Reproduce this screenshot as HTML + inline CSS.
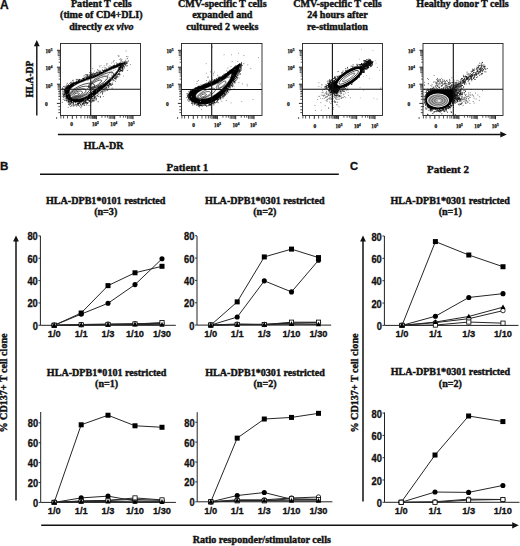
<!DOCTYPE html>
<html><head><meta charset="utf-8"><style>
html,body{margin:0;padding:0;background:#fff;width:520px;height:546px;overflow:hidden}
svg{display:block}
text{fill:#111}
.st{stroke:#111;stroke-width:0.4px}
.sn{stroke:#111;stroke-width:0.3px}
.sf{stroke:#111;stroke-width:0.25px}
</style></head><body>
<svg width="520" height="546" viewBox="0 0 520 546">
<rect width="520" height="546" fill="#fff"/>
<text x="0" y="8.6" font-size="12" font-weight="bold" font-family='"Liberation Sans", sans-serif' class="sn">A</text>
<text x="101.3" y="6.8" font-size="10.1" text-anchor="middle" font-weight="bold" font-family='"Liberation Serif", serif' class="st" >Patient T cells</text>
<text x="101.3" y="18.2" font-size="10.1" text-anchor="middle" font-weight="bold" font-family='"Liberation Serif", serif' class="st" >(time of CD4+DLI)</text>
<text x="101.3" y="29.6" font-size="10.1" text-anchor="middle" font-weight="bold" font-family='"Liberation Serif", serif' class="st" >directly <tspan font-style="italic">ex vivo</tspan></text>
<text x="222.3" y="6.8" font-size="10.1" text-anchor="middle" font-weight="bold" font-family='"Liberation Serif", serif' class="st" >CMV-specific T cells</text>
<text x="222.3" y="18.2" font-size="10.1" text-anchor="middle" font-weight="bold" font-family='"Liberation Serif", serif' class="st" >expanded and</text>
<text x="222.3" y="29.6" font-size="10.1" text-anchor="middle" font-weight="bold" font-family='"Liberation Serif", serif' class="st" >cultured 2 weeks</text>
<text x="337.5" y="6.8" font-size="10.1" text-anchor="middle" font-weight="bold" font-family='"Liberation Serif", serif' class="st" >CMV-specific T cells</text>
<text x="337.5" y="18.2" font-size="10.1" text-anchor="middle" font-weight="bold" font-family='"Liberation Serif", serif' class="st" >24 hours after</text>
<text x="337.5" y="29.6" font-size="10.1" text-anchor="middle" font-weight="bold" font-family='"Liberation Serif", serif' class="st" >re-stimulation</text>
<text x="462.5" y="6.8" font-size="10.1" text-anchor="middle" font-weight="bold" font-family='"Liberation Serif", serif' class="st" >Healthy donor T cells</text>
<line x1="36.8" y1="45.8" x2="36.8" y2="115.6" stroke="#111" stroke-width="1.4"/>
<polygon points="36.8,40.1 33.9,46.3 39.7,46.3" fill="#111"/>
<line x1="57.9" y1="134.5" x2="500.8" y2="134.5" stroke="#111" stroke-width="1.4"/>
<polygon points="506.8,134.5 500.3,131.6 500.3,137.4" fill="#111"/>
<text x="32.6" y="79" font-size="9.6" text-anchor="middle" font-weight="bold" font-family='"Liberation Serif", serif' class="st" transform="rotate(-90 32.6 79)">HLA-DP</text>
<text x="103.6" y="148.6" font-size="10.1" text-anchor="middle" font-weight="bold" font-family='"Liberation Serif", serif' class="st">HLA-DR</text>
<path d="M56.9,50.3H60.5M56.9,67.2H60.5M56.9,84.2H60.5M56.9,103.4H60.5M96.4,115.5V119.2M114.7,115.5V119.2M133,115.5V119.2M72.3,115.5V118.9" stroke="#111" stroke-width="0.9" fill="none"/>
<path d="M58.7,62.18H60.5M58.7,59.19H60.5M58.7,57.06H60.5M57.7,55.42H60.5M57.7,54.07H60.5M57.7,52.93H60.5M57.7,51.95H60.5M57.7,51.08H60.5M58.7,79.08H60.5M58.7,76.09H60.5M58.7,73.96H60.5M57.7,72.32H60.5M57.7,70.97H60.5M57.7,69.83H60.5M57.7,68.85H60.5M57.7,67.98H60.5M58.7,96.08H60.5M58.7,93.09H60.5M58.7,90.96H60.5M57.7,89.32H60.5M57.7,87.97H60.5M57.7,86.83H60.5M57.7,85.85H60.5M57.7,84.98H60.5M58.3,91.5H60.5M58.3,94H60.5M58.3,96.6H60.5M58.3,99.3H60.5M58.3,106.6H60.5M58.3,109.8H60.5M58.3,112.6H60.5M90.89,115.5V118.8M92.34,115.5V118.8M93.57,115.5V118.8M94.63,115.5V118.8M95.56,115.5V118.8M101.91,115.5V117.7M105.13,115.5V117.7M107.42,115.5V117.7M109.19,115.5V118.8M110.64,115.5V118.8M111.87,115.5V118.8M112.93,115.5V118.8M113.86,115.5V118.8M120.21,115.5V117.7M123.43,115.5V117.7M125.72,115.5V117.7M127.49,115.5V118.8M128.94,115.5V118.8M130.17,115.5V118.8M131.23,115.5V118.8M132.16,115.5V118.8M60.9,115.5V118.5M63.6,115.5V118.5M67.5,115.5V118.5M76.6,115.5V118.5M81,115.5V118.5M84.8,115.5V118.5M87.4,115.5V118.5M89.2,115.5V118.5M92.2,115.5V118.5M94.4,115.5V118.5" stroke="#2a2a2a" stroke-width="0.8" fill="none"/>
<text x="45.5" y="52.8" font-size="5.2" font-weight="bold" font-family='"Liberation Serif", serif' class="sf">10<tspan font-size="3.4" dy="-1.9">5</tspan></text>
<text x="45.5" y="69.8" font-size="5.2" font-weight="bold" font-family='"Liberation Serif", serif' class="sf">10<tspan font-size="3.4" dy="-1.9">4</tspan></text>
<text x="45.5" y="88.3" font-size="5.2" font-weight="bold" font-family='"Liberation Serif", serif' class="sf">10<tspan font-size="3.4" dy="-1.9">3</tspan></text>
<text x="46.4" y="106.1" font-size="5.4" text-anchor="middle" font-weight="bold" font-family='"Liberation Serif", serif' class="sf">0</text>
<text x="71.7" y="125.8" font-size="5.4" font-weight="bold" text-anchor="middle" font-family='"Liberation Serif", serif' class="sf">0</text>
<text x="91.9" y="125.8" font-size="5.2" font-weight="bold" font-family='"Liberation Serif", serif' class="sf">10<tspan font-size="3.4" dy="-1.9">3</tspan></text>
<text x="110.3" y="125.8" font-size="5.2" font-weight="bold" font-family='"Liberation Serif", serif' class="sf">10<tspan font-size="3.4" dy="-1.9">4</tspan></text>
<text x="127.7" y="125.8" font-size="5.2" font-weight="bold" font-family='"Liberation Serif", serif' class="sf">10<tspan font-size="3.4" dy="-1.9">5</tspan></text>
<rect x="56.1" y="117.3" width="1" height="1.4" fill="#222"/>
<g fill="#555" opacity="1.0"><rect x="88.17" y="91.21" width="0.8" height="0.8"/><rect x="66.48" y="92.54" width="0.8" height="0.8"/><rect x="68.26" y="94.02" width="0.8" height="0.8"/><rect x="92.73" y="82.62" width="0.8" height="0.8"/><rect x="91.58" y="79.71" width="0.8" height="0.8"/><rect x="72.18" y="79.91" width="0.8" height="0.8"/><rect x="90.76" y="85.22" width="0.8" height="0.8"/><rect x="70.79" y="91.25" width="0.8" height="0.8"/><rect x="76.9" y="94.14" width="0.8" height="0.8"/><rect x="115.56" y="75.05" width="0.8" height="0.8"/><rect x="99.55" y="79.44" width="0.8" height="0.8"/><rect x="72.17" y="95.17" width="0.8" height="0.8"/><rect x="102.34" y="75.45" width="0.8" height="0.8"/><rect x="96.73" y="77.9" width="0.8" height="0.8"/><rect x="111.13" y="66.24" width="0.8" height="0.8"/><rect x="91.26" y="75.44" width="0.8" height="0.8"/><rect x="105.66" y="85.53" width="0.8" height="0.8"/><rect x="66.99" y="96.24" width="0.8" height="0.8"/><rect x="73.69" y="91.08" width="0.8" height="0.8"/><rect x="105.23" y="67.45" width="0.8" height="0.8"/><rect x="114.37" y="74.21" width="0.8" height="0.8"/><rect x="96.6" y="73.73" width="0.8" height="0.8"/><rect x="118.98" y="66.35" width="0.8" height="0.8"/><rect x="110.29" y="76.98" width="0.8" height="0.8"/><rect x="110.96" y="74.24" width="0.8" height="0.8"/><rect x="78.03" y="91.5" width="0.8" height="0.8"/><rect x="64.95" y="95.98" width="0.8" height="0.8"/><rect x="79.17" y="95.23" width="0.8" height="0.8"/><rect x="73.56" y="96.71" width="0.8" height="0.8"/><rect x="120.36" y="69.89" width="0.8" height="0.8"/><rect x="103.37" y="71.68" width="0.8" height="0.8"/><rect x="115.38" y="72.59" width="0.8" height="0.8"/><rect x="94.32" y="75.8" width="0.8" height="0.8"/><rect x="76.05" y="94.27" width="0.8" height="0.8"/><rect x="74.22" y="88.93" width="0.8" height="0.8"/><rect x="85.41" y="87.46" width="0.8" height="0.8"/><rect x="78.37" y="78.81" width="0.8" height="0.8"/><rect x="100.53" y="72.54" width="0.8" height="0.8"/><rect x="113.31" y="77.25" width="0.8" height="0.8"/><rect x="116.28" y="63.92" width="0.8" height="0.8"/><rect x="87.25" y="84.44" width="0.8" height="0.8"/><rect x="104.17" y="75.78" width="0.8" height="0.8"/><rect x="80.02" y="92.99" width="0.8" height="0.8"/><rect x="71.34" y="94.27" width="0.8" height="0.8"/><rect x="71.29" y="93.51" width="0.8" height="0.8"/><rect x="115" y="65.28" width="0.8" height="0.8"/><rect x="78.44" y="91.57" width="0.8" height="0.8"/><rect x="80.47" y="79.12" width="0.8" height="0.8"/><rect x="91.34" y="80.84" width="0.8" height="0.8"/><rect x="70.2" y="95.9" width="0.8" height="0.8"/><rect x="114.53" y="69.57" width="0.8" height="0.8"/><rect x="118.94" y="64.12" width="0.8" height="0.8"/><rect x="102.34" y="79.11" width="0.8" height="0.8"/><rect x="126.79" y="57.87" width="0.8" height="0.8"/><rect x="79.53" y="89.63" width="0.8" height="0.8"/><rect x="103.97" y="68.76" width="0.8" height="0.8"/><rect x="86.35" y="94.12" width="0.8" height="0.8"/><rect x="127.48" y="56.26" width="0.8" height="0.8"/><rect x="113.28" y="65.42" width="0.8" height="0.8"/><rect x="95.43" y="79.87" width="0.8" height="0.8"/><rect x="67.05" y="98.89" width="0.8" height="0.8"/><rect x="110.36" y="71.68" width="0.8" height="0.8"/><rect x="130.28" y="64.14" width="0.8" height="0.8"/><rect x="87.68" y="87.49" width="0.8" height="0.8"/><rect x="78.99" y="96.22" width="0.8" height="0.8"/><rect x="120.68" y="61.47" width="0.8" height="0.8"/><rect x="104.39" y="72.45" width="0.8" height="0.8"/><rect x="110.21" y="69.51" width="0.8" height="0.8"/><rect x="107.02" y="71.68" width="0.8" height="0.8"/><rect x="108.21" y="77.76" width="0.8" height="0.8"/><rect x="119.14" y="67.02" width="0.8" height="0.8"/><rect x="120.53" y="61.74" width="0.8" height="0.8"/><rect x="78.42" y="100.63" width="0.8" height="0.8"/><rect x="117.32" y="76.82" width="0.8" height="0.8"/><rect x="120.81" y="59.77" width="0.8" height="0.8"/><rect x="98.28" y="78.52" width="0.8" height="0.8"/><rect x="119.43" y="59.02" width="0.8" height="0.8"/><rect x="112.73" y="69.28" width="0.8" height="0.8"/><rect x="114.66" y="72.43" width="0.8" height="0.8"/><rect x="83.31" y="92.96" width="0.8" height="0.8"/><rect x="79.19" y="88.73" width="0.8" height="0.8"/><rect x="116.09" y="70.37" width="0.8" height="0.8"/><rect x="103.28" y="73.79" width="0.8" height="0.8"/><rect x="114.3" y="65.65" width="0.8" height="0.8"/><rect x="100.64" y="79.36" width="0.8" height="0.8"/><rect x="83.79" y="90.18" width="0.8" height="0.8"/><rect x="69.66" y="91.64" width="0.8" height="0.8"/><rect x="96.05" y="83" width="0.8" height="0.8"/><rect x="98.62" y="75.36" width="0.8" height="0.8"/><rect x="98.53" y="81.54" width="0.8" height="0.8"/><rect x="105.66" y="70.2" width="0.8" height="0.8"/><rect x="113.77" y="68.09" width="0.8" height="0.8"/><rect x="96.74" y="75.58" width="0.8" height="0.8"/><rect x="101.46" y="74.96" width="0.8" height="0.8"/><rect x="99.51" y="77.44" width="0.8" height="0.8"/><rect x="119.74" y="65.7" width="0.8" height="0.8"/><rect x="105.63" y="74.2" width="0.8" height="0.8"/><rect x="77.07" y="95.21" width="0.8" height="0.8"/><rect x="70.3" y="95.55" width="0.8" height="0.8"/><rect x="106.63" y="63.49" width="0.8" height="0.8"/><rect x="73.72" y="83.72" width="0.8" height="0.8"/><rect x="82.05" y="82.49" width="0.8" height="0.8"/><rect x="82.59" y="87.27" width="0.8" height="0.8"/><rect x="101.81" y="79.32" width="0.8" height="0.8"/><rect x="70.99" y="93.18" width="0.8" height="0.8"/><rect x="86.84" y="88.94" width="0.8" height="0.8"/><rect x="112.93" y="72.94" width="0.8" height="0.8"/><rect x="95.11" y="81.97" width="0.8" height="0.8"/><rect x="100.73" y="75.27" width="0.8" height="0.8"/><rect x="125.68" y="50.53" width="0.8" height="0.8"/><rect x="71.97" y="93.96" width="0.8" height="0.8"/><rect x="110.91" y="72.91" width="0.8" height="0.8"/><rect x="96.77" y="77.18" width="0.8" height="0.8"/><rect x="86.3" y="96.51" width="0.8" height="0.8"/><rect x="98.56" y="75.11" width="0.8" height="0.8"/><rect x="67.74" y="89.23" width="0.8" height="0.8"/><rect x="75.45" y="90.93" width="0.8" height="0.8"/><rect x="119.31" y="74.49" width="0.8" height="0.8"/><rect x="72.73" y="89.63" width="0.8" height="0.8"/><rect x="77.03" y="81.07" width="0.8" height="0.8"/><rect x="84.9" y="91.6" width="0.8" height="0.8"/><rect x="81.66" y="90.02" width="0.8" height="0.8"/><rect x="69.95" y="98.46" width="0.8" height="0.8"/><rect x="83.89" y="81.8" width="0.8" height="0.8"/><rect x="96.62" y="83.65" width="0.8" height="0.8"/><rect x="67.05" y="96.28" width="0.8" height="0.8"/><rect x="106.06" y="70.79" width="0.8" height="0.8"/><rect x="95.27" y="79.39" width="0.8" height="0.8"/><rect x="109.24" y="71.39" width="0.8" height="0.8"/><rect x="110.69" y="72.16" width="0.8" height="0.8"/><rect x="109.53" y="72.8" width="0.8" height="0.8"/><rect x="112.75" y="61.69" width="0.8" height="0.8"/><rect x="88.7" y="84.01" width="0.8" height="0.8"/><rect x="79.46" y="95.25" width="0.8" height="0.8"/><rect x="81.7" y="89.36" width="0.8" height="0.8"/><rect x="118.89" y="62.82" width="0.8" height="0.8"/><rect x="82.52" y="90.86" width="0.8" height="0.8"/><rect x="95.03" y="85.38" width="0.8" height="0.8"/><rect x="91.69" y="84.12" width="0.8" height="0.8"/><rect x="98.09" y="90.92" width="0.8" height="0.8"/><rect x="83.84" y="85.97" width="0.8" height="0.8"/><rect x="83.47" y="84.34" width="0.8" height="0.8"/><rect x="77.26" y="89.35" width="0.8" height="0.8"/><rect x="84.74" y="89.98" width="0.8" height="0.8"/><rect x="71.79" y="95.22" width="0.8" height="0.8"/><rect x="75.29" y="85.17" width="0.8" height="0.8"/><rect x="106.05" y="64.6" width="0.8" height="0.8"/><rect x="114.26" y="69.83" width="0.8" height="0.8"/><rect x="126.91" y="69.98" width="0.8" height="0.8"/><rect x="110.62" y="77.35" width="0.8" height="0.8"/><rect x="113.2" y="60.73" width="0.8" height="0.8"/><rect x="116.23" y="73.87" width="0.8" height="0.8"/><rect x="98.93" y="71.58" width="0.8" height="0.8"/><rect x="106.63" y="63.4" width="0.8" height="0.8"/><rect x="104.6" y="70.08" width="0.8" height="0.8"/><rect x="70.34" y="98.48" width="0.8" height="0.8"/><rect x="74.71" y="87.05" width="0.8" height="0.8"/><rect x="98.17" y="69.9" width="0.8" height="0.8"/><rect x="101.53" y="80.04" width="0.8" height="0.8"/><rect x="104.45" y="71.19" width="0.8" height="0.8"/><rect x="110.22" y="77.54" width="0.8" height="0.8"/><rect x="83.43" y="89.45" width="0.8" height="0.8"/><rect x="110.12" y="79.81" width="0.8" height="0.8"/><rect x="118.67" y="63.99" width="0.8" height="0.8"/><rect x="91.02" y="72.39" width="0.8" height="0.8"/><rect x="100.78" y="74.07" width="0.8" height="0.8"/><rect x="74.39" y="99.38" width="0.8" height="0.8"/><rect x="83.08" y="85.63" width="0.8" height="0.8"/><rect x="68.82" y="101.41" width="0.8" height="0.8"/><rect x="104.65" y="69.46" width="0.8" height="0.8"/><rect x="91.59" y="80.19" width="0.8" height="0.8"/><rect x="74.97" y="90.02" width="0.8" height="0.8"/><rect x="123.42" y="63.36" width="0.8" height="0.8"/><rect x="97.08" y="68.97" width="0.8" height="0.8"/><rect x="91.75" y="84.58" width="0.8" height="0.8"/><rect x="122.13" y="71.19" width="0.8" height="0.8"/><rect x="64.45" y="89.46" width="0.8" height="0.8"/><rect x="75.73" y="86.23" width="0.8" height="0.8"/><rect x="116.6" y="63.26" width="0.8" height="0.8"/><rect x="117.17" y="66.47" width="0.8" height="0.8"/><rect x="61.84" y="96.17" width="0.8" height="0.8"/><rect x="85.84" y="89.59" width="0.8" height="0.8"/><rect x="84.46" y="85.32" width="0.8" height="0.8"/><rect x="110.62" y="69.08" width="0.8" height="0.8"/><rect x="117.75" y="54.95" width="0.8" height="0.8"/><rect x="80.03" y="90.03" width="0.8" height="0.8"/><rect x="120.72" y="60.53" width="0.8" height="0.8"/><rect x="90.63" y="83.43" width="0.8" height="0.8"/><rect x="73.56" y="89.11" width="0.8" height="0.8"/><rect x="120.28" y="69.06" width="0.8" height="0.8"/><rect x="97.06" y="83.63" width="0.8" height="0.8"/><rect x="126.92" y="58.37" width="0.8" height="0.8"/><rect x="110.73" y="69.03" width="0.8" height="0.8"/><rect x="97.61" y="76.31" width="0.8" height="0.8"/><rect x="102.11" y="74.37" width="0.8" height="0.8"/><rect x="103.09" y="76.28" width="0.8" height="0.8"/><rect x="122.9" y="69.47" width="0.8" height="0.8"/><rect x="83.99" y="92.49" width="0.8" height="0.8"/><rect x="122.25" y="71.07" width="0.8" height="0.8"/><rect x="79.7" y="84.31" width="0.8" height="0.8"/><rect x="77.14" y="93.38" width="0.8" height="0.8"/><rect x="115.73" y="66.17" width="0.8" height="0.8"/><rect x="122.94" y="65.97" width="0.8" height="0.8"/><rect x="74.71" y="93.43" width="0.8" height="0.8"/><rect x="88.32" y="86.72" width="0.8" height="0.8"/><rect x="73.41" y="83.05" width="0.8" height="0.8"/><rect x="105.95" y="73.95" width="0.8" height="0.8"/><rect x="93.8" y="81.88" width="0.8" height="0.8"/><rect x="67.8" y="106.86" width="0.8" height="0.8"/><rect x="67.66" y="91.7" width="0.8" height="0.8"/><rect x="116.72" y="71.41" width="0.8" height="0.8"/><rect x="76.9" y="91" width="0.8" height="0.8"/><rect x="126.05" y="56.25" width="0.8" height="0.8"/><rect x="73.43" y="96.86" width="0.8" height="0.8"/><rect x="112.7" y="67.55" width="0.8" height="0.8"/><rect x="120.47" y="58.2" width="0.8" height="0.8"/><rect x="82.2" y="89.63" width="0.8" height="0.8"/><rect x="92.35" y="67.92" width="0.8" height="0.8"/><rect x="103.77" y="65.38" width="0.8" height="0.8"/></g>
<g fill="#777" opacity="1.0"><rect x="106.61" y="70.45" width="0.8" height="0.8"/><rect x="119.46" y="74.41" width="0.8" height="0.8"/><rect x="113.34" y="69.31" width="0.8" height="0.8"/><rect x="97.01" y="69.7" width="0.8" height="0.8"/><rect x="99.67" y="80.1" width="0.8" height="0.8"/><rect x="109.92" y="70.41" width="0.8" height="0.8"/><rect x="115.39" y="68.23" width="0.8" height="0.8"/><rect x="112.53" y="69.13" width="0.8" height="0.8"/><rect x="119.52" y="62.83" width="0.8" height="0.8"/><rect x="105.7" y="73.34" width="0.8" height="0.8"/><rect x="106.52" y="74.57" width="0.8" height="0.8"/><rect x="112.57" y="68.18" width="0.8" height="0.8"/><rect x="116.93" y="65.19" width="0.8" height="0.8"/><rect x="91.24" y="83.32" width="0.8" height="0.8"/><rect x="117.21" y="73.96" width="0.8" height="0.8"/><rect x="114.76" y="65.12" width="0.8" height="0.8"/><rect x="122.52" y="68.32" width="0.8" height="0.8"/><rect x="100.9" y="82.87" width="0.8" height="0.8"/><rect x="105.94" y="72.53" width="0.8" height="0.8"/><rect x="98.98" y="80.86" width="0.8" height="0.8"/><rect x="116.49" y="65.89" width="0.8" height="0.8"/><rect x="107.56" y="83.97" width="0.8" height="0.8"/><rect x="97.99" y="77.67" width="0.8" height="0.8"/><rect x="111.2" y="66.56" width="0.8" height="0.8"/><rect x="125.02" y="65.18" width="0.8" height="0.8"/><rect x="106.43" y="83.11" width="0.8" height="0.8"/><rect x="122.44" y="66.4" width="0.8" height="0.8"/><rect x="102.67" y="75.3" width="0.8" height="0.8"/><rect x="100.59" y="76.68" width="0.8" height="0.8"/><rect x="105.68" y="72.33" width="0.8" height="0.8"/><rect x="125.65" y="64.79" width="0.8" height="0.8"/><rect x="121.56" y="59.26" width="0.8" height="0.8"/><rect x="90.34" y="79.74" width="0.8" height="0.8"/><rect x="124.43" y="65.62" width="0.8" height="0.8"/><rect x="126.03" y="62.94" width="0.8" height="0.8"/><rect x="119.71" y="62.47" width="0.8" height="0.8"/><rect x="100.45" y="83.18" width="0.8" height="0.8"/><rect x="100.61" y="65.23" width="0.8" height="0.8"/><rect x="102.3" y="84.43" width="0.8" height="0.8"/><rect x="112.55" y="74.79" width="0.8" height="0.8"/><rect x="102.71" y="74.06" width="0.8" height="0.8"/><rect x="121.99" y="61.69" width="0.8" height="0.8"/><rect x="126.6" y="61.63" width="0.8" height="0.8"/><rect x="116.52" y="67.5" width="0.8" height="0.8"/><rect x="105.12" y="77.04" width="0.8" height="0.8"/><rect x="110.78" y="68.88" width="0.8" height="0.8"/><rect x="118.82" y="55.6" width="0.8" height="0.8"/><rect x="115.84" y="62.04" width="0.8" height="0.8"/><rect x="98.91" y="79.6" width="0.8" height="0.8"/><rect x="96.59" y="85.54" width="0.8" height="0.8"/><rect x="101.25" y="75.52" width="0.8" height="0.8"/><rect x="106.29" y="80.15" width="0.8" height="0.8"/><rect x="124.78" y="62.06" width="0.8" height="0.8"/><rect x="98.24" y="81.33" width="0.8" height="0.8"/><rect x="113.72" y="66.88" width="0.8" height="0.8"/><rect x="102.36" y="67.04" width="0.8" height="0.8"/><rect x="120.39" y="59.59" width="0.8" height="0.8"/><rect x="97.7" y="74.42" width="0.8" height="0.8"/><rect x="107.27" y="73.94" width="0.8" height="0.8"/><rect x="98.81" y="79.39" width="0.8" height="0.8"/><rect x="100.65" y="73" width="0.8" height="0.8"/><rect x="94.41" y="82.02" width="0.8" height="0.8"/><rect x="109.99" y="77.98" width="0.8" height="0.8"/><rect x="115.84" y="66.81" width="0.8" height="0.8"/><rect x="110.96" y="62.68" width="0.8" height="0.8"/><rect x="125.91" y="62.65" width="0.8" height="0.8"/><rect x="99.54" y="88.85" width="0.8" height="0.8"/><rect x="114.89" y="66.49" width="0.8" height="0.8"/><rect x="118.87" y="63.77" width="0.8" height="0.8"/><rect x="120" y="63.73" width="0.8" height="0.8"/><rect x="110.48" y="65.92" width="0.8" height="0.8"/><rect x="106.03" y="74.98" width="0.8" height="0.8"/><rect x="96.54" y="71.08" width="0.8" height="0.8"/><rect x="102.03" y="76.22" width="0.8" height="0.8"/><rect x="116.26" y="70.01" width="0.8" height="0.8"/><rect x="100.15" y="70.49" width="0.8" height="0.8"/><rect x="96.97" y="81.42" width="0.8" height="0.8"/><rect x="109.72" y="67.49" width="0.8" height="0.8"/><rect x="96.36" y="72.37" width="0.8" height="0.8"/><rect x="98.57" y="84.75" width="0.8" height="0.8"/><rect x="99.61" y="72.04" width="0.8" height="0.8"/><rect x="113.93" y="60.24" width="0.8" height="0.8"/><rect x="106.21" y="79.59" width="0.8" height="0.8"/><rect x="106.46" y="76.28" width="0.8" height="0.8"/><rect x="107.94" y="67.37" width="0.8" height="0.8"/><rect x="119.99" y="63" width="0.8" height="0.8"/><rect x="87.76" y="77.65" width="0.8" height="0.8"/><rect x="127.07" y="65.14" width="0.8" height="0.8"/><rect x="102.64" y="72.51" width="0.8" height="0.8"/><rect x="93.73" y="72.97" width="0.8" height="0.8"/><rect x="89.38" y="78.31" width="0.8" height="0.8"/><rect x="125.47" y="62.88" width="0.8" height="0.8"/><rect x="128.04" y="60.35" width="0.8" height="0.8"/><rect x="96.92" y="76.94" width="0.8" height="0.8"/><rect x="117.99" y="56.16" width="0.8" height="0.8"/><rect x="98" y="73.69" width="0.8" height="0.8"/><rect x="109.5" y="64.95" width="0.8" height="0.8"/><rect x="98.92" y="80.8" width="0.8" height="0.8"/><rect x="108.27" y="71.18" width="0.8" height="0.8"/><rect x="99.23" y="65.58" width="0.8" height="0.8"/><rect x="87.95" y="76.29" width="0.8" height="0.8"/><rect x="94.22" y="77.32" width="0.8" height="0.8"/><rect x="107.71" y="66.05" width="0.8" height="0.8"/><rect x="98.36" y="76.74" width="0.8" height="0.8"/><rect x="104.41" y="67.37" width="0.8" height="0.8"/><rect x="111.71" y="72.15" width="0.8" height="0.8"/><rect x="109.19" y="77.82" width="0.8" height="0.8"/><rect x="116.39" y="65.13" width="0.8" height="0.8"/><rect x="109.52" y="72.01" width="0.8" height="0.8"/><rect x="109.81" y="74.04" width="0.8" height="0.8"/><rect x="114.16" y="71.42" width="0.8" height="0.8"/><rect x="94.17" y="70.59" width="0.8" height="0.8"/><rect x="113.3" y="71.55" width="0.8" height="0.8"/><rect x="106.65" y="71.7" width="0.8" height="0.8"/><rect x="126.82" y="62.68" width="0.8" height="0.8"/><rect x="123.14" y="75.64" width="0.8" height="0.8"/><rect x="116.23" y="67.47" width="0.8" height="0.8"/><rect x="99.54" y="66.6" width="0.8" height="0.8"/><rect x="90.74" y="84.78" width="0.8" height="0.8"/><rect x="99.63" y="74.64" width="0.8" height="0.8"/></g>
<g opacity="1.0"><rect x="84.21" y="105.07" width="0.9" height="0.9" fill="#666"/><rect x="74.73" y="82.11" width="0.9" height="0.9" fill="#111"/><rect x="86.25" y="78.07" width="0.9" height="0.9" fill="#111"/><rect x="68.34" y="85.08" width="0.9" height="0.9" fill="#111"/><rect x="69.81" y="103.49" width="0.9" height="0.9" fill="#444"/><rect x="107.96" y="85.07" width="0.9" height="0.9" fill="#111"/><rect x="68.14" y="85.26" width="0.9" height="0.9" fill="#111"/><rect x="75.66" y="81.48" width="0.9" height="0.9" fill="#111"/><rect x="100.14" y="96.75" width="0.9" height="0.9" fill="#444"/><rect x="122.48" y="61.12" width="0.9" height="0.9" fill="#666"/><rect x="81.38" y="102.2" width="0.9" height="0.9" fill="#111"/><rect x="116.9" y="64.45" width="0.9" height="0.9" fill="#111"/><rect x="102.04" y="70.17" width="0.9" height="0.9" fill="#444"/><rect x="120.1" y="68.78" width="0.9" height="0.9" fill="#111"/><rect x="71.54" y="83.79" width="0.9" height="0.9" fill="#111"/><rect x="68.58" y="85.21" width="0.9" height="0.9" fill="#111"/><rect x="124.89" y="62.64" width="0.9" height="0.9" fill="#666"/><rect x="92.73" y="98.59" width="0.9" height="0.9" fill="#111"/><rect x="104.14" y="88.4" width="0.9" height="0.9" fill="#111"/><rect x="120.53" y="70.25" width="0.9" height="0.9" fill="#111"/><rect x="78.62" y="79.93" width="0.9" height="0.9" fill="#666"/><rect x="64.11" y="89.17" width="0.9" height="0.9" fill="#666"/><rect x="95.81" y="99.67" width="0.9" height="0.9" fill="#666"/><rect x="121.71" y="65.41" width="0.9" height="0.9" fill="#111"/><rect x="70.23" y="83.94" width="0.9" height="0.9" fill="#444"/><rect x="118.31" y="63.4" width="0.9" height="0.9" fill="#666"/><rect x="64.69" y="85.8" width="0.9" height="0.9" fill="#222"/><rect x="65.32" y="87.45" width="0.9" height="0.9" fill="#222"/><rect x="63.07" y="94.98" width="0.9" height="0.9" fill="#666"/><rect x="108.58" y="86.28" width="0.9" height="0.9" fill="#111"/><rect x="120.73" y="63.1" width="0.9" height="0.9" fill="#111"/><rect x="121.77" y="69.35" width="0.9" height="0.9" fill="#222"/><rect x="123.91" y="62.72" width="0.9" height="0.9" fill="#111"/><rect x="123.97" y="62.52" width="0.9" height="0.9" fill="#111"/><rect x="107.98" y="68.29" width="0.9" height="0.9" fill="#666"/><rect x="106.37" y="69.75" width="0.9" height="0.9" fill="#111"/><rect x="71.76" y="102.11" width="0.9" height="0.9" fill="#111"/><rect x="122.26" y="67.74" width="0.9" height="0.9" fill="#111"/><rect x="90.9" y="100.73" width="0.9" height="0.9" fill="#444"/><rect x="68.19" y="84.32" width="0.9" height="0.9" fill="#666"/><rect x="71.01" y="101.08" width="0.9" height="0.9" fill="#111"/><rect x="120.4" y="62.64" width="0.9" height="0.9" fill="#222"/><rect x="66.9" y="101.59" width="0.9" height="0.9" fill="#666"/><rect x="64.9" y="88.45" width="0.9" height="0.9" fill="#111"/><rect x="119.66" y="62.92" width="0.9" height="0.9" fill="#444"/><rect x="112.68" y="79.17" width="0.9" height="0.9" fill="#111"/><rect x="88.67" y="75.89" width="0.9" height="0.9" fill="#111"/><rect x="125.55" y="62.86" width="0.9" height="0.9" fill="#666"/><rect x="100.89" y="72.1" width="0.9" height="0.9" fill="#111"/><rect x="109.78" y="67.43" width="0.9" height="0.9" fill="#111"/><rect x="63.93" y="90.02" width="0.9" height="0.9" fill="#222"/><rect x="85.84" y="102.26" width="0.9" height="0.9" fill="#111"/><rect x="119.94" y="70.55" width="0.9" height="0.9" fill="#111"/><rect x="109.31" y="83.89" width="0.9" height="0.9" fill="#111"/><rect x="67.04" y="86.27" width="0.9" height="0.9" fill="#111"/><rect x="81" y="79.4" width="0.9" height="0.9" fill="#111"/><rect x="117.85" y="73.17" width="0.9" height="0.9" fill="#111"/><rect x="89.27" y="75.35" width="0.9" height="0.9" fill="#111"/><rect x="103.42" y="70.28" width="0.9" height="0.9" fill="#111"/><rect x="64.28" y="91.39" width="0.9" height="0.9" fill="#111"/><rect x="123.71" y="62.22" width="0.9" height="0.9" fill="#111"/><rect x="81.36" y="105.63" width="0.9" height="0.9" fill="#444"/><rect x="124.17" y="62.53" width="0.9" height="0.9" fill="#111"/><rect x="83.02" y="102.73" width="0.9" height="0.9" fill="#111"/><rect x="70.48" y="83.59" width="0.9" height="0.9" fill="#222"/><rect x="83.68" y="75.21" width="0.9" height="0.9" fill="#666"/><rect x="98.72" y="73.15" width="0.9" height="0.9" fill="#111"/><rect x="80.33" y="104" width="0.9" height="0.9" fill="#666"/><rect x="85.18" y="79.03" width="0.9" height="0.9" fill="#111"/><rect x="104.4" y="70.3" width="0.9" height="0.9" fill="#111"/><rect x="78.42" y="79.97" width="0.9" height="0.9" fill="#666"/><rect x="121.2" y="63.12" width="0.9" height="0.9" fill="#111"/><rect x="80.44" y="107.28" width="0.9" height="0.9" fill="#222"/><rect x="119.21" y="71.32" width="0.9" height="0.9" fill="#111"/><rect x="68.97" y="104.66" width="0.9" height="0.9" fill="#666"/><rect x="67.78" y="84.8" width="0.9" height="0.9" fill="#666"/><rect x="67.95" y="85.02" width="0.9" height="0.9" fill="#222"/><rect x="121.98" y="67.44" width="0.9" height="0.9" fill="#111"/><rect x="96.49" y="72.15" width="0.9" height="0.9" fill="#444"/><rect x="111" y="84.73" width="0.9" height="0.9" fill="#222"/><rect x="65.57" y="87.11" width="0.9" height="0.9" fill="#666"/><rect x="63.45" y="85.98" width="0.9" height="0.9" fill="#444"/><rect x="80.61" y="104.86" width="0.9" height="0.9" fill="#444"/><rect x="118.75" y="63.38" width="0.9" height="0.9" fill="#222"/><rect x="101.5" y="90.41" width="0.9" height="0.9" fill="#111"/><rect x="121.89" y="66.85" width="0.9" height="0.9" fill="#111"/><rect x="72.07" y="81.72" width="0.9" height="0.9" fill="#666"/><rect x="86.2" y="77.65" width="0.9" height="0.9" fill="#111"/><rect x="109.29" y="67.07" width="0.9" height="0.9" fill="#666"/><rect x="78.5" y="79.66" width="0.9" height="0.9" fill="#222"/><rect x="107.24" y="89.56" width="0.9" height="0.9" fill="#444"/><rect x="90.41" y="100.23" width="0.9" height="0.9" fill="#222"/><rect x="106.99" y="85.09" width="0.9" height="0.9" fill="#111"/><rect x="95.12" y="96.73" width="0.9" height="0.9" fill="#111"/><rect x="85.18" y="101.68" width="0.9" height="0.9" fill="#111"/><rect x="120.81" y="63.84" width="0.9" height="0.9" fill="#111"/><rect x="64.6" y="97.56" width="0.9" height="0.9" fill="#222"/><rect x="82.16" y="103.12" width="0.9" height="0.9" fill="#111"/><rect x="68.37" y="99.18" width="0.9" height="0.9" fill="#111"/><rect x="63.17" y="96.46" width="0.9" height="0.9" fill="#444"/><rect x="68.86" y="102.22" width="0.9" height="0.9" fill="#222"/><rect x="122.85" y="64.58" width="0.9" height="0.9" fill="#111"/><rect x="66.06" y="88.49" width="0.9" height="0.9" fill="#111"/><rect x="109.24" y="82.41" width="0.9" height="0.9" fill="#111"/><rect x="62.4" y="89.41" width="0.9" height="0.9" fill="#222"/><rect x="103.57" y="90.07" width="0.9" height="0.9" fill="#111"/><rect x="123.4" y="63.2" width="0.9" height="0.9" fill="#111"/><rect x="125.96" y="63.23" width="0.9" height="0.9" fill="#222"/><rect x="117.39" y="63.73" width="0.9" height="0.9" fill="#222"/><rect x="62.49" y="91.13" width="0.9" height="0.9" fill="#444"/><rect x="118.13" y="63.31" width="0.9" height="0.9" fill="#666"/><rect x="96.57" y="95.67" width="0.9" height="0.9" fill="#111"/><rect x="115.36" y="76.68" width="0.9" height="0.9" fill="#111"/><rect x="94.51" y="74.14" width="0.9" height="0.9" fill="#111"/><rect x="124.04" y="63.95" width="0.9" height="0.9" fill="#666"/><rect x="99.14" y="71.88" width="0.9" height="0.9" fill="#111"/><rect x="105.64" y="68.76" width="0.9" height="0.9" fill="#222"/><rect x="115.59" y="65.79" width="0.9" height="0.9" fill="#111"/><rect x="93.06" y="72.84" width="0.9" height="0.9" fill="#444"/><rect x="113.5" y="65.06" width="0.9" height="0.9" fill="#111"/><rect x="123.64" y="63.84" width="0.9" height="0.9" fill="#111"/><rect x="94.18" y="97.84" width="0.9" height="0.9" fill="#111"/><rect x="86.85" y="103.06" width="0.9" height="0.9" fill="#222"/><rect x="127.05" y="61.46" width="0.9" height="0.9" fill="#444"/><rect x="65.25" y="87.89" width="0.9" height="0.9" fill="#111"/><rect x="118.77" y="72.74" width="0.9" height="0.9" fill="#111"/><rect x="94.23" y="74.36" width="0.9" height="0.9" fill="#111"/><rect x="74.96" y="103.93" width="0.9" height="0.9" fill="#444"/><rect x="121.9" y="63.7" width="0.9" height="0.9" fill="#111"/><rect x="116.06" y="65.27" width="0.9" height="0.9" fill="#111"/><rect x="114.87" y="80.87" width="0.9" height="0.9" fill="#444"/><rect x="68.86" y="100.16" width="0.9" height="0.9" fill="#111"/><rect x="72.88" y="101.69" width="0.9" height="0.9" fill="#111"/><rect x="71.01" y="105.31" width="0.9" height="0.9" fill="#222"/><rect x="72.88" y="104" width="0.9" height="0.9" fill="#666"/><rect x="104.62" y="90.55" width="0.9" height="0.9" fill="#444"/><rect x="100.26" y="91.66" width="0.9" height="0.9" fill="#111"/><rect x="68.26" y="101.11" width="0.9" height="0.9" fill="#111"/><rect x="97.31" y="72.19" width="0.9" height="0.9" fill="#444"/><rect x="111.1" y="66.91" width="0.9" height="0.9" fill="#111"/><rect x="101.73" y="91.91" width="0.9" height="0.9" fill="#111"/><rect x="114.15" y="77.89" width="0.9" height="0.9" fill="#111"/><rect x="77.9" y="104" width="0.9" height="0.9" fill="#222"/><rect x="64.13" y="93.63" width="0.9" height="0.9" fill="#111"/><rect x="118.93" y="63.92" width="0.9" height="0.9" fill="#222"/><rect x="122.13" y="69.8" width="0.9" height="0.9" fill="#222"/><rect x="69.86" y="85.5" width="0.9" height="0.9" fill="#111"/><rect x="86.91" y="77.26" width="0.9" height="0.9" fill="#111"/><rect x="70.72" y="81.75" width="0.9" height="0.9" fill="#222"/><rect x="117.19" y="64.63" width="0.9" height="0.9" fill="#111"/><rect x="91.58" y="100.54" width="0.9" height="0.9" fill="#444"/><rect x="117.01" y="76.3" width="0.9" height="0.9" fill="#444"/><rect x="65.87" y="99.55" width="0.9" height="0.9" fill="#111"/><rect x="91.73" y="74.24" width="0.9" height="0.9" fill="#111"/><rect x="75.97" y="80.81" width="0.9" height="0.9" fill="#444"/><rect x="92.88" y="72.68" width="0.9" height="0.9" fill="#444"/><rect x="121.44" y="62.92" width="0.9" height="0.9" fill="#111"/><rect x="122.01" y="66.45" width="0.9" height="0.9" fill="#111"/><rect x="85.63" y="77.13" width="0.9" height="0.9" fill="#111"/><rect x="79.67" y="102.32" width="0.9" height="0.9" fill="#111"/><rect x="64.63" y="90.22" width="0.9" height="0.9" fill="#111"/><rect x="104.92" y="69.7" width="0.9" height="0.9" fill="#666"/><rect x="80.18" y="80.84" width="0.9" height="0.9" fill="#111"/><rect x="85.76" y="102.34" width="0.9" height="0.9" fill="#111"/><rect x="102.92" y="71.7" width="0.9" height="0.9" fill="#111"/><rect x="90.4" y="75.95" width="0.9" height="0.9" fill="#111"/><rect x="62.92" y="96.7" width="0.9" height="0.9" fill="#444"/><rect x="78.13" y="103.03" width="0.9" height="0.9" fill="#111"/><rect x="89.68" y="74.74" width="0.9" height="0.9" fill="#111"/><rect x="108.5" y="67.93" width="0.9" height="0.9" fill="#444"/><rect x="88.76" y="74.47" width="0.9" height="0.9" fill="#222"/><rect x="125.02" y="61.51" width="0.9" height="0.9" fill="#666"/><rect x="115.04" y="66.05" width="0.9" height="0.9" fill="#111"/><rect x="112.64" y="66.42" width="0.9" height="0.9" fill="#111"/><rect x="63.04" y="85.99" width="0.9" height="0.9" fill="#666"/><rect x="122.33" y="68.77" width="0.9" height="0.9" fill="#666"/><rect x="111.43" y="66.97" width="0.9" height="0.9" fill="#111"/><rect x="73.52" y="104.66" width="0.9" height="0.9" fill="#222"/><rect x="93.1" y="100.2" width="0.9" height="0.9" fill="#222"/><rect x="72.29" y="83.11" width="0.9" height="0.9" fill="#111"/><rect x="109.81" y="83.04" width="0.9" height="0.9" fill="#111"/><rect x="118.5" y="64.4" width="0.9" height="0.9" fill="#111"/><rect x="69.35" y="83.06" width="0.9" height="0.9" fill="#222"/><rect x="87.51" y="101.99" width="0.9" height="0.9" fill="#222"/><rect x="103.36" y="70.1" width="0.9" height="0.9" fill="#111"/><rect x="115.04" y="78.6" width="0.9" height="0.9" fill="#222"/><rect x="125.09" y="64.26" width="0.9" height="0.9" fill="#222"/><rect x="66.21" y="100.1" width="0.9" height="0.9" fill="#444"/><rect x="119.03" y="74.25" width="0.9" height="0.9" fill="#666"/><rect x="91.34" y="73.75" width="0.9" height="0.9" fill="#444"/><rect x="121.63" y="67.64" width="0.9" height="0.9" fill="#111"/><rect x="122.52" y="62.62" width="0.9" height="0.9" fill="#111"/><rect x="89.08" y="100.32" width="0.9" height="0.9" fill="#111"/><rect x="126.57" y="62.79" width="0.9" height="0.9" fill="#666"/><rect x="109.06" y="82.9" width="0.9" height="0.9" fill="#111"/><rect x="70.64" y="84.04" width="0.9" height="0.9" fill="#111"/><rect x="126.43" y="65.5" width="0.9" height="0.9" fill="#222"/><rect x="88.78" y="101.32" width="0.9" height="0.9" fill="#666"/><rect x="91.13" y="73.74" width="0.9" height="0.9" fill="#666"/><rect x="106.36" y="87.57" width="0.9" height="0.9" fill="#111"/><rect x="72" y="83.48" width="0.9" height="0.9" fill="#111"/><rect x="122.08" y="69.63" width="0.9" height="0.9" fill="#444"/><rect x="70.3" y="82.21" width="0.9" height="0.9" fill="#222"/><rect x="73.39" y="82.15" width="0.9" height="0.9" fill="#111"/><rect x="81.52" y="80.08" width="0.9" height="0.9" fill="#111"/><rect x="88.87" y="100.83" width="0.9" height="0.9" fill="#111"/><rect x="69.94" y="101.56" width="0.9" height="0.9" fill="#111"/><rect x="95.36" y="73.52" width="0.9" height="0.9" fill="#111"/><rect x="77.64" y="80.31" width="0.9" height="0.9" fill="#666"/><rect x="92.48" y="100.74" width="0.9" height="0.9" fill="#666"/><rect x="95.45" y="72.67" width="0.9" height="0.9" fill="#111"/><rect x="77.76" y="103.21" width="0.9" height="0.9" fill="#111"/><rect x="65.34" y="87.59" width="0.9" height="0.9" fill="#111"/><rect x="66.73" y="99.81" width="0.9" height="0.9" fill="#111"/><rect x="74.4" y="104.62" width="0.9" height="0.9" fill="#444"/><rect x="87.6" y="77.5" width="0.9" height="0.9" fill="#111"/><rect x="72.69" y="105.52" width="0.9" height="0.9" fill="#222"/><rect x="62.84" y="95.24" width="0.9" height="0.9" fill="#222"/><rect x="125.47" y="61.84" width="0.9" height="0.9" fill="#666"/><rect x="121.76" y="68.13" width="0.9" height="0.9" fill="#111"/><rect x="80.25" y="103.88" width="0.9" height="0.9" fill="#111"/><rect x="108.84" y="67.37" width="0.9" height="0.9" fill="#444"/><rect x="126.31" y="63.11" width="0.9" height="0.9" fill="#444"/><rect x="122.36" y="68.44" width="0.9" height="0.9" fill="#666"/><rect x="112.31" y="66.23" width="0.9" height="0.9" fill="#222"/><rect x="128.01" y="60.6" width="0.9" height="0.9" fill="#666"/><rect x="80.75" y="105.53" width="0.9" height="0.9" fill="#444"/><rect x="90.47" y="75.38" width="0.9" height="0.9" fill="#111"/><rect x="116.77" y="74.64" width="0.9" height="0.9" fill="#111"/><rect x="65.18" y="91.93" width="0.9" height="0.9" fill="#111"/><rect x="75.49" y="104.35" width="0.9" height="0.9" fill="#666"/><rect x="113.49" y="79.86" width="0.9" height="0.9" fill="#111"/><rect x="93.57" y="74.65" width="0.9" height="0.9" fill="#111"/><rect x="104.12" y="70.97" width="0.9" height="0.9" fill="#111"/><rect x="95.52" y="97.41" width="0.9" height="0.9" fill="#666"/><rect x="62.52" y="94.13" width="0.9" height="0.9" fill="#222"/><rect x="64.12" y="86.62" width="0.9" height="0.9" fill="#666"/><rect x="68.33" y="104.12" width="0.9" height="0.9" fill="#222"/><rect x="85.44" y="100.97" width="0.9" height="0.9" fill="#111"/><rect x="88.47" y="76.12" width="0.9" height="0.9" fill="#111"/><rect x="66.53" y="89.35" width="0.9" height="0.9" fill="#111"/><rect x="73.46" y="105.45" width="0.9" height="0.9" fill="#444"/><rect x="90.65" y="98.63" width="0.9" height="0.9" fill="#111"/><rect x="117.7" y="64.48" width="0.9" height="0.9" fill="#111"/><rect x="103.24" y="71.31" width="0.9" height="0.9" fill="#111"/><rect x="83.59" y="102.18" width="0.9" height="0.9" fill="#111"/><rect x="79.48" y="79.23" width="0.9" height="0.9" fill="#111"/><rect x="96.35" y="72.28" width="0.9" height="0.9" fill="#111"/><rect x="110.81" y="83.65" width="0.9" height="0.9" fill="#111"/><rect x="87.12" y="75.68" width="0.9" height="0.9" fill="#111"/><rect x="124.33" y="61.89" width="0.9" height="0.9" fill="#111"/><rect x="88.57" y="104.99" width="0.9" height="0.9" fill="#666"/><rect x="88.62" y="100.1" width="0.9" height="0.9" fill="#111"/><rect x="100.08" y="72.34" width="0.9" height="0.9" fill="#111"/><rect x="71.23" y="101.84" width="0.9" height="0.9" fill="#111"/><rect x="84.37" y="77.21" width="0.9" height="0.9" fill="#111"/><rect x="106.64" y="68" width="0.9" height="0.9" fill="#666"/><rect x="64.12" y="89" width="0.9" height="0.9" fill="#444"/><rect x="64.86" y="90.02" width="0.9" height="0.9" fill="#111"/><rect x="90.63" y="73.9" width="0.9" height="0.9" fill="#666"/><rect x="68.47" y="103.9" width="0.9" height="0.9" fill="#444"/><rect x="70.38" y="101.19" width="0.9" height="0.9" fill="#111"/><rect x="66.06" y="87.01" width="0.9" height="0.9" fill="#111"/><rect x="86.13" y="74.18" width="0.9" height="0.9" fill="#666"/><rect x="116.83" y="63.58" width="0.9" height="0.9" fill="#444"/><rect x="99.85" y="96.54" width="0.9" height="0.9" fill="#444"/><rect x="123.25" y="63.32" width="0.9" height="0.9" fill="#111"/><rect x="116.55" y="76.25" width="0.9" height="0.9" fill="#222"/><rect x="113.64" y="65.57" width="0.9" height="0.9" fill="#111"/><rect x="75.97" y="105.83" width="0.9" height="0.9" fill="#666"/><rect x="110.3" y="66.98" width="0.9" height="0.9" fill="#666"/><rect x="122.97" y="64.77" width="0.9" height="0.9" fill="#111"/><rect x="75.82" y="78.92" width="0.9" height="0.9" fill="#222"/><rect x="105.21" y="87.76" width="0.9" height="0.9" fill="#111"/><rect x="121.3" y="66.86" width="0.9" height="0.9" fill="#111"/><rect x="113.91" y="63.69" width="0.9" height="0.9" fill="#666"/><rect x="94.59" y="95.58" width="0.9" height="0.9" fill="#111"/><rect x="122.88" y="66.16" width="0.9" height="0.9" fill="#111"/><rect x="93.33" y="75.07" width="0.9" height="0.9" fill="#111"/><rect x="83.49" y="76.58" width="0.9" height="0.9" fill="#444"/><rect x="82.59" y="78.47" width="0.9" height="0.9" fill="#111"/><rect x="66.96" y="85.39" width="0.9" height="0.9" fill="#222"/><rect x="87.23" y="74.83" width="0.9" height="0.9" fill="#222"/><rect x="91.21" y="98.15" width="0.9" height="0.9" fill="#111"/><rect x="65.57" y="98.31" width="0.9" height="0.9" fill="#111"/><rect x="78.31" y="80.78" width="0.9" height="0.9" fill="#111"/><rect x="109.63" y="66.67" width="0.9" height="0.9" fill="#222"/><rect x="112.49" y="65.62" width="0.9" height="0.9" fill="#222"/><rect x="63.9" y="90.44" width="0.9" height="0.9" fill="#222"/><rect x="64.72" y="91.25" width="0.9" height="0.9" fill="#111"/><rect x="66.38" y="100.55" width="0.9" height="0.9" fill="#111"/><rect x="74.51" y="81.91" width="0.9" height="0.9" fill="#666"/><rect x="76.58" y="103.7" width="0.9" height="0.9" fill="#444"/><rect x="119.32" y="70.87" width="0.9" height="0.9" fill="#111"/><rect x="90.06" y="75.67" width="0.9" height="0.9" fill="#111"/><rect x="92.18" y="98.6" width="0.9" height="0.9" fill="#111"/><rect x="120.41" y="69.38" width="0.9" height="0.9" fill="#111"/><rect x="103.33" y="91.36" width="0.9" height="0.9" fill="#222"/><rect x="83.94" y="78.22" width="0.9" height="0.9" fill="#111"/><rect x="68.12" y="100.94" width="0.9" height="0.9" fill="#111"/><rect x="102.89" y="96.17" width="0.9" height="0.9" fill="#666"/><rect x="118.06" y="73.87" width="0.9" height="0.9" fill="#111"/><rect x="65.75" y="96.28" width="0.9" height="0.9" fill="#111"/><rect x="124.08" y="66.46" width="0.9" height="0.9" fill="#666"/><rect x="118.86" y="63.77" width="0.9" height="0.9" fill="#111"/><rect x="116.03" y="78.44" width="0.9" height="0.9" fill="#666"/><rect x="72.43" y="83.64" width="0.9" height="0.9" fill="#111"/><rect x="108.45" y="84.28" width="0.9" height="0.9" fill="#111"/><rect x="122.53" y="67.29" width="0.9" height="0.9" fill="#111"/><rect x="73.77" y="83.39" width="0.9" height="0.9" fill="#111"/><rect x="115.95" y="76.8" width="0.9" height="0.9" fill="#111"/><rect x="102.12" y="93.59" width="0.9" height="0.9" fill="#222"/><rect x="123.73" y="62.62" width="0.9" height="0.9" fill="#111"/><rect x="83.12" y="78.29" width="0.9" height="0.9" fill="#111"/><rect x="109.96" y="67.63" width="0.9" height="0.9" fill="#111"/><rect x="120.17" y="63.77" width="0.9" height="0.9" fill="#111"/><rect x="102.19" y="69.92" width="0.9" height="0.9" fill="#666"/><rect x="99.76" y="71.46" width="0.9" height="0.9" fill="#666"/><rect x="65.92" y="96.66" width="0.9" height="0.9" fill="#111"/><rect x="102.05" y="90.71" width="0.9" height="0.9" fill="#111"/><rect x="113.01" y="66.22" width="0.9" height="0.9" fill="#111"/><rect x="113.07" y="65.8" width="0.9" height="0.9" fill="#111"/><rect x="72.78" y="79.82" width="0.9" height="0.9" fill="#444"/><rect x="104.23" y="69.93" width="0.9" height="0.9" fill="#111"/><rect x="63.46" y="92.42" width="0.9" height="0.9" fill="#666"/><rect x="62.45" y="88.06" width="0.9" height="0.9" fill="#222"/><rect x="93.29" y="98.69" width="0.9" height="0.9" fill="#666"/><rect x="120.86" y="70.52" width="0.9" height="0.9" fill="#444"/><rect x="71.29" y="103.45" width="0.9" height="0.9" fill="#444"/><rect x="93.29" y="74.24" width="0.9" height="0.9" fill="#111"/><rect x="69.87" y="101.02" width="0.9" height="0.9" fill="#111"/><rect x="63.71" y="96.14" width="0.9" height="0.9" fill="#444"/><rect x="118.37" y="73.11" width="0.9" height="0.9" fill="#666"/><rect x="66.68" y="85.97" width="0.9" height="0.9" fill="#222"/><rect x="111.9" y="66.55" width="0.9" height="0.9" fill="#111"/><rect x="114.46" y="76.82" width="0.9" height="0.9" fill="#111"/><rect x="68.2" y="84.46" width="0.9" height="0.9" fill="#666"/><rect x="68.28" y="100.3" width="0.9" height="0.9" fill="#111"/><rect x="109.89" y="84.62" width="0.9" height="0.9" fill="#111"/><rect x="94.35" y="99.65" width="0.9" height="0.9" fill="#444"/><rect x="98.61" y="69.99" width="0.9" height="0.9" fill="#666"/><rect x="65.2" y="91.99" width="0.9" height="0.9" fill="#111"/><rect x="63.84" y="89.16" width="0.9" height="0.9" fill="#222"/><rect x="117.48" y="74.25" width="0.9" height="0.9" fill="#111"/><rect x="69.77" y="103.4" width="0.9" height="0.9" fill="#222"/><rect x="92.28" y="100.51" width="0.9" height="0.9" fill="#666"/><rect x="119.03" y="63.15" width="0.9" height="0.9" fill="#111"/><rect x="86.4" y="101.93" width="0.9" height="0.9" fill="#111"/><rect x="120.63" y="67.46" width="0.9" height="0.9" fill="#111"/><rect x="106.68" y="69.4" width="0.9" height="0.9" fill="#111"/><rect x="97.28" y="73.42" width="0.9" height="0.9" fill="#111"/><rect x="124.41" y="61.69" width="0.9" height="0.9" fill="#666"/><rect x="92.64" y="97.38" width="0.9" height="0.9" fill="#111"/><rect x="118.3" y="64.31" width="0.9" height="0.9" fill="#111"/><rect x="121.62" y="70.1" width="0.9" height="0.9" fill="#666"/><rect x="63.79" y="93.83" width="0.9" height="0.9" fill="#111"/><rect x="63.97" y="94.49" width="0.9" height="0.9" fill="#111"/><rect x="70.58" y="100.93" width="0.9" height="0.9" fill="#111"/><rect x="119.19" y="73.91" width="0.9" height="0.9" fill="#666"/><rect x="62.08" y="87.39" width="0.9" height="0.9" fill="#666"/><rect x="62.46" y="91.76" width="0.9" height="0.9" fill="#666"/><rect x="68.56" y="84.89" width="0.9" height="0.9" fill="#111"/><rect x="123.99" y="63.08" width="0.9" height="0.9" fill="#111"/><rect x="105.1" y="69.99" width="0.9" height="0.9" fill="#111"/><rect x="108.29" y="85.54" width="0.9" height="0.9" fill="#111"/><rect x="92.02" y="76.01" width="0.9" height="0.9" fill="#111"/><rect x="85.86" y="76.55" width="0.9" height="0.9" fill="#222"/><rect x="125.9" y="61.56" width="0.9" height="0.9" fill="#222"/><rect x="62.68" y="98.77" width="0.9" height="0.9" fill="#444"/><rect x="66.41" y="98.37" width="0.9" height="0.9" fill="#111"/><rect x="77.42" y="102.78" width="0.9" height="0.9" fill="#111"/><rect x="79.62" y="102.65" width="0.9" height="0.9" fill="#111"/><rect x="81.78" y="103.4" width="0.9" height="0.9" fill="#222"/><rect x="97.68" y="101.32" width="0.9" height="0.9" fill="#222"/><rect x="65.4" y="89.06" width="0.9" height="0.9" fill="#111"/><rect x="121.1" y="70.04" width="0.9" height="0.9" fill="#222"/><rect x="66.34" y="97.91" width="0.9" height="0.9" fill="#111"/><rect x="63.66" y="91.41" width="0.9" height="0.9" fill="#222"/><rect x="90.75" y="73.54" width="0.9" height="0.9" fill="#666"/><rect x="69.96" y="104" width="0.9" height="0.9" fill="#666"/><rect x="77.29" y="102.92" width="0.9" height="0.9" fill="#111"/><rect x="123.04" y="62.51" width="0.9" height="0.9" fill="#111"/><rect x="83.98" y="100.86" width="0.9" height="0.9" fill="#111"/><rect x="104.05" y="70.21" width="0.9" height="0.9" fill="#111"/><rect x="78.7" y="102.63" width="0.9" height="0.9" fill="#111"/><rect x="102.94" y="70.77" width="0.9" height="0.9" fill="#222"/><rect x="68.48" y="103.19" width="0.9" height="0.9" fill="#666"/><rect x="89.33" y="72.17" width="0.9" height="0.9" fill="#222"/><rect x="96.81" y="95.04" width="0.9" height="0.9" fill="#111"/><rect x="117.51" y="63.1" width="0.9" height="0.9" fill="#666"/><rect x="84.37" y="103.08" width="0.9" height="0.9" fill="#444"/><rect x="76.91" y="104.12" width="0.9" height="0.9" fill="#444"/><rect x="91.51" y="75.54" width="0.9" height="0.9" fill="#111"/><rect x="121.37" y="69.99" width="0.9" height="0.9" fill="#111"/><rect x="104.37" y="70.64" width="0.9" height="0.9" fill="#111"/><rect x="105.78" y="86.82" width="0.9" height="0.9" fill="#111"/><rect x="63.86" y="96" width="0.9" height="0.9" fill="#444"/><rect x="114.5" y="78.02" width="0.9" height="0.9" fill="#111"/><rect x="69.9" y="105.94" width="0.9" height="0.9" fill="#444"/><rect x="108.69" y="67.48" width="0.9" height="0.9" fill="#666"/><rect x="67.07" y="85.6" width="0.9" height="0.9" fill="#666"/><rect x="66.47" y="84.89" width="0.9" height="0.9" fill="#444"/><rect x="98.36" y="93.63" width="0.9" height="0.9" fill="#111"/><rect x="86.44" y="102.65" width="0.9" height="0.9" fill="#111"/><rect x="125.09" y="62.75" width="0.9" height="0.9" fill="#222"/><rect x="79.2" y="102.02" width="0.9" height="0.9" fill="#111"/><rect x="68.66" y="101.13" width="0.9" height="0.9" fill="#111"/><rect x="65.18" y="92.71" width="0.9" height="0.9" fill="#111"/><rect x="94.5" y="96.08" width="0.9" height="0.9" fill="#111"/><rect x="93.63" y="98.43" width="0.9" height="0.9" fill="#444"/><rect x="73.22" y="101.77" width="0.9" height="0.9" fill="#111"/><rect x="65.29" y="91.12" width="0.9" height="0.9" fill="#111"/><rect x="73.12" y="81.7" width="0.9" height="0.9" fill="#222"/><rect x="84.65" y="102.27" width="0.9" height="0.9" fill="#111"/><rect x="113.49" y="66.95" width="0.9" height="0.9" fill="#111"/><rect x="83.36" y="101.6" width="0.9" height="0.9" fill="#111"/><rect x="76.95" y="104.21" width="0.9" height="0.9" fill="#666"/><rect x="64.47" y="99.8" width="0.9" height="0.9" fill="#222"/><rect x="87.34" y="102.72" width="0.9" height="0.9" fill="#222"/><rect x="100.64" y="72.3" width="0.9" height="0.9" fill="#111"/><rect x="79.06" y="105.72" width="0.9" height="0.9" fill="#666"/><rect x="120.11" y="63.62" width="0.9" height="0.9" fill="#111"/><rect x="111.84" y="66.8" width="0.9" height="0.9" fill="#111"/><rect x="110.58" y="67.2" width="0.9" height="0.9" fill="#111"/><rect x="101.57" y="72.04" width="0.9" height="0.9" fill="#111"/><rect x="78.13" y="80.04" width="0.9" height="0.9" fill="#111"/><rect x="83.36" y="102.61" width="0.9" height="0.9" fill="#111"/><rect x="63.98" y="94.57" width="0.9" height="0.9" fill="#111"/><rect x="104.72" y="87.46" width="0.9" height="0.9" fill="#111"/><rect x="108.09" y="86.84" width="0.9" height="0.9" fill="#111"/><rect x="63.9" y="89.6" width="0.9" height="0.9" fill="#222"/><rect x="98.75" y="71.21" width="0.9" height="0.9" fill="#444"/><rect x="95.11" y="98.62" width="0.9" height="0.9" fill="#666"/><rect x="111.9" y="84.13" width="0.9" height="0.9" fill="#222"/><rect x="84.83" y="101.14" width="0.9" height="0.9" fill="#111"/><rect x="79.26" y="80.83" width="0.9" height="0.9" fill="#111"/><rect x="87.37" y="99.63" width="0.9" height="0.9" fill="#111"/><rect x="122.01" y="67.6" width="0.9" height="0.9" fill="#111"/><rect x="122.25" y="69.59" width="0.9" height="0.9" fill="#222"/><rect x="65.21" y="91.42" width="0.9" height="0.9" fill="#111"/><rect x="78.79" y="79.38" width="0.9" height="0.9" fill="#111"/><rect x="72.46" y="83.93" width="0.9" height="0.9" fill="#111"/><rect x="77.41" y="105.13" width="0.9" height="0.9" fill="#444"/><rect x="70.76" y="84.34" width="0.9" height="0.9" fill="#111"/><rect x="95.33" y="75.11" width="0.9" height="0.9" fill="#111"/><rect x="71.42" y="82.45" width="0.9" height="0.9" fill="#666"/><rect x="65.29" y="89.37" width="0.9" height="0.9" fill="#111"/><rect x="80.79" y="101.46" width="0.9" height="0.9" fill="#111"/><rect x="61.82" y="101.88" width="0.9" height="0.9" fill="#444"/><rect x="93.15" y="100.36" width="0.9" height="0.9" fill="#222"/><rect x="79.03" y="79.19" width="0.9" height="0.9" fill="#111"/><rect x="95.35" y="73.11" width="0.9" height="0.9" fill="#222"/><rect x="119.42" y="73.77" width="0.9" height="0.9" fill="#222"/><rect x="65.71" y="88.1" width="0.9" height="0.9" fill="#111"/><rect x="74.96" y="82.86" width="0.9" height="0.9" fill="#111"/><rect x="107.21" y="85.48" width="0.9" height="0.9" fill="#111"/><rect x="86.54" y="76.96" width="0.9" height="0.9" fill="#111"/><rect x="122.49" y="64.89" width="0.9" height="0.9" fill="#111"/><rect x="108.72" y="68.72" width="0.9" height="0.9" fill="#111"/><rect x="64.27" y="93.51" width="0.9" height="0.9" fill="#111"/><rect x="62.08" y="89.28" width="0.9" height="0.9" fill="#666"/><rect x="106.18" y="88.65" width="0.9" height="0.9" fill="#666"/><rect x="114.79" y="65.17" width="0.9" height="0.9" fill="#111"/><rect x="91.7" y="75.01" width="0.9" height="0.9" fill="#111"/><rect x="66.04" y="84.63" width="0.9" height="0.9" fill="#666"/><rect x="78.75" y="80.96" width="0.9" height="0.9" fill="#111"/><rect x="91.97" y="73.06" width="0.9" height="0.9" fill="#666"/><rect x="103.95" y="70.73" width="0.9" height="0.9" fill="#111"/><rect x="124.01" y="67.5" width="0.9" height="0.9" fill="#444"/><rect x="104.5" y="70.91" width="0.9" height="0.9" fill="#111"/><rect x="65.7" y="89.1" width="0.9" height="0.9" fill="#111"/><rect x="82.55" y="103.66" width="0.9" height="0.9" fill="#222"/><rect x="101.33" y="90.99" width="0.9" height="0.9" fill="#111"/><rect x="71.43" y="83.02" width="0.9" height="0.9" fill="#111"/><rect x="120.94" y="63.36" width="0.9" height="0.9" fill="#666"/><rect x="121.69" y="67.53" width="0.9" height="0.9" fill="#111"/><rect x="68.08" y="102.15" width="0.9" height="0.9" fill="#444"/><rect x="91.96" y="100.18" width="0.9" height="0.9" fill="#111"/><rect x="114.34" y="65.37" width="0.9" height="0.9" fill="#111"/><rect x="126.15" y="61.86" width="0.9" height="0.9" fill="#666"/><rect x="108.37" y="84.88" width="0.9" height="0.9" fill="#111"/><rect x="75.36" y="82.31" width="0.9" height="0.9" fill="#111"/><rect x="93.94" y="100.48" width="0.9" height="0.9" fill="#444"/><rect x="124.63" y="63.98" width="0.9" height="0.9" fill="#111"/><rect x="78.5" y="102.72" width="0.9" height="0.9" fill="#111"/><rect x="82.12" y="104.22" width="0.9" height="0.9" fill="#222"/><rect x="99.46" y="71.17" width="0.9" height="0.9" fill="#666"/><rect x="83.19" y="78.93" width="0.9" height="0.9" fill="#111"/><rect x="116.88" y="64.6" width="0.9" height="0.9" fill="#111"/><rect x="108.99" y="83.7" width="0.9" height="0.9" fill="#111"/><rect x="116.13" y="64.29" width="0.9" height="0.9" fill="#111"/><rect x="89.31" y="75.79" width="0.9" height="0.9" fill="#111"/><rect x="72.9" y="103.14" width="0.9" height="0.9" fill="#111"/><rect x="85.21" y="74.31" width="0.9" height="0.9" fill="#222"/><rect x="73.64" y="82.38" width="0.9" height="0.9" fill="#111"/><rect x="109.93" y="84.21" width="0.9" height="0.9" fill="#111"/><rect x="90.48" y="73.65" width="0.9" height="0.9" fill="#444"/><rect x="64.53" y="88.19" width="0.9" height="0.9" fill="#666"/><rect x="78.37" y="102.37" width="0.9" height="0.9" fill="#111"/><rect x="123.88" y="62.72" width="0.9" height="0.9" fill="#111"/><rect x="106.15" y="86.67" width="0.9" height="0.9" fill="#111"/><rect x="84.63" y="102.74" width="0.9" height="0.9" fill="#444"/><rect x="97.94" y="71.83" width="0.9" height="0.9" fill="#666"/><rect x="124.43" y="61.84" width="0.9" height="0.9" fill="#111"/><rect x="104.68" y="90.19" width="0.9" height="0.9" fill="#666"/><rect x="75.34" y="102.14" width="0.9" height="0.9" fill="#111"/><rect x="67.55" y="85.66" width="0.9" height="0.9" fill="#111"/><rect x="97.59" y="71.77" width="0.9" height="0.9" fill="#444"/><rect x="97.32" y="93.4" width="0.9" height="0.9" fill="#111"/><rect x="70.68" y="101.5" width="0.9" height="0.9" fill="#111"/><rect x="91.52" y="98.19" width="0.9" height="0.9" fill="#111"/><rect x="72.79" y="103.18" width="0.9" height="0.9" fill="#222"/><rect x="75.96" y="80.74" width="0.9" height="0.9" fill="#111"/><rect x="63.21" y="93.6" width="0.9" height="0.9" fill="#111"/><rect x="109.42" y="83.46" width="0.9" height="0.9" fill="#111"/><rect x="74.92" y="102.33" width="0.9" height="0.9" fill="#111"/><rect x="66.34" y="86" width="0.9" height="0.9" fill="#666"/><rect x="67.42" y="98.5" width="0.9" height="0.9" fill="#111"/><rect x="107.21" y="89.82" width="0.9" height="0.9" fill="#444"/><rect x="85.21" y="76.43" width="0.9" height="0.9" fill="#666"/><rect x="101.81" y="69.45" width="0.9" height="0.9" fill="#444"/><rect x="95.79" y="97.89" width="0.9" height="0.9" fill="#222"/><rect x="112.25" y="83.77" width="0.9" height="0.9" fill="#666"/><rect x="106.25" y="67.97" width="0.9" height="0.9" fill="#666"/><rect x="70.89" y="83.61" width="0.9" height="0.9" fill="#222"/><rect x="97.24" y="72.6" width="0.9" height="0.9" fill="#111"/><rect x="100.29" y="71.21" width="0.9" height="0.9" fill="#444"/><rect x="93.97" y="73.1" width="0.9" height="0.9" fill="#444"/><rect x="107.58" y="68.96" width="0.9" height="0.9" fill="#444"/><rect x="103.13" y="71.11" width="0.9" height="0.9" fill="#111"/><rect x="109.3" y="68.22" width="0.9" height="0.9" fill="#111"/><rect x="121.46" y="63.21" width="0.9" height="0.9" fill="#111"/><rect x="98.02" y="95.92" width="0.9" height="0.9" fill="#444"/><rect x="101.5" y="72.09" width="0.9" height="0.9" fill="#111"/><rect x="65.94" y="95.4" width="0.9" height="0.9" fill="#111"/><rect x="115.65" y="77.61" width="0.9" height="0.9" fill="#222"/><rect x="99.8" y="95.77" width="0.9" height="0.9" fill="#222"/><rect x="72.21" y="104.48" width="0.9" height="0.9" fill="#666"/><rect x="114.4" y="65.11" width="0.9" height="0.9" fill="#111"/><rect x="94.02" y="96.95" width="0.9" height="0.9" fill="#111"/><rect x="119.08" y="71.17" width="0.9" height="0.9" fill="#111"/><rect x="83.03" y="78" width="0.9" height="0.9" fill="#111"/><rect x="78.38" y="81.31" width="0.9" height="0.9" fill="#111"/><rect x="62.3" y="93.1" width="0.9" height="0.9" fill="#666"/><rect x="120.3" y="70.03" width="0.9" height="0.9" fill="#111"/><rect x="122.67" y="65.32" width="0.9" height="0.9" fill="#111"/><rect x="115.38" y="76.34" width="0.9" height="0.9" fill="#111"/><rect x="68.08" y="99.75" width="0.9" height="0.9" fill="#111"/><rect x="103.43" y="70.81" width="0.9" height="0.9" fill="#111"/><rect x="106.52" y="69.24" width="0.9" height="0.9" fill="#111"/><rect x="91.69" y="74.07" width="0.9" height="0.9" fill="#111"/><rect x="117.45" y="64.32" width="0.9" height="0.9" fill="#111"/><rect x="99.75" y="92.45" width="0.9" height="0.9" fill="#111"/><rect x="97.21" y="72.53" width="0.9" height="0.9" fill="#666"/><rect x="69.69" y="103.33" width="0.9" height="0.9" fill="#222"/><rect x="118.39" y="76.39" width="0.9" height="0.9" fill="#666"/><rect x="111.94" y="82.57" width="0.9" height="0.9" fill="#444"/><rect x="77.28" y="102.81" width="0.9" height="0.9" fill="#111"/><rect x="77" y="79.32" width="0.9" height="0.9" fill="#222"/><rect x="116.28" y="75.84" width="0.9" height="0.9" fill="#444"/><rect x="122.92" y="64.72" width="0.9" height="0.9" fill="#111"/><rect x="93.94" y="97.42" width="0.9" height="0.9" fill="#111"/><rect x="71.55" y="101.64" width="0.9" height="0.9" fill="#111"/><rect x="66.79" y="82.83" width="0.9" height="0.9" fill="#222"/><rect x="77.81" y="81.47" width="0.9" height="0.9" fill="#111"/><rect x="71.59" y="83.84" width="0.9" height="0.9" fill="#111"/><rect x="115.48" y="75.3" width="0.9" height="0.9" fill="#111"/><rect x="100.48" y="71.63" width="0.9" height="0.9" fill="#111"/><rect x="91.72" y="74.77" width="0.9" height="0.9" fill="#111"/><rect x="76.17" y="104.41" width="0.9" height="0.9" fill="#666"/><rect x="125.56" y="62.45" width="0.9" height="0.9" fill="#222"/><rect x="113.34" y="66.47" width="0.9" height="0.9" fill="#111"/><rect x="120.16" y="64.16" width="0.9" height="0.9" fill="#111"/><rect x="82.25" y="78.3" width="0.9" height="0.9" fill="#111"/><rect x="85.22" y="101.82" width="0.9" height="0.9" fill="#111"/><rect x="107.08" y="69.85" width="0.9" height="0.9" fill="#111"/><rect x="103.75" y="70.86" width="0.9" height="0.9" fill="#111"/><rect x="118.51" y="73.29" width="0.9" height="0.9" fill="#111"/><rect x="111.67" y="66.35" width="0.9" height="0.9" fill="#111"/><rect x="83.73" y="103.93" width="0.9" height="0.9" fill="#666"/><rect x="105.73" y="69.34" width="0.9" height="0.9" fill="#111"/><rect x="82.36" y="104.11" width="0.9" height="0.9" fill="#444"/><rect x="86.51" y="102.19" width="0.9" height="0.9" fill="#444"/><rect x="104.9" y="69.58" width="0.9" height="0.9" fill="#666"/><rect x="96.06" y="98.65" width="0.9" height="0.9" fill="#222"/><rect x="125.31" y="59.7" width="0.9" height="0.9" fill="#444"/><rect x="64.8" y="92.28" width="0.9" height="0.9" fill="#111"/><rect x="90.09" y="74.77" width="0.9" height="0.9" fill="#111"/><rect x="122.49" y="65.76" width="0.9" height="0.9" fill="#111"/><rect x="113.64" y="66.76" width="0.9" height="0.9" fill="#111"/><rect x="83.71" y="104.79" width="0.9" height="0.9" fill="#222"/><rect x="65.56" y="91.89" width="0.9" height="0.9" fill="#111"/><rect x="82.94" y="102.77" width="0.9" height="0.9" fill="#111"/><rect x="65.16" y="91.23" width="0.9" height="0.9" fill="#111"/><rect x="124.61" y="61.94" width="0.9" height="0.9" fill="#666"/><rect x="112.67" y="80.27" width="0.9" height="0.9" fill="#444"/><rect x="65.62" y="87.74" width="0.9" height="0.9" fill="#111"/><rect x="106.36" y="89.73" width="0.9" height="0.9" fill="#666"/><rect x="62.01" y="88.15" width="0.9" height="0.9" fill="#666"/><rect x="87.28" y="75.79" width="0.9" height="0.9" fill="#111"/><rect x="87.76" y="99.92" width="0.9" height="0.9" fill="#111"/><rect x="78.53" y="80.72" width="0.9" height="0.9" fill="#111"/><rect x="119.18" y="64.24" width="0.9" height="0.9" fill="#111"/><rect x="64.87" y="90.73" width="0.9" height="0.9" fill="#111"/><rect x="99.15" y="72.17" width="0.9" height="0.9" fill="#111"/><rect x="116.72" y="65.11" width="0.9" height="0.9" fill="#111"/><rect x="90.71" y="74.26" width="0.9" height="0.9" fill="#111"/><rect x="66.59" y="86.08" width="0.9" height="0.9" fill="#222"/><rect x="87.27" y="74.21" width="0.9" height="0.9" fill="#222"/><rect x="75.79" y="104.63" width="0.9" height="0.9" fill="#444"/><rect x="124.45" y="61.07" width="0.9" height="0.9" fill="#444"/><rect x="91.26" y="101.73" width="0.9" height="0.9" fill="#222"/><rect x="71.25" y="102.36" width="0.9" height="0.9" fill="#111"/><rect x="102.96" y="71.21" width="0.9" height="0.9" fill="#111"/><rect x="70.06" y="84.55" width="0.9" height="0.9" fill="#111"/><rect x="114.78" y="77.87" width="0.9" height="0.9" fill="#111"/><rect x="70.3" y="102.85" width="0.9" height="0.9" fill="#444"/><rect x="82.61" y="78.74" width="0.9" height="0.9" fill="#111"/><rect x="89.46" y="101.07" width="0.9" height="0.9" fill="#444"/><rect x="64.44" y="99.73" width="0.9" height="0.9" fill="#444"/><rect x="86.04" y="75.65" width="0.9" height="0.9" fill="#666"/><rect x="115.95" y="64.34" width="0.9" height="0.9" fill="#666"/><rect x="94.04" y="73.25" width="0.9" height="0.9" fill="#444"/><rect x="123.77" y="66.07" width="0.9" height="0.9" fill="#666"/><rect x="109.47" y="68.57" width="0.9" height="0.9" fill="#111"/><rect x="64.19" y="92.43" width="0.9" height="0.9" fill="#111"/><rect x="71.12" y="101.62" width="0.9" height="0.9" fill="#111"/><rect x="68.21" y="100.8" width="0.9" height="0.9" fill="#111"/><rect x="78.79" y="80.98" width="0.9" height="0.9" fill="#111"/><rect x="86.25" y="104.51" width="0.9" height="0.9" fill="#222"/><rect x="78.34" y="104.84" width="0.9" height="0.9" fill="#222"/><rect x="124.19" y="62.19" width="0.9" height="0.9" fill="#111"/><rect x="93.69" y="95.79" width="0.9" height="0.9" fill="#111"/><rect x="78.68" y="103.03" width="0.9" height="0.9" fill="#111"/><rect x="111.89" y="79.19" width="0.9" height="0.9" fill="#111"/><rect x="89.31" y="100.22" width="0.9" height="0.9" fill="#111"/><rect x="70.51" y="83.95" width="0.9" height="0.9" fill="#111"/><rect x="115.31" y="66.25" width="0.9" height="0.9" fill="#111"/><rect x="66.04" y="87.64" width="0.9" height="0.9" fill="#111"/><rect x="77.22" y="103.37" width="0.9" height="0.9" fill="#111"/><rect x="102.01" y="93.11" width="0.9" height="0.9" fill="#444"/><rect x="103.16" y="88.94" width="0.9" height="0.9" fill="#111"/><rect x="66.65" y="86.2" width="0.9" height="0.9" fill="#111"/><rect x="68.82" y="103.71" width="0.9" height="0.9" fill="#666"/><rect x="116.36" y="63.73" width="0.9" height="0.9" fill="#444"/><rect x="65.79" y="96.73" width="0.9" height="0.9" fill="#111"/><rect x="86.62" y="74.92" width="0.9" height="0.9" fill="#222"/><rect x="111.69" y="87.71" width="0.9" height="0.9" fill="#222"/><rect x="69" y="101.36" width="0.9" height="0.9" fill="#222"/><rect x="123.32" y="65.51" width="0.9" height="0.9" fill="#222"/></g>
<path d="M123.2,62.8 C122.6,62.18 119.22,64.13 117.2,64.9 C115.18,65.67 113.23,66.42 111.1,67.4 C108.97,68.38 106.63,69.7 104.4,70.8 C102.17,71.9 99.93,73.08 97.7,74 C95.47,74.92 93.25,75.48 91,76.3 C88.75,77.12 86.45,78.02 84.2,78.9 C81.95,79.78 79.73,80.68 77.5,81.6 C75.27,82.52 72.62,83.37 70.8,84.4 C68.98,85.43 67.53,86.42 66.6,87.8 C65.67,89.18 65.22,91 65.2,92.7 C65.18,94.4 65.4,96.55 66.5,98 C67.6,99.45 69.75,100.7 71.8,101.4 C73.85,102.1 76.5,102.28 78.8,102.2 C81.1,102.12 83.57,101.57 85.6,100.9 C87.63,100.23 89.22,99.32 91,98.2 C92.78,97.08 94.3,95.77 96.3,94.2 C98.3,92.63 100.75,90.8 103,88.8 C105.25,86.8 107.55,84.6 109.8,82.2 C112.05,79.8 114.67,76.67 116.5,74.4 C118.33,72.13 119.68,70.53 120.8,68.6 C121.92,66.67 123.8,63.42 123.2,62.8 Z" fill="#000"/>
<g><rect x="96.69" y="76.4" width="0.7" height="0.7" fill="#555"/><rect x="110.5" y="78.32" width="0.7" height="0.7" fill="#fff"/><rect x="96.22" y="91.39" width="0.7" height="0.7" fill="#777"/><rect x="66.89" y="94.26" width="0.7" height="0.7" fill="#bbb"/><rect x="92.37" y="94.9" width="0.7" height="0.7" fill="#fff"/><rect x="108.75" y="82.55" width="0.7" height="0.7" fill="#777"/><rect x="117.51" y="70.86" width="0.7" height="0.7" fill="#777"/><rect x="92.05" y="76.15" width="0.7" height="0.7" fill="#777"/><rect x="103.42" y="87.38" width="0.7" height="0.7" fill="#555"/><rect x="103.97" y="71.54" width="0.7" height="0.7" fill="#777"/><rect x="96.23" y="93.52" width="0.7" height="0.7" fill="#777"/><rect x="69.18" y="92.38" width="0.7" height="0.7" fill="#777"/><rect x="121.08" y="64.82" width="0.7" height="0.7" fill="#777"/><rect x="95.94" y="90.39" width="0.7" height="0.7" fill="#777"/><rect x="74.71" y="83.76" width="0.7" height="0.7" fill="#555"/><rect x="109.57" y="79.58" width="0.7" height="0.7" fill="#777"/><rect x="86.22" y="97.91" width="0.7" height="0.7" fill="#555"/><rect x="100.23" y="74.18" width="0.7" height="0.7" fill="#555"/><rect x="94.94" y="94.88" width="0.7" height="0.7" fill="#bbb"/><rect x="94.46" y="75.64" width="0.7" height="0.7" fill="#555"/><rect x="113.9" y="68.06" width="0.7" height="0.7" fill="#777"/><rect x="91.98" y="92.31" width="0.7" height="0.7" fill="#bbb"/><rect x="68.25" y="96.68" width="0.7" height="0.7" fill="#555"/><rect x="85.63" y="98.83" width="0.7" height="0.7" fill="#fff"/><rect x="119.13" y="70.75" width="0.7" height="0.7" fill="#777"/><rect x="87.12" y="95.57" width="0.7" height="0.7" fill="#bbb"/><rect x="97.18" y="92.73" width="0.7" height="0.7" fill="#777"/><rect x="106.53" y="71.28" width="0.7" height="0.7" fill="#555"/><rect x="111.8" y="79.5" width="0.7" height="0.7" fill="#777"/><rect x="68.34" y="93.29" width="0.7" height="0.7" fill="#777"/><rect x="85.88" y="79.98" width="0.7" height="0.7" fill="#777"/><rect x="97.34" y="88.91" width="0.7" height="0.7" fill="#fff"/><rect x="120.26" y="68.53" width="0.7" height="0.7" fill="#777"/><rect x="74.27" y="84.55" width="0.7" height="0.7" fill="#bbb"/><rect x="84.06" y="99.76" width="0.7" height="0.7" fill="#fff"/><rect x="111.92" y="68.59" width="0.7" height="0.7" fill="#bbb"/><rect x="72.28" y="101.07" width="0.7" height="0.7" fill="#fff"/><rect x="118.67" y="66.33" width="0.7" height="0.7" fill="#bbb"/><rect x="90.4" y="78.2" width="0.7" height="0.7" fill="#777"/><rect x="66.62" y="89.33" width="0.7" height="0.7" fill="#bbb"/><rect x="101.93" y="88.81" width="0.7" height="0.7" fill="#bbb"/><rect x="111.49" y="79.12" width="0.7" height="0.7" fill="#bbb"/><rect x="98.25" y="91.5" width="0.7" height="0.7" fill="#555"/><rect x="102.46" y="84.86" width="0.7" height="0.7" fill="#777"/><rect x="118.73" y="66.07" width="0.7" height="0.7" fill="#fff"/></g>
<path d="M118.6,67.2 C118.25,66.82 116.75,67.5 115.5,67.9 C114.25,68.3 113.12,68.72 111.1,69.6 C109.08,70.48 105.97,71.97 103.4,73.2 C100.83,74.43 97.98,76.03 95.7,77 C93.42,77.97 91.48,78.37 89.7,79 C87.92,79.63 87.05,79.98 85,80.8 C82.95,81.62 79.67,82.72 77.4,83.9 C75.13,85.08 72.73,86.5 71.4,87.9 C70.07,89.3 69.47,90.75 69.4,92.3 C69.33,93.85 70.07,96.08 71,97.2 C71.93,98.32 73.3,98.82 75,99 C76.7,99.18 79.13,98.9 81.2,98.3 C83.27,97.7 85.47,96.62 87.4,95.4 C89.33,94.18 90.88,92.5 92.8,91 C94.72,89.5 96.95,87.63 98.9,86.4 C100.85,85.17 102.65,84.9 104.5,83.6 C106.35,82.3 108.32,80.2 110,78.6 C111.68,77 113.33,75.4 114.6,74 C115.87,72.6 116.93,71.33 117.6,70.2 C118.27,69.07 118.95,67.58 118.6,67.2 Z" fill="#fff" stroke="#222" stroke-width="0.45"/>
<clipPath id="c156325"><path d="M118.6,67.2 C118.25,66.82 116.75,67.5 115.5,67.9 C114.25,68.3 113.12,68.72 111.1,69.6 C109.08,70.48 105.97,71.97 103.4,73.2 C100.83,74.43 97.98,76.03 95.7,77 C93.42,77.97 91.48,78.37 89.7,79 C87.92,79.63 87.05,79.98 85,80.8 C82.95,81.62 79.67,82.72 77.4,83.9 C75.13,85.08 72.73,86.5 71.4,87.9 C70.07,89.3 69.47,90.75 69.4,92.3 C69.33,93.85 70.07,96.08 71,97.2 C71.93,98.32 73.3,98.82 75,99 C76.7,99.18 79.13,98.9 81.2,98.3 C83.27,97.7 85.47,96.62 87.4,95.4 C89.33,94.18 90.88,92.5 92.8,91 C94.72,89.5 96.95,87.63 98.9,86.4 C100.85,85.17 102.65,84.9 104.5,83.6 C106.35,82.3 108.32,80.2 110,78.6 C111.68,77 113.33,75.4 114.6,74 C115.87,72.6 116.93,71.33 117.6,70.2 C118.27,69.07 118.95,67.58 118.6,67.2 Z"/></clipPath>
<g clip-path="url(#c156325)" fill="none" stroke="#111" stroke-width="0.65"><ellipse cx="76.5" cy="94.4" rx="3" ry="1.2" transform="rotate(-18 76.5 94.4)"/><ellipse cx="77.2" cy="93.9" rx="5.6" ry="2.3" transform="rotate(-20 77.2 93.9)"/><ellipse cx="78.2" cy="93.2" rx="8.4" ry="3.3" transform="rotate(-22 78.2 93.2)"/><ellipse cx="79.6" cy="92.3" rx="11.4" ry="4.4" transform="rotate(-24 79.6 92.3)"/><ellipse cx="81.2" cy="91.2" rx="14.6" ry="5.5" transform="rotate(-26 81.2 91.2)"/><ellipse cx="96" cy="83.6" rx="6.5" ry="1.9" transform="rotate(-30 96 83.6)"/><ellipse cx="98.5" cy="82" rx="10.5" ry="3.1" transform="rotate(-30 98.5 82)"/><ellipse cx="101" cy="80.4" rx="14.5" ry="4.3" transform="rotate(-30 101 80.4)"/></g>
<g><rect x="102.75" y="82.92" width="0.8" height="0.8" fill="#555"/><rect x="88.88" y="84.65" width="0.8" height="0.8" fill="#555"/><rect x="106" y="76.45" width="0.8" height="0.8" fill="#999"/><rect x="100.81" y="74.84" width="0.8" height="0.8" fill="#555"/><rect x="102.3" y="83.32" width="0.8" height="0.8" fill="#555"/><rect x="111.81" y="70.94" width="0.8" height="0.8" fill="#999"/><rect x="100.08" y="79.72" width="0.8" height="0.8" fill="#999"/><rect x="111.03" y="76.95" width="0.8" height="0.8" fill="#777"/><rect x="107.02" y="75.04" width="0.8" height="0.8" fill="#555"/><rect x="94.57" y="78.15" width="0.8" height="0.8" fill="#777"/><rect x="101.48" y="83.25" width="0.8" height="0.8" fill="#999"/><rect x="95.6" y="86.16" width="0.8" height="0.8" fill="#999"/><rect x="111.93" y="72" width="0.8" height="0.8" fill="#555"/><rect x="93.3" y="87.75" width="0.8" height="0.8" fill="#999"/><rect x="107.54" y="77.54" width="0.8" height="0.8" fill="#999"/><rect x="91.3" y="82.41" width="0.8" height="0.8" fill="#999"/><rect x="96.5" y="87.35" width="0.8" height="0.8" fill="#555"/><rect x="111.42" y="73.63" width="0.8" height="0.8" fill="#777"/><rect x="106.77" y="79.51" width="0.8" height="0.8" fill="#999"/><rect x="108.95" y="77.54" width="0.8" height="0.8" fill="#999"/><rect x="92.53" y="89" width="0.8" height="0.8" fill="#999"/><rect x="108.11" y="74.65" width="0.8" height="0.8" fill="#999"/><rect x="105.36" y="76.09" width="0.8" height="0.8" fill="#555"/><rect x="91.91" y="85.97" width="0.8" height="0.8" fill="#555"/><rect x="86.89" y="80.32" width="0.8" height="0.8" fill="#999"/><rect x="110.63" y="72.49" width="0.8" height="0.8" fill="#555"/><rect x="103.53" y="75.24" width="0.8" height="0.8" fill="#777"/><rect x="104.96" y="79.45" width="0.8" height="0.8" fill="#777"/><rect x="101.29" y="84" width="0.8" height="0.8" fill="#999"/><rect x="93.81" y="84.16" width="0.8" height="0.8" fill="#555"/><rect x="105.44" y="76.3" width="0.8" height="0.8" fill="#777"/><rect x="111.25" y="71.34" width="0.8" height="0.8" fill="#999"/><rect x="87.24" y="88.2" width="0.8" height="0.8" fill="#555"/><rect x="107.41" y="76.17" width="0.8" height="0.8" fill="#777"/><rect x="88.45" y="84.7" width="0.8" height="0.8" fill="#777"/><rect x="91.17" y="81" width="0.8" height="0.8" fill="#555"/><rect x="110.69" y="70.59" width="0.8" height="0.8" fill="#777"/><rect x="91.55" y="82.07" width="0.8" height="0.8" fill="#777"/><rect x="107.83" y="73.92" width="0.8" height="0.8" fill="#555"/><rect x="99.22" y="82.52" width="0.8" height="0.8" fill="#777"/><rect x="94.68" y="81.08" width="0.8" height="0.8" fill="#777"/><rect x="102.58" y="77.72" width="0.8" height="0.8" fill="#555"/><rect x="89.27" y="88.2" width="0.8" height="0.8" fill="#999"/><rect x="112.69" y="73.01" width="0.8" height="0.8" fill="#999"/><rect x="90.19" y="82.46" width="0.8" height="0.8" fill="#999"/><rect x="92.1" y="89.64" width="0.8" height="0.8" fill="#999"/><rect x="87.49" y="83.17" width="0.8" height="0.8" fill="#555"/><rect x="87.77" y="79.99" width="0.8" height="0.8" fill="#999"/><rect x="113.31" y="69.88" width="0.8" height="0.8" fill="#777"/><rect x="89.02" y="83.43" width="0.8" height="0.8" fill="#555"/><rect x="96.5" y="87.81" width="0.8" height="0.8" fill="#999"/><rect x="92.49" y="78.45" width="0.8" height="0.8" fill="#777"/><rect x="97.71" y="79.42" width="0.8" height="0.8" fill="#555"/><rect x="106.44" y="81.83" width="0.8" height="0.8" fill="#555"/><rect x="102.63" y="76.05" width="0.8" height="0.8" fill="#999"/><rect x="106.74" y="76.7" width="0.8" height="0.8" fill="#777"/><rect x="99.27" y="83.01" width="0.8" height="0.8" fill="#777"/><rect x="101.92" y="83.55" width="0.8" height="0.8" fill="#555"/><rect x="109.41" y="76.92" width="0.8" height="0.8" fill="#555"/><rect x="108.89" y="72.55" width="0.8" height="0.8" fill="#555"/><rect x="100.44" y="80.6" width="0.8" height="0.8" fill="#999"/><rect x="114.65" y="73.33" width="0.8" height="0.8" fill="#555"/><rect x="97.23" y="77.33" width="0.8" height="0.8" fill="#999"/><rect x="102.09" y="74.86" width="0.8" height="0.8" fill="#777"/><rect x="91.08" y="81.39" width="0.8" height="0.8" fill="#999"/><rect x="96.94" y="86.44" width="0.8" height="0.8" fill="#555"/><rect x="111.5" y="74.99" width="0.8" height="0.8" fill="#555"/><rect x="109.65" y="70.96" width="0.8" height="0.8" fill="#999"/><rect x="93.7" y="80.06" width="0.8" height="0.8" fill="#999"/><rect x="115.11" y="68.91" width="0.8" height="0.8" fill="#999"/></g>
<rect x="60.5" y="43.5" width="80" height="72" fill="none" stroke="#222" stroke-width="0.9"/>
<path d="M90.7,43.5V115.5M60.5,89.3H140.5" stroke="#111" stroke-width="1.1"/>
<path d="M177.9,50.3H181.5M177.9,67.2H181.5M177.9,84.2H181.5M177.9,103.4H181.5M217.4,115.5V119.2M235.7,115.5V119.2M254,115.5V119.2M193.3,115.5V118.9" stroke="#111" stroke-width="0.9" fill="none"/>
<path d="M179.7,62.18H181.5M179.7,59.19H181.5M179.7,57.06H181.5M178.7,55.42H181.5M178.7,54.07H181.5M178.7,52.93H181.5M178.7,51.95H181.5M178.7,51.08H181.5M179.7,79.08H181.5M179.7,76.09H181.5M179.7,73.96H181.5M178.7,72.32H181.5M178.7,70.97H181.5M178.7,69.83H181.5M178.7,68.85H181.5M178.7,67.98H181.5M179.7,96.08H181.5M179.7,93.09H181.5M179.7,90.96H181.5M178.7,89.32H181.5M178.7,87.97H181.5M178.7,86.83H181.5M178.7,85.85H181.5M178.7,84.98H181.5M179.3,91.5H181.5M179.3,94H181.5M179.3,96.6H181.5M179.3,99.3H181.5M179.3,106.6H181.5M179.3,109.8H181.5M179.3,112.6H181.5M211.89,115.5V118.8M213.34,115.5V118.8M214.57,115.5V118.8M215.63,115.5V118.8M216.56,115.5V118.8M222.91,115.5V117.7M226.13,115.5V117.7M228.42,115.5V117.7M230.19,115.5V118.8M231.64,115.5V118.8M232.87,115.5V118.8M233.93,115.5V118.8M234.86,115.5V118.8M241.21,115.5V117.7M244.43,115.5V117.7M246.72,115.5V117.7M248.49,115.5V118.8M249.94,115.5V118.8M251.17,115.5V118.8M252.23,115.5V118.8M253.16,115.5V118.8M181.9,115.5V118.5M184.6,115.5V118.5M188.5,115.5V118.5M197.6,115.5V118.5M202,115.5V118.5M205.8,115.5V118.5M208.4,115.5V118.5M210.2,115.5V118.5M213.2,115.5V118.5M215.4,115.5V118.5" stroke="#2a2a2a" stroke-width="0.8" fill="none"/>
<text x="166.5" y="52.8" font-size="5.2" font-weight="bold" font-family='"Liberation Serif", serif' class="sf">10<tspan font-size="3.4" dy="-1.9">5</tspan></text>
<text x="166.5" y="69.8" font-size="5.2" font-weight="bold" font-family='"Liberation Serif", serif' class="sf">10<tspan font-size="3.4" dy="-1.9">4</tspan></text>
<text x="166.5" y="88.3" font-size="5.2" font-weight="bold" font-family='"Liberation Serif", serif' class="sf">10<tspan font-size="3.4" dy="-1.9">3</tspan></text>
<text x="167.4" y="106.1" font-size="5.4" text-anchor="middle" font-weight="bold" font-family='"Liberation Serif", serif' class="sf">0</text>
<text x="193.6" y="127.2" font-size="5.4" font-weight="bold" text-anchor="middle" font-family='"Liberation Serif", serif' class="sf">0</text>
<text x="214.1" y="127.2" font-size="5.2" font-weight="bold" font-family='"Liberation Serif", serif' class="sf">10<tspan font-size="3.4" dy="-1.9">3</tspan></text>
<text x="232.5" y="127.2" font-size="5.2" font-weight="bold" font-family='"Liberation Serif", serif' class="sf">10<tspan font-size="3.4" dy="-1.9">4</tspan></text>
<text x="249.9" y="127.2" font-size="5.2" font-weight="bold" font-family='"Liberation Serif", serif' class="sf">10<tspan font-size="3.4" dy="-1.9">5</tspan></text>
<rect x="177.1" y="117.3" width="1" height="1.4" fill="#222"/>
<g fill="#555" opacity="1.0"><rect x="207.04" y="76.69" width="0.8" height="0.8"/><rect x="226.53" y="83.55" width="0.8" height="0.8"/><rect x="206.37" y="89.47" width="0.8" height="0.8"/><rect x="259.93" y="83.55" width="0.8" height="0.8"/><rect x="211.47" y="83.1" width="0.8" height="0.8"/><rect x="225.9" y="78.93" width="0.8" height="0.8"/><rect x="240.86" y="65.22" width="0.8" height="0.8"/><rect x="217.24" y="74.8" width="0.8" height="0.8"/><rect x="194.31" y="97.3" width="0.8" height="0.8"/><rect x="231.72" y="61.12" width="0.8" height="0.8"/><rect x="215.63" y="87.88" width="0.8" height="0.8"/><rect x="200.02" y="105.21" width="0.8" height="0.8"/><rect x="222.28" y="81.63" width="0.8" height="0.8"/><rect x="220.51" y="81.65" width="0.8" height="0.8"/><rect x="205.79" y="96.35" width="0.8" height="0.8"/><rect x="213.01" y="81.7" width="0.8" height="0.8"/><rect x="213.89" y="71.65" width="0.8" height="0.8"/><rect x="196.16" y="89.3" width="0.8" height="0.8"/><rect x="218.54" y="79.65" width="0.8" height="0.8"/><rect x="239.3" y="74.31" width="0.8" height="0.8"/><rect x="223.54" y="74.02" width="0.8" height="0.8"/><rect x="206.1" y="90.33" width="0.8" height="0.8"/><rect x="196.51" y="83.36" width="0.8" height="0.8"/><rect x="206.62" y="98.78" width="0.8" height="0.8"/><rect x="198.38" y="94.79" width="0.8" height="0.8"/><rect x="211.45" y="86.92" width="0.8" height="0.8"/><rect x="227.55" y="67.64" width="0.8" height="0.8"/><rect x="218.66" y="96.87" width="0.8" height="0.8"/><rect x="223.49" y="74.53" width="0.8" height="0.8"/><rect x="240.19" y="74.01" width="0.8" height="0.8"/><rect x="243.5" y="55.25" width="0.8" height="0.8"/><rect x="217.76" y="81.01" width="0.8" height="0.8"/><rect x="197.93" y="80.07" width="0.8" height="0.8"/><rect x="206.9" y="83.83" width="0.8" height="0.8"/><rect x="232.67" y="85.02" width="0.8" height="0.8"/><rect x="208.7" y="84.24" width="0.8" height="0.8"/><rect x="218.79" y="77.62" width="0.8" height="0.8"/><rect x="208.16" y="76.68" width="0.8" height="0.8"/><rect x="230.62" y="66.27" width="0.8" height="0.8"/><rect x="194.89" y="93.66" width="0.8" height="0.8"/><rect x="226.3" y="70.39" width="0.8" height="0.8"/><rect x="232.44" y="78.74" width="0.8" height="0.8"/><rect x="238.46" y="82.24" width="0.8" height="0.8"/><rect x="213.96" y="85.37" width="0.8" height="0.8"/><rect x="233.55" y="88.53" width="0.8" height="0.8"/><rect x="208.74" y="81.12" width="0.8" height="0.8"/><rect x="201.68" y="89.05" width="0.8" height="0.8"/><rect x="237.41" y="60.95" width="0.8" height="0.8"/><rect x="246.79" y="85.5" width="0.8" height="0.8"/><rect x="219.89" y="86.02" width="0.8" height="0.8"/><rect x="207.44" y="97.92" width="0.8" height="0.8"/><rect x="204.78" y="96.99" width="0.8" height="0.8"/><rect x="223.66" y="78.28" width="0.8" height="0.8"/><rect x="250.38" y="68.35" width="0.8" height="0.8"/><rect x="235.68" y="89.06" width="0.8" height="0.8"/><rect x="239.03" y="64.96" width="0.8" height="0.8"/><rect x="207.94" y="87.66" width="0.8" height="0.8"/><rect x="231.2" y="73.23" width="0.8" height="0.8"/><rect x="221.48" y="77.17" width="0.8" height="0.8"/><rect x="225.83" y="100.23" width="0.8" height="0.8"/><rect x="210.04" y="71.48" width="0.8" height="0.8"/><rect x="206.25" y="80.01" width="0.8" height="0.8"/><rect x="210.87" y="107.72" width="0.8" height="0.8"/><rect x="207.01" y="83.37" width="0.8" height="0.8"/><rect x="196.72" y="80.98" width="0.8" height="0.8"/><rect x="240.19" y="73.02" width="0.8" height="0.8"/><rect x="212.96" y="72.93" width="0.8" height="0.8"/><rect x="213.33" y="82.1" width="0.8" height="0.8"/><rect x="237.33" y="69.12" width="0.8" height="0.8"/><rect x="241.89" y="83.52" width="0.8" height="0.8"/></g>
<g fill="#777" opacity="1.0"><rect x="221.55" y="100.87" width="0.8" height="0.8"/><rect x="205.76" y="63.32" width="0.8" height="0.8"/><rect x="238.77" y="77.77" width="0.8" height="0.8"/><rect x="222.99" y="84.51" width="0.8" height="0.8"/><rect x="213.28" y="74.62" width="0.8" height="0.8"/><rect x="200.12" y="99.91" width="0.8" height="0.8"/><rect x="215.49" y="102.15" width="0.8" height="0.8"/><rect x="233.68" y="86.11" width="0.8" height="0.8"/><rect x="238.19" y="52.78" width="0.8" height="0.8"/><rect x="247.41" y="64.44" width="0.8" height="0.8"/><rect x="252.63" y="99.05" width="0.8" height="0.8"/><rect x="241.37" y="101.06" width="0.8" height="0.8"/><rect x="226.64" y="91.13" width="0.8" height="0.8"/><rect x="258.12" y="57.24" width="0.8" height="0.8"/><rect x="206.14" y="72.84" width="0.8" height="0.8"/><rect x="231.08" y="54.44" width="0.8" height="0.8"/><rect x="213.49" y="104.66" width="0.8" height="0.8"/><rect x="223.67" y="54.42" width="0.8" height="0.8"/><rect x="211.16" y="84.42" width="0.8" height="0.8"/><rect x="211.59" y="77.25" width="0.8" height="0.8"/><rect x="232.8" y="74.78" width="0.8" height="0.8"/><rect x="230.73" y="102.58" width="0.8" height="0.8"/><rect x="201.02" y="109.1" width="0.8" height="0.8"/><rect x="212.15" y="46.68" width="0.8" height="0.8"/><rect x="246.82" y="83.9" width="0.8" height="0.8"/></g>
<g opacity="1.0"><rect x="240.95" y="66.81" width="0.9" height="0.9" fill="#666"/><rect x="200.47" y="84.54" width="0.9" height="0.9" fill="#222"/><rect x="202.65" y="84.43" width="0.9" height="0.9" fill="#111"/><rect x="234.21" y="66.43" width="0.9" height="0.9" fill="#222"/><rect x="189.26" y="94.3" width="0.9" height="0.9" fill="#111"/><rect x="217.23" y="99.82" width="0.9" height="0.9" fill="#111"/><rect x="197.35" y="104.5" width="0.9" height="0.9" fill="#444"/><rect x="233.01" y="68.11" width="0.9" height="0.9" fill="#111"/><rect x="239.67" y="68.2" width="0.9" height="0.9" fill="#111"/><rect x="227.38" y="90.14" width="0.9" height="0.9" fill="#111"/><rect x="231.74" y="85.16" width="0.9" height="0.9" fill="#222"/><rect x="241.15" y="68.73" width="0.9" height="0.9" fill="#666"/><rect x="238.99" y="72.37" width="0.9" height="0.9" fill="#111"/><rect x="239.27" y="63.73" width="0.9" height="0.9" fill="#111"/><rect x="197.5" y="87.43" width="0.9" height="0.9" fill="#111"/><rect x="199.31" y="85.61" width="0.9" height="0.9" fill="#111"/><rect x="188.04" y="97.12" width="0.9" height="0.9" fill="#111"/><rect x="213.74" y="79.69" width="0.9" height="0.9" fill="#111"/><rect x="187.49" y="99.63" width="0.9" height="0.9" fill="#222"/><rect x="188.56" y="97.02" width="0.9" height="0.9" fill="#111"/><rect x="202.91" y="84.19" width="0.9" height="0.9" fill="#444"/><rect x="189.12" y="99.61" width="0.9" height="0.9" fill="#222"/><rect x="216.87" y="100.76" width="0.9" height="0.9" fill="#111"/><rect x="239.61" y="67.65" width="0.9" height="0.9" fill="#444"/><rect x="188.88" y="96.09" width="0.9" height="0.9" fill="#111"/><rect x="209.23" y="80.82" width="0.9" height="0.9" fill="#444"/><rect x="193.38" y="89.31" width="0.9" height="0.9" fill="#111"/><rect x="191.96" y="101.88" width="0.9" height="0.9" fill="#111"/><rect x="215.43" y="78.86" width="0.9" height="0.9" fill="#111"/><rect x="212.4" y="102.46" width="0.9" height="0.9" fill="#111"/><rect x="238.99" y="63.8" width="0.9" height="0.9" fill="#111"/><rect x="234.52" y="79.4" width="0.9" height="0.9" fill="#111"/><rect x="224.13" y="93.18" width="0.9" height="0.9" fill="#111"/><rect x="218.82" y="76.56" width="0.9" height="0.9" fill="#222"/><rect x="221.84" y="76.35" width="0.9" height="0.9" fill="#444"/><rect x="231" y="84.82" width="0.9" height="0.9" fill="#111"/><rect x="226.82" y="90.19" width="0.9" height="0.9" fill="#111"/><rect x="236.61" y="74.55" width="0.9" height="0.9" fill="#111"/><rect x="237.43" y="72.96" width="0.9" height="0.9" fill="#111"/><rect x="236.68" y="77.36" width="0.9" height="0.9" fill="#111"/><rect x="223.03" y="94.53" width="0.9" height="0.9" fill="#111"/><rect x="241.66" y="65.05" width="0.9" height="0.9" fill="#222"/><rect x="188.67" y="95.96" width="0.9" height="0.9" fill="#111"/><rect x="225.01" y="93.62" width="0.9" height="0.9" fill="#111"/><rect x="220.58" y="77.48" width="0.9" height="0.9" fill="#111"/><rect x="212.07" y="103.22" width="0.9" height="0.9" fill="#666"/><rect x="240.34" y="65.27" width="0.9" height="0.9" fill="#111"/><rect x="197.05" y="86.96" width="0.9" height="0.9" fill="#111"/><rect x="199.22" y="106.54" width="0.9" height="0.9" fill="#666"/><rect x="240.87" y="64.38" width="0.9" height="0.9" fill="#111"/><rect x="188.02" y="97.28" width="0.9" height="0.9" fill="#111"/><rect x="202.16" y="84.98" width="0.9" height="0.9" fill="#111"/><rect x="207.82" y="82.29" width="0.9" height="0.9" fill="#222"/><rect x="239.29" y="69.19" width="0.9" height="0.9" fill="#111"/><rect x="189.18" y="98.36" width="0.9" height="0.9" fill="#111"/><rect x="212.65" y="103.32" width="0.9" height="0.9" fill="#222"/><rect x="214.3" y="79.76" width="0.9" height="0.9" fill="#111"/><rect x="220.89" y="97.33" width="0.9" height="0.9" fill="#111"/><rect x="187.63" y="98.97" width="0.9" height="0.9" fill="#666"/><rect x="237.47" y="65.62" width="0.9" height="0.9" fill="#111"/><rect x="231.89" y="82.97" width="0.9" height="0.9" fill="#111"/><rect x="210.08" y="104.25" width="0.9" height="0.9" fill="#111"/><rect x="196.21" y="104.66" width="0.9" height="0.9" fill="#666"/><rect x="204.31" y="104.65" width="0.9" height="0.9" fill="#111"/><rect x="187.19" y="95.88" width="0.9" height="0.9" fill="#666"/><rect x="200.02" y="104.47" width="0.9" height="0.9" fill="#111"/><rect x="219.83" y="76.67" width="0.9" height="0.9" fill="#111"/><rect x="234.19" y="81.62" width="0.9" height="0.9" fill="#666"/><rect x="228.25" y="91.71" width="0.9" height="0.9" fill="#444"/><rect x="227.55" y="72.12" width="0.9" height="0.9" fill="#111"/><rect x="219.82" y="97.39" width="0.9" height="0.9" fill="#111"/><rect x="218.06" y="99.13" width="0.9" height="0.9" fill="#111"/><rect x="209.41" y="103.86" width="0.9" height="0.9" fill="#111"/><rect x="217.77" y="98.41" width="0.9" height="0.9" fill="#111"/><rect x="215.89" y="78.5" width="0.9" height="0.9" fill="#444"/><rect x="218.23" y="76.71" width="0.9" height="0.9" fill="#444"/><rect x="188.07" y="94.04" width="0.9" height="0.9" fill="#222"/><rect x="214.2" y="101.52" width="0.9" height="0.9" fill="#111"/><rect x="238.07" y="74.57" width="0.9" height="0.9" fill="#444"/><rect x="231.52" y="69.06" width="0.9" height="0.9" fill="#111"/><rect x="236.54" y="65.46" width="0.9" height="0.9" fill="#111"/><rect x="190.69" y="99.83" width="0.9" height="0.9" fill="#111"/><rect x="189.98" y="100.42" width="0.9" height="0.9" fill="#666"/><rect x="238.94" y="64.69" width="0.9" height="0.9" fill="#111"/><rect x="209.17" y="81.25" width="0.9" height="0.9" fill="#666"/><rect x="239.87" y="64.29" width="0.9" height="0.9" fill="#111"/><rect x="192.52" y="88.74" width="0.9" height="0.9" fill="#222"/><rect x="239.96" y="70.55" width="0.9" height="0.9" fill="#222"/><rect x="220.18" y="77.34" width="0.9" height="0.9" fill="#222"/><rect x="239.96" y="63.84" width="0.9" height="0.9" fill="#111"/><rect x="237.43" y="76.58" width="0.9" height="0.9" fill="#444"/><rect x="239.96" y="65.87" width="0.9" height="0.9" fill="#111"/><rect x="227.78" y="72.22" width="0.9" height="0.9" fill="#111"/><rect x="215.66" y="79.53" width="0.9" height="0.9" fill="#111"/><rect x="233.92" y="81.35" width="0.9" height="0.9" fill="#111"/><rect x="188.94" y="92.52" width="0.9" height="0.9" fill="#111"/><rect x="189.65" y="93.1" width="0.9" height="0.9" fill="#111"/><rect x="199.07" y="105.67" width="0.9" height="0.9" fill="#666"/><rect x="214.1" y="101.78" width="0.9" height="0.9" fill="#111"/><rect x="239.79" y="68.95" width="0.9" height="0.9" fill="#222"/><rect x="188.35" y="91.39" width="0.9" height="0.9" fill="#222"/><rect x="189.96" y="99.13" width="0.9" height="0.9" fill="#111"/><rect x="228.34" y="89.28" width="0.9" height="0.9" fill="#222"/><rect x="206.7" y="83.05" width="0.9" height="0.9" fill="#111"/><rect x="210.62" y="103.23" width="0.9" height="0.9" fill="#111"/><rect x="225.12" y="94.54" width="0.9" height="0.9" fill="#666"/><rect x="221.74" y="95.9" width="0.9" height="0.9" fill="#111"/><rect x="209.58" y="104.56" width="0.9" height="0.9" fill="#222"/><rect x="197.88" y="87.42" width="0.9" height="0.9" fill="#111"/><rect x="190.43" y="99.43" width="0.9" height="0.9" fill="#111"/><rect x="224.45" y="94.79" width="0.9" height="0.9" fill="#222"/><rect x="237.51" y="73.5" width="0.9" height="0.9" fill="#111"/><rect x="193.56" y="89.19" width="0.9" height="0.9" fill="#444"/><rect x="217.93" y="78.41" width="0.9" height="0.9" fill="#111"/><rect x="213.95" y="101.69" width="0.9" height="0.9" fill="#111"/><rect x="226.38" y="93.66" width="0.9" height="0.9" fill="#666"/><rect x="232.16" y="82.68" width="0.9" height="0.9" fill="#111"/><rect x="239.03" y="64.03" width="0.9" height="0.9" fill="#111"/><rect x="240.76" y="64.38" width="0.9" height="0.9" fill="#444"/><rect x="222.58" y="97.59" width="0.9" height="0.9" fill="#222"/><rect x="224.17" y="74.26" width="0.9" height="0.9" fill="#111"/><rect x="226.51" y="89.8" width="0.9" height="0.9" fill="#111"/><rect x="227.39" y="72.83" width="0.9" height="0.9" fill="#666"/><rect x="205.46" y="104.86" width="0.9" height="0.9" fill="#666"/><rect x="236.81" y="74.65" width="0.9" height="0.9" fill="#111"/><rect x="223.71" y="94.56" width="0.9" height="0.9" fill="#111"/><rect x="229.57" y="69.78" width="0.9" height="0.9" fill="#111"/><rect x="233.1" y="81.36" width="0.9" height="0.9" fill="#111"/><rect x="238.07" y="70.1" width="0.9" height="0.9" fill="#111"/><rect x="208.14" y="82.4" width="0.9" height="0.9" fill="#111"/><rect x="227.1" y="71.62" width="0.9" height="0.9" fill="#111"/><rect x="192.02" y="102.93" width="0.9" height="0.9" fill="#444"/><rect x="204.41" y="104.5" width="0.9" height="0.9" fill="#111"/><rect x="229.58" y="88.59" width="0.9" height="0.9" fill="#111"/><rect x="210.17" y="81.24" width="0.9" height="0.9" fill="#111"/><rect x="206.4" y="104.97" width="0.9" height="0.9" fill="#111"/><rect x="217.9" y="77.25" width="0.9" height="0.9" fill="#666"/><rect x="222.71" y="96.39" width="0.9" height="0.9" fill="#222"/><rect x="193.08" y="89.79" width="0.9" height="0.9" fill="#111"/><rect x="210.33" y="104.5" width="0.9" height="0.9" fill="#222"/><rect x="240.54" y="65.23" width="0.9" height="0.9" fill="#666"/><rect x="240.09" y="66.54" width="0.9" height="0.9" fill="#444"/><rect x="198.37" y="86.95" width="0.9" height="0.9" fill="#111"/><rect x="208.85" y="81.24" width="0.9" height="0.9" fill="#666"/><rect x="198.93" y="87.21" width="0.9" height="0.9" fill="#111"/><rect x="211.51" y="102.22" width="0.9" height="0.9" fill="#111"/><rect x="195.81" y="87.79" width="0.9" height="0.9" fill="#111"/><rect x="206.28" y="82.67" width="0.9" height="0.9" fill="#444"/><rect x="187.09" y="96.22" width="0.9" height="0.9" fill="#666"/><rect x="194.56" y="103.63" width="0.9" height="0.9" fill="#111"/><rect x="239.61" y="63.95" width="0.9" height="0.9" fill="#111"/><rect x="191.26" y="103.09" width="0.9" height="0.9" fill="#222"/><rect x="237.42" y="71.82" width="0.9" height="0.9" fill="#111"/><rect x="218.21" y="77.6" width="0.9" height="0.9" fill="#111"/><rect x="227.19" y="91.02" width="0.9" height="0.9" fill="#111"/><rect x="223.76" y="95.86" width="0.9" height="0.9" fill="#111"/><rect x="231.79" y="83.82" width="0.9" height="0.9" fill="#111"/><rect x="190.12" y="91.49" width="0.9" height="0.9" fill="#111"/><rect x="236.95" y="76.7" width="0.9" height="0.9" fill="#666"/><rect x="234.2" y="67.14" width="0.9" height="0.9" fill="#111"/><rect x="229.43" y="85.8" width="0.9" height="0.9" fill="#111"/><rect x="211.4" y="82.16" width="0.9" height="0.9" fill="#111"/><rect x="217.94" y="78.34" width="0.9" height="0.9" fill="#111"/><rect x="196.25" y="103.6" width="0.9" height="0.9" fill="#111"/><rect x="211.03" y="102.88" width="0.9" height="0.9" fill="#111"/><rect x="197.72" y="86.89" width="0.9" height="0.9" fill="#111"/><rect x="226.91" y="89.86" width="0.9" height="0.9" fill="#111"/><rect x="221.1" y="76.58" width="0.9" height="0.9" fill="#444"/><rect x="225.87" y="73.88" width="0.9" height="0.9" fill="#111"/><rect x="226.46" y="91.26" width="0.9" height="0.9" fill="#111"/><rect x="239.74" y="64.67" width="0.9" height="0.9" fill="#111"/><rect x="218.29" y="99.14" width="0.9" height="0.9" fill="#111"/><rect x="224.25" y="74.53" width="0.9" height="0.9" fill="#111"/><rect x="231.39" y="84.55" width="0.9" height="0.9" fill="#111"/><rect x="187.65" y="96.65" width="0.9" height="0.9" fill="#444"/><rect x="194.89" y="87.53" width="0.9" height="0.9" fill="#111"/><rect x="186.57" y="93.38" width="0.9" height="0.9" fill="#222"/><rect x="239.04" y="70.92" width="0.9" height="0.9" fill="#666"/><rect x="232.81" y="68.05" width="0.9" height="0.9" fill="#444"/><rect x="210.71" y="80.34" width="0.9" height="0.9" fill="#222"/><rect x="192.24" y="89.58" width="0.9" height="0.9" fill="#111"/><rect x="240.23" y="66.75" width="0.9" height="0.9" fill="#111"/><rect x="239.26" y="63.61" width="0.9" height="0.9" fill="#111"/><rect x="222.46" y="76.52" width="0.9" height="0.9" fill="#111"/><rect x="194.97" y="88.05" width="0.9" height="0.9" fill="#111"/><rect x="228.85" y="89.59" width="0.9" height="0.9" fill="#222"/><rect x="199.96" y="105.12" width="0.9" height="0.9" fill="#111"/><rect x="197.91" y="103.99" width="0.9" height="0.9" fill="#111"/><rect x="238.35" y="69.42" width="0.9" height="0.9" fill="#111"/><rect x="220.1" y="97.08" width="0.9" height="0.9" fill="#111"/><rect x="217.08" y="99.3" width="0.9" height="0.9" fill="#111"/><rect x="188.55" y="93.86" width="0.9" height="0.9" fill="#222"/><rect x="197.99" y="104.37" width="0.9" height="0.9" fill="#111"/><rect x="190.52" y="90.26" width="0.9" height="0.9" fill="#111"/><rect x="191.37" y="101.71" width="0.9" height="0.9" fill="#666"/><rect x="190.28" y="91.1" width="0.9" height="0.9" fill="#444"/><rect x="225.93" y="92.44" width="0.9" height="0.9" fill="#111"/><rect x="220.49" y="76.66" width="0.9" height="0.9" fill="#444"/><rect x="207.68" y="82.73" width="0.9" height="0.9" fill="#111"/><rect x="233.76" y="81.55" width="0.9" height="0.9" fill="#111"/><rect x="213.47" y="80.19" width="0.9" height="0.9" fill="#111"/><rect x="217.58" y="78.16" width="0.9" height="0.9" fill="#111"/><rect x="191.98" y="103.34" width="0.9" height="0.9" fill="#666"/><rect x="227.07" y="71.94" width="0.9" height="0.9" fill="#444"/><rect x="202.99" y="84.91" width="0.9" height="0.9" fill="#111"/><rect x="201.88" y="85.01" width="0.9" height="0.9" fill="#111"/><rect x="236.54" y="76.99" width="0.9" height="0.9" fill="#444"/><rect x="187.82" y="95.9" width="0.9" height="0.9" fill="#111"/><rect x="196.31" y="87.51" width="0.9" height="0.9" fill="#444"/><rect x="216.23" y="101.52" width="0.9" height="0.9" fill="#444"/><rect x="233.23" y="68.25" width="0.9" height="0.9" fill="#111"/><rect x="197.84" y="86.45" width="0.9" height="0.9" fill="#111"/><rect x="209.53" y="103.77" width="0.9" height="0.9" fill="#111"/><rect x="200.37" y="105.17" width="0.9" height="0.9" fill="#666"/><rect x="217.49" y="99.25" width="0.9" height="0.9" fill="#111"/><rect x="230.19" y="84.86" width="0.9" height="0.9" fill="#111"/><rect x="187.68" y="96.42" width="0.9" height="0.9" fill="#111"/><rect x="217.57" y="77.56" width="0.9" height="0.9" fill="#666"/><rect x="222.99" y="75.93" width="0.9" height="0.9" fill="#444"/><rect x="224.52" y="94.36" width="0.9" height="0.9" fill="#111"/><rect x="218.95" y="78.4" width="0.9" height="0.9" fill="#111"/><rect x="192.92" y="88.84" width="0.9" height="0.9" fill="#666"/><rect x="195.35" y="102.18" width="0.9" height="0.9" fill="#111"/><rect x="211.59" y="102.78" width="0.9" height="0.9" fill="#111"/><rect x="188.88" y="93.6" width="0.9" height="0.9" fill="#111"/><rect x="203.01" y="84.57" width="0.9" height="0.9" fill="#222"/><rect x="192.52" y="89.94" width="0.9" height="0.9" fill="#111"/><rect x="223.99" y="92.93" width="0.9" height="0.9" fill="#111"/><rect x="198.94" y="104.11" width="0.9" height="0.9" fill="#111"/><rect x="217.57" y="79.28" width="0.9" height="0.9" fill="#111"/><rect x="210.76" y="81.74" width="0.9" height="0.9" fill="#111"/><rect x="206.2" y="83.36" width="0.9" height="0.9" fill="#111"/><rect x="239.95" y="68.69" width="0.9" height="0.9" fill="#444"/><rect x="216.6" y="78.5" width="0.9" height="0.9" fill="#666"/><rect x="217.54" y="78.99" width="0.9" height="0.9" fill="#111"/><rect x="237.26" y="65.25" width="0.9" height="0.9" fill="#111"/><rect x="221.91" y="96.58" width="0.9" height="0.9" fill="#111"/><rect x="219.04" y="77.36" width="0.9" height="0.9" fill="#111"/><rect x="225.86" y="91.62" width="0.9" height="0.9" fill="#111"/><rect x="199.15" y="105.17" width="0.9" height="0.9" fill="#111"/><rect x="214.47" y="102.06" width="0.9" height="0.9" fill="#111"/><rect x="207.93" y="82.07" width="0.9" height="0.9" fill="#222"/><rect x="196.86" y="87.41" width="0.9" height="0.9" fill="#111"/><rect x="239.18" y="69.82" width="0.9" height="0.9" fill="#111"/><rect x="208.16" y="82.91" width="0.9" height="0.9" fill="#111"/><rect x="235.12" y="65.53" width="0.9" height="0.9" fill="#111"/><rect x="190.29" y="91.13" width="0.9" height="0.9" fill="#111"/><rect x="238.37" y="72.21" width="0.9" height="0.9" fill="#111"/><rect x="234.94" y="80.33" width="0.9" height="0.9" fill="#666"/><rect x="233.1" y="80.12" width="0.9" height="0.9" fill="#111"/><rect x="209.18" y="81.43" width="0.9" height="0.9" fill="#666"/><rect x="237.42" y="65.71" width="0.9" height="0.9" fill="#111"/><rect x="240.67" y="64.87" width="0.9" height="0.9" fill="#111"/><rect x="204.9" y="104.76" width="0.9" height="0.9" fill="#111"/><rect x="218.35" y="77.96" width="0.9" height="0.9" fill="#111"/><rect x="225.61" y="74.11" width="0.9" height="0.9" fill="#111"/><rect x="227.74" y="91.59" width="0.9" height="0.9" fill="#666"/><rect x="194.7" y="87.69" width="0.9" height="0.9" fill="#111"/><rect x="206.26" y="105.97" width="0.9" height="0.9" fill="#222"/><rect x="192.3" y="89.46" width="0.9" height="0.9" fill="#111"/><rect x="188.26" y="97.58" width="0.9" height="0.9" fill="#111"/><rect x="191.47" y="101.01" width="0.9" height="0.9" fill="#111"/><rect x="203.21" y="84.22" width="0.9" height="0.9" fill="#111"/><rect x="194.25" y="103.04" width="0.9" height="0.9" fill="#111"/><rect x="233.56" y="80.77" width="0.9" height="0.9" fill="#111"/><rect x="191.31" y="102.53" width="0.9" height="0.9" fill="#666"/><rect x="215.27" y="79.87" width="0.9" height="0.9" fill="#111"/><rect x="213.8" y="80.36" width="0.9" height="0.9" fill="#111"/><rect x="225.38" y="73.48" width="0.9" height="0.9" fill="#111"/><rect x="238.94" y="64.81" width="0.9" height="0.9" fill="#111"/><rect x="191.99" y="104.57" width="0.9" height="0.9" fill="#444"/><rect x="225.06" y="75.09" width="0.9" height="0.9" fill="#111"/><rect x="188.27" y="96.16" width="0.9" height="0.9" fill="#111"/><rect x="239.24" y="63.74" width="0.9" height="0.9" fill="#666"/><rect x="238.27" y="73.25" width="0.9" height="0.9" fill="#444"/><rect x="220.8" y="76.96" width="0.9" height="0.9" fill="#444"/><rect x="230.26" y="89.56" width="0.9" height="0.9" fill="#666"/><rect x="200.79" y="104.99" width="0.9" height="0.9" fill="#111"/><rect x="186.87" y="95.19" width="0.9" height="0.9" fill="#222"/><rect x="240.06" y="66.27" width="0.9" height="0.9" fill="#111"/><rect x="226.56" y="92.86" width="0.9" height="0.9" fill="#666"/><rect x="223.45" y="74.77" width="0.9" height="0.9" fill="#444"/><rect x="203.24" y="84.82" width="0.9" height="0.9" fill="#111"/><rect x="231.73" y="68.93" width="0.9" height="0.9" fill="#111"/><rect x="225.25" y="93.78" width="0.9" height="0.9" fill="#444"/><rect x="219.41" y="77.48" width="0.9" height="0.9" fill="#111"/><rect x="201.71" y="85.16" width="0.9" height="0.9" fill="#111"/><rect x="238.67" y="70.32" width="0.9" height="0.9" fill="#111"/><rect x="229.06" y="86.49" width="0.9" height="0.9" fill="#111"/><rect x="220.44" y="99.32" width="0.9" height="0.9" fill="#666"/><rect x="219.78" y="98.24" width="0.9" height="0.9" fill="#111"/><rect x="238.73" y="69.89" width="0.9" height="0.9" fill="#111"/><rect x="191.35" y="90.29" width="0.9" height="0.9" fill="#444"/><rect x="243.39" y="63.28" width="0.9" height="0.9" fill="#444"/><rect x="192.86" y="102.61" width="0.9" height="0.9" fill="#111"/><rect x="223.64" y="94.87" width="0.9" height="0.9" fill="#444"/><rect x="198.91" y="86.28" width="0.9" height="0.9" fill="#444"/><rect x="200.31" y="104.68" width="0.9" height="0.9" fill="#111"/><rect x="241.2" y="64.33" width="0.9" height="0.9" fill="#111"/><rect x="236.87" y="77.66" width="0.9" height="0.9" fill="#666"/><rect x="223.59" y="74.94" width="0.9" height="0.9" fill="#444"/><rect x="236.3" y="66.05" width="0.9" height="0.9" fill="#111"/><rect x="209.99" y="81.13" width="0.9" height="0.9" fill="#666"/><rect x="187.62" y="96.38" width="0.9" height="0.9" fill="#444"/><rect x="198.21" y="105.72" width="0.9" height="0.9" fill="#222"/><rect x="235.51" y="76.26" width="0.9" height="0.9" fill="#111"/><rect x="222.4" y="76.37" width="0.9" height="0.9" fill="#111"/><rect x="238.01" y="71.16" width="0.9" height="0.9" fill="#111"/><rect x="197.46" y="104.43" width="0.9" height="0.9" fill="#111"/><rect x="200.22" y="86.24" width="0.9" height="0.9" fill="#222"/><rect x="227.57" y="72.56" width="0.9" height="0.9" fill="#111"/><rect x="233.36" y="67.86" width="0.9" height="0.9" fill="#111"/><rect x="229.37" y="86.74" width="0.9" height="0.9" fill="#111"/><rect x="196.17" y="88.36" width="0.9" height="0.9" fill="#111"/><rect x="188.02" y="97.79" width="0.9" height="0.9" fill="#111"/><rect x="209.38" y="104.11" width="0.9" height="0.9" fill="#111"/><rect x="218.47" y="77.92" width="0.9" height="0.9" fill="#111"/><rect x="230.69" y="70.21" width="0.9" height="0.9" fill="#111"/><rect x="190.53" y="91.17" width="0.9" height="0.9" fill="#111"/><rect x="198.05" y="103.44" width="0.9" height="0.9" fill="#111"/><rect x="186.27" y="97.21" width="0.9" height="0.9" fill="#444"/><rect x="238.75" y="68.76" width="0.9" height="0.9" fill="#111"/><rect x="214.05" y="79.09" width="0.9" height="0.9" fill="#222"/><rect x="229.61" y="86.33" width="0.9" height="0.9" fill="#111"/><rect x="197.54" y="86.76" width="0.9" height="0.9" fill="#111"/><rect x="187.56" y="93.79" width="0.9" height="0.9" fill="#444"/><rect x="232.44" y="82.49" width="0.9" height="0.9" fill="#111"/><rect x="233.36" y="80.37" width="0.9" height="0.9" fill="#111"/><rect x="240.83" y="62.99" width="0.9" height="0.9" fill="#111"/><rect x="213.5" y="101.35" width="0.9" height="0.9" fill="#111"/><rect x="188.8" y="96.87" width="0.9" height="0.9" fill="#111"/><rect x="211.04" y="103.23" width="0.9" height="0.9" fill="#111"/><rect x="216.38" y="79.66" width="0.9" height="0.9" fill="#111"/><rect x="206.08" y="82.84" width="0.9" height="0.9" fill="#666"/><rect x="209.91" y="81" width="0.9" height="0.9" fill="#222"/><rect x="197.45" y="86.01" width="0.9" height="0.9" fill="#444"/><rect x="197.64" y="104.15" width="0.9" height="0.9" fill="#111"/><rect x="237.12" y="65.92" width="0.9" height="0.9" fill="#111"/><rect x="228.66" y="71.45" width="0.9" height="0.9" fill="#444"/><rect x="213.47" y="104.29" width="0.9" height="0.9" fill="#666"/><rect x="200.99" y="85.61" width="0.9" height="0.9" fill="#444"/><rect x="199.31" y="86.34" width="0.9" height="0.9" fill="#111"/><rect x="189.88" y="90.85" width="0.9" height="0.9" fill="#444"/><rect x="189.3" y="96.27" width="0.9" height="0.9" fill="#111"/><rect x="187.35" y="95.9" width="0.9" height="0.9" fill="#666"/><rect x="237.47" y="65.04" width="0.9" height="0.9" fill="#444"/><rect x="218.96" y="77.29" width="0.9" height="0.9" fill="#444"/><rect x="236.05" y="76.95" width="0.9" height="0.9" fill="#444"/><rect x="237.28" y="65.19" width="0.9" height="0.9" fill="#111"/><rect x="198.37" y="104.59" width="0.9" height="0.9" fill="#111"/><rect x="241.08" y="62.26" width="0.9" height="0.9" fill="#222"/><rect x="226.91" y="90.24" width="0.9" height="0.9" fill="#111"/><rect x="189.82" y="90.41" width="0.9" height="0.9" fill="#222"/><rect x="189.69" y="98.81" width="0.9" height="0.9" fill="#111"/><rect x="235.6" y="76.05" width="0.9" height="0.9" fill="#111"/><rect x="235.21" y="81.63" width="0.9" height="0.9" fill="#444"/><rect x="222.32" y="75.11" width="0.9" height="0.9" fill="#222"/><rect x="204.87" y="103.56" width="0.9" height="0.9" fill="#111"/><rect x="231.78" y="85.04" width="0.9" height="0.9" fill="#666"/><rect x="195.47" y="87.15" width="0.9" height="0.9" fill="#444"/><rect x="189.11" y="94.86" width="0.9" height="0.9" fill="#111"/><rect x="237.83" y="71.69" width="0.9" height="0.9" fill="#111"/><rect x="188.46" y="100.79" width="0.9" height="0.9" fill="#222"/><rect x="239.06" y="71.07" width="0.9" height="0.9" fill="#111"/><rect x="239.47" y="64.39" width="0.9" height="0.9" fill="#111"/><rect x="230.26" y="69.77" width="0.9" height="0.9" fill="#444"/><rect x="189.75" y="93.86" width="0.9" height="0.9" fill="#111"/><rect x="239.5" y="70.77" width="0.9" height="0.9" fill="#222"/><rect x="219.16" y="77.35" width="0.9" height="0.9" fill="#111"/><rect x="209.51" y="104.12" width="0.9" height="0.9" fill="#111"/><rect x="226.24" y="73.16" width="0.9" height="0.9" fill="#111"/><rect x="233.24" y="68.33" width="0.9" height="0.9" fill="#111"/><rect x="235.57" y="76.64" width="0.9" height="0.9" fill="#111"/><rect x="218.61" y="78.88" width="0.9" height="0.9" fill="#111"/><rect x="222.21" y="75.57" width="0.9" height="0.9" fill="#111"/><rect x="188.71" y="94.59" width="0.9" height="0.9" fill="#111"/><rect x="199.15" y="105.25" width="0.9" height="0.9" fill="#222"/><rect x="230.46" y="86.46" width="0.9" height="0.9" fill="#666"/><rect x="209.75" y="82.68" width="0.9" height="0.9" fill="#111"/><rect x="188.75" y="95.39" width="0.9" height="0.9" fill="#111"/><rect x="216.4" y="77.97" width="0.9" height="0.9" fill="#666"/><rect x="196.32" y="87.62" width="0.9" height="0.9" fill="#111"/><rect x="221.1" y="77.14" width="0.9" height="0.9" fill="#111"/><rect x="213.22" y="102.55" width="0.9" height="0.9" fill="#111"/><rect x="193.79" y="88.86" width="0.9" height="0.9" fill="#111"/><rect x="216.69" y="99.79" width="0.9" height="0.9" fill="#111"/><rect x="197.35" y="103.61" width="0.9" height="0.9" fill="#111"/><rect x="239.83" y="66.69" width="0.9" height="0.9" fill="#111"/><rect x="226.24" y="72.99" width="0.9" height="0.9" fill="#111"/><rect x="231.18" y="85.37" width="0.9" height="0.9" fill="#444"/><rect x="201.7" y="105.97" width="0.9" height="0.9" fill="#666"/><rect x="189.26" y="99.12" width="0.9" height="0.9" fill="#111"/><rect x="205.25" y="84.51" width="0.9" height="0.9" fill="#111"/><rect x="219.92" y="76.9" width="0.9" height="0.9" fill="#111"/><rect x="236.07" y="79.46" width="0.9" height="0.9" fill="#444"/><rect x="232.98" y="68.34" width="0.9" height="0.9" fill="#111"/><rect x="238.33" y="64.41" width="0.9" height="0.9" fill="#111"/><rect x="209.25" y="103.29" width="0.9" height="0.9" fill="#111"/><rect x="238.72" y="64.01" width="0.9" height="0.9" fill="#111"/><rect x="213.12" y="102.49" width="0.9" height="0.9" fill="#111"/><rect x="233.12" y="67.86" width="0.9" height="0.9" fill="#111"/><rect x="227.18" y="72.78" width="0.9" height="0.9" fill="#111"/><rect x="212.66" y="80.52" width="0.9" height="0.9" fill="#111"/><rect x="228.02" y="88.83" width="0.9" height="0.9" fill="#111"/><rect x="200.82" y="85.45" width="0.9" height="0.9" fill="#666"/><rect x="193.9" y="87.98" width="0.9" height="0.9" fill="#666"/><rect x="240.66" y="67.48" width="0.9" height="0.9" fill="#666"/><rect x="209.3" y="79.79" width="0.9" height="0.9" fill="#666"/><rect x="192.28" y="89.97" width="0.9" height="0.9" fill="#111"/><rect x="204.5" y="83.52" width="0.9" height="0.9" fill="#444"/><rect x="233.83" y="79.26" width="0.9" height="0.9" fill="#111"/><rect x="232.14" y="86.43" width="0.9" height="0.9" fill="#666"/><rect x="219.72" y="98.29" width="0.9" height="0.9" fill="#111"/><rect x="208.91" y="80.99" width="0.9" height="0.9" fill="#666"/><rect x="226.36" y="91.52" width="0.9" height="0.9" fill="#222"/><rect x="188.32" y="97.37" width="0.9" height="0.9" fill="#111"/><rect x="204.1" y="84.05" width="0.9" height="0.9" fill="#111"/><rect x="188.59" y="94.34" width="0.9" height="0.9" fill="#222"/><rect x="189.05" y="92.6" width="0.9" height="0.9" fill="#111"/><rect x="188.26" y="95.27" width="0.9" height="0.9" fill="#222"/><rect x="232.96" y="67.75" width="0.9" height="0.9" fill="#111"/><rect x="188.77" y="91.23" width="0.9" height="0.9" fill="#666"/><rect x="194.16" y="102.53" width="0.9" height="0.9" fill="#111"/><rect x="234.52" y="78.25" width="0.9" height="0.9" fill="#111"/><rect x="187.83" y="96.31" width="0.9" height="0.9" fill="#666"/><rect x="196.94" y="87.09" width="0.9" height="0.9" fill="#666"/><rect x="209.01" y="103.93" width="0.9" height="0.9" fill="#111"/><rect x="224.52" y="74.61" width="0.9" height="0.9" fill="#111"/><rect x="236.88" y="74.74" width="0.9" height="0.9" fill="#111"/><rect x="239.36" y="66.87" width="0.9" height="0.9" fill="#111"/><rect x="208.1" y="104.51" width="0.9" height="0.9" fill="#111"/><rect x="240.79" y="68.02" width="0.9" height="0.9" fill="#666"/><rect x="198.23" y="86.42" width="0.9" height="0.9" fill="#111"/><rect x="223.85" y="75.5" width="0.9" height="0.9" fill="#111"/><rect x="207.69" y="105.29" width="0.9" height="0.9" fill="#666"/><rect x="189.03" y="95.93" width="0.9" height="0.9" fill="#111"/><rect x="197.87" y="85.7" width="0.9" height="0.9" fill="#222"/><rect x="228.38" y="72.04" width="0.9" height="0.9" fill="#111"/><rect x="235.71" y="75.92" width="0.9" height="0.9" fill="#111"/><rect x="238.2" y="71.76" width="0.9" height="0.9" fill="#666"/><rect x="208.58" y="82.03" width="0.9" height="0.9" fill="#111"/><rect x="202.87" y="105.07" width="0.9" height="0.9" fill="#111"/><rect x="198.22" y="86.62" width="0.9" height="0.9" fill="#111"/><rect x="194.69" y="102.9" width="0.9" height="0.9" fill="#111"/><rect x="219.36" y="98.19" width="0.9" height="0.9" fill="#111"/><rect x="193.75" y="103.79" width="0.9" height="0.9" fill="#222"/><rect x="224.21" y="94.33" width="0.9" height="0.9" fill="#111"/><rect x="232.53" y="84.31" width="0.9" height="0.9" fill="#444"/><rect x="223.74" y="73.62" width="0.9" height="0.9" fill="#444"/><rect x="222.43" y="75.96" width="0.9" height="0.9" fill="#111"/><rect x="239.73" y="70.42" width="0.9" height="0.9" fill="#222"/><rect x="209.63" y="104.47" width="0.9" height="0.9" fill="#111"/><rect x="217.55" y="102.32" width="0.9" height="0.9" fill="#666"/><rect x="194.23" y="104.3" width="0.9" height="0.9" fill="#666"/><rect x="231.99" y="85.93" width="0.9" height="0.9" fill="#444"/><rect x="187.55" y="93.22" width="0.9" height="0.9" fill="#222"/><rect x="240.79" y="65.38" width="0.9" height="0.9" fill="#111"/><rect x="198.36" y="86.5" width="0.9" height="0.9" fill="#111"/><rect x="233.05" y="67.91" width="0.9" height="0.9" fill="#111"/><rect x="230.79" y="84.63" width="0.9" height="0.9" fill="#111"/><rect x="214.56" y="102.8" width="0.9" height="0.9" fill="#666"/><rect x="201.65" y="105.05" width="0.9" height="0.9" fill="#111"/><rect x="216.33" y="101.55" width="0.9" height="0.9" fill="#222"/><rect x="234.08" y="78.85" width="0.9" height="0.9" fill="#111"/><rect x="214.07" y="80.21" width="0.9" height="0.9" fill="#111"/><rect x="235.11" y="79.97" width="0.9" height="0.9" fill="#444"/><rect x="227.02" y="72.33" width="0.9" height="0.9" fill="#111"/><rect x="224.58" y="93.64" width="0.9" height="0.9" fill="#111"/><rect x="223.11" y="95.63" width="0.9" height="0.9" fill="#111"/><rect x="240.55" y="66.13" width="0.9" height="0.9" fill="#222"/><rect x="212.37" y="81.04" width="0.9" height="0.9" fill="#111"/><rect x="229.65" y="88.45" width="0.9" height="0.9" fill="#666"/><rect x="199.1" y="86.28" width="0.9" height="0.9" fill="#222"/><rect x="228.66" y="70.66" width="0.9" height="0.9" fill="#111"/><rect x="222.79" y="96.13" width="0.9" height="0.9" fill="#444"/><rect x="223.98" y="93.62" width="0.9" height="0.9" fill="#111"/><rect x="228.15" y="87.81" width="0.9" height="0.9" fill="#111"/><rect x="225.89" y="73.7" width="0.9" height="0.9" fill="#666"/><rect x="204.24" y="83.94" width="0.9" height="0.9" fill="#111"/><rect x="198.73" y="87.02" width="0.9" height="0.9" fill="#111"/><rect x="225.47" y="91.92" width="0.9" height="0.9" fill="#111"/><rect x="232.2" y="84.51" width="0.9" height="0.9" fill="#666"/><rect x="233.36" y="81.16" width="0.9" height="0.9" fill="#111"/><rect x="204.91" y="83.07" width="0.9" height="0.9" fill="#222"/><rect x="225.28" y="73.47" width="0.9" height="0.9" fill="#111"/><rect x="189.84" y="97.96" width="0.9" height="0.9" fill="#111"/><rect x="221.16" y="76.16" width="0.9" height="0.9" fill="#444"/><rect x="240" y="66.04" width="0.9" height="0.9" fill="#111"/><rect x="235.85" y="77.25" width="0.9" height="0.9" fill="#111"/><rect x="217.7" y="101.88" width="0.9" height="0.9" fill="#666"/><rect x="240.63" y="63.95" width="0.9" height="0.9" fill="#444"/><rect x="229.46" y="86.78" width="0.9" height="0.9" fill="#111"/><rect x="234.1" y="81.35" width="0.9" height="0.9" fill="#111"/><rect x="208.63" y="104.91" width="0.9" height="0.9" fill="#111"/><rect x="212.27" y="79.36" width="0.9" height="0.9" fill="#222"/><rect x="219.98" y="77.52" width="0.9" height="0.9" fill="#111"/><rect x="212.79" y="81.75" width="0.9" height="0.9" fill="#111"/><rect x="202.63" y="83.94" width="0.9" height="0.9" fill="#666"/><rect x="235.05" y="78.03" width="0.9" height="0.9" fill="#111"/><rect x="239.3" y="64.38" width="0.9" height="0.9" fill="#111"/><rect x="201.42" y="104.71" width="0.9" height="0.9" fill="#111"/><rect x="214.22" y="102.4" width="0.9" height="0.9" fill="#222"/><rect x="191.83" y="100.95" width="0.9" height="0.9" fill="#111"/><rect x="226.28" y="73.08" width="0.9" height="0.9" fill="#111"/><rect x="222.6" y="75.93" width="0.9" height="0.9" fill="#222"/><rect x="190.11" y="90.99" width="0.9" height="0.9" fill="#222"/><rect x="189.75" y="93.85" width="0.9" height="0.9" fill="#111"/><rect x="240.82" y="70.08" width="0.9" height="0.9" fill="#666"/><rect x="241.53" y="65.07" width="0.9" height="0.9" fill="#666"/><rect x="216.15" y="78.51" width="0.9" height="0.9" fill="#111"/><rect x="188.92" y="93.99" width="0.9" height="0.9" fill="#111"/><rect x="196.33" y="104.85" width="0.9" height="0.9" fill="#444"/><rect x="234.35" y="82.69" width="0.9" height="0.9" fill="#444"/><rect x="188.43" y="95.71" width="0.9" height="0.9" fill="#111"/><rect x="236.61" y="78.5" width="0.9" height="0.9" fill="#222"/><rect x="189.07" y="98.06" width="0.9" height="0.9" fill="#666"/><rect x="222.26" y="95.27" width="0.9" height="0.9" fill="#111"/><rect x="240.65" y="66.45" width="0.9" height="0.9" fill="#666"/><rect x="187.55" y="94.88" width="0.9" height="0.9" fill="#222"/><rect x="199.37" y="105.09" width="0.9" height="0.9" fill="#111"/></g>
<path d="M240.2,63.8 C239.67,63.03 237.02,65.27 235,66.6 C232.98,67.93 230.37,70.03 228.1,71.8 C225.83,73.57 223.65,75.75 221.4,77.2 C219.15,78.65 216.85,79.5 214.6,80.5 C212.35,81.5 210.13,82.32 207.9,83.2 C205.67,84.08 203.47,84.9 201.2,85.8 C198.93,86.7 196.2,87.53 194.3,88.6 C192.4,89.67 190.72,90.83 189.8,92.2 C188.88,93.57 188.37,95.17 188.8,96.8 C189.23,98.43 190.37,100.73 192.4,102 C194.43,103.27 198.13,104.13 201,104.4 C203.87,104.67 207,104.33 209.6,103.6 C212.2,102.87 214.33,101.52 216.6,100 C218.87,98.48 221.2,96.53 223.2,94.5 C225.2,92.47 226.8,90.28 228.6,87.8 C230.4,85.32 232.4,82.37 234,79.6 C235.6,76.83 237.17,73.83 238.2,71.2 C239.23,68.57 240.73,64.57 240.2,63.8 Z" fill="#000"/>
<g><rect x="200.51" y="98.88" width="0.7" height="0.7" fill="#555"/><rect x="234.49" y="69.03" width="0.7" height="0.7" fill="#777"/><rect x="227.45" y="87.17" width="0.7" height="0.7" fill="#fff"/><rect x="220.52" y="79.52" width="0.7" height="0.7" fill="#777"/><rect x="232.73" y="75.51" width="0.7" height="0.7" fill="#777"/><rect x="220.05" y="79.91" width="0.7" height="0.7" fill="#555"/><rect x="195.55" y="96.76" width="0.7" height="0.7" fill="#555"/><rect x="190.99" y="96.46" width="0.7" height="0.7" fill="#bbb"/><rect x="200.18" y="100.96" width="0.7" height="0.7" fill="#fff"/><rect x="218.87" y="81.02" width="0.7" height="0.7" fill="#bbb"/><rect x="227.38" y="75.8" width="0.7" height="0.7" fill="#555"/><rect x="199.7" y="99.17" width="0.7" height="0.7" fill="#bbb"/></g>
<path d="M231.4,73.6 C231.13,73.15 229.9,74.77 228.6,75.8 C227.3,76.83 225.57,78.5 223.6,79.8 C221.63,81.1 219.05,82.48 216.8,83.6 C214.55,84.72 212.5,85.45 210.1,86.5 C207.7,87.55 204.52,88.83 202.4,89.9 C200.28,90.97 198.5,91.92 197.4,92.9 C196.3,93.88 195.83,94.97 195.8,95.8 C195.77,96.63 196.1,97.4 197.2,97.9 C198.3,98.4 200.4,98.82 202.4,98.8 C204.4,98.78 206.95,98.6 209.2,97.8 C211.45,97 213.82,95.43 215.9,94 C217.98,92.57 219.93,90.83 221.7,89.2 C223.47,87.57 225.08,85.98 226.5,84.2 C227.92,82.42 229.38,80.27 230.2,78.5 C231.02,76.73 231.67,74.05 231.4,73.6 Z" fill="#fff" stroke="#222" stroke-width="0.45"/>
<clipPath id="c63854"><path d="M231.4,73.6 C231.13,73.15 229.9,74.77 228.6,75.8 C227.3,76.83 225.57,78.5 223.6,79.8 C221.63,81.1 219.05,82.48 216.8,83.6 C214.55,84.72 212.5,85.45 210.1,86.5 C207.7,87.55 204.52,88.83 202.4,89.9 C200.28,90.97 198.5,91.92 197.4,92.9 C196.3,93.88 195.83,94.97 195.8,95.8 C195.77,96.63 196.1,97.4 197.2,97.9 C198.3,98.4 200.4,98.82 202.4,98.8 C204.4,98.78 206.95,98.6 209.2,97.8 C211.45,97 213.82,95.43 215.9,94 C217.98,92.57 219.93,90.83 221.7,89.2 C223.47,87.57 225.08,85.98 226.5,84.2 C227.92,82.42 229.38,80.27 230.2,78.5 C231.02,76.73 231.67,74.05 231.4,73.6 Z"/></clipPath>
<g clip-path="url(#c63854)" fill="none" stroke="#1a1a1a" stroke-width="0.6"><ellipse cx="203.4" cy="95.4" rx="3.2" ry="1.2" transform="rotate(-20 203.4 95.4)"/><ellipse cx="204.4" cy="94.8" rx="6.6" ry="2.3" transform="rotate(-22 204.4 94.8)"/><ellipse cx="206.2" cy="93.6" rx="10.2" ry="3.4" transform="rotate(-26 206.2 93.6)"/><ellipse cx="222" cy="84.5" rx="5" ry="1.6" transform="rotate(-38 222 84.5)"/><ellipse cx="223.5" cy="83" rx="9" ry="2.8" transform="rotate(-38 223.5 83)"/></g>
<rect x="181.5" y="43.5" width="80.5" height="72" fill="none" stroke="#222" stroke-width="0.9"/>
<path d="M211.7,43.5V115.5M181.5,89.5H262" stroke="#111" stroke-width="1.1"/>
<path d="M298.9,50.3H302.5M298.9,67.2H302.5M298.9,84.2H302.5M298.9,103.4H302.5M338.4,115.5V119.2M356.7,115.5V119.2M375,115.5V119.2M314.3,115.5V118.9" stroke="#111" stroke-width="0.9" fill="none"/>
<path d="M300.7,62.18H302.5M300.7,59.19H302.5M300.7,57.06H302.5M299.7,55.42H302.5M299.7,54.07H302.5M299.7,52.93H302.5M299.7,51.95H302.5M299.7,51.08H302.5M300.7,79.08H302.5M300.7,76.09H302.5M300.7,73.96H302.5M299.7,72.32H302.5M299.7,70.97H302.5M299.7,69.83H302.5M299.7,68.85H302.5M299.7,67.98H302.5M300.7,96.08H302.5M300.7,93.09H302.5M300.7,90.96H302.5M299.7,89.32H302.5M299.7,87.97H302.5M299.7,86.83H302.5M299.7,85.85H302.5M299.7,84.98H302.5M300.3,91.5H302.5M300.3,94H302.5M300.3,96.6H302.5M300.3,99.3H302.5M300.3,106.6H302.5M300.3,109.8H302.5M300.3,112.6H302.5M332.89,115.5V118.8M334.34,115.5V118.8M335.57,115.5V118.8M336.63,115.5V118.8M337.56,115.5V118.8M343.91,115.5V117.7M347.13,115.5V117.7M349.42,115.5V117.7M351.19,115.5V118.8M352.64,115.5V118.8M353.87,115.5V118.8M354.93,115.5V118.8M355.86,115.5V118.8M362.21,115.5V117.7M365.43,115.5V117.7M367.72,115.5V117.7M369.49,115.5V118.8M370.94,115.5V118.8M372.17,115.5V118.8M373.23,115.5V118.8M374.16,115.5V118.8M302.9,115.5V118.5M305.6,115.5V118.5M309.5,115.5V118.5M318.6,115.5V118.5M323,115.5V118.5M326.8,115.5V118.5M329.4,115.5V118.5M331.2,115.5V118.5M334.2,115.5V118.5M336.4,115.5V118.5" stroke="#2a2a2a" stroke-width="0.8" fill="none"/>
<text x="287.5" y="52.8" font-size="5.2" font-weight="bold" font-family='"Liberation Serif", serif' class="sf">10<tspan font-size="3.4" dy="-1.9">5</tspan></text>
<text x="287.5" y="69.8" font-size="5.2" font-weight="bold" font-family='"Liberation Serif", serif' class="sf">10<tspan font-size="3.4" dy="-1.9">4</tspan></text>
<text x="287.5" y="88.3" font-size="5.2" font-weight="bold" font-family='"Liberation Serif", serif' class="sf">10<tspan font-size="3.4" dy="-1.9">3</tspan></text>
<text x="288.4" y="106.1" font-size="5.4" text-anchor="middle" font-weight="bold" font-family='"Liberation Serif", serif' class="sf">0</text>
<text x="314.9" y="127.6" font-size="5.4" font-weight="bold" text-anchor="middle" font-family='"Liberation Serif", serif' class="sf">0</text>
<text x="335.5" y="127.6" font-size="5.2" font-weight="bold" font-family='"Liberation Serif", serif' class="sf">10<tspan font-size="3.4" dy="-1.9">3</tspan></text>
<text x="353.9" y="127.6" font-size="5.2" font-weight="bold" font-family='"Liberation Serif", serif' class="sf">10<tspan font-size="3.4" dy="-1.9">4</tspan></text>
<text x="371.3" y="127.6" font-size="5.2" font-weight="bold" font-family='"Liberation Serif", serif' class="sf">10<tspan font-size="3.4" dy="-1.9">5</tspan></text>
<rect x="298.1" y="117.3" width="1" height="1.4" fill="#222"/>
<g fill="#666" opacity="1.0"><rect x="333.92" y="100.18" width="0.8" height="0.8"/><rect x="335.97" y="88.3" width="0.8" height="0.8"/><rect x="322.62" y="94.84" width="0.8" height="0.8"/><rect x="328.3" y="94.6" width="0.8" height="0.8"/><rect x="341.6" y="97.21" width="0.8" height="0.8"/><rect x="329.15" y="97.68" width="0.8" height="0.8"/><rect x="322.18" y="90.32" width="0.8" height="0.8"/><rect x="340.39" y="92.47" width="0.8" height="0.8"/><rect x="325.02" y="88.2" width="0.8" height="0.8"/><rect x="346.23" y="85.53" width="0.8" height="0.8"/><rect x="337.23" y="85.68" width="0.8" height="0.8"/><rect x="333.68" y="91.39" width="0.8" height="0.8"/><rect x="339.22" y="88.21" width="0.8" height="0.8"/><rect x="328.91" y="88.11" width="0.8" height="0.8"/><rect x="334.78" y="95.44" width="0.8" height="0.8"/><rect x="337.41" y="85.68" width="0.8" height="0.8"/><rect x="336.41" y="95.28" width="0.8" height="0.8"/><rect x="326.23" y="96.53" width="0.8" height="0.8"/><rect x="335.42" y="101.58" width="0.8" height="0.8"/><rect x="337.4" y="101.61" width="0.8" height="0.8"/><rect x="330.34" y="94.04" width="0.8" height="0.8"/><rect x="332.75" y="82.72" width="0.8" height="0.8"/><rect x="327.11" y="99.33" width="0.8" height="0.8"/><rect x="329.93" y="97.66" width="0.8" height="0.8"/><rect x="329.44" y="87.57" width="0.8" height="0.8"/><rect x="331.22" y="99.38" width="0.8" height="0.8"/><rect x="332.38" y="105.14" width="0.8" height="0.8"/><rect x="335.09" y="91.99" width="0.8" height="0.8"/><rect x="336.15" y="104.37" width="0.8" height="0.8"/><rect x="326.21" y="90.88" width="0.8" height="0.8"/><rect x="325.89" y="87.99" width="0.8" height="0.8"/><rect x="336.96" y="94.78" width="0.8" height="0.8"/><rect x="337.19" y="88.26" width="0.8" height="0.8"/><rect x="332.43" y="88.01" width="0.8" height="0.8"/><rect x="325.01" y="87.21" width="0.8" height="0.8"/><rect x="334.39" y="87.27" width="0.8" height="0.8"/><rect x="332.88" y="92.36" width="0.8" height="0.8"/><rect x="333.27" y="90.74" width="0.8" height="0.8"/><rect x="334.81" y="93.36" width="0.8" height="0.8"/><rect x="333.73" y="83.26" width="0.8" height="0.8"/><rect x="327.15" y="87.1" width="0.8" height="0.8"/><rect x="322.54" y="91.75" width="0.8" height="0.8"/><rect x="340.83" y="97.73" width="0.8" height="0.8"/><rect x="335.74" y="88.97" width="0.8" height="0.8"/><rect x="334.49" y="93.55" width="0.8" height="0.8"/><rect x="332.78" y="82.32" width="0.8" height="0.8"/><rect x="342.53" y="97.3" width="0.8" height="0.8"/><rect x="350.83" y="80.45" width="0.8" height="0.8"/><rect x="336.62" y="90.82" width="0.8" height="0.8"/><rect x="342.1" y="87.87" width="0.8" height="0.8"/><rect x="341.75" y="89.1" width="0.8" height="0.8"/><rect x="336.83" y="102.24" width="0.8" height="0.8"/><rect x="337.18" y="88.06" width="0.8" height="0.8"/><rect x="335.35" y="81.62" width="0.8" height="0.8"/><rect x="340.32" y="87.24" width="0.8" height="0.8"/><rect x="343.19" y="91.06" width="0.8" height="0.8"/><rect x="337.12" y="86.66" width="0.8" height="0.8"/><rect x="323.26" y="88.64" width="0.8" height="0.8"/><rect x="330.49" y="90.83" width="0.8" height="0.8"/><rect x="343.78" y="90.99" width="0.8" height="0.8"/><rect x="322.82" y="95.07" width="0.8" height="0.8"/><rect x="340.37" y="92.88" width="0.8" height="0.8"/><rect x="333.63" y="90.66" width="0.8" height="0.8"/><rect x="337.17" y="96.62" width="0.8" height="0.8"/><rect x="332.6" y="98.75" width="0.8" height="0.8"/><rect x="343.47" y="93.61" width="0.8" height="0.8"/><rect x="320.38" y="97.87" width="0.8" height="0.8"/><rect x="339.47" y="91.53" width="0.8" height="0.8"/><rect x="340.48" y="83.29" width="0.8" height="0.8"/><rect x="320.91" y="109.82" width="0.8" height="0.8"/><rect x="335.61" y="88.38" width="0.8" height="0.8"/><rect x="329.62" y="95.36" width="0.8" height="0.8"/><rect x="332.57" y="90.68" width="0.8" height="0.8"/><rect x="333.39" y="81.06" width="0.8" height="0.8"/><rect x="340.22" y="96.26" width="0.8" height="0.8"/><rect x="338.47" y="95.77" width="0.8" height="0.8"/><rect x="337.38" y="90.52" width="0.8" height="0.8"/><rect x="346.53" y="88.49" width="0.8" height="0.8"/><rect x="324.74" y="104.9" width="0.8" height="0.8"/><rect x="327.07" y="89.13" width="0.8" height="0.8"/><rect x="345.13" y="88.42" width="0.8" height="0.8"/><rect x="336.6" y="89.46" width="0.8" height="0.8"/><rect x="332.77" y="86.89" width="0.8" height="0.8"/><rect x="340.71" y="92.26" width="0.8" height="0.8"/><rect x="324.57" y="95.03" width="0.8" height="0.8"/><rect x="332.09" y="88.93" width="0.8" height="0.8"/><rect x="329.7" y="93.4" width="0.8" height="0.8"/><rect x="335.37" y="87.26" width="0.8" height="0.8"/><rect x="328.07" y="83.89" width="0.8" height="0.8"/><rect x="318.33" y="95.76" width="0.8" height="0.8"/><rect x="337.28" y="87.88" width="0.8" height="0.8"/><rect x="328.16" y="108.09" width="0.8" height="0.8"/><rect x="333.71" y="93.77" width="0.8" height="0.8"/><rect x="336.4" y="87.03" width="0.8" height="0.8"/><rect x="334.61" y="86.93" width="0.8" height="0.8"/><rect x="331.09" y="90.72" width="0.8" height="0.8"/><rect x="330.07" y="80.02" width="0.8" height="0.8"/><rect x="319.28" y="96.11" width="0.8" height="0.8"/><rect x="322.64" y="92.33" width="0.8" height="0.8"/><rect x="325.78" y="96.32" width="0.8" height="0.8"/><rect x="331.84" y="88.65" width="0.8" height="0.8"/><rect x="333.45" y="88.55" width="0.8" height="0.8"/><rect x="333.22" y="108.68" width="0.8" height="0.8"/><rect x="338.45" y="93.55" width="0.8" height="0.8"/><rect x="325.59" y="85.85" width="0.8" height="0.8"/><rect x="335.21" y="91.16" width="0.8" height="0.8"/><rect x="347.63" y="89.72" width="0.8" height="0.8"/><rect x="349.86" y="97.51" width="0.8" height="0.8"/><rect x="327.51" y="94.24" width="0.8" height="0.8"/><rect x="337.98" y="96.41" width="0.8" height="0.8"/><rect x="336.51" y="93.29" width="0.8" height="0.8"/><rect x="340.68" y="87.18" width="0.8" height="0.8"/><rect x="324.37" y="87.05" width="0.8" height="0.8"/><rect x="329.91" y="85.03" width="0.8" height="0.8"/><rect x="341.32" y="88.82" width="0.8" height="0.8"/><rect x="331.6" y="92.77" width="0.8" height="0.8"/><rect x="331.83" y="96.63" width="0.8" height="0.8"/><rect x="320.47" y="102.29" width="0.8" height="0.8"/><rect x="333.83" y="92.9" width="0.8" height="0.8"/><rect x="326.44" y="100.64" width="0.8" height="0.8"/><rect x="335.63" y="98.65" width="0.8" height="0.8"/><rect x="339.04" y="88.82" width="0.8" height="0.8"/><rect x="332.44" y="88.96" width="0.8" height="0.8"/><rect x="344.65" y="89.47" width="0.8" height="0.8"/><rect x="327.96" y="94.02" width="0.8" height="0.8"/><rect x="332.73" y="92.96" width="0.8" height="0.8"/><rect x="342.83" y="87.01" width="0.8" height="0.8"/><rect x="335.89" y="94.73" width="0.8" height="0.8"/><rect x="317.27" y="99.12" width="0.8" height="0.8"/><rect x="336.92" y="104.53" width="0.8" height="0.8"/><rect x="345.87" y="90.24" width="0.8" height="0.8"/><rect x="335.01" y="89.53" width="0.8" height="0.8"/><rect x="333.22" y="106.94" width="0.8" height="0.8"/><rect x="334.59" y="89.96" width="0.8" height="0.8"/><rect x="320.88" y="94.66" width="0.8" height="0.8"/><rect x="336.65" y="89.38" width="0.8" height="0.8"/><rect x="327.64" y="91.65" width="0.8" height="0.8"/><rect x="333.18" y="92.79" width="0.8" height="0.8"/><rect x="338.34" y="87.46" width="0.8" height="0.8"/><rect x="327.22" y="96.34" width="0.8" height="0.8"/><rect x="337.28" y="87.17" width="0.8" height="0.8"/><rect x="336.06" y="93.84" width="0.8" height="0.8"/><rect x="334.26" y="101.79" width="0.8" height="0.8"/><rect x="337.55" y="76.9" width="0.8" height="0.8"/><rect x="338.04" y="83.86" width="0.8" height="0.8"/><rect x="338.55" y="96.5" width="0.8" height="0.8"/><rect x="326.78" y="80.95" width="0.8" height="0.8"/><rect x="327.36" y="98.74" width="0.8" height="0.8"/><rect x="325.72" y="100.19" width="0.8" height="0.8"/><rect x="331" y="79.25" width="0.8" height="0.8"/><rect x="333.62" y="84.81" width="0.8" height="0.8"/><rect x="343.93" y="82.03" width="0.8" height="0.8"/><rect x="342.93" y="96.87" width="0.8" height="0.8"/><rect x="328.35" y="107.33" width="0.8" height="0.8"/><rect x="338.56" y="99.03" width="0.8" height="0.8"/><rect x="345.29" y="92.56" width="0.8" height="0.8"/><rect x="327.15" y="96.26" width="0.8" height="0.8"/><rect x="329.83" y="94.27" width="0.8" height="0.8"/><rect x="332.51" y="86.41" width="0.8" height="0.8"/><rect x="339.39" y="81.87" width="0.8" height="0.8"/><rect x="334.2" y="101.83" width="0.8" height="0.8"/><rect x="330.86" y="97.63" width="0.8" height="0.8"/><rect x="336.98" y="89.37" width="0.8" height="0.8"/><rect x="323.71" y="95" width="0.8" height="0.8"/><rect x="347.39" y="87.59" width="0.8" height="0.8"/><rect x="337.67" y="82.41" width="0.8" height="0.8"/><rect x="333.03" y="86.24" width="0.8" height="0.8"/><rect x="332.01" y="87.65" width="0.8" height="0.8"/><rect x="328.4" y="93.4" width="0.8" height="0.8"/><rect x="334.96" y="102.16" width="0.8" height="0.8"/><rect x="322.41" y="98.33" width="0.8" height="0.8"/><rect x="343.64" y="89.65" width="0.8" height="0.8"/><rect x="334.21" y="101.05" width="0.8" height="0.8"/><rect x="330.56" y="99.21" width="0.8" height="0.8"/><rect x="343.95" y="96.1" width="0.8" height="0.8"/><rect x="329.62" y="90.75" width="0.8" height="0.8"/><rect x="336.88" y="94.91" width="0.8" height="0.8"/><rect x="332.03" y="108.82" width="0.8" height="0.8"/><rect x="334.71" y="85.5" width="0.8" height="0.8"/><rect x="331.13" y="83.46" width="0.8" height="0.8"/><rect x="341.94" y="90.64" width="0.8" height="0.8"/><rect x="322.52" y="94.75" width="0.8" height="0.8"/><rect x="330.66" y="93.22" width="0.8" height="0.8"/><rect x="328.08" y="89.97" width="0.8" height="0.8"/><rect x="324.29" y="93.72" width="0.8" height="0.8"/><rect x="336.31" y="85.56" width="0.8" height="0.8"/><rect x="335.89" y="96.42" width="0.8" height="0.8"/><rect x="342.99" y="94.47" width="0.8" height="0.8"/><rect x="330.6" y="87.8" width="0.8" height="0.8"/><rect x="327.37" y="93.44" width="0.8" height="0.8"/><rect x="335" y="89.77" width="0.8" height="0.8"/><rect x="328.02" y="90.68" width="0.8" height="0.8"/><rect x="339.86" y="94.74" width="0.8" height="0.8"/><rect x="330.58" y="88.64" width="0.8" height="0.8"/><rect x="329.65" y="83.04" width="0.8" height="0.8"/><rect x="331.33" y="95.88" width="0.8" height="0.8"/><rect x="329.45" y="98.16" width="0.8" height="0.8"/><rect x="332.74" y="84.04" width="0.8" height="0.8"/><rect x="336.38" y="91.03" width="0.8" height="0.8"/><rect x="321.53" y="84.4" width="0.8" height="0.8"/><rect x="332.61" y="90.79" width="0.8" height="0.8"/><rect x="339.55" y="92.48" width="0.8" height="0.8"/><rect x="318.51" y="86.16" width="0.8" height="0.8"/><rect x="335.17" y="97.97" width="0.8" height="0.8"/><rect x="339.78" y="80.52" width="0.8" height="0.8"/><rect x="334.68" y="92.71" width="0.8" height="0.8"/><rect x="340.67" y="77.5" width="0.8" height="0.8"/><rect x="343.69" y="82.22" width="0.8" height="0.8"/><rect x="341.75" y="90.13" width="0.8" height="0.8"/><rect x="334.24" y="92.32" width="0.8" height="0.8"/><rect x="337.64" y="89.7" width="0.8" height="0.8"/><rect x="345.33" y="96.91" width="0.8" height="0.8"/><rect x="315.19" y="110.19" width="0.8" height="0.8"/><rect x="335.46" y="86.36" width="0.8" height="0.8"/><rect x="335.72" y="96.25" width="0.8" height="0.8"/><rect x="323.91" y="97.92" width="0.8" height="0.8"/><rect x="342.55" y="87.26" width="0.8" height="0.8"/><rect x="329.08" y="95.33" width="0.8" height="0.8"/><rect x="338.73" y="89.16" width="0.8" height="0.8"/><rect x="340.77" y="92.56" width="0.8" height="0.8"/><rect x="335.73" y="97.67" width="0.8" height="0.8"/><rect x="335.57" y="89.76" width="0.8" height="0.8"/><rect x="329.68" y="97.3" width="0.8" height="0.8"/><rect x="332.69" y="101.14" width="0.8" height="0.8"/><rect x="328.38" y="86.84" width="0.8" height="0.8"/><rect x="338.75" y="98.45" width="0.8" height="0.8"/><rect x="336.98" y="95" width="0.8" height="0.8"/><rect x="339.04" y="89.06" width="0.8" height="0.8"/><rect x="328.22" y="85.35" width="0.8" height="0.8"/><rect x="336.18" y="93.44" width="0.8" height="0.8"/><rect x="334.71" y="94.71" width="0.8" height="0.8"/><rect x="331.58" y="94.03" width="0.8" height="0.8"/><rect x="325.8" y="88.28" width="0.8" height="0.8"/><rect x="321.49" y="84.42" width="0.8" height="0.8"/><rect x="330.48" y="94.68" width="0.8" height="0.8"/><rect x="339.51" y="84.28" width="0.8" height="0.8"/><rect x="329.6" y="91.63" width="0.8" height="0.8"/><rect x="330.46" y="93.99" width="0.8" height="0.8"/><rect x="328.52" y="86.59" width="0.8" height="0.8"/><rect x="334.04" y="89.27" width="0.8" height="0.8"/><rect x="334.45" y="85.19" width="0.8" height="0.8"/><rect x="347.73" y="92.01" width="0.8" height="0.8"/><rect x="336.02" y="95.15" width="0.8" height="0.8"/><rect x="348.16" y="94.94" width="0.8" height="0.8"/><rect x="327.96" y="98.25" width="0.8" height="0.8"/><rect x="326.57" y="99.06" width="0.8" height="0.8"/><rect x="330.43" y="86.99" width="0.8" height="0.8"/><rect x="327.58" y="94.92" width="0.8" height="0.8"/><rect x="340.82" y="98.01" width="0.8" height="0.8"/><rect x="331.59" y="89.24" width="0.8" height="0.8"/><rect x="330.36" y="86.68" width="0.8" height="0.8"/><rect x="336.01" y="92.26" width="0.8" height="0.8"/><rect x="336.32" y="96.64" width="0.8" height="0.8"/><rect x="340.21" y="84" width="0.8" height="0.8"/><rect x="331.46" y="90.96" width="0.8" height="0.8"/><rect x="339.55" y="96.31" width="0.8" height="0.8"/><rect x="335.01" y="101.12" width="0.8" height="0.8"/><rect x="344.34" y="84.24" width="0.8" height="0.8"/><rect x="323.32" y="96.09" width="0.8" height="0.8"/><rect x="334.17" y="96.73" width="0.8" height="0.8"/><rect x="332.06" y="91.68" width="0.8" height="0.8"/><rect x="341.35" y="93.27" width="0.8" height="0.8"/><rect x="331.05" y="102.7" width="0.8" height="0.8"/><rect x="329.27" y="87.97" width="0.8" height="0.8"/><rect x="325.91" y="93.04" width="0.8" height="0.8"/><rect x="333.28" y="96.32" width="0.8" height="0.8"/><rect x="336.61" y="90.97" width="0.8" height="0.8"/><rect x="335.6" y="87.31" width="0.8" height="0.8"/><rect x="321.62" y="92.29" width="0.8" height="0.8"/><rect x="334.62" y="95.43" width="0.8" height="0.8"/><rect x="333.89" y="86.56" width="0.8" height="0.8"/><rect x="342.42" y="87.86" width="0.8" height="0.8"/><rect x="334.91" y="88.65" width="0.8" height="0.8"/><rect x="335.41" y="93.76" width="0.8" height="0.8"/><rect x="335.23" y="86.57" width="0.8" height="0.8"/><rect x="333.73" y="95.1" width="0.8" height="0.8"/><rect x="337.32" y="99.01" width="0.8" height="0.8"/><rect x="329.09" y="101.65" width="0.8" height="0.8"/><rect x="328.01" y="95.25" width="0.8" height="0.8"/><rect x="331.15" y="100.95" width="0.8" height="0.8"/><rect x="339.39" y="87.04" width="0.8" height="0.8"/><rect x="325.63" y="93.23" width="0.8" height="0.8"/><rect x="340.77" y="93.24" width="0.8" height="0.8"/><rect x="318.49" y="82.41" width="0.8" height="0.8"/><rect x="340.02" y="90.69" width="0.8" height="0.8"/><rect x="337.34" y="94.47" width="0.8" height="0.8"/><rect x="335.28" y="97.1" width="0.8" height="0.8"/><rect x="325.89" y="92.91" width="0.8" height="0.8"/><rect x="334.88" y="91.19" width="0.8" height="0.8"/><rect x="329.32" y="93.16" width="0.8" height="0.8"/><rect x="331.41" y="97.96" width="0.8" height="0.8"/><rect x="331.8" y="99.37" width="0.8" height="0.8"/><rect x="332.33" y="84.14" width="0.8" height="0.8"/><rect x="314.55" y="105.31" width="0.8" height="0.8"/><rect x="331.9" y="91.72" width="0.8" height="0.8"/><rect x="329.38" y="98.89" width="0.8" height="0.8"/><rect x="337.44" y="92.04" width="0.8" height="0.8"/><rect x="326.68" y="100.8" width="0.8" height="0.8"/><rect x="330.88" y="91.38" width="0.8" height="0.8"/><rect x="320.84" y="86.71" width="0.8" height="0.8"/><rect x="330.54" y="95.12" width="0.8" height="0.8"/><rect x="337.47" y="88.53" width="0.8" height="0.8"/><rect x="334.41" y="88.47" width="0.8" height="0.8"/><rect x="334.46" y="90.58" width="0.8" height="0.8"/><rect x="333.68" y="81.9" width="0.8" height="0.8"/><rect x="334.07" y="94.46" width="0.8" height="0.8"/><rect x="338.57" y="106.33" width="0.8" height="0.8"/><rect x="334.17" y="96.65" width="0.8" height="0.8"/><rect x="342.79" y="89.18" width="0.8" height="0.8"/><rect x="335.96" y="98.86" width="0.8" height="0.8"/><rect x="341.38" y="97.58" width="0.8" height="0.8"/><rect x="330.2" y="103.06" width="0.8" height="0.8"/><rect x="341.24" y="95.55" width="0.8" height="0.8"/><rect x="325.9" y="94.12" width="0.8" height="0.8"/><rect x="331.98" y="88.91" width="0.8" height="0.8"/><rect x="332.64" y="87.81" width="0.8" height="0.8"/><rect x="337.92" y="90.62" width="0.8" height="0.8"/><rect x="324.08" y="86.32" width="0.8" height="0.8"/><rect x="332.72" y="97.93" width="0.8" height="0.8"/><rect x="332.5" y="88.8" width="0.8" height="0.8"/></g>
<g fill="#111" opacity="1.0"><rect x="338.19" y="85.71" width="0.9" height="0.9"/><rect x="335.01" y="86.32" width="0.9" height="0.9"/><rect x="331.44" y="88.96" width="0.9" height="0.9"/><rect x="333.32" y="85.08" width="0.9" height="0.9"/><rect x="336.55" y="87.57" width="0.9" height="0.9"/><rect x="331.72" y="91.35" width="0.9" height="0.9"/><rect x="333.11" y="86.42" width="0.9" height="0.9"/><rect x="333.82" y="84.17" width="0.9" height="0.9"/><rect x="333.62" y="85.15" width="0.9" height="0.9"/><rect x="328.41" y="84.91" width="0.9" height="0.9"/><rect x="333.05" y="85.03" width="0.9" height="0.9"/><rect x="330.45" y="87.99" width="0.9" height="0.9"/><rect x="328.49" y="84.88" width="0.9" height="0.9"/><rect x="335.97" y="84.69" width="0.9" height="0.9"/><rect x="331.04" y="85.76" width="0.9" height="0.9"/><rect x="330.41" y="81.71" width="0.9" height="0.9"/><rect x="338.08" y="86.97" width="0.9" height="0.9"/><rect x="332.94" y="85.37" width="0.9" height="0.9"/><rect x="339.23" y="85" width="0.9" height="0.9"/><rect x="336.36" y="84.37" width="0.9" height="0.9"/><rect x="333.1" y="84.35" width="0.9" height="0.9"/><rect x="325.52" y="86.03" width="0.9" height="0.9"/><rect x="333.63" y="84.8" width="0.9" height="0.9"/><rect x="330.83" y="89.13" width="0.9" height="0.9"/><rect x="336.46" y="87.7" width="0.9" height="0.9"/><rect x="331.4" y="85.46" width="0.9" height="0.9"/><rect x="331.15" y="86.32" width="0.9" height="0.9"/><rect x="335.99" y="83.73" width="0.9" height="0.9"/><rect x="324.3" y="88.7" width="0.9" height="0.9"/><rect x="334.4" y="81.53" width="0.9" height="0.9"/><rect x="329.56" y="88.3" width="0.9" height="0.9"/><rect x="333.41" y="91.57" width="0.9" height="0.9"/><rect x="334.64" y="85.16" width="0.9" height="0.9"/><rect x="337.41" y="87.87" width="0.9" height="0.9"/><rect x="333.42" y="82.47" width="0.9" height="0.9"/><rect x="330.93" y="90.39" width="0.9" height="0.9"/><rect x="335.13" y="92.18" width="0.9" height="0.9"/><rect x="335.48" y="83.52" width="0.9" height="0.9"/><rect x="332.94" y="85.39" width="0.9" height="0.9"/><rect x="333.36" y="89.36" width="0.9" height="0.9"/><rect x="334.3" y="86.96" width="0.9" height="0.9"/><rect x="333.94" y="91.85" width="0.9" height="0.9"/><rect x="331.04" y="83.82" width="0.9" height="0.9"/><rect x="330.23" y="88.88" width="0.9" height="0.9"/><rect x="335.3" y="85.97" width="0.9" height="0.9"/><rect x="333.95" y="84.48" width="0.9" height="0.9"/><rect x="334.68" y="85.98" width="0.9" height="0.9"/><rect x="334.38" y="91.07" width="0.9" height="0.9"/><rect x="333.55" y="87.92" width="0.9" height="0.9"/><rect x="334.05" y="83.35" width="0.9" height="0.9"/><rect x="325.64" y="84.36" width="0.9" height="0.9"/><rect x="336.98" y="90.89" width="0.9" height="0.9"/><rect x="337.77" y="83.78" width="0.9" height="0.9"/><rect x="333.15" y="85.26" width="0.9" height="0.9"/><rect x="329.18" y="86.13" width="0.9" height="0.9"/><rect x="332.46" y="82.44" width="0.9" height="0.9"/><rect x="338.5" y="86.1" width="0.9" height="0.9"/><rect x="332.23" y="84.46" width="0.9" height="0.9"/><rect x="334.03" y="87.09" width="0.9" height="0.9"/><rect x="332.18" y="82.8" width="0.9" height="0.9"/><rect x="340.86" y="86.22" width="0.9" height="0.9"/><rect x="334.74" y="90.81" width="0.9" height="0.9"/><rect x="334.45" y="90.56" width="0.9" height="0.9"/><rect x="337.53" y="88.94" width="0.9" height="0.9"/><rect x="328.15" y="89.42" width="0.9" height="0.9"/><rect x="331.42" y="84" width="0.9" height="0.9"/><rect x="329.61" y="86.27" width="0.9" height="0.9"/><rect x="330.25" y="85.55" width="0.9" height="0.9"/><rect x="333.28" y="89.86" width="0.9" height="0.9"/><rect x="335.78" y="91.8" width="0.9" height="0.9"/><rect x="338.82" y="95.05" width="0.9" height="0.9"/><rect x="334.52" y="81.19" width="0.9" height="0.9"/><rect x="330.73" y="87.06" width="0.9" height="0.9"/><rect x="333.53" y="88.14" width="0.9" height="0.9"/><rect x="333.77" y="84.35" width="0.9" height="0.9"/><rect x="330.3" y="92.28" width="0.9" height="0.9"/><rect x="331.61" y="83.76" width="0.9" height="0.9"/><rect x="334.2" y="87.26" width="0.9" height="0.9"/><rect x="330.64" y="91.62" width="0.9" height="0.9"/><rect x="330.33" y="86.26" width="0.9" height="0.9"/><rect x="329.56" y="88.41" width="0.9" height="0.9"/><rect x="338.04" y="90.35" width="0.9" height="0.9"/><rect x="331.73" y="89.25" width="0.9" height="0.9"/><rect x="332.71" y="88.53" width="0.9" height="0.9"/><rect x="335.73" y="88.56" width="0.9" height="0.9"/><rect x="331.24" y="80.03" width="0.9" height="0.9"/><rect x="337.63" y="82.32" width="0.9" height="0.9"/><rect x="340.56" y="88.32" width="0.9" height="0.9"/><rect x="336.57" y="86.2" width="0.9" height="0.9"/><rect x="331.43" y="90.06" width="0.9" height="0.9"/><rect x="342.28" y="83.24" width="0.9" height="0.9"/><rect x="338.28" y="84.49" width="0.9" height="0.9"/><rect x="336.3" y="84.37" width="0.9" height="0.9"/><rect x="330.04" y="86.2" width="0.9" height="0.9"/><rect x="329.56" y="91.99" width="0.9" height="0.9"/><rect x="334.12" y="86.08" width="0.9" height="0.9"/><rect x="337.57" y="84.36" width="0.9" height="0.9"/><rect x="331.62" y="85.09" width="0.9" height="0.9"/><rect x="336.43" y="89.37" width="0.9" height="0.9"/><rect x="333.19" y="90.99" width="0.9" height="0.9"/><rect x="331.48" y="85.06" width="0.9" height="0.9"/><rect x="328.76" y="82.49" width="0.9" height="0.9"/><rect x="328.79" y="87.2" width="0.9" height="0.9"/><rect x="340.46" y="83.58" width="0.9" height="0.9"/><rect x="337.5" y="80.88" width="0.9" height="0.9"/><rect x="331.59" y="93.62" width="0.9" height="0.9"/><rect x="332.05" y="82.04" width="0.9" height="0.9"/><rect x="330.3" y="84.33" width="0.9" height="0.9"/><rect x="333.77" y="83.19" width="0.9" height="0.9"/><rect x="333.48" y="82.19" width="0.9" height="0.9"/><rect x="328.71" y="86.2" width="0.9" height="0.9"/><rect x="334.76" y="90.74" width="0.9" height="0.9"/><rect x="325.68" y="91.76" width="0.9" height="0.9"/><rect x="326.02" y="86.84" width="0.9" height="0.9"/><rect x="330.3" y="86.86" width="0.9" height="0.9"/><rect x="332.25" y="78.88" width="0.9" height="0.9"/><rect x="335.38" y="86.1" width="0.9" height="0.9"/><rect x="338.03" y="81.95" width="0.9" height="0.9"/><rect x="339.42" y="84.83" width="0.9" height="0.9"/><rect x="336.98" y="88.59" width="0.9" height="0.9"/><rect x="341" y="85.04" width="0.9" height="0.9"/><rect x="333.04" y="83.49" width="0.9" height="0.9"/><rect x="334.52" y="86.65" width="0.9" height="0.9"/><rect x="331.28" y="85.5" width="0.9" height="0.9"/><rect x="333.9" y="85.81" width="0.9" height="0.9"/><rect x="338.27" y="81.82" width="0.9" height="0.9"/><rect x="336.88" y="89.42" width="0.9" height="0.9"/><rect x="331.98" y="87.12" width="0.9" height="0.9"/><rect x="329.91" y="81.65" width="0.9" height="0.9"/><rect x="333.27" y="88.73" width="0.9" height="0.9"/><rect x="333.56" y="85.6" width="0.9" height="0.9"/><rect x="336.17" y="89.67" width="0.9" height="0.9"/><rect x="334.72" y="88.18" width="0.9" height="0.9"/><rect x="332.07" y="82.87" width="0.9" height="0.9"/><rect x="339.57" y="89.9" width="0.9" height="0.9"/><rect x="331.74" y="84.09" width="0.9" height="0.9"/><rect x="333.06" y="85.42" width="0.9" height="0.9"/><rect x="338.59" y="80.36" width="0.9" height="0.9"/><rect x="331.79" y="89.31" width="0.9" height="0.9"/><rect x="326.46" y="86.56" width="0.9" height="0.9"/><rect x="333.1" y="83.94" width="0.9" height="0.9"/><rect x="333.14" y="86.54" width="0.9" height="0.9"/><rect x="337.64" y="80.73" width="0.9" height="0.9"/><rect x="338.98" y="86.76" width="0.9" height="0.9"/><rect x="335.97" y="89.19" width="0.9" height="0.9"/><rect x="337.61" y="86.62" width="0.9" height="0.9"/><rect x="340.29" y="83.4" width="0.9" height="0.9"/><rect x="337" y="91.21" width="0.9" height="0.9"/><rect x="329.29" y="79.97" width="0.9" height="0.9"/><rect x="337.44" y="86.37" width="0.9" height="0.9"/><rect x="331.45" y="86.31" width="0.9" height="0.9"/><rect x="329.85" y="91.95" width="0.9" height="0.9"/><rect x="336.74" y="87.52" width="0.9" height="0.9"/><rect x="333.71" y="87.51" width="0.9" height="0.9"/><rect x="335.05" y="88.15" width="0.9" height="0.9"/><rect x="325.23" y="86.19" width="0.9" height="0.9"/><rect x="334.1" y="88.6" width="0.9" height="0.9"/><rect x="331.69" y="84.99" width="0.9" height="0.9"/><rect x="336.44" y="88.63" width="0.9" height="0.9"/><rect x="332.89" y="84.35" width="0.9" height="0.9"/><rect x="333.09" y="85.13" width="0.9" height="0.9"/><rect x="336.44" y="85.12" width="0.9" height="0.9"/><rect x="329.17" y="84.4" width="0.9" height="0.9"/><rect x="331.56" y="91.18" width="0.9" height="0.9"/><rect x="333.73" y="87.54" width="0.9" height="0.9"/><rect x="329.29" y="90.68" width="0.9" height="0.9"/><rect x="335.14" y="88.59" width="0.9" height="0.9"/><rect x="332.69" y="88.19" width="0.9" height="0.9"/><rect x="337.06" y="85.83" width="0.9" height="0.9"/><rect x="335.68" y="88.99" width="0.9" height="0.9"/><rect x="338.39" y="83.7" width="0.9" height="0.9"/><rect x="331.36" y="87.92" width="0.9" height="0.9"/><rect x="334.08" y="83.94" width="0.9" height="0.9"/><rect x="330.83" y="92.19" width="0.9" height="0.9"/><rect x="331.72" y="89.5" width="0.9" height="0.9"/><rect x="334.36" y="91.81" width="0.9" height="0.9"/><rect x="333.44" y="86.33" width="0.9" height="0.9"/><rect x="339.43" y="83.29" width="0.9" height="0.9"/><rect x="330.15" y="85.84" width="0.9" height="0.9"/><rect x="332.19" y="86.24" width="0.9" height="0.9"/><rect x="335.74" y="86.34" width="0.9" height="0.9"/><rect x="337.65" y="87.86" width="0.9" height="0.9"/><rect x="334.8" y="86.22" width="0.9" height="0.9"/><rect x="335.37" y="85.69" width="0.9" height="0.9"/><rect x="327.95" y="85.97" width="0.9" height="0.9"/><rect x="334" y="84.36" width="0.9" height="0.9"/><rect x="333.94" y="85.8" width="0.9" height="0.9"/><rect x="336.71" y="84.34" width="0.9" height="0.9"/><rect x="329.29" y="89.01" width="0.9" height="0.9"/><rect x="331.94" y="87.08" width="0.9" height="0.9"/><rect x="334.98" y="81.07" width="0.9" height="0.9"/><rect x="325.83" y="87.7" width="0.9" height="0.9"/><rect x="332.33" y="88.72" width="0.9" height="0.9"/><rect x="326.68" y="85.14" width="0.9" height="0.9"/><rect x="333.74" y="86.44" width="0.9" height="0.9"/><rect x="331.32" y="87.57" width="0.9" height="0.9"/><rect x="334.91" y="86.47" width="0.9" height="0.9"/><rect x="336.32" y="87.04" width="0.9" height="0.9"/><rect x="333.65" y="85.75" width="0.9" height="0.9"/><rect x="331.36" y="86.75" width="0.9" height="0.9"/><rect x="329.29" y="79.22" width="0.9" height="0.9"/><rect x="336.22" y="84.27" width="0.9" height="0.9"/><rect x="333.38" y="81.93" width="0.9" height="0.9"/><rect x="332.37" y="84.02" width="0.9" height="0.9"/><rect x="333.1" y="83.49" width="0.9" height="0.9"/><rect x="334.38" y="87.86" width="0.9" height="0.9"/><rect x="337.72" y="85.64" width="0.9" height="0.9"/><rect x="331.77" y="81.11" width="0.9" height="0.9"/><rect x="331.84" y="91.23" width="0.9" height="0.9"/><rect x="329.61" y="86.09" width="0.9" height="0.9"/><rect x="330.74" y="83.89" width="0.9" height="0.9"/><rect x="331.54" y="87.65" width="0.9" height="0.9"/><rect x="337.27" y="88.84" width="0.9" height="0.9"/><rect x="336.98" y="85.69" width="0.9" height="0.9"/><rect x="330.14" y="86.06" width="0.9" height="0.9"/><rect x="336.43" y="87.58" width="0.9" height="0.9"/><rect x="332.75" y="85.12" width="0.9" height="0.9"/><rect x="330.85" y="86.46" width="0.9" height="0.9"/><rect x="333.31" y="83.18" width="0.9" height="0.9"/><rect x="328.69" y="90.02" width="0.9" height="0.9"/><rect x="330.58" y="84.74" width="0.9" height="0.9"/><rect x="336.37" y="83.47" width="0.9" height="0.9"/><rect x="334.21" y="84.03" width="0.9" height="0.9"/><rect x="335.82" y="83.73" width="0.9" height="0.9"/><rect x="325.97" y="85.78" width="0.9" height="0.9"/><rect x="340.6" y="86.33" width="0.9" height="0.9"/><rect x="328.8" y="83.24" width="0.9" height="0.9"/><rect x="332.23" y="83.83" width="0.9" height="0.9"/><rect x="329.54" y="86.94" width="0.9" height="0.9"/><rect x="335.58" y="84.89" width="0.9" height="0.9"/><rect x="330.45" y="91.56" width="0.9" height="0.9"/><rect x="334.6" y="88.61" width="0.9" height="0.9"/><rect x="325.25" y="96.82" width="0.9" height="0.9"/><rect x="330.85" y="86.5" width="0.9" height="0.9"/><rect x="330.71" y="91.12" width="0.9" height="0.9"/><rect x="334.19" y="82.94" width="0.9" height="0.9"/><rect x="331.85" y="83.49" width="0.9" height="0.9"/><rect x="328.7" y="89.96" width="0.9" height="0.9"/><rect x="328.7" y="83.59" width="0.9" height="0.9"/><rect x="332.66" y="88.71" width="0.9" height="0.9"/><rect x="330.2" y="86.68" width="0.9" height="0.9"/><rect x="334.28" y="86.9" width="0.9" height="0.9"/><rect x="330.39" y="88.15" width="0.9" height="0.9"/><rect x="332.28" y="87.96" width="0.9" height="0.9"/><rect x="338.13" y="84.19" width="0.9" height="0.9"/><rect x="332.93" y="88.48" width="0.9" height="0.9"/><rect x="340.28" y="85.57" width="0.9" height="0.9"/><rect x="332.15" y="84.03" width="0.9" height="0.9"/><rect x="331.56" y="86.01" width="0.9" height="0.9"/><rect x="341.38" y="82.69" width="0.9" height="0.9"/><rect x="335.42" y="84.53" width="0.9" height="0.9"/><rect x="329.18" y="88.68" width="0.9" height="0.9"/><rect x="326.57" y="88.13" width="0.9" height="0.9"/><rect x="333.58" y="80.24" width="0.9" height="0.9"/><rect x="332.19" y="85.19" width="0.9" height="0.9"/><rect x="332.15" y="86.21" width="0.9" height="0.9"/><rect x="332.81" y="85.1" width="0.9" height="0.9"/><rect x="336.95" y="83.48" width="0.9" height="0.9"/><rect x="333.58" y="82.34" width="0.9" height="0.9"/><rect x="333.88" y="85.81" width="0.9" height="0.9"/><rect x="332.59" y="82.52" width="0.9" height="0.9"/><rect x="331.72" y="84.79" width="0.9" height="0.9"/><rect x="331.77" y="88.85" width="0.9" height="0.9"/><rect x="334.48" y="85.96" width="0.9" height="0.9"/><rect x="334.43" y="89.66" width="0.9" height="0.9"/><rect x="339.84" y="79.1" width="0.9" height="0.9"/><rect x="333.24" y="87.24" width="0.9" height="0.9"/><rect x="335.07" y="81.4" width="0.9" height="0.9"/><rect x="328.29" y="87.18" width="0.9" height="0.9"/><rect x="330.62" y="82.79" width="0.9" height="0.9"/><rect x="335.53" y="84.3" width="0.9" height="0.9"/><rect x="338.31" y="84.92" width="0.9" height="0.9"/><rect x="330.07" y="85.86" width="0.9" height="0.9"/><rect x="334.46" y="87.87" width="0.9" height="0.9"/><rect x="330.87" y="89.66" width="0.9" height="0.9"/><rect x="334.07" y="86.03" width="0.9" height="0.9"/><rect x="330.98" y="86" width="0.9" height="0.9"/><rect x="330.71" y="89.57" width="0.9" height="0.9"/><rect x="328.89" y="90.37" width="0.9" height="0.9"/><rect x="337.01" y="86.01" width="0.9" height="0.9"/></g>
<g fill="#0a0a0a" opacity="1.0"><rect x="341.46" y="81.88" width="0.9" height="0.9"/><rect x="353.81" y="70.44" width="0.9" height="0.9"/><rect x="349.03" y="80.38" width="0.9" height="0.9"/><rect x="339.23" y="78.56" width="0.9" height="0.9"/><rect x="336.08" y="92.68" width="0.9" height="0.9"/><rect x="370.93" y="63.24" width="0.9" height="0.9"/><rect x="338.5" y="87.86" width="0.9" height="0.9"/><rect x="352.42" y="75.21" width="0.9" height="0.9"/><rect x="343.22" y="77.34" width="0.9" height="0.9"/><rect x="339.59" y="90.99" width="0.9" height="0.9"/><rect x="332.06" y="90.29" width="0.9" height="0.9"/><rect x="357.33" y="71.19" width="0.9" height="0.9"/><rect x="337.03" y="86.71" width="0.9" height="0.9"/><rect x="339.58" y="88.28" width="0.9" height="0.9"/><rect x="346.84" y="89.06" width="0.9" height="0.9"/><rect x="343.88" y="75.36" width="0.9" height="0.9"/><rect x="337.89" y="82.2" width="0.9" height="0.9"/><rect x="351.76" y="69.2" width="0.9" height="0.9"/><rect x="361.16" y="67.31" width="0.9" height="0.9"/><rect x="344.56" y="80" width="0.9" height="0.9"/><rect x="345.57" y="73.77" width="0.9" height="0.9"/><rect x="355" y="72.89" width="0.9" height="0.9"/><rect x="363.94" y="65.52" width="0.9" height="0.9"/><rect x="371.53" y="61.11" width="0.9" height="0.9"/><rect x="350.9" y="73.72" width="0.9" height="0.9"/><rect x="336.42" y="86.91" width="0.9" height="0.9"/><rect x="346.86" y="75.31" width="0.9" height="0.9"/><rect x="362.9" y="67.13" width="0.9" height="0.9"/><rect x="344.92" y="80.28" width="0.9" height="0.9"/><rect x="365.58" y="64.68" width="0.9" height="0.9"/><rect x="332.81" y="89.2" width="0.9" height="0.9"/><rect x="359.16" y="70.65" width="0.9" height="0.9"/><rect x="337.64" y="84.86" width="0.9" height="0.9"/><rect x="330.07" y="81.52" width="0.9" height="0.9"/><rect x="359.05" y="70.74" width="0.9" height="0.9"/><rect x="341.69" y="80.97" width="0.9" height="0.9"/><rect x="344.01" y="81.19" width="0.9" height="0.9"/><rect x="332.61" y="82.99" width="0.9" height="0.9"/><rect x="355.95" y="67.84" width="0.9" height="0.9"/><rect x="370.72" y="61.02" width="0.9" height="0.9"/><rect x="334.59" y="85.12" width="0.9" height="0.9"/><rect x="339.07" y="87.54" width="0.9" height="0.9"/><rect x="337.16" y="89.67" width="0.9" height="0.9"/><rect x="344.96" y="78.99" width="0.9" height="0.9"/><rect x="338.83" y="75.5" width="0.9" height="0.9"/><rect x="333.95" y="91.73" width="0.9" height="0.9"/><rect x="342" y="77.57" width="0.9" height="0.9"/><rect x="337.52" y="87.92" width="0.9" height="0.9"/><rect x="346.75" y="81.4" width="0.9" height="0.9"/><rect x="352.32" y="73.85" width="0.9" height="0.9"/><rect x="344.84" y="79.9" width="0.9" height="0.9"/><rect x="353.4" y="75.17" width="0.9" height="0.9"/><rect x="355.5" y="66" width="0.9" height="0.9"/><rect x="330.57" y="87.87" width="0.9" height="0.9"/><rect x="340.96" y="83.53" width="0.9" height="0.9"/><rect x="345.39" y="79.7" width="0.9" height="0.9"/><rect x="357.68" y="69.74" width="0.9" height="0.9"/><rect x="359.07" y="68.95" width="0.9" height="0.9"/><rect x="347.73" y="80.56" width="0.9" height="0.9"/><rect x="332.1" y="89.24" width="0.9" height="0.9"/><rect x="352.33" y="74.33" width="0.9" height="0.9"/><rect x="334.72" y="85.73" width="0.9" height="0.9"/><rect x="361.31" y="63.26" width="0.9" height="0.9"/><rect x="364.42" y="67.68" width="0.9" height="0.9"/><rect x="331.92" y="86.7" width="0.9" height="0.9"/><rect x="342.9" y="81.02" width="0.9" height="0.9"/><rect x="350.4" y="76.05" width="0.9" height="0.9"/><rect x="363.19" y="71.03" width="0.9" height="0.9"/><rect x="361.07" y="66.65" width="0.9" height="0.9"/><rect x="337.56" y="80.34" width="0.9" height="0.9"/><rect x="339.14" y="87.92" width="0.9" height="0.9"/><rect x="328.92" y="82.91" width="0.9" height="0.9"/><rect x="354.74" y="73.57" width="0.9" height="0.9"/><rect x="345.4" y="79.62" width="0.9" height="0.9"/><rect x="335.59" y="80.75" width="0.9" height="0.9"/><rect x="354.39" y="68.39" width="0.9" height="0.9"/><rect x="370.84" y="65.32" width="0.9" height="0.9"/><rect x="338.58" y="81.27" width="0.9" height="0.9"/><rect x="356.74" y="74.45" width="0.9" height="0.9"/><rect x="345.21" y="77.48" width="0.9" height="0.9"/><rect x="343.1" y="78.14" width="0.9" height="0.9"/><rect x="342.08" y="79.13" width="0.9" height="0.9"/><rect x="355.9" y="68.95" width="0.9" height="0.9"/><rect x="351.26" y="76.74" width="0.9" height="0.9"/><rect x="351.1" y="75.47" width="0.9" height="0.9"/><rect x="366.11" y="63.62" width="0.9" height="0.9"/><rect x="367.89" y="67.05" width="0.9" height="0.9"/><rect x="351.27" y="72.36" width="0.9" height="0.9"/><rect x="345.41" y="73.85" width="0.9" height="0.9"/><rect x="371.96" y="64.56" width="0.9" height="0.9"/><rect x="330.71" y="87.71" width="0.9" height="0.9"/><rect x="357.25" y="72.11" width="0.9" height="0.9"/><rect x="351.35" y="75.03" width="0.9" height="0.9"/><rect x="357.15" y="72.5" width="0.9" height="0.9"/><rect x="368.73" y="61.7" width="0.9" height="0.9"/><rect x="348.63" y="73.9" width="0.9" height="0.9"/><rect x="345.09" y="77.24" width="0.9" height="0.9"/><rect x="343.67" y="82.89" width="0.9" height="0.9"/><rect x="350.15" y="77.74" width="0.9" height="0.9"/><rect x="368.92" y="64.87" width="0.9" height="0.9"/><rect x="367.61" y="62.48" width="0.9" height="0.9"/><rect x="356.36" y="70.15" width="0.9" height="0.9"/><rect x="333.88" y="80.42" width="0.9" height="0.9"/><rect x="361.18" y="71.1" width="0.9" height="0.9"/><rect x="352.74" y="72.62" width="0.9" height="0.9"/><rect x="346.82" y="83.05" width="0.9" height="0.9"/><rect x="343.42" y="82.71" width="0.9" height="0.9"/><rect x="332.24" y="80.74" width="0.9" height="0.9"/><rect x="339.45" y="83.23" width="0.9" height="0.9"/><rect x="334.07" y="85.9" width="0.9" height="0.9"/><rect x="340.03" y="86.38" width="0.9" height="0.9"/><rect x="351.26" y="76.78" width="0.9" height="0.9"/><rect x="360.71" y="67.69" width="0.9" height="0.9"/><rect x="348.85" y="79.59" width="0.9" height="0.9"/><rect x="345.64" y="77.91" width="0.9" height="0.9"/><rect x="335.77" y="81.33" width="0.9" height="0.9"/><rect x="342.98" y="78.54" width="0.9" height="0.9"/><rect x="361.02" y="69.42" width="0.9" height="0.9"/><rect x="344.25" y="79.98" width="0.9" height="0.9"/><rect x="334.54" y="79.57" width="0.9" height="0.9"/><rect x="337.24" y="85.2" width="0.9" height="0.9"/><rect x="336.04" y="80.61" width="0.9" height="0.9"/><rect x="348.41" y="81.78" width="0.9" height="0.9"/><rect x="335.82" y="88.65" width="0.9" height="0.9"/><rect x="329.89" y="85.27" width="0.9" height="0.9"/><rect x="332.1" y="87.6" width="0.9" height="0.9"/><rect x="331.78" y="83.95" width="0.9" height="0.9"/><rect x="342.35" y="83.22" width="0.9" height="0.9"/><rect x="347.67" y="78.45" width="0.9" height="0.9"/><rect x="343.27" y="74.79" width="0.9" height="0.9"/><rect x="333.9" y="83.96" width="0.9" height="0.9"/><rect x="353.36" y="72.1" width="0.9" height="0.9"/><rect x="334.95" y="84.39" width="0.9" height="0.9"/><rect x="358.58" y="70.24" width="0.9" height="0.9"/><rect x="361.38" y="66.95" width="0.9" height="0.9"/><rect x="359.32" y="68.31" width="0.9" height="0.9"/><rect x="358.48" y="72.73" width="0.9" height="0.9"/><rect x="354.84" y="73.75" width="0.9" height="0.9"/><rect x="348.79" y="70.66" width="0.9" height="0.9"/><rect x="356.81" y="71.73" width="0.9" height="0.9"/><rect x="369.9" y="59.69" width="0.9" height="0.9"/><rect x="364.95" y="63.06" width="0.9" height="0.9"/><rect x="360.73" y="66.14" width="0.9" height="0.9"/><rect x="342.44" y="78.55" width="0.9" height="0.9"/><rect x="359.55" y="68.16" width="0.9" height="0.9"/><rect x="351.64" y="73.09" width="0.9" height="0.9"/><rect x="354.09" y="67.44" width="0.9" height="0.9"/><rect x="348.37" y="79.06" width="0.9" height="0.9"/><rect x="356.99" y="71.54" width="0.9" height="0.9"/><rect x="371.91" y="62.07" width="0.9" height="0.9"/><rect x="346.13" y="78.7" width="0.9" height="0.9"/><rect x="360.83" y="68.06" width="0.9" height="0.9"/><rect x="358.65" y="67.22" width="0.9" height="0.9"/><rect x="350.08" y="73.24" width="0.9" height="0.9"/><rect x="365.49" y="63.07" width="0.9" height="0.9"/><rect x="367.71" y="64.41" width="0.9" height="0.9"/><rect x="329.32" y="83.18" width="0.9" height="0.9"/><rect x="334.13" y="88.73" width="0.9" height="0.9"/><rect x="346.36" y="75.44" width="0.9" height="0.9"/><rect x="361.73" y="66.25" width="0.9" height="0.9"/><rect x="332.53" y="91.79" width="0.9" height="0.9"/><rect x="343.46" y="82.1" width="0.9" height="0.9"/><rect x="336.3" y="91.37" width="0.9" height="0.9"/><rect x="345" y="74.91" width="0.9" height="0.9"/><rect x="370.44" y="60.17" width="0.9" height="0.9"/><rect x="341.6" y="86.59" width="0.9" height="0.9"/><rect x="330.9" y="84.01" width="0.9" height="0.9"/><rect x="345.28" y="77.4" width="0.9" height="0.9"/><rect x="351.85" y="75.87" width="0.9" height="0.9"/><rect x="357.81" y="68.71" width="0.9" height="0.9"/><rect x="344.42" y="85.09" width="0.9" height="0.9"/><rect x="368.48" y="62.24" width="0.9" height="0.9"/><rect x="349.22" y="76.76" width="0.9" height="0.9"/><rect x="344.21" y="78.46" width="0.9" height="0.9"/><rect x="328.55" y="84.38" width="0.9" height="0.9"/><rect x="332.72" y="88.44" width="0.9" height="0.9"/><rect x="334.6" y="89.06" width="0.9" height="0.9"/><rect x="342.49" y="83.48" width="0.9" height="0.9"/><rect x="364.87" y="63.82" width="0.9" height="0.9"/><rect x="358.68" y="67.43" width="0.9" height="0.9"/><rect x="336.8" y="81.34" width="0.9" height="0.9"/><rect x="347.83" y="83.21" width="0.9" height="0.9"/><rect x="341.49" y="79.69" width="0.9" height="0.9"/><rect x="343.07" y="81.36" width="0.9" height="0.9"/><rect x="331.18" y="87.61" width="0.9" height="0.9"/><rect x="357.9" y="69.23" width="0.9" height="0.9"/><rect x="352.31" y="76.72" width="0.9" height="0.9"/><rect x="351.91" y="71.57" width="0.9" height="0.9"/><rect x="334.61" y="86.59" width="0.9" height="0.9"/><rect x="366.76" y="64.3" width="0.9" height="0.9"/><rect x="344.22" y="88.65" width="0.9" height="0.9"/><rect x="366.3" y="66.43" width="0.9" height="0.9"/><rect x="344.13" y="81.38" width="0.9" height="0.9"/><rect x="357.48" y="66.76" width="0.9" height="0.9"/><rect x="363.87" y="65.34" width="0.9" height="0.9"/><rect x="346.12" y="74.93" width="0.9" height="0.9"/><rect x="338.36" y="77.99" width="0.9" height="0.9"/><rect x="337.99" y="85.77" width="0.9" height="0.9"/><rect x="343.25" y="77.46" width="0.9" height="0.9"/><rect x="349.63" y="69.31" width="0.9" height="0.9"/><rect x="352.69" y="72.79" width="0.9" height="0.9"/><rect x="358.42" y="67.82" width="0.9" height="0.9"/><rect x="334.01" y="86.77" width="0.9" height="0.9"/><rect x="344.87" y="78.71" width="0.9" height="0.9"/><rect x="363.1" y="66.7" width="0.9" height="0.9"/><rect x="353.87" y="70.46" width="0.9" height="0.9"/><rect x="368.67" y="62.81" width="0.9" height="0.9"/><rect x="333.62" y="84.6" width="0.9" height="0.9"/><rect x="336.17" y="92.67" width="0.9" height="0.9"/><rect x="328.45" y="82.59" width="0.9" height="0.9"/><rect x="348.64" y="77.8" width="0.9" height="0.9"/><rect x="360.39" y="66.82" width="0.9" height="0.9"/><rect x="349.72" y="72.88" width="0.9" height="0.9"/><rect x="351.28" y="73.81" width="0.9" height="0.9"/><rect x="337.02" y="83.82" width="0.9" height="0.9"/><rect x="337.46" y="88.03" width="0.9" height="0.9"/><rect x="350.34" y="76.61" width="0.9" height="0.9"/><rect x="338.79" y="76.01" width="0.9" height="0.9"/><rect x="343.9" y="80.06" width="0.9" height="0.9"/><rect x="356.61" y="65.8" width="0.9" height="0.9"/><rect x="355.99" y="72.1" width="0.9" height="0.9"/><rect x="340.17" y="77.75" width="0.9" height="0.9"/><rect x="355.53" y="72.34" width="0.9" height="0.9"/><rect x="333.36" y="85.13" width="0.9" height="0.9"/><rect x="333.56" y="84.51" width="0.9" height="0.9"/><rect x="367.04" y="64.61" width="0.9" height="0.9"/><rect x="346.29" y="72.56" width="0.9" height="0.9"/><rect x="333.45" y="87.65" width="0.9" height="0.9"/><rect x="351.64" y="83.51" width="0.9" height="0.9"/><rect x="335.13" y="92.27" width="0.9" height="0.9"/><rect x="348.56" y="74.79" width="0.9" height="0.9"/><rect x="344.61" y="73.33" width="0.9" height="0.9"/><rect x="371.48" y="63.72" width="0.9" height="0.9"/><rect x="345.5" y="79.93" width="0.9" height="0.9"/><rect x="334.2" y="83.26" width="0.9" height="0.9"/><rect x="332.6" y="86.23" width="0.9" height="0.9"/><rect x="364.44" y="62.52" width="0.9" height="0.9"/><rect x="338.17" y="81.6" width="0.9" height="0.9"/><rect x="339.16" y="86.74" width="0.9" height="0.9"/><rect x="335.32" y="89.86" width="0.9" height="0.9"/><rect x="337.83" y="85.97" width="0.9" height="0.9"/><rect x="347.35" y="68.54" width="0.9" height="0.9"/><rect x="365.31" y="64.16" width="0.9" height="0.9"/><rect x="359.29" y="70.72" width="0.9" height="0.9"/><rect x="344.38" y="80.02" width="0.9" height="0.9"/><rect x="339.53" y="82.61" width="0.9" height="0.9"/><rect x="345.65" y="70.05" width="0.9" height="0.9"/><rect x="357.75" y="68.5" width="0.9" height="0.9"/><rect x="337.49" y="79.99" width="0.9" height="0.9"/><rect x="334.95" y="79.09" width="0.9" height="0.9"/><rect x="354.63" y="76.31" width="0.9" height="0.9"/><rect x="333.04" y="85.95" width="0.9" height="0.9"/><rect x="332.76" y="91.11" width="0.9" height="0.9"/><rect x="334.86" y="84.47" width="0.9" height="0.9"/><rect x="349.09" y="75.89" width="0.9" height="0.9"/><rect x="334.33" y="89.05" width="0.9" height="0.9"/><rect x="333.69" y="88.88" width="0.9" height="0.9"/><rect x="350.71" y="65.73" width="0.9" height="0.9"/><rect x="345.09" y="80.64" width="0.9" height="0.9"/><rect x="338.71" y="81.39" width="0.9" height="0.9"/><rect x="351.4" y="72.11" width="0.9" height="0.9"/><rect x="355.06" y="73.76" width="0.9" height="0.9"/><rect x="366.32" y="64.95" width="0.9" height="0.9"/><rect x="349.04" y="76.69" width="0.9" height="0.9"/><rect x="348.93" y="74.27" width="0.9" height="0.9"/><rect x="341.52" y="82.79" width="0.9" height="0.9"/><rect x="367.4" y="61.84" width="0.9" height="0.9"/><rect x="343.36" y="77.44" width="0.9" height="0.9"/><rect x="346" y="71.73" width="0.9" height="0.9"/><rect x="344.41" y="80.18" width="0.9" height="0.9"/><rect x="342.9" y="78.2" width="0.9" height="0.9"/><rect x="368.06" y="60.25" width="0.9" height="0.9"/><rect x="360.87" y="69.02" width="0.9" height="0.9"/><rect x="345.21" y="70.46" width="0.9" height="0.9"/><rect x="339.78" y="86.55" width="0.9" height="0.9"/><rect x="346.78" y="79.12" width="0.9" height="0.9"/><rect x="353.84" y="71.4" width="0.9" height="0.9"/><rect x="344.2" y="85.46" width="0.9" height="0.9"/><rect x="359.97" y="65.65" width="0.9" height="0.9"/><rect x="335.05" y="90.85" width="0.9" height="0.9"/><rect x="357.75" y="70.11" width="0.9" height="0.9"/><rect x="331.98" y="88.12" width="0.9" height="0.9"/><rect x="341.95" y="76.59" width="0.9" height="0.9"/><rect x="356.6" y="74.77" width="0.9" height="0.9"/><rect x="353.94" y="75.25" width="0.9" height="0.9"/><rect x="352.54" y="72.7" width="0.9" height="0.9"/><rect x="329.46" y="86.81" width="0.9" height="0.9"/><rect x="329.31" y="82.81" width="0.9" height="0.9"/><rect x="337.35" y="76.84" width="0.9" height="0.9"/><rect x="368.93" y="60.12" width="0.9" height="0.9"/><rect x="344.99" y="76.07" width="0.9" height="0.9"/><rect x="341.96" y="75.74" width="0.9" height="0.9"/><rect x="369.29" y="62.52" width="0.9" height="0.9"/><rect x="344.03" y="76.67" width="0.9" height="0.9"/><rect x="355.05" y="72.15" width="0.9" height="0.9"/><rect x="349.71" y="79.44" width="0.9" height="0.9"/><rect x="337.16" y="85.01" width="0.9" height="0.9"/><rect x="339.3" y="80.88" width="0.9" height="0.9"/><rect x="333.85" y="80.11" width="0.9" height="0.9"/><rect x="362.97" y="64.71" width="0.9" height="0.9"/><rect x="352.08" y="81.33" width="0.9" height="0.9"/><rect x="352.85" y="76.57" width="0.9" height="0.9"/><rect x="341.64" y="72.05" width="0.9" height="0.9"/><rect x="350.07" y="79.18" width="0.9" height="0.9"/><rect x="345.22" y="78.41" width="0.9" height="0.9"/><rect x="354.56" y="71.67" width="0.9" height="0.9"/><rect x="339.25" y="89.35" width="0.9" height="0.9"/><rect x="357.15" y="71.94" width="0.9" height="0.9"/><rect x="351.99" y="73.96" width="0.9" height="0.9"/><rect x="337.36" y="76.34" width="0.9" height="0.9"/><rect x="358.17" y="70.92" width="0.9" height="0.9"/><rect x="332.28" y="85.96" width="0.9" height="0.9"/><rect x="340.97" y="81.06" width="0.9" height="0.9"/><rect x="356.02" y="69.21" width="0.9" height="0.9"/><rect x="369.18" y="62.93" width="0.9" height="0.9"/><rect x="352.9" y="71.15" width="0.9" height="0.9"/><rect x="350.2" y="76.53" width="0.9" height="0.9"/><rect x="347.51" y="79.28" width="0.9" height="0.9"/><rect x="342.67" y="81.95" width="0.9" height="0.9"/><rect x="341.81" y="81.67" width="0.9" height="0.9"/><rect x="332.85" y="84.38" width="0.9" height="0.9"/><rect x="340.72" y="90.75" width="0.9" height="0.9"/><rect x="353.75" y="73.05" width="0.9" height="0.9"/><rect x="349.78" y="76.39" width="0.9" height="0.9"/><rect x="352.27" y="73.27" width="0.9" height="0.9"/><rect x="332.04" y="81.71" width="0.9" height="0.9"/><rect x="349.34" y="71.72" width="0.9" height="0.9"/><rect x="343.82" y="79.93" width="0.9" height="0.9"/><rect x="370.48" y="65.99" width="0.9" height="0.9"/><rect x="363.5" y="59.98" width="0.9" height="0.9"/><rect x="334.49" y="75.98" width="0.9" height="0.9"/><rect x="338.3" y="80.21" width="0.9" height="0.9"/><rect x="346.56" y="78.27" width="0.9" height="0.9"/><rect x="352.54" y="69.8" width="0.9" height="0.9"/><rect x="362.62" y="68.82" width="0.9" height="0.9"/><rect x="348.02" y="78.79" width="0.9" height="0.9"/><rect x="331.79" y="89.94" width="0.9" height="0.9"/><rect x="356.26" y="71.35" width="0.9" height="0.9"/><rect x="369.29" y="59.34" width="0.9" height="0.9"/><rect x="347.61" y="79.07" width="0.9" height="0.9"/><rect x="343.89" y="74.81" width="0.9" height="0.9"/><rect x="341.33" y="85.33" width="0.9" height="0.9"/><rect x="338.78" y="86.18" width="0.9" height="0.9"/><rect x="353.34" y="75.85" width="0.9" height="0.9"/><rect x="367.21" y="62.61" width="0.9" height="0.9"/><rect x="369.22" y="64.71" width="0.9" height="0.9"/><rect x="335.95" y="87.67" width="0.9" height="0.9"/><rect x="342.04" y="81.08" width="0.9" height="0.9"/><rect x="355.31" y="73.11" width="0.9" height="0.9"/><rect x="352.73" y="69.62" width="0.9" height="0.9"/><rect x="333.18" y="90.73" width="0.9" height="0.9"/><rect x="334.4" y="84.41" width="0.9" height="0.9"/><rect x="330.18" y="82.02" width="0.9" height="0.9"/><rect x="367.05" y="64.24" width="0.9" height="0.9"/><rect x="356.84" y="69.7" width="0.9" height="0.9"/><rect x="347.94" y="74.72" width="0.9" height="0.9"/><rect x="370.3" y="62.12" width="0.9" height="0.9"/><rect x="329.65" y="89.4" width="0.9" height="0.9"/><rect x="369.81" y="66.3" width="0.9" height="0.9"/><rect x="333.57" y="90.87" width="0.9" height="0.9"/><rect x="332.67" y="89.84" width="0.9" height="0.9"/><rect x="333.04" y="88.37" width="0.9" height="0.9"/><rect x="346.02" y="78.22" width="0.9" height="0.9"/><rect x="345.72" y="81.63" width="0.9" height="0.9"/><rect x="352.11" y="77.51" width="0.9" height="0.9"/><rect x="356.91" y="68.37" width="0.9" height="0.9"/><rect x="362.66" y="68.4" width="0.9" height="0.9"/><rect x="366.6" y="68.18" width="0.9" height="0.9"/><rect x="351.48" y="73.74" width="0.9" height="0.9"/><rect x="357.69" y="67.98" width="0.9" height="0.9"/><rect x="342.23" y="81.76" width="0.9" height="0.9"/><rect x="336.56" y="89.34" width="0.9" height="0.9"/><rect x="341.62" y="83.33" width="0.9" height="0.9"/><rect x="359.66" y="65.69" width="0.9" height="0.9"/><rect x="338.06" y="82.57" width="0.9" height="0.9"/><rect x="365.08" y="65.52" width="0.9" height="0.9"/><rect x="355.76" y="70.85" width="0.9" height="0.9"/><rect x="333.04" y="78.08" width="0.9" height="0.9"/><rect x="367.23" y="65.94" width="0.9" height="0.9"/><rect x="335.83" y="81.99" width="0.9" height="0.9"/><rect x="362.81" y="63.34" width="0.9" height="0.9"/><rect x="332.23" y="89.88" width="0.9" height="0.9"/><rect x="336.74" y="87.73" width="0.9" height="0.9"/><rect x="369.06" y="62.16" width="0.9" height="0.9"/><rect x="335.89" y="85.2" width="0.9" height="0.9"/><rect x="345.77" y="76.64" width="0.9" height="0.9"/><rect x="346.98" y="72.93" width="0.9" height="0.9"/><rect x="360.35" y="70.93" width="0.9" height="0.9"/><rect x="367.79" y="65.95" width="0.9" height="0.9"/><rect x="344.27" y="75.87" width="0.9" height="0.9"/><rect x="355.22" y="70.17" width="0.9" height="0.9"/><rect x="335.16" y="91.37" width="0.9" height="0.9"/><rect x="344.74" y="88.13" width="0.9" height="0.9"/><rect x="342.78" y="80.25" width="0.9" height="0.9"/><rect x="357.59" y="73.52" width="0.9" height="0.9"/><rect x="331.95" y="86.19" width="0.9" height="0.9"/><rect x="337.07" y="89.78" width="0.9" height="0.9"/><rect x="335.7" y="92.35" width="0.9" height="0.9"/><rect x="334.45" y="91.69" width="0.9" height="0.9"/><rect x="363.31" y="63.57" width="0.9" height="0.9"/><rect x="348.93" y="72.25" width="0.9" height="0.9"/><rect x="365.65" y="62.57" width="0.9" height="0.9"/><rect x="351.83" y="77.1" width="0.9" height="0.9"/><rect x="342.89" y="84.63" width="0.9" height="0.9"/><rect x="350.63" y="75.72" width="0.9" height="0.9"/><rect x="334.4" y="87.36" width="0.9" height="0.9"/><rect x="370.82" y="62.22" width="0.9" height="0.9"/><rect x="336.59" y="75.82" width="0.9" height="0.9"/><rect x="345.38" y="68.23" width="0.9" height="0.9"/><rect x="361.8" y="67.16" width="0.9" height="0.9"/><rect x="366.77" y="65.81" width="0.9" height="0.9"/><rect x="355.59" y="75.77" width="0.9" height="0.9"/><rect x="340.96" y="80.9" width="0.9" height="0.9"/><rect x="336.76" y="84.47" width="0.9" height="0.9"/><rect x="337.38" y="84.18" width="0.9" height="0.9"/><rect x="343.61" y="91.2" width="0.9" height="0.9"/><rect x="352.97" y="72.53" width="0.9" height="0.9"/><rect x="355.77" y="73.46" width="0.9" height="0.9"/><rect x="368.33" y="61.2" width="0.9" height="0.9"/><rect x="329.3" y="85.79" width="0.9" height="0.9"/><rect x="339.4" y="85.45" width="0.9" height="0.9"/><rect x="352.31" y="72.96" width="0.9" height="0.9"/><rect x="346.7" y="75.18" width="0.9" height="0.9"/><rect x="355.22" y="69.95" width="0.9" height="0.9"/><rect x="343.92" y="81.26" width="0.9" height="0.9"/><rect x="349.64" y="76.5" width="0.9" height="0.9"/><rect x="362.55" y="70.51" width="0.9" height="0.9"/><rect x="361.36" y="66.25" width="0.9" height="0.9"/><rect x="369.01" y="63.89" width="0.9" height="0.9"/><rect x="337.45" y="91.14" width="0.9" height="0.9"/><rect x="336.59" y="92.79" width="0.9" height="0.9"/><rect x="342.45" y="81.16" width="0.9" height="0.9"/><rect x="369.39" y="61.4" width="0.9" height="0.9"/><rect x="334.82" y="82.95" width="0.9" height="0.9"/><rect x="338.35" y="82.9" width="0.9" height="0.9"/><rect x="346.2" y="82.45" width="0.9" height="0.9"/><rect x="363.82" y="66.55" width="0.9" height="0.9"/><rect x="339.05" y="85.82" width="0.9" height="0.9"/><rect x="338.9" y="81.42" width="0.9" height="0.9"/><rect x="363.07" y="64.88" width="0.9" height="0.9"/><rect x="367.14" y="67.46" width="0.9" height="0.9"/><rect x="368.93" y="62" width="0.9" height="0.9"/><rect x="353.88" y="72.76" width="0.9" height="0.9"/><rect x="368.15" y="67.14" width="0.9" height="0.9"/><rect x="364.27" y="64.16" width="0.9" height="0.9"/><rect x="331.61" y="88.68" width="0.9" height="0.9"/><rect x="330.35" y="89.57" width="0.9" height="0.9"/><rect x="331.6" y="91.13" width="0.9" height="0.9"/><rect x="348.55" y="75.35" width="0.9" height="0.9"/><rect x="367.13" y="61.81" width="0.9" height="0.9"/><rect x="337.4" y="83.64" width="0.9" height="0.9"/><rect x="339.65" y="79.18" width="0.9" height="0.9"/><rect x="336.51" y="84.14" width="0.9" height="0.9"/><rect x="338.41" y="85.36" width="0.9" height="0.9"/><rect x="363.01" y="69.85" width="0.9" height="0.9"/><rect x="345.81" y="78.73" width="0.9" height="0.9"/><rect x="367.81" y="62.91" width="0.9" height="0.9"/><rect x="352.48" y="68.77" width="0.9" height="0.9"/><rect x="337.06" y="78.59" width="0.9" height="0.9"/><rect x="355.52" y="78.02" width="0.9" height="0.9"/><rect x="329.31" y="84.36" width="0.9" height="0.9"/><rect x="359.27" y="64.22" width="0.9" height="0.9"/><rect x="345.72" y="78.63" width="0.9" height="0.9"/><rect x="353.54" y="77.57" width="0.9" height="0.9"/><rect x="363.57" y="70.47" width="0.9" height="0.9"/><rect x="333.01" y="93.29" width="0.9" height="0.9"/><rect x="363.8" y="69.15" width="0.9" height="0.9"/><rect x="335.13" y="83.95" width="0.9" height="0.9"/><rect x="362.04" y="68.66" width="0.9" height="0.9"/><rect x="356.28" y="75.23" width="0.9" height="0.9"/><rect x="366.97" y="60.86" width="0.9" height="0.9"/><rect x="335.19" y="95.04" width="0.9" height="0.9"/><rect x="346.31" y="75.38" width="0.9" height="0.9"/><rect x="348.14" y="79.58" width="0.9" height="0.9"/><rect x="342.64" y="83.24" width="0.9" height="0.9"/><rect x="346.21" y="70.95" width="0.9" height="0.9"/><rect x="343.59" y="81.62" width="0.9" height="0.9"/><rect x="370.81" y="62.18" width="0.9" height="0.9"/><rect x="345.8" y="76.75" width="0.9" height="0.9"/><rect x="339.96" y="80.9" width="0.9" height="0.9"/><rect x="341.32" y="80.26" width="0.9" height="0.9"/><rect x="340.49" y="87.18" width="0.9" height="0.9"/><rect x="346.39" y="79.01" width="0.9" height="0.9"/><rect x="361.28" y="67.04" width="0.9" height="0.9"/><rect x="329.61" y="80.53" width="0.9" height="0.9"/><rect x="354.84" y="70.01" width="0.9" height="0.9"/><rect x="348.54" y="74.93" width="0.9" height="0.9"/><rect x="342.04" y="74.78" width="0.9" height="0.9"/><rect x="335.31" y="83.49" width="0.9" height="0.9"/><rect x="332.87" y="82.27" width="0.9" height="0.9"/><rect x="357.88" y="69.22" width="0.9" height="0.9"/><rect x="359.07" y="71.01" width="0.9" height="0.9"/><rect x="336.69" y="81.94" width="0.9" height="0.9"/><rect x="344.56" y="83.86" width="0.9" height="0.9"/><rect x="351.98" y="72.49" width="0.9" height="0.9"/><rect x="364.93" y="68.74" width="0.9" height="0.9"/><rect x="342.96" y="78.41" width="0.9" height="0.9"/><rect x="340.91" y="85.29" width="0.9" height="0.9"/><rect x="339.19" y="84.3" width="0.9" height="0.9"/><rect x="331.88" y="90.11" width="0.9" height="0.9"/><rect x="338.35" y="80.79" width="0.9" height="0.9"/><rect x="367.43" y="66.15" width="0.9" height="0.9"/><rect x="328.38" y="84.62" width="0.9" height="0.9"/><rect x="335" y="83.56" width="0.9" height="0.9"/><rect x="366.11" y="62.99" width="0.9" height="0.9"/><rect x="369" y="63.3" width="0.9" height="0.9"/><rect x="368.19" y="62.23" width="0.9" height="0.9"/><rect x="337.62" y="71.16" width="0.9" height="0.9"/><rect x="341.94" y="81.47" width="0.9" height="0.9"/><rect x="356.02" y="69.54" width="0.9" height="0.9"/><rect x="365.23" y="60.96" width="0.9" height="0.9"/><rect x="346.63" y="83.66" width="0.9" height="0.9"/><rect x="348.74" y="72.12" width="0.9" height="0.9"/><rect x="352.65" y="71.2" width="0.9" height="0.9"/><rect x="335.68" y="90.29" width="0.9" height="0.9"/><rect x="332.66" y="90.51" width="0.9" height="0.9"/><rect x="331.58" y="86.05" width="0.9" height="0.9"/><rect x="339.18" y="79.81" width="0.9" height="0.9"/><rect x="368.34" y="64.62" width="0.9" height="0.9"/><rect x="333.77" y="83.72" width="0.9" height="0.9"/><rect x="332.14" y="89.6" width="0.9" height="0.9"/><rect x="335.11" y="82.27" width="0.9" height="0.9"/><rect x="362.57" y="69" width="0.9" height="0.9"/><rect x="363.84" y="69.78" width="0.9" height="0.9"/><rect x="339.18" y="86.88" width="0.9" height="0.9"/><rect x="350.58" y="76.66" width="0.9" height="0.9"/><rect x="355.88" y="69.01" width="0.9" height="0.9"/><rect x="340.62" y="84.26" width="0.9" height="0.9"/><rect x="364.22" y="64.08" width="0.9" height="0.9"/><rect x="367.35" y="60.94" width="0.9" height="0.9"/><rect x="349.5" y="76.33" width="0.9" height="0.9"/><rect x="332.71" y="86.49" width="0.9" height="0.9"/><rect x="339.54" y="79.19" width="0.9" height="0.9"/><rect x="344.06" y="84.94" width="0.9" height="0.9"/><rect x="352.27" y="75.98" width="0.9" height="0.9"/><rect x="368.49" y="64.72" width="0.9" height="0.9"/><rect x="366.43" y="68.65" width="0.9" height="0.9"/><rect x="364.64" y="66.07" width="0.9" height="0.9"/><rect x="351.35" y="80.21" width="0.9" height="0.9"/><rect x="340.91" y="82.96" width="0.9" height="0.9"/><rect x="362.45" y="68.92" width="0.9" height="0.9"/><rect x="334.25" y="80.2" width="0.9" height="0.9"/><rect x="338.89" y="83.1" width="0.9" height="0.9"/><rect x="355.23" y="69.97" width="0.9" height="0.9"/><rect x="355.33" y="69.18" width="0.9" height="0.9"/><rect x="331.41" y="90.82" width="0.9" height="0.9"/><rect x="344.18" y="79.44" width="0.9" height="0.9"/><rect x="344.62" y="73.13" width="0.9" height="0.9"/><rect x="353.7" y="74.15" width="0.9" height="0.9"/><rect x="358.04" y="75.2" width="0.9" height="0.9"/><rect x="333.21" y="88.52" width="0.9" height="0.9"/><rect x="341.22" y="84.73" width="0.9" height="0.9"/><rect x="343.31" y="82.55" width="0.9" height="0.9"/><rect x="366.96" y="61.24" width="0.9" height="0.9"/><rect x="337.99" y="85.4" width="0.9" height="0.9"/><rect x="355.54" y="69.45" width="0.9" height="0.9"/><rect x="366.53" y="67.74" width="0.9" height="0.9"/><rect x="345.49" y="78.92" width="0.9" height="0.9"/><rect x="364.58" y="64.68" width="0.9" height="0.9"/><rect x="362.85" y="65.54" width="0.9" height="0.9"/><rect x="361.87" y="65.14" width="0.9" height="0.9"/><rect x="334.09" y="80.26" width="0.9" height="0.9"/><rect x="370.65" y="60.88" width="0.9" height="0.9"/><rect x="340.24" y="78.18" width="0.9" height="0.9"/><rect x="364.48" y="64.67" width="0.9" height="0.9"/><rect x="360.27" y="68.19" width="0.9" height="0.9"/><rect x="362.37" y="69.08" width="0.9" height="0.9"/><rect x="367.18" y="61.81" width="0.9" height="0.9"/><rect x="345.68" y="85.21" width="0.9" height="0.9"/><rect x="364.47" y="65.27" width="0.9" height="0.9"/><rect x="346.06" y="81.7" width="0.9" height="0.9"/><rect x="333.94" y="89.68" width="0.9" height="0.9"/><rect x="368.81" y="63.01" width="0.9" height="0.9"/><rect x="360.43" y="66.82" width="0.9" height="0.9"/><rect x="342.98" y="82.23" width="0.9" height="0.9"/><rect x="355.73" y="73.59" width="0.9" height="0.9"/><rect x="358.45" y="66.71" width="0.9" height="0.9"/><rect x="350.86" y="73.1" width="0.9" height="0.9"/><rect x="359.17" y="67.65" width="0.9" height="0.9"/><rect x="355.18" y="77.18" width="0.9" height="0.9"/><rect x="350.9" y="77.79" width="0.9" height="0.9"/><rect x="335.53" y="78.45" width="0.9" height="0.9"/><rect x="370.09" y="64.68" width="0.9" height="0.9"/><rect x="346.08" y="82.61" width="0.9" height="0.9"/><rect x="338.16" y="89.96" width="0.9" height="0.9"/><rect x="333.63" y="86.04" width="0.9" height="0.9"/><rect x="358.64" y="68.72" width="0.9" height="0.9"/><rect x="369.42" y="59.97" width="0.9" height="0.9"/><rect x="341.95" y="90.41" width="0.9" height="0.9"/><rect x="358.87" y="65.63" width="0.9" height="0.9"/><rect x="345.74" y="76.5" width="0.9" height="0.9"/><rect x="353.3" y="72.55" width="0.9" height="0.9"/><rect x="347.73" y="74.45" width="0.9" height="0.9"/><rect x="355.11" y="72.31" width="0.9" height="0.9"/><rect x="337.38" y="82.56" width="0.9" height="0.9"/><rect x="343.55" y="80.89" width="0.9" height="0.9"/><rect x="341.77" y="78.95" width="0.9" height="0.9"/><rect x="364.61" y="64.98" width="0.9" height="0.9"/><rect x="368.03" y="63.75" width="0.9" height="0.9"/><rect x="335.01" y="87.2" width="0.9" height="0.9"/><rect x="350.28" y="69.56" width="0.9" height="0.9"/><rect x="365.09" y="65.55" width="0.9" height="0.9"/><rect x="341.48" y="72.63" width="0.9" height="0.9"/><rect x="341.19" y="84.13" width="0.9" height="0.9"/><rect x="334.81" y="77.09" width="0.9" height="0.9"/><rect x="349.72" y="76.69" width="0.9" height="0.9"/><rect x="334.03" y="88.09" width="0.9" height="0.9"/><rect x="337.76" y="80.17" width="0.9" height="0.9"/><rect x="330.35" y="86.51" width="0.9" height="0.9"/><rect x="355.08" y="78.72" width="0.9" height="0.9"/><rect x="340.71" y="79.01" width="0.9" height="0.9"/><rect x="341.52" y="77.99" width="0.9" height="0.9"/><rect x="350.39" y="68.68" width="0.9" height="0.9"/><rect x="337.22" y="88.1" width="0.9" height="0.9"/><rect x="328.45" y="85.92" width="0.9" height="0.9"/><rect x="336.11" y="86.62" width="0.9" height="0.9"/><rect x="336.9" y="87.19" width="0.9" height="0.9"/><rect x="330.34" y="85.95" width="0.9" height="0.9"/><rect x="354.97" y="74.89" width="0.9" height="0.9"/><rect x="334.53" y="84.37" width="0.9" height="0.9"/><rect x="351.75" y="80.49" width="0.9" height="0.9"/><rect x="368.29" y="60.1" width="0.9" height="0.9"/><rect x="360.45" y="68.9" width="0.9" height="0.9"/><rect x="352.01" y="69.7" width="0.9" height="0.9"/><rect x="348.84" y="75.93" width="0.9" height="0.9"/><rect x="332.28" y="85.65" width="0.9" height="0.9"/><rect x="355.3" y="68.3" width="0.9" height="0.9"/><rect x="368.35" y="58.66" width="0.9" height="0.9"/><rect x="360.43" y="70.26" width="0.9" height="0.9"/><rect x="361.45" y="66.86" width="0.9" height="0.9"/><rect x="349.86" y="76.18" width="0.9" height="0.9"/><rect x="333.91" y="82.39" width="0.9" height="0.9"/><rect x="355.31" y="71.23" width="0.9" height="0.9"/><rect x="347.68" y="76.99" width="0.9" height="0.9"/><rect x="358.64" y="68.91" width="0.9" height="0.9"/><rect x="343.36" y="86.81" width="0.9" height="0.9"/><rect x="361.11" y="63.66" width="0.9" height="0.9"/><rect x="362.67" y="66.53" width="0.9" height="0.9"/><rect x="332.72" y="85.79" width="0.9" height="0.9"/><rect x="367.61" y="60.88" width="0.9" height="0.9"/><rect x="336.86" y="90.54" width="0.9" height="0.9"/><rect x="368.42" y="63.39" width="0.9" height="0.9"/><rect x="333.06" y="84.21" width="0.9" height="0.9"/><rect x="353.59" y="68.16" width="0.9" height="0.9"/><rect x="337.52" y="89.51" width="0.9" height="0.9"/><rect x="333.87" y="93.66" width="0.9" height="0.9"/><rect x="340.56" y="86.4" width="0.9" height="0.9"/><rect x="367.25" y="65.03" width="0.9" height="0.9"/><rect x="343.76" y="81.31" width="0.9" height="0.9"/><rect x="348.06" y="76.47" width="0.9" height="0.9"/><rect x="357.89" y="68.51" width="0.9" height="0.9"/><rect x="348.07" y="74.88" width="0.9" height="0.9"/><rect x="341.76" y="79.81" width="0.9" height="0.9"/><rect x="349.26" y="80.5" width="0.9" height="0.9"/><rect x="349.9" y="76.82" width="0.9" height="0.9"/><rect x="352.45" y="72.21" width="0.9" height="0.9"/><rect x="334.8" y="83.72" width="0.9" height="0.9"/><rect x="331.74" y="86.32" width="0.9" height="0.9"/><rect x="336.72" y="84.18" width="0.9" height="0.9"/><rect x="350.57" y="80.8" width="0.9" height="0.9"/><rect x="335.17" y="84.27" width="0.9" height="0.9"/><rect x="353.18" y="68.67" width="0.9" height="0.9"/><rect x="356.04" y="69.31" width="0.9" height="0.9"/><rect x="357.03" y="70.1" width="0.9" height="0.9"/><rect x="363.65" y="62.48" width="0.9" height="0.9"/><rect x="352.99" y="72.65" width="0.9" height="0.9"/><rect x="363.93" y="65.52" width="0.9" height="0.9"/><rect x="335.66" y="89.05" width="0.9" height="0.9"/><rect x="364.32" y="61.35" width="0.9" height="0.9"/><rect x="335.69" y="87.37" width="0.9" height="0.9"/><rect x="371.77" y="62.59" width="0.9" height="0.9"/><rect x="362.98" y="68.98" width="0.9" height="0.9"/><rect x="362.62" y="68.62" width="0.9" height="0.9"/><rect x="336.7" y="93.35" width="0.9" height="0.9"/><rect x="367.79" y="65.14" width="0.9" height="0.9"/><rect x="349.99" y="74.61" width="0.9" height="0.9"/><rect x="336.39" y="94.86" width="0.9" height="0.9"/><rect x="361.97" y="71.87" width="0.9" height="0.9"/><rect x="343.73" y="75.97" width="0.9" height="0.9"/><rect x="350.17" y="73.57" width="0.9" height="0.9"/><rect x="347.64" y="75.27" width="0.9" height="0.9"/><rect x="360.8" y="63.99" width="0.9" height="0.9"/><rect x="353.41" y="70.66" width="0.9" height="0.9"/><rect x="332" y="87.28" width="0.9" height="0.9"/><rect x="369.73" y="61.18" width="0.9" height="0.9"/><rect x="361.02" y="64.25" width="0.9" height="0.9"/><rect x="335.76" y="83.54" width="0.9" height="0.9"/><rect x="372.25" y="62.04" width="0.9" height="0.9"/><rect x="366.48" y="65.41" width="0.9" height="0.9"/><rect x="345.46" y="74.7" width="0.9" height="0.9"/><rect x="333.21" y="91.14" width="0.9" height="0.9"/><rect x="357.98" y="70.21" width="0.9" height="0.9"/><rect x="328.96" y="84.45" width="0.9" height="0.9"/><rect x="341.69" y="85.6" width="0.9" height="0.9"/><rect x="372.02" y="63.48" width="0.9" height="0.9"/><rect x="365.6" y="65.44" width="0.9" height="0.9"/><rect x="341.99" y="80.05" width="0.9" height="0.9"/><rect x="352.12" y="69.4" width="0.9" height="0.9"/><rect x="360.38" y="65.9" width="0.9" height="0.9"/><rect x="343.15" y="81.22" width="0.9" height="0.9"/><rect x="336.33" y="86.83" width="0.9" height="0.9"/><rect x="353.8" y="73.35" width="0.9" height="0.9"/><rect x="351.86" y="77.48" width="0.9" height="0.9"/><rect x="346.6" y="81.95" width="0.9" height="0.9"/><rect x="347.07" y="74.29" width="0.9" height="0.9"/><rect x="361" y="63.2" width="0.9" height="0.9"/><rect x="338.23" y="81.1" width="0.9" height="0.9"/><rect x="357.75" y="72.64" width="0.9" height="0.9"/><rect x="341.36" y="81.6" width="0.9" height="0.9"/><rect x="336.33" y="92.51" width="0.9" height="0.9"/><rect x="351.23" y="76.63" width="0.9" height="0.9"/><rect x="343.71" y="84.59" width="0.9" height="0.9"/><rect x="365.86" y="63.23" width="0.9" height="0.9"/><rect x="330.7" y="81.75" width="0.9" height="0.9"/><rect x="357.19" y="69.22" width="0.9" height="0.9"/><rect x="367.18" y="63.01" width="0.9" height="0.9"/><rect x="364" y="64.82" width="0.9" height="0.9"/><rect x="352.41" y="80.1" width="0.9" height="0.9"/><rect x="344.68" y="82.18" width="0.9" height="0.9"/><rect x="332.68" y="84.5" width="0.9" height="0.9"/><rect x="365.64" y="64.18" width="0.9" height="0.9"/><rect x="334.12" y="85.6" width="0.9" height="0.9"/><rect x="347.55" y="70.65" width="0.9" height="0.9"/><rect x="344.47" y="79.48" width="0.9" height="0.9"/><rect x="347.87" y="76.94" width="0.9" height="0.9"/><rect x="328.97" y="80.92" width="0.9" height="0.9"/><rect x="349.03" y="76.51" width="0.9" height="0.9"/><rect x="335.12" y="84.26" width="0.9" height="0.9"/><rect x="346.46" y="77.2" width="0.9" height="0.9"/><rect x="355.13" y="73.74" width="0.9" height="0.9"/><rect x="364.36" y="67.05" width="0.9" height="0.9"/><rect x="357.16" y="70.64" width="0.9" height="0.9"/><rect x="341.4" y="76.65" width="0.9" height="0.9"/><rect x="349.94" y="79.34" width="0.9" height="0.9"/><rect x="352.72" y="72.78" width="0.9" height="0.9"/><rect x="331.9" y="90.19" width="0.9" height="0.9"/><rect x="369.92" y="64.67" width="0.9" height="0.9"/><rect x="338.28" y="80.63" width="0.9" height="0.9"/><rect x="365.81" y="62.07" width="0.9" height="0.9"/><rect x="356.37" y="74.43" width="0.9" height="0.9"/><rect x="351.08" y="83.99" width="0.9" height="0.9"/><rect x="351.64" y="72.14" width="0.9" height="0.9"/><rect x="333.92" y="87.8" width="0.9" height="0.9"/><rect x="343.76" y="75.45" width="0.9" height="0.9"/><rect x="352.75" y="71.91" width="0.9" height="0.9"/><rect x="346.82" y="71.18" width="0.9" height="0.9"/><rect x="354.31" y="77.13" width="0.9" height="0.9"/><rect x="333.59" y="91.59" width="0.9" height="0.9"/><rect x="349.28" y="75.57" width="0.9" height="0.9"/><rect x="345.8" y="75.16" width="0.9" height="0.9"/><rect x="330.58" y="88.06" width="0.9" height="0.9"/><rect x="365.83" y="64.48" width="0.9" height="0.9"/><rect x="328.41" y="84.24" width="0.9" height="0.9"/><rect x="332.2" y="85.48" width="0.9" height="0.9"/><rect x="349.61" y="71.93" width="0.9" height="0.9"/><rect x="332.57" y="87.15" width="0.9" height="0.9"/><rect x="369.93" y="64.05" width="0.9" height="0.9"/><rect x="358.75" y="71.21" width="0.9" height="0.9"/><rect x="352.63" y="64.47" width="0.9" height="0.9"/><rect x="358.94" y="67.9" width="0.9" height="0.9"/><rect x="356.55" y="63.8" width="0.9" height="0.9"/><rect x="342.58" y="85.15" width="0.9" height="0.9"/><rect x="357.96" y="68.73" width="0.9" height="0.9"/><rect x="333.77" y="82.96" width="0.9" height="0.9"/><rect x="349.11" y="80.96" width="0.9" height="0.9"/><rect x="335.41" y="84.56" width="0.9" height="0.9"/><rect x="362.71" y="67.13" width="0.9" height="0.9"/><rect x="349.82" y="78.5" width="0.9" height="0.9"/><rect x="331.52" y="79.31" width="0.9" height="0.9"/><rect x="350.55" y="73.52" width="0.9" height="0.9"/><rect x="344.1" y="83.87" width="0.9" height="0.9"/><rect x="328.74" y="84.32" width="0.9" height="0.9"/><rect x="349.64" y="72.62" width="0.9" height="0.9"/><rect x="366.7" y="63.48" width="0.9" height="0.9"/><rect x="351.73" y="68.66" width="0.9" height="0.9"/><rect x="370.36" y="64.33" width="0.9" height="0.9"/><rect x="342.76" y="84.43" width="0.9" height="0.9"/><rect x="363.28" y="71.75" width="0.9" height="0.9"/><rect x="350.39" y="71.34" width="0.9" height="0.9"/><rect x="353.64" y="73.88" width="0.9" height="0.9"/><rect x="366.73" y="64.89" width="0.9" height="0.9"/><rect x="340.68" y="77.98" width="0.9" height="0.9"/><rect x="366.32" y="64.57" width="0.9" height="0.9"/><rect x="334.15" y="82.56" width="0.9" height="0.9"/><rect x="358.05" y="72.19" width="0.9" height="0.9"/><rect x="342.05" y="79.75" width="0.9" height="0.9"/><rect x="334.4" y="77.84" width="0.9" height="0.9"/><rect x="356.38" y="71.63" width="0.9" height="0.9"/><rect x="332.43" y="88.97" width="0.9" height="0.9"/><rect x="334.19" y="89.29" width="0.9" height="0.9"/><rect x="345.34" y="78.81" width="0.9" height="0.9"/><rect x="347.5" y="74.79" width="0.9" height="0.9"/><rect x="346.8" y="72.68" width="0.9" height="0.9"/><rect x="339.88" y="87.32" width="0.9" height="0.9"/><rect x="347.72" y="78.03" width="0.9" height="0.9"/><rect x="338.29" y="84.04" width="0.9" height="0.9"/><rect x="340.39" y="83.56" width="0.9" height="0.9"/><rect x="366.55" y="65.39" width="0.9" height="0.9"/><rect x="354.45" y="77.92" width="0.9" height="0.9"/><rect x="360.36" y="72.28" width="0.9" height="0.9"/><rect x="349.9" y="79.99" width="0.9" height="0.9"/><rect x="354.2" y="71.94" width="0.9" height="0.9"/><rect x="330.17" y="87.43" width="0.9" height="0.9"/><rect x="345.43" y="76.27" width="0.9" height="0.9"/><rect x="331.98" y="84.59" width="0.9" height="0.9"/><rect x="365.6" y="62.74" width="0.9" height="0.9"/><rect x="353.83" y="75.37" width="0.9" height="0.9"/><rect x="335.27" y="87.67" width="0.9" height="0.9"/><rect x="350.89" y="78.41" width="0.9" height="0.9"/><rect x="332.58" y="89.4" width="0.9" height="0.9"/><rect x="369.43" y="63.39" width="0.9" height="0.9"/><rect x="361.52" y="68.64" width="0.9" height="0.9"/><rect x="345.64" y="80.06" width="0.9" height="0.9"/><rect x="368.24" y="67.4" width="0.9" height="0.9"/><rect x="355.89" y="73.06" width="0.9" height="0.9"/><rect x="347.94" y="72" width="0.9" height="0.9"/><rect x="366.49" y="59.31" width="0.9" height="0.9"/><rect x="358.95" y="67.24" width="0.9" height="0.9"/><rect x="352.93" y="71.74" width="0.9" height="0.9"/><rect x="330.55" y="85.99" width="0.9" height="0.9"/><rect x="333.82" y="89" width="0.9" height="0.9"/><rect x="354.78" y="73.68" width="0.9" height="0.9"/><rect x="363.56" y="64.57" width="0.9" height="0.9"/><rect x="366.14" y="61.54" width="0.9" height="0.9"/><rect x="330.42" y="85.95" width="0.9" height="0.9"/><rect x="353.15" y="72.91" width="0.9" height="0.9"/><rect x="347.93" y="79.82" width="0.9" height="0.9"/><rect x="350.06" y="73.88" width="0.9" height="0.9"/><rect x="365.4" y="64.72" width="0.9" height="0.9"/><rect x="351.9" y="76.57" width="0.9" height="0.9"/><rect x="364.73" y="68.13" width="0.9" height="0.9"/><rect x="348.73" y="71.66" width="0.9" height="0.9"/><rect x="339.27" y="86.83" width="0.9" height="0.9"/><rect x="340.23" y="78.72" width="0.9" height="0.9"/><rect x="355.85" y="76.6" width="0.9" height="0.9"/><rect x="333.91" y="86.2" width="0.9" height="0.9"/><rect x="332.11" y="88.63" width="0.9" height="0.9"/><rect x="333.99" y="92.37" width="0.9" height="0.9"/><rect x="365.49" y="62.91" width="0.9" height="0.9"/><rect x="332.13" y="90.63" width="0.9" height="0.9"/><rect x="356.88" y="69.14" width="0.9" height="0.9"/><rect x="335.87" y="85.51" width="0.9" height="0.9"/><rect x="365.08" y="65.85" width="0.9" height="0.9"/><rect x="359.43" y="67.42" width="0.9" height="0.9"/><rect x="332.95" y="87.63" width="0.9" height="0.9"/><rect x="362.3" y="63.65" width="0.9" height="0.9"/><rect x="334.54" y="85.24" width="0.9" height="0.9"/><rect x="368.27" y="62.23" width="0.9" height="0.9"/><rect x="370.66" y="62.88" width="0.9" height="0.9"/><rect x="344.6" y="79.03" width="0.9" height="0.9"/><rect x="361.9" y="64.64" width="0.9" height="0.9"/><rect x="332.27" y="91.38" width="0.9" height="0.9"/><rect x="337.82" y="85.9" width="0.9" height="0.9"/><rect x="345.24" y="74.41" width="0.9" height="0.9"/><rect x="344.34" y="78.2" width="0.9" height="0.9"/><rect x="365.8" y="64.8" width="0.9" height="0.9"/><rect x="367.39" y="60.87" width="0.9" height="0.9"/><rect x="359.97" y="68.07" width="0.9" height="0.9"/><rect x="353.83" y="67.63" width="0.9" height="0.9"/><rect x="355.74" y="68.1" width="0.9" height="0.9"/><rect x="333.82" y="89.63" width="0.9" height="0.9"/><rect x="339.3" y="79.51" width="0.9" height="0.9"/><rect x="363.83" y="67.83" width="0.9" height="0.9"/><rect x="352.27" y="78.9" width="0.9" height="0.9"/><rect x="337.35" y="91.31" width="0.9" height="0.9"/><rect x="338.8" y="84.61" width="0.9" height="0.9"/><rect x="350.86" y="72" width="0.9" height="0.9"/><rect x="370.51" y="62.94" width="0.9" height="0.9"/><rect x="348.78" y="75.24" width="0.9" height="0.9"/><rect x="356.5" y="68.58" width="0.9" height="0.9"/><rect x="336.15" y="85.87" width="0.9" height="0.9"/><rect x="339.9" y="83.13" width="0.9" height="0.9"/><rect x="350.69" y="70.41" width="0.9" height="0.9"/><rect x="329.15" y="84.02" width="0.9" height="0.9"/><rect x="364.3" y="62.84" width="0.9" height="0.9"/><rect x="339.2" y="86.36" width="0.9" height="0.9"/><rect x="347.71" y="77.27" width="0.9" height="0.9"/><rect x="346.22" y="81.91" width="0.9" height="0.9"/><rect x="340.08" y="82.83" width="0.9" height="0.9"/><rect x="355.11" y="71.26" width="0.9" height="0.9"/><rect x="353.69" y="68.87" width="0.9" height="0.9"/><rect x="337.85" y="87.58" width="0.9" height="0.9"/><rect x="344.95" y="81.42" width="0.9" height="0.9"/><rect x="335.15" y="78.62" width="0.9" height="0.9"/><rect x="369.37" y="64.55" width="0.9" height="0.9"/><rect x="342.57" y="74.35" width="0.9" height="0.9"/><rect x="347.86" y="84.81" width="0.9" height="0.9"/><rect x="342.02" y="80.23" width="0.9" height="0.9"/><rect x="366.08" y="68.61" width="0.9" height="0.9"/><rect x="331.46" y="84.63" width="0.9" height="0.9"/><rect x="350.8" y="73.22" width="0.9" height="0.9"/><rect x="331.61" y="88.79" width="0.9" height="0.9"/><rect x="336.88" y="79.85" width="0.9" height="0.9"/><rect x="336.45" y="89.36" width="0.9" height="0.9"/><rect x="353.98" y="72.72" width="0.9" height="0.9"/><rect x="334.03" y="94.49" width="0.9" height="0.9"/><rect x="350.72" y="70.45" width="0.9" height="0.9"/><rect x="366.69" y="64.64" width="0.9" height="0.9"/><rect x="351.45" y="72.12" width="0.9" height="0.9"/><rect x="326.64" y="85.11" width="0.9" height="0.9"/><rect x="366.91" y="62.25" width="0.9" height="0.9"/><rect x="330.54" y="88.23" width="0.9" height="0.9"/><rect x="334.96" y="86.52" width="0.9" height="0.9"/><rect x="340.61" y="83.61" width="0.9" height="0.9"/><rect x="331.53" y="86.64" width="0.9" height="0.9"/><rect x="342.42" y="82.85" width="0.9" height="0.9"/><rect x="348.16" y="80.35" width="0.9" height="0.9"/><rect x="366.15" y="64.06" width="0.9" height="0.9"/><rect x="360.26" y="69.34" width="0.9" height="0.9"/><rect x="367.83" y="66.03" width="0.9" height="0.9"/><rect x="330.51" y="84.43" width="0.9" height="0.9"/><rect x="351.72" y="70" width="0.9" height="0.9"/><rect x="363.12" y="67.41" width="0.9" height="0.9"/><rect x="336.85" y="91.85" width="0.9" height="0.9"/><rect x="332.57" y="86.37" width="0.9" height="0.9"/><rect x="336.47" y="88.44" width="0.9" height="0.9"/><rect x="333.68" y="85.81" width="0.9" height="0.9"/><rect x="355.78" y="69.72" width="0.9" height="0.9"/><rect x="341.49" y="82.42" width="0.9" height="0.9"/><rect x="336.84" y="85.32" width="0.9" height="0.9"/><rect x="360.36" y="68.82" width="0.9" height="0.9"/><rect x="352.53" y="78.59" width="0.9" height="0.9"/><rect x="354.32" y="69.47" width="0.9" height="0.9"/><rect x="357.73" y="66.89" width="0.9" height="0.9"/><rect x="348.79" y="74.32" width="0.9" height="0.9"/><rect x="339.35" y="83.39" width="0.9" height="0.9"/><rect x="334.46" y="82.55" width="0.9" height="0.9"/><rect x="367.64" y="62.03" width="0.9" height="0.9"/><rect x="332.27" y="83.65" width="0.9" height="0.9"/><rect x="350.76" y="78.33" width="0.9" height="0.9"/><rect x="353.24" y="74.02" width="0.9" height="0.9"/><rect x="354.01" y="73.74" width="0.9" height="0.9"/><rect x="358.39" y="67.13" width="0.9" height="0.9"/><rect x="364.19" y="67.59" width="0.9" height="0.9"/><rect x="332.01" y="91" width="0.9" height="0.9"/><rect x="367.56" y="63.35" width="0.9" height="0.9"/><rect x="361.94" y="66.45" width="0.9" height="0.9"/><rect x="337.53" y="86.87" width="0.9" height="0.9"/><rect x="333.3" y="89.51" width="0.9" height="0.9"/><rect x="334.72" y="92.74" width="0.9" height="0.9"/><rect x="340.69" y="76.41" width="0.9" height="0.9"/><rect x="351.73" y="77.59" width="0.9" height="0.9"/><rect x="333.63" y="88.87" width="0.9" height="0.9"/><rect x="346.85" y="83.49" width="0.9" height="0.9"/><rect x="345.54" y="80.35" width="0.9" height="0.9"/><rect x="340.11" y="79.03" width="0.9" height="0.9"/><rect x="347.66" y="81.42" width="0.9" height="0.9"/><rect x="345.79" y="82.01" width="0.9" height="0.9"/><rect x="333.57" y="87.26" width="0.9" height="0.9"/><rect x="331.37" y="88.74" width="0.9" height="0.9"/><rect x="332.81" y="87.69" width="0.9" height="0.9"/><rect x="342.36" y="74.36" width="0.9" height="0.9"/><rect x="353.45" y="73.9" width="0.9" height="0.9"/><rect x="352.74" y="77.04" width="0.9" height="0.9"/><rect x="337.08" y="83.68" width="0.9" height="0.9"/><rect x="364.57" y="66.21" width="0.9" height="0.9"/><rect x="341.78" y="79.74" width="0.9" height="0.9"/><rect x="347.84" y="77.63" width="0.9" height="0.9"/><rect x="340.21" y="86.48" width="0.9" height="0.9"/><rect x="363.07" y="64.77" width="0.9" height="0.9"/><rect x="350.39" y="78.48" width="0.9" height="0.9"/><rect x="331.75" y="89.9" width="0.9" height="0.9"/><rect x="368.25" y="61.58" width="0.9" height="0.9"/><rect x="330.17" y="86.49" width="0.9" height="0.9"/><rect x="340.35" y="78.16" width="0.9" height="0.9"/><rect x="336.47" y="90.07" width="0.9" height="0.9"/><rect x="343.26" y="89.58" width="0.9" height="0.9"/><rect x="340.76" y="81.77" width="0.9" height="0.9"/><rect x="352.62" y="77.96" width="0.9" height="0.9"/><rect x="350.73" y="79.93" width="0.9" height="0.9"/><rect x="335.27" y="88.46" width="0.9" height="0.9"/><rect x="335.13" y="84.93" width="0.9" height="0.9"/><rect x="367.86" y="64.89" width="0.9" height="0.9"/><rect x="368.16" y="62.99" width="0.9" height="0.9"/><rect x="335.75" y="88.41" width="0.9" height="0.9"/><rect x="337.53" y="91.82" width="0.9" height="0.9"/><rect x="365.2" y="64.84" width="0.9" height="0.9"/><rect x="350.69" y="71.19" width="0.9" height="0.9"/><rect x="333.87" y="84.51" width="0.9" height="0.9"/><rect x="345.16" y="74.91" width="0.9" height="0.9"/><rect x="366.13" y="60.73" width="0.9" height="0.9"/><rect x="331.27" y="81.84" width="0.9" height="0.9"/><rect x="355.17" y="70.78" width="0.9" height="0.9"/><rect x="364.62" y="67.9" width="0.9" height="0.9"/><rect x="332.02" y="83.45" width="0.9" height="0.9"/><rect x="348.65" y="72.53" width="0.9" height="0.9"/><rect x="350.19" y="75.09" width="0.9" height="0.9"/><rect x="332.96" y="87.49" width="0.9" height="0.9"/><rect x="369.97" y="61.83" width="0.9" height="0.9"/><rect x="367.91" y="64.32" width="0.9" height="0.9"/><rect x="340.43" y="90.58" width="0.9" height="0.9"/><rect x="335.57" y="79.8" width="0.9" height="0.9"/><rect x="351.65" y="73.39" width="0.9" height="0.9"/><rect x="364.31" y="67.98" width="0.9" height="0.9"/><rect x="345.13" y="75.05" width="0.9" height="0.9"/><rect x="363.76" y="63.91" width="0.9" height="0.9"/><rect x="363.7" y="66.06" width="0.9" height="0.9"/><rect x="351.96" y="78.42" width="0.9" height="0.9"/><rect x="331.25" y="88.45" width="0.9" height="0.9"/><rect x="367.78" y="63.9" width="0.9" height="0.9"/><rect x="335.03" y="90.07" width="0.9" height="0.9"/><rect x="359.74" y="70.15" width="0.9" height="0.9"/><rect x="358.65" y="68.16" width="0.9" height="0.9"/><rect x="342.68" y="83.07" width="0.9" height="0.9"/><rect x="336.03" y="90.82" width="0.9" height="0.9"/><rect x="354.43" y="78.04" width="0.9" height="0.9"/><rect x="357.25" y="70.81" width="0.9" height="0.9"/><rect x="353.11" y="74.6" width="0.9" height="0.9"/><rect x="331.15" y="84.46" width="0.9" height="0.9"/><rect x="337.08" y="86.07" width="0.9" height="0.9"/><rect x="332.74" y="91.1" width="0.9" height="0.9"/><rect x="346.44" y="78.34" width="0.9" height="0.9"/><rect x="365.13" y="64.96" width="0.9" height="0.9"/><rect x="332.87" y="81.95" width="0.9" height="0.9"/><rect x="348.81" y="77.48" width="0.9" height="0.9"/><rect x="326.97" y="82.76" width="0.9" height="0.9"/><rect x="364.5" y="66.95" width="0.9" height="0.9"/><rect x="342.72" y="82.98" width="0.9" height="0.9"/><rect x="350.46" y="71.69" width="0.9" height="0.9"/><rect x="355.89" y="71.79" width="0.9" height="0.9"/><rect x="339.96" y="86.93" width="0.9" height="0.9"/><rect x="338.37" y="88.32" width="0.9" height="0.9"/><rect x="358.73" y="71.11" width="0.9" height="0.9"/><rect x="369.8" y="61.98" width="0.9" height="0.9"/><rect x="340.65" y="82.77" width="0.9" height="0.9"/><rect x="347.04" y="66.91" width="0.9" height="0.9"/><rect x="358.94" y="75.31" width="0.9" height="0.9"/><rect x="366.43" y="60.84" width="0.9" height="0.9"/><rect x="333.82" y="92.22" width="0.9" height="0.9"/><rect x="370.38" y="61.36" width="0.9" height="0.9"/><rect x="338.27" y="86.64" width="0.9" height="0.9"/><rect x="338.16" y="85" width="0.9" height="0.9"/><rect x="352.62" y="72.19" width="0.9" height="0.9"/><rect x="353.18" y="69.47" width="0.9" height="0.9"/><rect x="351.31" y="76.3" width="0.9" height="0.9"/><rect x="344.41" y="82.82" width="0.9" height="0.9"/><rect x="349.48" y="76.4" width="0.9" height="0.9"/><rect x="358.46" y="72.37" width="0.9" height="0.9"/><rect x="333.4" y="90.75" width="0.9" height="0.9"/><rect x="328.85" y="85.74" width="0.9" height="0.9"/><rect x="358.36" y="67.7" width="0.9" height="0.9"/><rect x="356.92" y="71.3" width="0.9" height="0.9"/><rect x="369.77" y="59.51" width="0.9" height="0.9"/><rect x="331.08" y="84.92" width="0.9" height="0.9"/><rect x="350.31" y="77.32" width="0.9" height="0.9"/><rect x="356.81" y="70.01" width="0.9" height="0.9"/><rect x="330.99" y="82.82" width="0.9" height="0.9"/><rect x="333.15" y="83.01" width="0.9" height="0.9"/><rect x="353.64" y="66.27" width="0.9" height="0.9"/><rect x="363.68" y="64.2" width="0.9" height="0.9"/><rect x="353.64" y="73.49" width="0.9" height="0.9"/><rect x="330.34" y="86.06" width="0.9" height="0.9"/><rect x="337.53" y="83.21" width="0.9" height="0.9"/><rect x="338.49" y="83.04" width="0.9" height="0.9"/><rect x="360.7" y="68.28" width="0.9" height="0.9"/><rect x="342.23" y="83.6" width="0.9" height="0.9"/><rect x="363.95" y="71.77" width="0.9" height="0.9"/><rect x="337.03" y="88.63" width="0.9" height="0.9"/><rect x="352.02" y="66.48" width="0.9" height="0.9"/><rect x="350.11" y="81.7" width="0.9" height="0.9"/><rect x="330.44" y="86.82" width="0.9" height="0.9"/><rect x="363.6" y="66.71" width="0.9" height="0.9"/><rect x="333.58" y="84.6" width="0.9" height="0.9"/><rect x="341.94" y="81.95" width="0.9" height="0.9"/><rect x="361.55" y="71.01" width="0.9" height="0.9"/><rect x="340.22" y="74.91" width="0.9" height="0.9"/><rect x="347.06" y="74.38" width="0.9" height="0.9"/><rect x="351.96" y="68.24" width="0.9" height="0.9"/><rect x="343.28" y="81.69" width="0.9" height="0.9"/><rect x="346.41" y="81.63" width="0.9" height="0.9"/><rect x="372.47" y="60.96" width="0.9" height="0.9"/><rect x="341.37" y="79.94" width="0.9" height="0.9"/><rect x="366.31" y="65.1" width="0.9" height="0.9"/><rect x="342.38" y="84.47" width="0.9" height="0.9"/><rect x="340.98" y="81.23" width="0.9" height="0.9"/><rect x="367.98" y="62.77" width="0.9" height="0.9"/><rect x="330.69" y="88.33" width="0.9" height="0.9"/><rect x="338.56" y="84.19" width="0.9" height="0.9"/><rect x="368.68" y="63.44" width="0.9" height="0.9"/><rect x="343.18" y="76.72" width="0.9" height="0.9"/><rect x="342.45" y="80.38" width="0.9" height="0.9"/><rect x="360.07" y="64.18" width="0.9" height="0.9"/><rect x="331.05" y="84.35" width="0.9" height="0.9"/><rect x="354.01" y="74.57" width="0.9" height="0.9"/><rect x="361.38" y="66.43" width="0.9" height="0.9"/><rect x="358.5" y="67.11" width="0.9" height="0.9"/><rect x="332.33" y="86.29" width="0.9" height="0.9"/><rect x="339.66" y="85.77" width="0.9" height="0.9"/><rect x="332.71" y="87.19" width="0.9" height="0.9"/><rect x="365.67" y="65.17" width="0.9" height="0.9"/><rect x="351.2" y="75.26" width="0.9" height="0.9"/><rect x="346.25" y="85.94" width="0.9" height="0.9"/><rect x="367.33" y="62.48" width="0.9" height="0.9"/><rect x="329.95" y="84.57" width="0.9" height="0.9"/><rect x="345.58" y="76.89" width="0.9" height="0.9"/><rect x="365.01" y="62.99" width="0.9" height="0.9"/><rect x="347.5" y="80.75" width="0.9" height="0.9"/><rect x="330.83" y="88.81" width="0.9" height="0.9"/><rect x="347.88" y="70.46" width="0.9" height="0.9"/><rect x="341" y="83.08" width="0.9" height="0.9"/><rect x="365.55" y="64.29" width="0.9" height="0.9"/><rect x="342.95" y="76.83" width="0.9" height="0.9"/><rect x="360.59" y="66.32" width="0.9" height="0.9"/><rect x="332.78" y="85.51" width="0.9" height="0.9"/><rect x="346.27" y="80.9" width="0.9" height="0.9"/><rect x="344.69" y="78.06" width="0.9" height="0.9"/><rect x="351.03" y="77.87" width="0.9" height="0.9"/><rect x="362.14" y="64.24" width="0.9" height="0.9"/><rect x="347.22" y="72.35" width="0.9" height="0.9"/><rect x="327.64" y="80.56" width="0.9" height="0.9"/><rect x="348.78" y="73.08" width="0.9" height="0.9"/><rect x="342.24" y="85.64" width="0.9" height="0.9"/><rect x="339.82" y="78.38" width="0.9" height="0.9"/><rect x="364.39" y="68.41" width="0.9" height="0.9"/><rect x="357.92" y="67.59" width="0.9" height="0.9"/><rect x="343.29" y="80.59" width="0.9" height="0.9"/><rect x="338.91" y="83.05" width="0.9" height="0.9"/><rect x="338.46" y="81.57" width="0.9" height="0.9"/><rect x="338.76" y="77.18" width="0.9" height="0.9"/><rect x="351.98" y="79.51" width="0.9" height="0.9"/><rect x="338.9" y="82.55" width="0.9" height="0.9"/><rect x="337.45" y="84.7" width="0.9" height="0.9"/><rect x="350.31" y="73.58" width="0.9" height="0.9"/><rect x="337.06" y="84.05" width="0.9" height="0.9"/><rect x="330.82" y="87.94" width="0.9" height="0.9"/><rect x="331.36" y="91.72" width="0.9" height="0.9"/><rect x="366.51" y="65.7" width="0.9" height="0.9"/><rect x="339.83" y="82.14" width="0.9" height="0.9"/><rect x="337.01" y="84.04" width="0.9" height="0.9"/><rect x="349.24" y="74.49" width="0.9" height="0.9"/><rect x="355.76" y="72.4" width="0.9" height="0.9"/><rect x="355.32" y="69.87" width="0.9" height="0.9"/><rect x="368.83" y="64.23" width="0.9" height="0.9"/><rect x="368.96" y="61.73" width="0.9" height="0.9"/><rect x="343.87" y="79.9" width="0.9" height="0.9"/><rect x="333.01" y="86.76" width="0.9" height="0.9"/><rect x="362.64" y="71.91" width="0.9" height="0.9"/><rect x="337.46" y="87.72" width="0.9" height="0.9"/><rect x="334.64" y="86.08" width="0.9" height="0.9"/><rect x="341.3" y="82.94" width="0.9" height="0.9"/><rect x="336.88" y="84.37" width="0.9" height="0.9"/><rect x="329.11" y="87.84" width="0.9" height="0.9"/><rect x="340.47" y="77.04" width="0.9" height="0.9"/><rect x="350.06" y="70.7" width="0.9" height="0.9"/><rect x="336.72" y="80.84" width="0.9" height="0.9"/><rect x="335.85" y="83.85" width="0.9" height="0.9"/><rect x="366.48" y="67.3" width="0.9" height="0.9"/><rect x="338.64" y="87.1" width="0.9" height="0.9"/><rect x="333.11" y="83.7" width="0.9" height="0.9"/><rect x="339.36" y="82.12" width="0.9" height="0.9"/><rect x="359.62" y="68.95" width="0.9" height="0.9"/><rect x="368.73" y="59.71" width="0.9" height="0.9"/><rect x="343.86" y="83.44" width="0.9" height="0.9"/><rect x="367.29" y="61.95" width="0.9" height="0.9"/><rect x="351.61" y="71.06" width="0.9" height="0.9"/><rect x="359.11" y="70.04" width="0.9" height="0.9"/><rect x="334.69" y="88.98" width="0.9" height="0.9"/><rect x="363.21" y="66.03" width="0.9" height="0.9"/><rect x="332.81" y="90" width="0.9" height="0.9"/><rect x="340.95" y="76.09" width="0.9" height="0.9"/><rect x="339.23" y="95.81" width="0.9" height="0.9"/><rect x="346.01" y="86.24" width="0.9" height="0.9"/><rect x="347.86" y="79" width="0.9" height="0.9"/><rect x="363.83" y="66.47" width="0.9" height="0.9"/><rect x="331.08" y="90.05" width="0.9" height="0.9"/><rect x="344.12" y="87.05" width="0.9" height="0.9"/><rect x="370" y="62.44" width="0.9" height="0.9"/><rect x="347.48" y="76.04" width="0.9" height="0.9"/><rect x="335.11" y="84.96" width="0.9" height="0.9"/><rect x="340.91" y="86.76" width="0.9" height="0.9"/><rect x="362.86" y="72.02" width="0.9" height="0.9"/><rect x="346.51" y="78.96" width="0.9" height="0.9"/><rect x="351.52" y="74.56" width="0.9" height="0.9"/><rect x="351.88" y="72.31" width="0.9" height="0.9"/><rect x="358.76" y="70.2" width="0.9" height="0.9"/><rect x="333.53" y="80.15" width="0.9" height="0.9"/><rect x="341.13" y="81.68" width="0.9" height="0.9"/><rect x="343.92" y="78.82" width="0.9" height="0.9"/><rect x="333.07" y="85.66" width="0.9" height="0.9"/><rect x="350.15" y="73.51" width="0.9" height="0.9"/><rect x="357.42" y="67.3" width="0.9" height="0.9"/><rect x="349.01" y="79.67" width="0.9" height="0.9"/><rect x="360.35" y="66.46" width="0.9" height="0.9"/><rect x="364.73" y="64.27" width="0.9" height="0.9"/><rect x="340.05" y="79.38" width="0.9" height="0.9"/><rect x="347.63" y="78.79" width="0.9" height="0.9"/><rect x="363.91" y="65.36" width="0.9" height="0.9"/><rect x="332.84" y="81.08" width="0.9" height="0.9"/><rect x="332.9" y="83.36" width="0.9" height="0.9"/><rect x="347.91" y="75.03" width="0.9" height="0.9"/><rect x="356.55" y="67.18" width="0.9" height="0.9"/><rect x="367.31" y="63.08" width="0.9" height="0.9"/><rect x="355.08" y="75.21" width="0.9" height="0.9"/><rect x="332.57" y="84.31" width="0.9" height="0.9"/><rect x="357.95" y="68.96" width="0.9" height="0.9"/><rect x="336.38" y="85.94" width="0.9" height="0.9"/><rect x="341.48" y="81.63" width="0.9" height="0.9"/><rect x="330.9" y="89.54" width="0.9" height="0.9"/><rect x="341.94" y="76.73" width="0.9" height="0.9"/><rect x="342.34" y="76.44" width="0.9" height="0.9"/><rect x="334.99" y="84.2" width="0.9" height="0.9"/><rect x="341.76" y="73.79" width="0.9" height="0.9"/><rect x="332.84" y="82.33" width="0.9" height="0.9"/><rect x="337.74" y="94.77" width="0.9" height="0.9"/><rect x="333.01" y="89.12" width="0.9" height="0.9"/><rect x="327.86" y="86.66" width="0.9" height="0.9"/><rect x="345.52" y="74.14" width="0.9" height="0.9"/><rect x="362.75" y="65.73" width="0.9" height="0.9"/><rect x="338.38" y="84.91" width="0.9" height="0.9"/><rect x="333.81" y="81.67" width="0.9" height="0.9"/><rect x="341.72" y="80.24" width="0.9" height="0.9"/><rect x="344.12" y="75.84" width="0.9" height="0.9"/><rect x="334.35" y="77.88" width="0.9" height="0.9"/><rect x="360.33" y="73.58" width="0.9" height="0.9"/><rect x="363.03" y="67.07" width="0.9" height="0.9"/><rect x="337.17" y="84.56" width="0.9" height="0.9"/><rect x="351.75" y="70.18" width="0.9" height="0.9"/><rect x="362.08" y="67.63" width="0.9" height="0.9"/><rect x="346.03" y="80.41" width="0.9" height="0.9"/><rect x="369.47" y="62.01" width="0.9" height="0.9"/><rect x="353.52" y="70" width="0.9" height="0.9"/><rect x="357.08" y="68.28" width="0.9" height="0.9"/><rect x="334.9" y="87.63" width="0.9" height="0.9"/><rect x="371.67" y="61.66" width="0.9" height="0.9"/><rect x="333.51" y="81.82" width="0.9" height="0.9"/><rect x="359.08" y="69.12" width="0.9" height="0.9"/><rect x="365.91" y="66.65" width="0.9" height="0.9"/><rect x="329.99" y="81.7" width="0.9" height="0.9"/><rect x="346.11" y="84.5" width="0.9" height="0.9"/><rect x="339.89" y="76.97" width="0.9" height="0.9"/><rect x="355.45" y="74.62" width="0.9" height="0.9"/><rect x="338.2" y="83.84" width="0.9" height="0.9"/><rect x="341.46" y="84.32" width="0.9" height="0.9"/><rect x="336.94" y="80.9" width="0.9" height="0.9"/><rect x="355.04" y="67.97" width="0.9" height="0.9"/><rect x="347.74" y="78.94" width="0.9" height="0.9"/><rect x="363.71" y="67.43" width="0.9" height="0.9"/><rect x="340.99" y="77.6" width="0.9" height="0.9"/><rect x="352.5" y="73.46" width="0.9" height="0.9"/><rect x="341.82" y="84.95" width="0.9" height="0.9"/><rect x="327.61" y="85.06" width="0.9" height="0.9"/><rect x="367.94" y="61.82" width="0.9" height="0.9"/><rect x="339.1" y="88.06" width="0.9" height="0.9"/><rect x="347.17" y="80.29" width="0.9" height="0.9"/><rect x="350.32" y="72.62" width="0.9" height="0.9"/><rect x="354.83" y="71.31" width="0.9" height="0.9"/><rect x="362.29" y="66.68" width="0.9" height="0.9"/><rect x="347.65" y="77.84" width="0.9" height="0.9"/><rect x="368.01" y="62.88" width="0.9" height="0.9"/><rect x="358.65" y="75.93" width="0.9" height="0.9"/><rect x="370.52" y="62.88" width="0.9" height="0.9"/><rect x="368.2" y="63.62" width="0.9" height="0.9"/><rect x="332.68" y="88.24" width="0.9" height="0.9"/><rect x="338.65" y="75.78" width="0.9" height="0.9"/><rect x="358.14" y="70.72" width="0.9" height="0.9"/><rect x="365.16" y="64.54" width="0.9" height="0.9"/><rect x="359.46" y="69.04" width="0.9" height="0.9"/><rect x="342.84" y="87.82" width="0.9" height="0.9"/><rect x="351.45" y="81.24" width="0.9" height="0.9"/><rect x="344.57" y="76.89" width="0.9" height="0.9"/><rect x="341.81" y="78.32" width="0.9" height="0.9"/><rect x="359.92" y="64.55" width="0.9" height="0.9"/><rect x="365.82" y="62.62" width="0.9" height="0.9"/><rect x="365.65" y="66" width="0.9" height="0.9"/><rect x="358.73" y="71.27" width="0.9" height="0.9"/><rect x="351.48" y="77.55" width="0.9" height="0.9"/><rect x="363.74" y="63.29" width="0.9" height="0.9"/><rect x="368.48" y="63.12" width="0.9" height="0.9"/><rect x="338.9" y="77.16" width="0.9" height="0.9"/><rect x="340.19" y="78.91" width="0.9" height="0.9"/><rect x="332.48" y="89.69" width="0.9" height="0.9"/><rect x="331.23" y="90.8" width="0.9" height="0.9"/><rect x="352.27" y="72.54" width="0.9" height="0.9"/><rect x="349.82" y="77.89" width="0.9" height="0.9"/><rect x="348.27" y="75.91" width="0.9" height="0.9"/><rect x="355.95" y="70.5" width="0.9" height="0.9"/><rect x="329.03" y="83.06" width="0.9" height="0.9"/><rect x="347.95" y="74.74" width="0.9" height="0.9"/><rect x="356.85" y="75.54" width="0.9" height="0.9"/><rect x="353.25" y="68.97" width="0.9" height="0.9"/><rect x="358.59" y="64.12" width="0.9" height="0.9"/><rect x="362.12" y="67.74" width="0.9" height="0.9"/><rect x="363.19" y="67.23" width="0.9" height="0.9"/><rect x="348.66" y="76.16" width="0.9" height="0.9"/><rect x="338.38" y="79.38" width="0.9" height="0.9"/><rect x="371.36" y="63.37" width="0.9" height="0.9"/><rect x="353.17" y="72.72" width="0.9" height="0.9"/><rect x="337.67" y="83.13" width="0.9" height="0.9"/><rect x="367.84" y="62.13" width="0.9" height="0.9"/><rect x="355.75" y="77.82" width="0.9" height="0.9"/><rect x="351" y="75.87" width="0.9" height="0.9"/><rect x="337.34" y="91.57" width="0.9" height="0.9"/><rect x="339.21" y="78.54" width="0.9" height="0.9"/><rect x="362.69" y="65" width="0.9" height="0.9"/><rect x="340.65" y="82.81" width="0.9" height="0.9"/><rect x="360.75" y="73.7" width="0.9" height="0.9"/><rect x="355.26" y="71.58" width="0.9" height="0.9"/><rect x="337.67" y="88.4" width="0.9" height="0.9"/><rect x="351.12" y="76.18" width="0.9" height="0.9"/><rect x="353.31" y="69.98" width="0.9" height="0.9"/><rect x="343.98" y="79.6" width="0.9" height="0.9"/><rect x="361.59" y="68.62" width="0.9" height="0.9"/><rect x="355.7" y="78.73" width="0.9" height="0.9"/><rect x="366.92" y="67.25" width="0.9" height="0.9"/><rect x="353.53" y="74.07" width="0.9" height="0.9"/><rect x="336.26" y="90.13" width="0.9" height="0.9"/><rect x="340.38" y="83.24" width="0.9" height="0.9"/><rect x="335.59" y="79.06" width="0.9" height="0.9"/><rect x="342.79" y="75.84" width="0.9" height="0.9"/><rect x="358.08" y="71.87" width="0.9" height="0.9"/><rect x="352.72" y="73.17" width="0.9" height="0.9"/><rect x="342.03" y="82.11" width="0.9" height="0.9"/><rect x="334.47" y="86.66" width="0.9" height="0.9"/><rect x="358.35" y="68.13" width="0.9" height="0.9"/><rect x="359.06" y="76.74" width="0.9" height="0.9"/><rect x="338.48" y="87.15" width="0.9" height="0.9"/><rect x="343.83" y="78.49" width="0.9" height="0.9"/><rect x="361.71" y="67.24" width="0.9" height="0.9"/><rect x="365.42" y="66.67" width="0.9" height="0.9"/><rect x="345.55" y="75.38" width="0.9" height="0.9"/><rect x="352.36" y="77.06" width="0.9" height="0.9"/><rect x="331.54" y="87.2" width="0.9" height="0.9"/><rect x="344.99" y="82.78" width="0.9" height="0.9"/><rect x="341.51" y="88.54" width="0.9" height="0.9"/><rect x="363.04" y="68.26" width="0.9" height="0.9"/><rect x="343.58" y="73" width="0.9" height="0.9"/><rect x="338.12" y="81.21" width="0.9" height="0.9"/><rect x="361.26" y="65.88" width="0.9" height="0.9"/><rect x="341.97" y="78.59" width="0.9" height="0.9"/><rect x="334.16" y="86.5" width="0.9" height="0.9"/><rect x="336.24" y="85.04" width="0.9" height="0.9"/><rect x="366.98" y="62.27" width="0.9" height="0.9"/><rect x="333.86" y="83.27" width="0.9" height="0.9"/><rect x="333.59" y="91.7" width="0.9" height="0.9"/><rect x="367.98" y="61.31" width="0.9" height="0.9"/><rect x="363.5" y="71.08" width="0.9" height="0.9"/><rect x="364.09" y="60.26" width="0.9" height="0.9"/><rect x="366.21" y="65.78" width="0.9" height="0.9"/><rect x="351.81" y="71.73" width="0.9" height="0.9"/><rect x="368.91" y="64.12" width="0.9" height="0.9"/><rect x="351.42" y="78.11" width="0.9" height="0.9"/><rect x="333.31" y="84.12" width="0.9" height="0.9"/><rect x="344.7" y="81.31" width="0.9" height="0.9"/><rect x="349.21" y="70.39" width="0.9" height="0.9"/><rect x="336.73" y="84.02" width="0.9" height="0.9"/><rect x="335.88" y="90.92" width="0.9" height="0.9"/><rect x="355.45" y="69.09" width="0.9" height="0.9"/><rect x="342.36" y="82.46" width="0.9" height="0.9"/><rect x="362.95" y="65.8" width="0.9" height="0.9"/><rect x="370.04" y="64.17" width="0.9" height="0.9"/><rect x="368.81" y="61.13" width="0.9" height="0.9"/><rect x="334.06" y="82.83" width="0.9" height="0.9"/><rect x="350.45" y="80.03" width="0.9" height="0.9"/><rect x="347.31" y="81.35" width="0.9" height="0.9"/><rect x="339.87" y="83.08" width="0.9" height="0.9"/><rect x="357.38" y="72.79" width="0.9" height="0.9"/><rect x="331.16" y="87.04" width="0.9" height="0.9"/><rect x="333.33" y="86.57" width="0.9" height="0.9"/><rect x="333.75" y="81.61" width="0.9" height="0.9"/><rect x="358.45" y="67" width="0.9" height="0.9"/><rect x="361.63" y="64.09" width="0.9" height="0.9"/><rect x="359.51" y="68.64" width="0.9" height="0.9"/><rect x="362.5" y="65.83" width="0.9" height="0.9"/><rect x="338.12" y="87.51" width="0.9" height="0.9"/><rect x="370.8" y="65.24" width="0.9" height="0.9"/><rect x="368.23" y="61.45" width="0.9" height="0.9"/><rect x="332.27" y="81.4" width="0.9" height="0.9"/><rect x="333.4" y="87.05" width="0.9" height="0.9"/><rect x="349.98" y="73.93" width="0.9" height="0.9"/><rect x="344.93" y="86.25" width="0.9" height="0.9"/><rect x="347.22" y="71.71" width="0.9" height="0.9"/><rect x="364.96" y="65.72" width="0.9" height="0.9"/><rect x="351.76" y="71.57" width="0.9" height="0.9"/><rect x="339.84" y="84.03" width="0.9" height="0.9"/><rect x="333.59" y="91.11" width="0.9" height="0.9"/><rect x="366.98" y="64.8" width="0.9" height="0.9"/><rect x="362.19" y="68.66" width="0.9" height="0.9"/><rect x="331.95" y="86.49" width="0.9" height="0.9"/><rect x="340.74" y="79.34" width="0.9" height="0.9"/><rect x="361.49" y="65.09" width="0.9" height="0.9"/><rect x="356.48" y="67.7" width="0.9" height="0.9"/><rect x="331.24" y="89.31" width="0.9" height="0.9"/><rect x="353.27" y="76.83" width="0.9" height="0.9"/><rect x="344.12" y="82.95" width="0.9" height="0.9"/><rect x="358.45" y="70.97" width="0.9" height="0.9"/><rect x="335.48" y="85.86" width="0.9" height="0.9"/><rect x="331.79" y="86" width="0.9" height="0.9"/><rect x="338.82" y="89.14" width="0.9" height="0.9"/><rect x="357.81" y="68.54" width="0.9" height="0.9"/><rect x="329.24" y="83.66" width="0.9" height="0.9"/><rect x="341.91" y="83.84" width="0.9" height="0.9"/><rect x="333.49" y="86.7" width="0.9" height="0.9"/><rect x="343.53" y="81.38" width="0.9" height="0.9"/><rect x="363.5" y="60.7" width="0.9" height="0.9"/><rect x="341.1" y="75.03" width="0.9" height="0.9"/><rect x="368.87" y="62.31" width="0.9" height="0.9"/><rect x="344.32" y="78.05" width="0.9" height="0.9"/><rect x="369.24" y="60.54" width="0.9" height="0.9"/><rect x="336.54" y="81.38" width="0.9" height="0.9"/><rect x="335.1" y="84.99" width="0.9" height="0.9"/><rect x="336.31" y="83.63" width="0.9" height="0.9"/><rect x="364.58" y="62.4" width="0.9" height="0.9"/><rect x="357.95" y="69.34" width="0.9" height="0.9"/><rect x="330.81" y="86.35" width="0.9" height="0.9"/><rect x="351.31" y="74.43" width="0.9" height="0.9"/><rect x="344.34" y="77.62" width="0.9" height="0.9"/><rect x="343.07" y="83.19" width="0.9" height="0.9"/><rect x="354.6" y="71.37" width="0.9" height="0.9"/><rect x="329.71" y="82.12" width="0.9" height="0.9"/><rect x="359.7" y="73.73" width="0.9" height="0.9"/><rect x="339.38" y="86.08" width="0.9" height="0.9"/><rect x="369.77" y="62.44" width="0.9" height="0.9"/><rect x="367.49" y="63.73" width="0.9" height="0.9"/><rect x="342.54" y="70.64" width="0.9" height="0.9"/><rect x="334.94" y="89.83" width="0.9" height="0.9"/><rect x="360.39" y="70.66" width="0.9" height="0.9"/><rect x="349.35" y="72.46" width="0.9" height="0.9"/><rect x="346.53" y="75.62" width="0.9" height="0.9"/><rect x="352.54" y="66.63" width="0.9" height="0.9"/><rect x="362.97" y="67.82" width="0.9" height="0.9"/><rect x="331.73" y="89.29" width="0.9" height="0.9"/><rect x="339.14" y="87.13" width="0.9" height="0.9"/><rect x="341.67" y="79.65" width="0.9" height="0.9"/><rect x="339.67" y="80.38" width="0.9" height="0.9"/><rect x="351" y="77.1" width="0.9" height="0.9"/><rect x="365.2" y="60.08" width="0.9" height="0.9"/><rect x="330.25" y="88.37" width="0.9" height="0.9"/><rect x="336.69" y="88.82" width="0.9" height="0.9"/><rect x="366.23" y="61.33" width="0.9" height="0.9"/><rect x="366.93" y="64.1" width="0.9" height="0.9"/><rect x="330.53" y="83.16" width="0.9" height="0.9"/><rect x="362.18" y="69.15" width="0.9" height="0.9"/><rect x="338.05" y="82.17" width="0.9" height="0.9"/><rect x="370.8" y="63.16" width="0.9" height="0.9"/><rect x="338.87" y="86.97" width="0.9" height="0.9"/><rect x="334.73" y="86.34" width="0.9" height="0.9"/><rect x="336.35" y="81" width="0.9" height="0.9"/><rect x="357.7" y="72.63" width="0.9" height="0.9"/><rect x="344.73" y="73.03" width="0.9" height="0.9"/><rect x="365.21" y="60.9" width="0.9" height="0.9"/><rect x="351.33" y="70.24" width="0.9" height="0.9"/><rect x="357.18" y="65.16" width="0.9" height="0.9"/><rect x="341.99" y="79.4" width="0.9" height="0.9"/><rect x="333.32" y="82.03" width="0.9" height="0.9"/><rect x="353.83" y="68.11" width="0.9" height="0.9"/><rect x="362.49" y="64.31" width="0.9" height="0.9"/><rect x="329.52" y="84.57" width="0.9" height="0.9"/><rect x="366.52" y="59.28" width="0.9" height="0.9"/><rect x="327.92" y="84.3" width="0.9" height="0.9"/><rect x="349.96" y="76.85" width="0.9" height="0.9"/><rect x="334.53" y="89.92" width="0.9" height="0.9"/><rect x="349.47" y="79.93" width="0.9" height="0.9"/><rect x="358.7" y="71.29" width="0.9" height="0.9"/><rect x="335.77" y="78.25" width="0.9" height="0.9"/><rect x="344.06" y="78.97" width="0.9" height="0.9"/><rect x="358.25" y="66.46" width="0.9" height="0.9"/><rect x="347.59" y="75.11" width="0.9" height="0.9"/><rect x="353.09" y="73.2" width="0.9" height="0.9"/><rect x="347.55" y="75.73" width="0.9" height="0.9"/><rect x="359.99" y="67.07" width="0.9" height="0.9"/><rect x="334.58" y="82.1" width="0.9" height="0.9"/><rect x="341.39" y="85.02" width="0.9" height="0.9"/><rect x="366.69" y="63.39" width="0.9" height="0.9"/><rect x="337.46" y="89.91" width="0.9" height="0.9"/><rect x="347.36" y="79.84" width="0.9" height="0.9"/><rect x="349.57" y="80.07" width="0.9" height="0.9"/><rect x="332.95" y="84.08" width="0.9" height="0.9"/><rect x="367.46" y="62.61" width="0.9" height="0.9"/><rect x="366.94" y="67.05" width="0.9" height="0.9"/><rect x="334.22" y="85.12" width="0.9" height="0.9"/><rect x="351.02" y="72.46" width="0.9" height="0.9"/><rect x="340.33" y="79" width="0.9" height="0.9"/><rect x="343.63" y="75.18" width="0.9" height="0.9"/><rect x="369.89" y="60.41" width="0.9" height="0.9"/><rect x="345.82" y="75.44" width="0.9" height="0.9"/><rect x="353.57" y="77.92" width="0.9" height="0.9"/><rect x="370.46" y="62.72" width="0.9" height="0.9"/><rect x="368.57" y="63.05" width="0.9" height="0.9"/><rect x="363.74" y="66.83" width="0.9" height="0.9"/><rect x="346.65" y="76.72" width="0.9" height="0.9"/><rect x="360.31" y="69.5" width="0.9" height="0.9"/><rect x="369.25" y="61.49" width="0.9" height="0.9"/><rect x="328.13" y="83.26" width="0.9" height="0.9"/><rect x="364.87" y="68.09" width="0.9" height="0.9"/><rect x="361.33" y="67.71" width="0.9" height="0.9"/><rect x="332.96" y="85.21" width="0.9" height="0.9"/><rect x="334.24" y="77.06" width="0.9" height="0.9"/><rect x="356.6" y="64.6" width="0.9" height="0.9"/><rect x="338.37" y="78.79" width="0.9" height="0.9"/><rect x="335.93" y="82.06" width="0.9" height="0.9"/><rect x="357.64" y="66.67" width="0.9" height="0.9"/><rect x="360.7" y="68.55" width="0.9" height="0.9"/><rect x="332.8" y="89.66" width="0.9" height="0.9"/><rect x="344.46" y="85.57" width="0.9" height="0.9"/><rect x="369.8" y="62.79" width="0.9" height="0.9"/><rect x="360.83" y="66.68" width="0.9" height="0.9"/><rect x="363.6" y="67.49" width="0.9" height="0.9"/><rect x="347.69" y="79.88" width="0.9" height="0.9"/><rect x="335.1" y="85.99" width="0.9" height="0.9"/><rect x="332.49" y="84.37" width="0.9" height="0.9"/></g>
<g fill="#999" opacity="1.0"><rect x="346.76" y="71.83" width="0.8" height="0.8"/><rect x="366.03" y="75.25" width="0.8" height="0.8"/><rect x="359.85" y="97.56" width="0.8" height="0.8"/><rect x="377.04" y="66.89" width="0.8" height="0.8"/><rect x="375.65" y="62.79" width="0.8" height="0.8"/><rect x="375.28" y="60.32" width="0.8" height="0.8"/><rect x="357.88" y="66" width="0.8" height="0.8"/><rect x="379.1" y="69.91" width="0.8" height="0.8"/><rect x="359.62" y="87.18" width="0.8" height="0.8"/><rect x="359.22" y="58.84" width="0.8" height="0.8"/><rect x="346.63" y="81.05" width="0.8" height="0.8"/><rect x="372.59" y="50.15" width="0.8" height="0.8"/><rect x="376.84" y="67.07" width="0.8" height="0.8"/><rect x="380.12" y="87.95" width="0.8" height="0.8"/><rect x="380.37" y="87.32" width="0.8" height="0.8"/><rect x="344.23" y="77.5" width="0.8" height="0.8"/><rect x="376.6" y="98.71" width="0.8" height="0.8"/><rect x="373.4" y="97.84" width="0.8" height="0.8"/><rect x="369.04" y="78.2" width="0.8" height="0.8"/><rect x="363.23" y="76.2" width="0.8" height="0.8"/><rect x="363.27" y="90.37" width="0.8" height="0.8"/><rect x="361.11" y="48.8" width="0.8" height="0.8"/></g>
<g transform="translate(348.7 77.3) rotate(-34)"><ellipse rx="16.6" ry="6.8" fill="#000"/><ellipse rx="13.4" ry="3.9" fill="#fff"/><ellipse rx="11.6" ry="2.9" fill="none" stroke="#111" stroke-width="0.7"/><ellipse rx="7.4" ry="1.4" fill="none" stroke="#333" stroke-width="0.6"/></g>
<rect x="302.5" y="43.5" width="80" height="72" fill="none" stroke="#222" stroke-width="0.9"/>
<path d="M332.4,43.5V115.5M302.5,89.2H382.5" stroke="#111" stroke-width="1.1"/>
<path d="M419.4,50.3H423M419.4,67.2H423M419.4,84.2H423M419.4,103.4H423M458.9,115.5V119.2M477.2,115.5V119.2M495.5,115.5V119.2M434.8,115.5V118.9" stroke="#111" stroke-width="0.9" fill="none"/>
<path d="M421.2,62.18H423M421.2,59.19H423M421.2,57.06H423M420.2,55.42H423M420.2,54.07H423M420.2,52.93H423M420.2,51.95H423M420.2,51.08H423M421.2,79.08H423M421.2,76.09H423M421.2,73.96H423M420.2,72.32H423M420.2,70.97H423M420.2,69.83H423M420.2,68.85H423M420.2,67.98H423M421.2,96.08H423M421.2,93.09H423M421.2,90.96H423M420.2,89.32H423M420.2,87.97H423M420.2,86.83H423M420.2,85.85H423M420.2,84.98H423M420.8,91.5H423M420.8,94H423M420.8,96.6H423M420.8,99.3H423M420.8,106.6H423M420.8,109.8H423M420.8,112.6H423M453.39,115.5V118.8M454.84,115.5V118.8M456.07,115.5V118.8M457.13,115.5V118.8M458.06,115.5V118.8M464.41,115.5V117.7M467.63,115.5V117.7M469.92,115.5V117.7M471.69,115.5V118.8M473.14,115.5V118.8M474.37,115.5V118.8M475.43,115.5V118.8M476.36,115.5V118.8M482.71,115.5V117.7M485.93,115.5V117.7M488.22,115.5V117.7M489.99,115.5V118.8M491.44,115.5V118.8M492.67,115.5V118.8M493.73,115.5V118.8M494.66,115.5V118.8M423.4,115.5V118.5M426.1,115.5V118.5M430,115.5V118.5M439.1,115.5V118.5M443.5,115.5V118.5M447.3,115.5V118.5M449.9,115.5V118.5M451.7,115.5V118.5M454.7,115.5V118.5M456.9,115.5V118.5" stroke="#2a2a2a" stroke-width="0.8" fill="none"/>
<text x="408" y="52.8" font-size="5.2" font-weight="bold" font-family='"Liberation Serif", serif' class="sf">10<tspan font-size="3.4" dy="-1.9">5</tspan></text>
<text x="408" y="69.8" font-size="5.2" font-weight="bold" font-family='"Liberation Serif", serif' class="sf">10<tspan font-size="3.4" dy="-1.9">4</tspan></text>
<text x="408" y="88.3" font-size="5.2" font-weight="bold" font-family='"Liberation Serif", serif' class="sf">10<tspan font-size="3.4" dy="-1.9">3</tspan></text>
<text x="408.9" y="106.1" font-size="5.4" text-anchor="middle" font-weight="bold" font-family='"Liberation Serif", serif' class="sf">0</text>
<text x="435.9" y="128" font-size="5.4" font-weight="bold" text-anchor="middle" font-family='"Liberation Serif", serif' class="sf">0</text>
<text x="455.9" y="128" font-size="5.2" font-weight="bold" font-family='"Liberation Serif", serif' class="sf">10<tspan font-size="3.4" dy="-1.9">3</tspan></text>
<text x="474.3" y="128" font-size="5.2" font-weight="bold" font-family='"Liberation Serif", serif' class="sf">10<tspan font-size="3.4" dy="-1.9">4</tspan></text>
<text x="491.7" y="128" font-size="5.2" font-weight="bold" font-family='"Liberation Serif", serif' class="sf">10<tspan font-size="3.4" dy="-1.9">5</tspan></text>
<rect x="418.6" y="117.3" width="1" height="1.4" fill="#222"/>
<g fill="#1a1a1a" opacity="1.0"><rect x="474.09" y="74" width="0.85" height="0.85"/><rect x="456.49" y="86.49" width="0.85" height="0.85"/><rect x="467.44" y="78.63" width="0.85" height="0.85"/><rect x="458.31" y="82.93" width="0.85" height="0.85"/><rect x="481.33" y="63.44" width="0.85" height="0.85"/><rect x="453.18" y="87.33" width="0.85" height="0.85"/><rect x="453.7" y="85.49" width="0.85" height="0.85"/><rect x="454.35" y="92.33" width="0.85" height="0.85"/><rect x="457.5" y="87.54" width="0.85" height="0.85"/><rect x="472.01" y="70.75" width="0.85" height="0.85"/><rect x="478.6" y="70.81" width="0.85" height="0.85"/><rect x="448.16" y="88.66" width="0.85" height="0.85"/><rect x="467.34" y="78.44" width="0.85" height="0.85"/><rect x="451.5" y="91.92" width="0.85" height="0.85"/><rect x="453.63" y="92.88" width="0.85" height="0.85"/><rect x="482.15" y="68.34" width="0.85" height="0.85"/><rect x="476.89" y="70.22" width="0.85" height="0.85"/><rect x="466.74" y="73.6" width="0.85" height="0.85"/><rect x="449.77" y="91.17" width="0.85" height="0.85"/><rect x="476.01" y="72.79" width="0.85" height="0.85"/><rect x="465.29" y="79.62" width="0.85" height="0.85"/><rect x="461.99" y="78.02" width="0.85" height="0.85"/><rect x="459.87" y="81.43" width="0.85" height="0.85"/><rect x="472.83" y="77.77" width="0.85" height="0.85"/><rect x="454.53" y="87.04" width="0.85" height="0.85"/><rect x="453.3" y="83.84" width="0.85" height="0.85"/><rect x="481.73" y="73.4" width="0.85" height="0.85"/><rect x="476.94" y="67.54" width="0.85" height="0.85"/><rect x="466.25" y="78.15" width="0.85" height="0.85"/><rect x="464.39" y="82.71" width="0.85" height="0.85"/><rect x="456.08" y="87.39" width="0.85" height="0.85"/><rect x="476.54" y="66.72" width="0.85" height="0.85"/><rect x="485.19" y="68.75" width="0.85" height="0.85"/><rect x="451.3" y="85.73" width="0.85" height="0.85"/><rect x="456.1" y="83.74" width="0.85" height="0.85"/><rect x="449.92" y="87.51" width="0.85" height="0.85"/><rect x="465.65" y="83.5" width="0.85" height="0.85"/><rect x="481.07" y="66.61" width="0.85" height="0.85"/><rect x="482.51" y="64.68" width="0.85" height="0.85"/><rect x="483.63" y="66.22" width="0.85" height="0.85"/><rect x="468.53" y="78.33" width="0.85" height="0.85"/><rect x="449.51" y="89.25" width="0.85" height="0.85"/><rect x="460.88" y="85.58" width="0.85" height="0.85"/><rect x="462.98" y="82.49" width="0.85" height="0.85"/><rect x="464.43" y="82.09" width="0.85" height="0.85"/><rect x="481.49" y="70.57" width="0.85" height="0.85"/><rect x="454.72" y="86.94" width="0.85" height="0.85"/><rect x="459.09" y="85.75" width="0.85" height="0.85"/><rect x="453.38" y="89.73" width="0.85" height="0.85"/><rect x="480.34" y="68.03" width="0.85" height="0.85"/><rect x="464.9" y="75.57" width="0.85" height="0.85"/><rect x="466.86" y="77.57" width="0.85" height="0.85"/><rect x="470.69" y="78.11" width="0.85" height="0.85"/><rect x="462.93" y="82.01" width="0.85" height="0.85"/><rect x="475.8" y="69.23" width="0.85" height="0.85"/><rect x="476.89" y="69.6" width="0.85" height="0.85"/><rect x="469.74" y="77.23" width="0.85" height="0.85"/><rect x="480" y="71.24" width="0.85" height="0.85"/><rect x="454.71" y="90.13" width="0.85" height="0.85"/><rect x="471.16" y="71.61" width="0.85" height="0.85"/><rect x="456.95" y="87.69" width="0.85" height="0.85"/><rect x="465.17" y="80.58" width="0.85" height="0.85"/><rect x="480.4" y="69.5" width="0.85" height="0.85"/><rect x="466.16" y="77.38" width="0.85" height="0.85"/><rect x="471.86" y="75.11" width="0.85" height="0.85"/><rect x="464.02" y="78.02" width="0.85" height="0.85"/><rect x="470.58" y="76.92" width="0.85" height="0.85"/><rect x="452.87" y="85.48" width="0.85" height="0.85"/><rect x="463.34" y="76.1" width="0.85" height="0.85"/><rect x="462.96" y="80.09" width="0.85" height="0.85"/><rect x="476.3" y="71.37" width="0.85" height="0.85"/><rect x="472.43" y="73.07" width="0.85" height="0.85"/><rect x="455.89" y="81.84" width="0.85" height="0.85"/><rect x="449.28" y="86.15" width="0.85" height="0.85"/><rect x="452.08" y="88.55" width="0.85" height="0.85"/><rect x="480.98" y="64.93" width="0.85" height="0.85"/><rect x="468.7" y="76.2" width="0.85" height="0.85"/><rect x="461.7" y="81.53" width="0.85" height="0.85"/><rect x="466.38" y="78.91" width="0.85" height="0.85"/><rect x="451.65" y="90.65" width="0.85" height="0.85"/><rect x="458.71" y="84.47" width="0.85" height="0.85"/><rect x="466.25" y="76.43" width="0.85" height="0.85"/><rect x="475.58" y="74.11" width="0.85" height="0.85"/><rect x="463.47" y="82.51" width="0.85" height="0.85"/><rect x="471.2" y="77.01" width="0.85" height="0.85"/><rect x="479.98" y="68.27" width="0.85" height="0.85"/><rect x="460.75" y="86.62" width="0.85" height="0.85"/><rect x="462.12" y="84.97" width="0.85" height="0.85"/><rect x="462.72" y="81.23" width="0.85" height="0.85"/><rect x="456.61" y="85.58" width="0.85" height="0.85"/><rect x="469.36" y="75.01" width="0.85" height="0.85"/><rect x="451.03" y="88.65" width="0.85" height="0.85"/><rect x="482.67" y="68.8" width="0.85" height="0.85"/><rect x="477.2" y="76.51" width="0.85" height="0.85"/><rect x="451.51" y="89.7" width="0.85" height="0.85"/><rect x="452.16" y="89.42" width="0.85" height="0.85"/><rect x="456.56" y="79.87" width="0.85" height="0.85"/><rect x="450.37" y="88.95" width="0.85" height="0.85"/><rect x="464.09" y="83.89" width="0.85" height="0.85"/><rect x="450.66" y="88.75" width="0.85" height="0.85"/><rect x="471.31" y="80.34" width="0.85" height="0.85"/><rect x="464.68" y="79.84" width="0.85" height="0.85"/><rect x="466.17" y="79.38" width="0.85" height="0.85"/><rect x="455.97" y="85.11" width="0.85" height="0.85"/><rect x="451.25" y="89.24" width="0.85" height="0.85"/><rect x="454.61" y="82.45" width="0.85" height="0.85"/><rect x="458.27" y="83.2" width="0.85" height="0.85"/><rect x="479.51" y="68.38" width="0.85" height="0.85"/><rect x="463.16" y="87.26" width="0.85" height="0.85"/><rect x="477.46" y="69.4" width="0.85" height="0.85"/><rect x="462.87" y="79.39" width="0.85" height="0.85"/><rect x="455.86" y="86.28" width="0.85" height="0.85"/><rect x="458.81" y="84.83" width="0.85" height="0.85"/><rect x="477.72" y="64.76" width="0.85" height="0.85"/><rect x="481.51" y="70.42" width="0.85" height="0.85"/><rect x="461.12" y="78.76" width="0.85" height="0.85"/><rect x="452.14" y="82" width="0.85" height="0.85"/><rect x="470.23" y="75.83" width="0.85" height="0.85"/><rect x="479.8" y="66.8" width="0.85" height="0.85"/><rect x="453.91" y="89.73" width="0.85" height="0.85"/><rect x="478.51" y="68.27" width="0.85" height="0.85"/><rect x="458.98" y="83.6" width="0.85" height="0.85"/><rect x="482.24" y="70.96" width="0.85" height="0.85"/><rect x="475.34" y="74.37" width="0.85" height="0.85"/><rect x="468.92" y="73.71" width="0.85" height="0.85"/><rect x="459.56" y="87.58" width="0.85" height="0.85"/><rect x="454.78" y="83.04" width="0.85" height="0.85"/><rect x="476.11" y="68.21" width="0.85" height="0.85"/><rect x="479.32" y="62.7" width="0.85" height="0.85"/><rect x="466.12" y="78.87" width="0.85" height="0.85"/><rect x="463.7" y="81.34" width="0.85" height="0.85"/><rect x="476.1" y="74.81" width="0.85" height="0.85"/><rect x="451.45" y="88.59" width="0.85" height="0.85"/><rect x="471.79" y="78.91" width="0.85" height="0.85"/><rect x="471.95" y="74.05" width="0.85" height="0.85"/><rect x="451.2" y="90.39" width="0.85" height="0.85"/><rect x="469.18" y="83.54" width="0.85" height="0.85"/><rect x="474.83" y="78.93" width="0.85" height="0.85"/><rect x="457.7" y="82.01" width="0.85" height="0.85"/><rect x="470.47" y="76.02" width="0.85" height="0.85"/><rect x="459.87" y="85.62" width="0.85" height="0.85"/><rect x="479.34" y="68.79" width="0.85" height="0.85"/><rect x="473.87" y="68.52" width="0.85" height="0.85"/><rect x="474.95" y="72.55" width="0.85" height="0.85"/><rect x="466.44" y="78.77" width="0.85" height="0.85"/><rect x="484.09" y="66.73" width="0.85" height="0.85"/><rect x="480.97" y="73.47" width="0.85" height="0.85"/><rect x="459.38" y="81.45" width="0.85" height="0.85"/><rect x="485.37" y="68.62" width="0.85" height="0.85"/><rect x="454.75" y="86.53" width="0.85" height="0.85"/><rect x="452.59" y="85.58" width="0.85" height="0.85"/><rect x="463.56" y="81.03" width="0.85" height="0.85"/><rect x="463.53" y="79.11" width="0.85" height="0.85"/><rect x="457.67" y="86.3" width="0.85" height="0.85"/><rect x="460.07" y="83.53" width="0.85" height="0.85"/><rect x="481.16" y="65.91" width="0.85" height="0.85"/><rect x="458.08" y="87.58" width="0.85" height="0.85"/><rect x="473.43" y="69.29" width="0.85" height="0.85"/><rect x="450.54" y="88.2" width="0.85" height="0.85"/><rect x="467.43" y="77.59" width="0.85" height="0.85"/><rect x="476.86" y="71.04" width="0.85" height="0.85"/><rect x="482.18" y="62.05" width="0.85" height="0.85"/><rect x="467.64" y="74.48" width="0.85" height="0.85"/><rect x="453.91" y="85.43" width="0.85" height="0.85"/><rect x="481.49" y="68.55" width="0.85" height="0.85"/><rect x="451.49" y="92.43" width="0.85" height="0.85"/><rect x="482.42" y="70.01" width="0.85" height="0.85"/><rect x="450.09" y="87.52" width="0.85" height="0.85"/><rect x="461.6" y="83.18" width="0.85" height="0.85"/><rect x="454.04" y="90.86" width="0.85" height="0.85"/><rect x="459.84" y="81.86" width="0.85" height="0.85"/><rect x="462.04" y="80.15" width="0.85" height="0.85"/><rect x="457.93" y="85.32" width="0.85" height="0.85"/><rect x="450.15" y="91.28" width="0.85" height="0.85"/><rect x="480.37" y="70.24" width="0.85" height="0.85"/><rect x="457.05" y="85.76" width="0.85" height="0.85"/><rect x="456.89" y="86.65" width="0.85" height="0.85"/><rect x="465.96" y="77.73" width="0.85" height="0.85"/><rect x="452" y="91.08" width="0.85" height="0.85"/><rect x="459.7" y="84.53" width="0.85" height="0.85"/><rect x="460.4" y="81.57" width="0.85" height="0.85"/><rect x="466.61" y="71.71" width="0.85" height="0.85"/><rect x="463.25" y="86.29" width="0.85" height="0.85"/><rect x="467.01" y="78.59" width="0.85" height="0.85"/><rect x="461.38" y="87.76" width="0.85" height="0.85"/><rect x="452.6" y="88.66" width="0.85" height="0.85"/><rect x="464.63" y="80.7" width="0.85" height="0.85"/><rect x="449.61" y="87.78" width="0.85" height="0.85"/><rect x="454.31" y="88.2" width="0.85" height="0.85"/><rect x="474.42" y="75.3" width="0.85" height="0.85"/><rect x="459.46" y="83.06" width="0.85" height="0.85"/><rect x="476.11" y="76.99" width="0.85" height="0.85"/><rect x="455.01" y="89.58" width="0.85" height="0.85"/><rect x="471.1" y="79" width="0.85" height="0.85"/><rect x="453.94" y="87.21" width="0.85" height="0.85"/><rect x="472.43" y="69.98" width="0.85" height="0.85"/><rect x="471.06" y="74.06" width="0.85" height="0.85"/><rect x="473.06" y="69.71" width="0.85" height="0.85"/><rect x="464.12" y="78.56" width="0.85" height="0.85"/><rect x="478.08" y="66.74" width="0.85" height="0.85"/><rect x="460.33" y="79.4" width="0.85" height="0.85"/><rect x="461" y="77.99" width="0.85" height="0.85"/><rect x="460.41" y="82.4" width="0.85" height="0.85"/><rect x="481.44" y="73.25" width="0.85" height="0.85"/><rect x="458.27" y="85.82" width="0.85" height="0.85"/><rect x="460.15" y="88.99" width="0.85" height="0.85"/><rect x="468.11" y="79.76" width="0.85" height="0.85"/><rect x="463.64" y="76.69" width="0.85" height="0.85"/><rect x="453.58" y="87.68" width="0.85" height="0.85"/><rect x="481.66" y="65.36" width="0.85" height="0.85"/><rect x="449.22" y="86.78" width="0.85" height="0.85"/><rect x="471.39" y="74.26" width="0.85" height="0.85"/><rect x="483.37" y="69.45" width="0.85" height="0.85"/><rect x="486.85" y="68.03" width="0.85" height="0.85"/><rect x="483.98" y="65.93" width="0.85" height="0.85"/><rect x="475.16" y="73.31" width="0.85" height="0.85"/><rect x="449.65" y="91.06" width="0.85" height="0.85"/><rect x="479.34" y="70.87" width="0.85" height="0.85"/><rect x="475.81" y="73.94" width="0.85" height="0.85"/><rect x="471.99" y="70.95" width="0.85" height="0.85"/><rect x="477.2" y="73.49" width="0.85" height="0.85"/><rect x="480.21" y="70" width="0.85" height="0.85"/><rect x="484" y="67.95" width="0.85" height="0.85"/><rect x="461.32" y="84.4" width="0.85" height="0.85"/><rect x="484.56" y="66.61" width="0.85" height="0.85"/><rect x="483.54" y="64.6" width="0.85" height="0.85"/><rect x="454.67" y="88.59" width="0.85" height="0.85"/><rect x="451.98" y="88.01" width="0.85" height="0.85"/><rect x="481.73" y="61.87" width="0.85" height="0.85"/><rect x="470.64" y="75.75" width="0.85" height="0.85"/><rect x="476.93" y="67.47" width="0.85" height="0.85"/><rect x="470.48" y="74.94" width="0.85" height="0.85"/><rect x="451.66" y="90.45" width="0.85" height="0.85"/><rect x="456.12" y="87.78" width="0.85" height="0.85"/><rect x="477.91" y="67.25" width="0.85" height="0.85"/><rect x="468.7" y="78.86" width="0.85" height="0.85"/><rect x="452.64" y="86.42" width="0.85" height="0.85"/><rect x="456.97" y="85.73" width="0.85" height="0.85"/><rect x="478.43" y="72.45" width="0.85" height="0.85"/><rect x="466.36" y="78.66" width="0.85" height="0.85"/><rect x="470.77" y="70.86" width="0.85" height="0.85"/><rect x="457.08" y="84.73" width="0.85" height="0.85"/><rect x="470.94" y="75.73" width="0.85" height="0.85"/><rect x="463.86" y="80.77" width="0.85" height="0.85"/><rect x="448.52" y="88.82" width="0.85" height="0.85"/><rect x="464.07" y="81.28" width="0.85" height="0.85"/><rect x="473.69" y="70.3" width="0.85" height="0.85"/><rect x="472.09" y="75.09" width="0.85" height="0.85"/><rect x="473.16" y="77.6" width="0.85" height="0.85"/><rect x="453.75" y="88.42" width="0.85" height="0.85"/><rect x="461.6" y="83.06" width="0.85" height="0.85"/><rect x="484.37" y="71.36" width="0.85" height="0.85"/><rect x="477.73" y="73.16" width="0.85" height="0.85"/><rect x="470.67" y="75.68" width="0.85" height="0.85"/><rect x="479.27" y="65.22" width="0.85" height="0.85"/><rect x="473.3" y="72.3" width="0.85" height="0.85"/><rect x="478.22" y="66.04" width="0.85" height="0.85"/><rect x="473.93" y="76.26" width="0.85" height="0.85"/><rect x="460.66" y="80.47" width="0.85" height="0.85"/><rect x="465.27" y="76.55" width="0.85" height="0.85"/><rect x="459.43" y="82.88" width="0.85" height="0.85"/><rect x="450.4" y="90.13" width="0.85" height="0.85"/><rect x="462.49" y="80.37" width="0.85" height="0.85"/><rect x="473.53" y="72.01" width="0.85" height="0.85"/><rect x="484.71" y="65.77" width="0.85" height="0.85"/><rect x="460.41" y="84.62" width="0.85" height="0.85"/><rect x="457.83" y="80.55" width="0.85" height="0.85"/><rect x="452.35" y="87.42" width="0.85" height="0.85"/><rect x="454.99" y="85.45" width="0.85" height="0.85"/><rect x="472.11" y="68.74" width="0.85" height="0.85"/><rect x="460.09" y="86.36" width="0.85" height="0.85"/><rect x="463.9" y="78.56" width="0.85" height="0.85"/><rect x="467.66" y="80.95" width="0.85" height="0.85"/><rect x="451.59" y="90.29" width="0.85" height="0.85"/><rect x="453.53" y="84.67" width="0.85" height="0.85"/><rect x="470.86" y="78.16" width="0.85" height="0.85"/><rect x="456.65" y="83.71" width="0.85" height="0.85"/><rect x="485.45" y="71.51" width="0.85" height="0.85"/><rect x="464.35" y="79.56" width="0.85" height="0.85"/><rect x="462.45" y="80.33" width="0.85" height="0.85"/><rect x="470.57" y="75.42" width="0.85" height="0.85"/><rect x="460.5" y="85.52" width="0.85" height="0.85"/><rect x="468.66" y="82.66" width="0.85" height="0.85"/><rect x="480.52" y="74.35" width="0.85" height="0.85"/><rect x="479.79" y="72.01" width="0.85" height="0.85"/><rect x="453.26" y="86.37" width="0.85" height="0.85"/><rect x="479.05" y="68.8" width="0.85" height="0.85"/><rect x="454.8" y="88.57" width="0.85" height="0.85"/><rect x="467.24" y="77.69" width="0.85" height="0.85"/><rect x="457.76" y="84.77" width="0.85" height="0.85"/><rect x="461.81" y="80.55" width="0.85" height="0.85"/><rect x="466.38" y="75.87" width="0.85" height="0.85"/><rect x="480.37" y="68.94" width="0.85" height="0.85"/><rect x="479.01" y="74.82" width="0.85" height="0.85"/><rect x="453.84" y="86.84" width="0.85" height="0.85"/><rect x="466.56" y="78.01" width="0.85" height="0.85"/><rect x="473.28" y="71.82" width="0.85" height="0.85"/><rect x="468.97" y="75.84" width="0.85" height="0.85"/><rect x="475.49" y="72.02" width="0.85" height="0.85"/><rect x="457.87" y="83.94" width="0.85" height="0.85"/><rect x="478.19" y="73.41" width="0.85" height="0.85"/><rect x="473.66" y="77.04" width="0.85" height="0.85"/><rect x="470.2" y="76.09" width="0.85" height="0.85"/><rect x="473.43" y="74.3" width="0.85" height="0.85"/><rect x="473.08" y="77.8" width="0.85" height="0.85"/><rect x="457.46" y="88.56" width="0.85" height="0.85"/><rect x="468.16" y="77.41" width="0.85" height="0.85"/><rect x="468.17" y="77.19" width="0.85" height="0.85"/><rect x="456.38" y="82.75" width="0.85" height="0.85"/><rect x="469.11" y="78.8" width="0.85" height="0.85"/><rect x="454.76" y="85.12" width="0.85" height="0.85"/><rect x="454.79" y="88.55" width="0.85" height="0.85"/><rect x="455.4" y="81.93" width="0.85" height="0.85"/><rect x="467.93" y="73.44" width="0.85" height="0.85"/><rect x="473.28" y="69.93" width="0.85" height="0.85"/><rect x="450.52" y="90.73" width="0.85" height="0.85"/><rect x="454.77" y="85.13" width="0.85" height="0.85"/><rect x="463.99" y="83.38" width="0.85" height="0.85"/><rect x="477.28" y="70.82" width="0.85" height="0.85"/><rect x="450.01" y="90.83" width="0.85" height="0.85"/><rect x="471.67" y="76.02" width="0.85" height="0.85"/><rect x="455.88" y="86.12" width="0.85" height="0.85"/><rect x="470.67" y="74.19" width="0.85" height="0.85"/><rect x="461.14" y="84.84" width="0.85" height="0.85"/><rect x="474.05" y="78.79" width="0.85" height="0.85"/><rect x="470.65" y="78.55" width="0.85" height="0.85"/><rect x="452.11" y="86.8" width="0.85" height="0.85"/><rect x="479.67" y="64.96" width="0.85" height="0.85"/><rect x="477.09" y="71.41" width="0.85" height="0.85"/><rect x="455.39" y="86.43" width="0.85" height="0.85"/><rect x="481.61" y="68.24" width="0.85" height="0.85"/><rect x="480.87" y="63.7" width="0.85" height="0.85"/><rect x="479.46" y="71.3" width="0.85" height="0.85"/><rect x="458.29" y="90.17" width="0.85" height="0.85"/><rect x="478.35" y="70.69" width="0.85" height="0.85"/><rect x="475.8" y="74.06" width="0.85" height="0.85"/><rect x="466.77" y="78.4" width="0.85" height="0.85"/><rect x="455.66" y="85.37" width="0.85" height="0.85"/><rect x="453.81" y="86.95" width="0.85" height="0.85"/><rect x="464.6" y="76.29" width="0.85" height="0.85"/><rect x="461.7" y="82.14" width="0.85" height="0.85"/><rect x="478.47" y="72" width="0.85" height="0.85"/><rect x="464.98" y="81.54" width="0.85" height="0.85"/><rect x="455.71" y="86.37" width="0.85" height="0.85"/><rect x="454.68" y="85.16" width="0.85" height="0.85"/><rect x="475.74" y="73.51" width="0.85" height="0.85"/><rect x="471.86" y="75.16" width="0.85" height="0.85"/><rect x="465.32" y="76.27" width="0.85" height="0.85"/><rect x="467.4" y="76.99" width="0.85" height="0.85"/><rect x="465.75" y="78.5" width="0.85" height="0.85"/><rect x="449.69" y="89.87" width="0.85" height="0.85"/><rect x="473.43" y="74.75" width="0.85" height="0.85"/><rect x="483.04" y="69.22" width="0.85" height="0.85"/><rect x="457" y="83.83" width="0.85" height="0.85"/><rect x="469.94" y="73.33" width="0.85" height="0.85"/><rect x="457.7" y="83.9" width="0.85" height="0.85"/><rect x="465.79" y="77.57" width="0.85" height="0.85"/><rect x="462.98" y="74.8" width="0.85" height="0.85"/><rect x="466.05" y="76.23" width="0.85" height="0.85"/><rect x="464.42" y="81.73" width="0.85" height="0.85"/><rect x="468.25" y="75.89" width="0.85" height="0.85"/><rect x="460.26" y="82.51" width="0.85" height="0.85"/><rect x="469.85" y="78.37" width="0.85" height="0.85"/><rect x="455.52" y="85.51" width="0.85" height="0.85"/><rect x="463.43" y="82.09" width="0.85" height="0.85"/><rect x="474.48" y="75.07" width="0.85" height="0.85"/><rect x="482.8" y="65.83" width="0.85" height="0.85"/><rect x="472.34" y="75.68" width="0.85" height="0.85"/><rect x="462.86" y="82.3" width="0.85" height="0.85"/><rect x="452.87" y="86.84" width="0.85" height="0.85"/><rect x="470.01" y="75.88" width="0.85" height="0.85"/><rect x="463.27" y="76.17" width="0.85" height="0.85"/><rect x="469.46" y="76.43" width="0.85" height="0.85"/><rect x="454.1" y="87.45" width="0.85" height="0.85"/><rect x="478.51" y="72.59" width="0.85" height="0.85"/><rect x="450.9" y="89.98" width="0.85" height="0.85"/><rect x="468.74" y="79.51" width="0.85" height="0.85"/><rect x="460.43" y="86.25" width="0.85" height="0.85"/><rect x="481.89" y="72.78" width="0.85" height="0.85"/><rect x="478.71" y="65.23" width="0.85" height="0.85"/><rect x="480.96" y="69.44" width="0.85" height="0.85"/><rect x="466.8" y="76.79" width="0.85" height="0.85"/><rect x="449.27" y="90.2" width="0.85" height="0.85"/><rect x="450.88" y="86.61" width="0.85" height="0.85"/><rect x="480.71" y="67.04" width="0.85" height="0.85"/><rect x="459.84" y="83.42" width="0.85" height="0.85"/><rect x="462.81" y="80.72" width="0.85" height="0.85"/><rect x="474.3" y="76.41" width="0.85" height="0.85"/><rect x="471" y="76.58" width="0.85" height="0.85"/><rect x="461.9" y="85.13" width="0.85" height="0.85"/><rect x="456.37" y="84.62" width="0.85" height="0.85"/><rect x="453.89" y="88.07" width="0.85" height="0.85"/><rect x="456.34" y="83.65" width="0.85" height="0.85"/><rect x="482.75" y="66.84" width="0.85" height="0.85"/><rect x="454.24" y="87.26" width="0.85" height="0.85"/><rect x="451.62" y="88.93" width="0.85" height="0.85"/><rect x="462.66" y="78.85" width="0.85" height="0.85"/><rect x="452.26" y="90.47" width="0.85" height="0.85"/><rect x="453.01" y="88.43" width="0.85" height="0.85"/><rect x="465.84" y="79.06" width="0.85" height="0.85"/></g>
<g fill="#444" opacity="1.0"><rect x="451.11" y="82.29" width="0.8" height="0.8"/><rect x="447.95" y="82.03" width="0.8" height="0.8"/><rect x="440.07" y="90.7" width="0.8" height="0.8"/><rect x="448.25" y="92.15" width="0.8" height="0.8"/><rect x="444.09" y="83.06" width="0.8" height="0.8"/><rect x="441.99" y="85.11" width="0.8" height="0.8"/><rect x="449.31" y="82.23" width="0.8" height="0.8"/><rect x="449.65" y="81.95" width="0.8" height="0.8"/><rect x="447.47" y="83.42" width="0.8" height="0.8"/><rect x="444.47" y="87.28" width="0.8" height="0.8"/><rect x="436.04" y="86.79" width="0.8" height="0.8"/><rect x="444.8" y="82.93" width="0.8" height="0.8"/><rect x="432.04" y="87.74" width="0.8" height="0.8"/><rect x="433.62" y="81.23" width="0.8" height="0.8"/><rect x="435.26" y="90.81" width="0.8" height="0.8"/><rect x="441.11" y="85.47" width="0.8" height="0.8"/><rect x="438.76" y="83.8" width="0.8" height="0.8"/><rect x="438.13" y="86.9" width="0.8" height="0.8"/><rect x="427.13" y="78.05" width="0.8" height="0.8"/><rect x="445.87" y="86.97" width="0.8" height="0.8"/><rect x="449.11" y="79" width="0.8" height="0.8"/><rect x="447.3" y="87.51" width="0.8" height="0.8"/><rect x="438.34" y="79.53" width="0.8" height="0.8"/><rect x="442.28" y="83.79" width="0.8" height="0.8"/><rect x="438.03" y="83.55" width="0.8" height="0.8"/><rect x="431.65" y="84.02" width="0.8" height="0.8"/><rect x="447.93" y="86.01" width="0.8" height="0.8"/><rect x="448.32" y="84.26" width="0.8" height="0.8"/><rect x="448.7" y="89.26" width="0.8" height="0.8"/><rect x="442.91" y="88.98" width="0.8" height="0.8"/><rect x="440.16" y="79.79" width="0.8" height="0.8"/><rect x="435.26" y="86.09" width="0.8" height="0.8"/><rect x="445.08" y="83.54" width="0.8" height="0.8"/><rect x="449.56" y="79.95" width="0.8" height="0.8"/><rect x="444.74" y="82.58" width="0.8" height="0.8"/><rect x="443.23" y="87.28" width="0.8" height="0.8"/><rect x="443.41" y="81.11" width="0.8" height="0.8"/><rect x="446.28" y="84.97" width="0.8" height="0.8"/><rect x="441.43" y="85.01" width="0.8" height="0.8"/><rect x="442.6" y="84.28" width="0.8" height="0.8"/><rect x="432.94" y="87.2" width="0.8" height="0.8"/><rect x="440.11" y="79" width="0.8" height="0.8"/><rect x="450.1" y="82.8" width="0.8" height="0.8"/><rect x="441.38" y="81.74" width="0.8" height="0.8"/><rect x="434.34" y="87.88" width="0.8" height="0.8"/><rect x="435.58" y="82.35" width="0.8" height="0.8"/><rect x="441.33" y="81.9" width="0.8" height="0.8"/><rect x="438.24" y="80.68" width="0.8" height="0.8"/><rect x="441.56" y="82.19" width="0.8" height="0.8"/><rect x="438.33" y="81.33" width="0.8" height="0.8"/><rect x="431.31" y="87.91" width="0.8" height="0.8"/><rect x="449.35" y="82.89" width="0.8" height="0.8"/><rect x="446.29" y="83.76" width="0.8" height="0.8"/><rect x="435.45" y="81.54" width="0.8" height="0.8"/><rect x="439.56" y="85.69" width="0.8" height="0.8"/><rect x="446.24" y="85.82" width="0.8" height="0.8"/><rect x="448.95" y="88.75" width="0.8" height="0.8"/><rect x="448.75" y="85.96" width="0.8" height="0.8"/><rect x="438.03" y="85.63" width="0.8" height="0.8"/><rect x="453.54" y="89.31" width="0.8" height="0.8"/><rect x="444.89" y="81.18" width="0.8" height="0.8"/><rect x="430.48" y="85.07" width="0.8" height="0.8"/><rect x="448.31" y="82.88" width="0.8" height="0.8"/><rect x="452.49" y="83.93" width="0.8" height="0.8"/><rect x="448.15" y="82.03" width="0.8" height="0.8"/><rect x="428.12" y="78.97" width="0.8" height="0.8"/><rect x="437.23" y="77.84" width="0.8" height="0.8"/><rect x="441.35" y="85.4" width="0.8" height="0.8"/><rect x="439.15" y="87.56" width="0.8" height="0.8"/><rect x="446.5" y="90.39" width="0.8" height="0.8"/><rect x="443.79" y="79.71" width="0.8" height="0.8"/><rect x="439.38" y="79.83" width="0.8" height="0.8"/><rect x="447.16" y="88.37" width="0.8" height="0.8"/><rect x="447.78" y="84.24" width="0.8" height="0.8"/><rect x="451.5" y="77.35" width="0.8" height="0.8"/><rect x="448.09" y="88.15" width="0.8" height="0.8"/><rect x="434.93" y="84.91" width="0.8" height="0.8"/><rect x="434.3" y="90.05" width="0.8" height="0.8"/><rect x="453.39" y="79.08" width="0.8" height="0.8"/><rect x="441.62" y="82.43" width="0.8" height="0.8"/><rect x="436.31" y="89.69" width="0.8" height="0.8"/><rect x="454.54" y="85.47" width="0.8" height="0.8"/><rect x="442.3" y="79.06" width="0.8" height="0.8"/><rect x="440.31" y="80.99" width="0.8" height="0.8"/><rect x="441.88" y="80.61" width="0.8" height="0.8"/><rect x="436.99" y="81.28" width="0.8" height="0.8"/><rect x="436.1" y="83.38" width="0.8" height="0.8"/><rect x="447" y="85.77" width="0.8" height="0.8"/><rect x="454.87" y="85.58" width="0.8" height="0.8"/><rect x="442.22" y="81.41" width="0.8" height="0.8"/><rect x="446.21" y="80.17" width="0.8" height="0.8"/><rect x="445.83" y="82.87" width="0.8" height="0.8"/><rect x="437.8" y="80.88" width="0.8" height="0.8"/><rect x="439.77" y="88.7" width="0.8" height="0.8"/><rect x="441.13" y="83.29" width="0.8" height="0.8"/><rect x="436.02" y="79.24" width="0.8" height="0.8"/><rect x="442.96" y="87.69" width="0.8" height="0.8"/><rect x="437.09" y="85.29" width="0.8" height="0.8"/><rect x="442.51" y="80.63" width="0.8" height="0.8"/><rect x="439.43" y="82.26" width="0.8" height="0.8"/><rect x="452.31" y="84.56" width="0.8" height="0.8"/><rect x="453.87" y="87.13" width="0.8" height="0.8"/><rect x="433.22" y="87.36" width="0.8" height="0.8"/><rect x="439.07" y="83.21" width="0.8" height="0.8"/><rect x="446.87" y="80.99" width="0.8" height="0.8"/><rect x="443.17" y="87.59" width="0.8" height="0.8"/><rect x="437.4" y="83.48" width="0.8" height="0.8"/><rect x="444.96" y="84.87" width="0.8" height="0.8"/><rect x="437.13" y="78.57" width="0.8" height="0.8"/><rect x="448.98" y="83.51" width="0.8" height="0.8"/><rect x="444.5" y="85.71" width="0.8" height="0.8"/><rect x="444.61" y="81.05" width="0.8" height="0.8"/><rect x="436.98" y="82.44" width="0.8" height="0.8"/><rect x="436.95" y="79.67" width="0.8" height="0.8"/><rect x="444.09" y="83.02" width="0.8" height="0.8"/><rect x="449.44" y="86.07" width="0.8" height="0.8"/><rect x="450.15" y="83.03" width="0.8" height="0.8"/><rect x="443.1" y="92.66" width="0.8" height="0.8"/><rect x="436.44" y="84.12" width="0.8" height="0.8"/><rect x="446.65" y="79.83" width="0.8" height="0.8"/><rect x="441.38" y="85.88" width="0.8" height="0.8"/><rect x="449.98" y="86.16" width="0.8" height="0.8"/><rect x="447.06" y="87.32" width="0.8" height="0.8"/><rect x="447.34" y="88" width="0.8" height="0.8"/><rect x="443.34" y="83.56" width="0.8" height="0.8"/><rect x="445.84" y="87.09" width="0.8" height="0.8"/><rect x="436.2" y="82.44" width="0.8" height="0.8"/><rect x="438.84" y="78.84" width="0.8" height="0.8"/><rect x="454.17" y="85.99" width="0.8" height="0.8"/><rect x="449.19" y="80.8" width="0.8" height="0.8"/><rect x="440.09" y="83.49" width="0.8" height="0.8"/><rect x="453.9" y="82.49" width="0.8" height="0.8"/><rect x="444.87" y="86.36" width="0.8" height="0.8"/><rect x="445.18" y="83.34" width="0.8" height="0.8"/><rect x="444.03" y="80.32" width="0.8" height="0.8"/><rect x="451.11" y="85.37" width="0.8" height="0.8"/><rect x="423.99" y="81.88" width="0.8" height="0.8"/><rect x="436.58" y="88.11" width="0.8" height="0.8"/><rect x="446.93" y="86.75" width="0.8" height="0.8"/><rect x="437.22" y="85.62" width="0.8" height="0.8"/><rect x="449.46" y="86.51" width="0.8" height="0.8"/><rect x="437.24" y="79.92" width="0.8" height="0.8"/><rect x="453.84" y="80.54" width="0.8" height="0.8"/><rect x="453" y="81.69" width="0.8" height="0.8"/><rect x="444.4" y="83.21" width="0.8" height="0.8"/><rect x="431.48" y="85.84" width="0.8" height="0.8"/><rect x="448.77" y="85.82" width="0.8" height="0.8"/><rect x="442.33" y="83.16" width="0.8" height="0.8"/><rect x="446.9" y="85.68" width="0.8" height="0.8"/><rect x="441.31" y="77.9" width="0.8" height="0.8"/><rect x="458.88" y="84.47" width="0.8" height="0.8"/><rect x="448.47" y="84.09" width="0.8" height="0.8"/><rect x="449.25" y="83.96" width="0.8" height="0.8"/><rect x="433.69" y="74.97" width="0.8" height="0.8"/><rect x="448.32" y="82.36" width="0.8" height="0.8"/><rect x="443.92" y="83.73" width="0.8" height="0.8"/><rect x="453.79" y="83.74" width="0.8" height="0.8"/><rect x="431.44" y="92.85" width="0.8" height="0.8"/><rect x="454.81" y="86.2" width="0.8" height="0.8"/><rect x="439.64" y="81.23" width="0.8" height="0.8"/><rect x="444.63" y="81.9" width="0.8" height="0.8"/><rect x="437.69" y="80.4" width="0.8" height="0.8"/><rect x="451.13" y="84.14" width="0.8" height="0.8"/><rect x="447.74" y="90.22" width="0.8" height="0.8"/><rect x="433.41" y="82.3" width="0.8" height="0.8"/><rect x="451.01" y="88.18" width="0.8" height="0.8"/><rect x="450.1" y="85.23" width="0.8" height="0.8"/><rect x="454.77" y="86.88" width="0.8" height="0.8"/><rect x="436.04" y="85.19" width="0.8" height="0.8"/><rect x="455.24" y="84.39" width="0.8" height="0.8"/></g>
<g fill="#444" opacity="1.0"><rect x="452.3" y="92.74" width="0.8" height="0.8"/><rect x="468.31" y="94.61" width="0.8" height="0.8"/><rect x="461.44" y="97.15" width="0.8" height="0.8"/><rect x="459.33" y="97.98" width="0.8" height="0.8"/><rect x="464.69" y="101.65" width="0.8" height="0.8"/><rect x="478.79" y="99.91" width="0.8" height="0.8"/><rect x="463.61" y="97.85" width="0.8" height="0.8"/><rect x="460.72" y="96.07" width="0.8" height="0.8"/><rect x="453.19" y="97.23" width="0.8" height="0.8"/><rect x="459.11" y="96.82" width="0.8" height="0.8"/><rect x="456.49" y="98.06" width="0.8" height="0.8"/><rect x="454.32" y="91.28" width="0.8" height="0.8"/><rect x="462.24" y="93.19" width="0.8" height="0.8"/><rect x="469.56" y="103.15" width="0.8" height="0.8"/><rect x="452.3" y="98.33" width="0.8" height="0.8"/><rect x="465.3" y="102.69" width="0.8" height="0.8"/><rect x="460.77" y="98.22" width="0.8" height="0.8"/><rect x="471.82" y="94.18" width="0.8" height="0.8"/><rect x="467.32" y="102.28" width="0.8" height="0.8"/><rect x="473.34" y="95.8" width="0.8" height="0.8"/><rect x="458.64" y="91.74" width="0.8" height="0.8"/><rect x="458.69" y="97.87" width="0.8" height="0.8"/><rect x="466.75" y="100.84" width="0.8" height="0.8"/><rect x="456.91" y="97.53" width="0.8" height="0.8"/><rect x="461.4" y="99.73" width="0.8" height="0.8"/><rect x="465.38" y="102.7" width="0.8" height="0.8"/><rect x="473.69" y="102.66" width="0.8" height="0.8"/><rect x="460.47" y="92.29" width="0.8" height="0.8"/><rect x="470.38" y="94.74" width="0.8" height="0.8"/><rect x="458.97" y="98.74" width="0.8" height="0.8"/><rect x="456.52" y="91.97" width="0.8" height="0.8"/><rect x="465" y="95.28" width="0.8" height="0.8"/><rect x="461.72" y="88.23" width="0.8" height="0.8"/><rect x="473.65" y="97.71" width="0.8" height="0.8"/><rect x="460.13" y="91.67" width="0.8" height="0.8"/><rect x="463.96" y="96.78" width="0.8" height="0.8"/><rect x="475.11" y="92.65" width="0.8" height="0.8"/><rect x="458.95" y="99.67" width="0.8" height="0.8"/><rect x="457.24" y="98.68" width="0.8" height="0.8"/><rect x="450.16" y="91.91" width="0.8" height="0.8"/><rect x="463.67" y="96.97" width="0.8" height="0.8"/><rect x="460.17" y="90.69" width="0.8" height="0.8"/><rect x="456.72" y="98.09" width="0.8" height="0.8"/><rect x="457.53" y="100.06" width="0.8" height="0.8"/><rect x="463.48" y="101.02" width="0.8" height="0.8"/><rect x="459.84" y="93.49" width="0.8" height="0.8"/><rect x="465.83" y="97.95" width="0.8" height="0.8"/><rect x="469.75" y="92.41" width="0.8" height="0.8"/><rect x="465.52" y="100.42" width="0.8" height="0.8"/><rect x="455.06" y="94.64" width="0.8" height="0.8"/><rect x="461.76" y="97.34" width="0.8" height="0.8"/><rect x="457.19" y="93.83" width="0.8" height="0.8"/><rect x="461.54" y="99.43" width="0.8" height="0.8"/><rect x="455.75" y="90.78" width="0.8" height="0.8"/><rect x="462.95" y="90.34" width="0.8" height="0.8"/><rect x="459.52" y="103.3" width="0.8" height="0.8"/><rect x="465.76" y="100.59" width="0.8" height="0.8"/><rect x="458.1" y="96.87" width="0.8" height="0.8"/><rect x="472.64" y="95.12" width="0.8" height="0.8"/><rect x="462.73" y="99.47" width="0.8" height="0.8"/><rect x="468.21" y="98.48" width="0.8" height="0.8"/><rect x="465.52" y="99.43" width="0.8" height="0.8"/><rect x="453.8" y="98.92" width="0.8" height="0.8"/><rect x="477.44" y="94.6" width="0.8" height="0.8"/><rect x="460.44" y="99.2" width="0.8" height="0.8"/><rect x="468.34" y="98.3" width="0.8" height="0.8"/><rect x="460.7" y="98.18" width="0.8" height="0.8"/><rect x="462.7" y="104.89" width="0.8" height="0.8"/><rect x="453.32" y="100.53" width="0.8" height="0.8"/><rect x="464.94" y="94.56" width="0.8" height="0.8"/><rect x="460.32" y="100.68" width="0.8" height="0.8"/><rect x="464.65" y="98.67" width="0.8" height="0.8"/><rect x="457.8" y="99.2" width="0.8" height="0.8"/><rect x="467.59" y="101.55" width="0.8" height="0.8"/><rect x="479.31" y="96.43" width="0.8" height="0.8"/><rect x="467.72" y="96.04" width="0.8" height="0.8"/><rect x="466.81" y="96.54" width="0.8" height="0.8"/><rect x="469.65" y="97" width="0.8" height="0.8"/><rect x="482.11" y="90.33" width="0.8" height="0.8"/><rect x="464.25" y="93.68" width="0.8" height="0.8"/><rect x="465.28" y="96.89" width="0.8" height="0.8"/><rect x="463.88" y="89.91" width="0.8" height="0.8"/><rect x="468.17" y="92.58" width="0.8" height="0.8"/><rect x="467.68" y="95.77" width="0.8" height="0.8"/><rect x="472.72" y="101.02" width="0.8" height="0.8"/><rect x="466.13" y="98.16" width="0.8" height="0.8"/><rect x="464.3" y="99.51" width="0.8" height="0.8"/><rect x="469.54" y="94.52" width="0.8" height="0.8"/><rect x="459.8" y="99.05" width="0.8" height="0.8"/><rect x="468.83" y="100.38" width="0.8" height="0.8"/><rect x="462.14" y="98.91" width="0.8" height="0.8"/><rect x="452.47" y="103.09" width="0.8" height="0.8"/><rect x="455.74" y="102.18" width="0.8" height="0.8"/><rect x="460.98" y="90.44" width="0.8" height="0.8"/><rect x="450.82" y="100.53" width="0.8" height="0.8"/><rect x="460.77" y="101.4" width="0.8" height="0.8"/><rect x="466.24" y="99.91" width="0.8" height="0.8"/><rect x="465.48" y="102.86" width="0.8" height="0.8"/><rect x="452.93" y="97.34" width="0.8" height="0.8"/><rect x="466.07" y="96.32" width="0.8" height="0.8"/><rect x="469.35" y="96.65" width="0.8" height="0.8"/><rect x="475.72" y="98.62" width="0.8" height="0.8"/><rect x="465.8" y="94.32" width="0.8" height="0.8"/><rect x="460.17" y="89.48" width="0.8" height="0.8"/><rect x="453.74" y="94.01" width="0.8" height="0.8"/><rect x="464.82" y="90.07" width="0.8" height="0.8"/><rect x="462.45" y="98.67" width="0.8" height="0.8"/><rect x="456.34" y="94.57" width="0.8" height="0.8"/><rect x="470.95" y="89.25" width="0.8" height="0.8"/><rect x="451.96" y="97.85" width="0.8" height="0.8"/></g>
<g fill="#111" opacity="1.0"><rect x="433.53" y="100.45" width="0.9" height="0.9"/><rect x="441.94" y="99.54" width="0.9" height="0.9"/><rect x="455.81" y="89.97" width="0.9" height="0.9"/><rect x="427.74" y="96.91" width="0.9" height="0.9"/><rect x="450.56" y="111.42" width="0.9" height="0.9"/><rect x="435.62" y="82.78" width="0.9" height="0.9"/><rect x="444.55" y="105.35" width="0.9" height="0.9"/><rect x="437.85" y="89.33" width="0.9" height="0.9"/><rect x="447.11" y="107.12" width="0.9" height="0.9"/><rect x="436.35" y="98.31" width="0.9" height="0.9"/><rect x="442.63" y="108.75" width="0.9" height="0.9"/><rect x="430.98" y="97.9" width="0.9" height="0.9"/><rect x="432.24" y="103.25" width="0.9" height="0.9"/><rect x="445.68" y="99.53" width="0.9" height="0.9"/><rect x="430.21" y="98.31" width="0.9" height="0.9"/><rect x="435.36" y="95.61" width="0.9" height="0.9"/><rect x="438.8" y="103.72" width="0.9" height="0.9"/><rect x="434.49" y="91.42" width="0.9" height="0.9"/><rect x="449.92" y="99.87" width="0.9" height="0.9"/><rect x="438.53" y="101.54" width="0.9" height="0.9"/><rect x="461.84" y="102.47" width="0.9" height="0.9"/><rect x="445.87" y="95.9" width="0.9" height="0.9"/><rect x="437.16" y="109.47" width="0.9" height="0.9"/><rect x="442.86" y="100.97" width="0.9" height="0.9"/><rect x="436.93" y="101.08" width="0.9" height="0.9"/><rect x="433.3" y="100.41" width="0.9" height="0.9"/><rect x="448.71" y="102.24" width="0.9" height="0.9"/><rect x="442.22" y="110.09" width="0.9" height="0.9"/><rect x="441.65" y="98.82" width="0.9" height="0.9"/><rect x="444.19" y="103.34" width="0.9" height="0.9"/><rect x="438.75" y="91.44" width="0.9" height="0.9"/><rect x="435.16" y="99.81" width="0.9" height="0.9"/><rect x="432.87" y="99.74" width="0.9" height="0.9"/><rect x="439.26" y="103.61" width="0.9" height="0.9"/><rect x="443.84" y="96.47" width="0.9" height="0.9"/><rect x="439.26" y="109.25" width="0.9" height="0.9"/><rect x="431.42" y="105.37" width="0.9" height="0.9"/><rect x="445.91" y="102.73" width="0.9" height="0.9"/><rect x="435.93" y="111.22" width="0.9" height="0.9"/><rect x="439.65" y="106.25" width="0.9" height="0.9"/><rect x="426.41" y="96.95" width="0.9" height="0.9"/><rect x="438.15" y="104.56" width="0.9" height="0.9"/><rect x="454.56" y="103.02" width="0.9" height="0.9"/><rect x="427.97" y="102.13" width="0.9" height="0.9"/><rect x="440.23" y="98.8" width="0.9" height="0.9"/><rect x="432.99" y="91.24" width="0.9" height="0.9"/><rect x="430.17" y="96.73" width="0.9" height="0.9"/><rect x="436.17" y="106.19" width="0.9" height="0.9"/><rect x="438.94" y="96.62" width="0.9" height="0.9"/><rect x="445.59" y="85.32" width="0.9" height="0.9"/><rect x="434.49" y="96.13" width="0.9" height="0.9"/><rect x="444.87" y="98.22" width="0.9" height="0.9"/><rect x="431.71" y="98.69" width="0.9" height="0.9"/><rect x="448.49" y="105.91" width="0.9" height="0.9"/><rect x="446" y="92.06" width="0.9" height="0.9"/><rect x="445.51" y="99.52" width="0.9" height="0.9"/><rect x="450.18" y="100.05" width="0.9" height="0.9"/><rect x="434.25" y="95.73" width="0.9" height="0.9"/><rect x="424.11" y="88.9" width="0.9" height="0.9"/><rect x="446.72" y="104.91" width="0.9" height="0.9"/><rect x="435.06" y="96.79" width="0.9" height="0.9"/><rect x="433.94" y="101.76" width="0.9" height="0.9"/><rect x="429.66" y="94.25" width="0.9" height="0.9"/><rect x="434.17" y="101.19" width="0.9" height="0.9"/><rect x="425.82" y="89.8" width="0.9" height="0.9"/><rect x="440.07" y="97.22" width="0.9" height="0.9"/><rect x="434.08" y="111.24" width="0.9" height="0.9"/><rect x="451.13" y="111.82" width="0.9" height="0.9"/><rect x="439.33" y="103.87" width="0.9" height="0.9"/><rect x="433.34" y="94.84" width="0.9" height="0.9"/><rect x="432.73" y="101.95" width="0.9" height="0.9"/><rect x="425.15" y="107.53" width="0.9" height="0.9"/><rect x="439.31" y="105.34" width="0.9" height="0.9"/><rect x="427.22" y="113.86" width="0.9" height="0.9"/><rect x="439.96" y="91.36" width="0.9" height="0.9"/><rect x="432.83" y="104.47" width="0.9" height="0.9"/><rect x="438.23" y="95.03" width="0.9" height="0.9"/><rect x="436.2" y="91.82" width="0.9" height="0.9"/><rect x="430.98" y="99.64" width="0.9" height="0.9"/><rect x="450.73" y="101.1" width="0.9" height="0.9"/><rect x="435.93" y="103.29" width="0.9" height="0.9"/><rect x="438.5" y="101.89" width="0.9" height="0.9"/><rect x="433.78" y="101.27" width="0.9" height="0.9"/><rect x="447.99" y="95.71" width="0.9" height="0.9"/><rect x="436.78" y="99.72" width="0.9" height="0.9"/><rect x="450.51" y="100.13" width="0.9" height="0.9"/><rect x="430.68" y="88.94" width="0.9" height="0.9"/><rect x="429.42" y="93.42" width="0.9" height="0.9"/><rect x="434.87" y="98.39" width="0.9" height="0.9"/><rect x="448.54" y="92.01" width="0.9" height="0.9"/><rect x="449.66" y="95.74" width="0.9" height="0.9"/><rect x="431.08" y="105.92" width="0.9" height="0.9"/><rect x="434.79" y="97.47" width="0.9" height="0.9"/><rect x="440.36" y="98.44" width="0.9" height="0.9"/><rect x="436.19" y="98.44" width="0.9" height="0.9"/><rect x="455.91" y="97.46" width="0.9" height="0.9"/><rect x="430.25" y="91.91" width="0.9" height="0.9"/><rect x="428.29" y="98.51" width="0.9" height="0.9"/><rect x="439.6" y="100.2" width="0.9" height="0.9"/><rect x="450.11" y="102.6" width="0.9" height="0.9"/><rect x="443.98" y="106.4" width="0.9" height="0.9"/><rect x="444.92" y="98.47" width="0.9" height="0.9"/><rect x="446.77" y="101.66" width="0.9" height="0.9"/><rect x="440.95" y="98.73" width="0.9" height="0.9"/><rect x="438.35" y="97.16" width="0.9" height="0.9"/><rect x="438.76" y="110.69" width="0.9" height="0.9"/><rect x="447.98" y="101.18" width="0.9" height="0.9"/><rect x="450.34" y="97.78" width="0.9" height="0.9"/><rect x="432.33" y="101.83" width="0.9" height="0.9"/><rect x="441.46" y="102.31" width="0.9" height="0.9"/><rect x="437.06" y="97.32" width="0.9" height="0.9"/><rect x="438.37" y="98.73" width="0.9" height="0.9"/><rect x="423.18" y="106.04" width="0.9" height="0.9"/><rect x="449.2" y="98.71" width="0.9" height="0.9"/><rect x="446.67" y="95.34" width="0.9" height="0.9"/><rect x="442.62" y="92.99" width="0.9" height="0.9"/><rect x="443.64" y="111.02" width="0.9" height="0.9"/><rect x="426.27" y="97.52" width="0.9" height="0.9"/><rect x="440.21" y="109.85" width="0.9" height="0.9"/><rect x="435.22" y="109.28" width="0.9" height="0.9"/><rect x="442" y="106.38" width="0.9" height="0.9"/><rect x="447.9" y="95.72" width="0.9" height="0.9"/><rect x="425.38" y="99.01" width="0.9" height="0.9"/><rect x="430.44" y="97.44" width="0.9" height="0.9"/><rect x="425.95" y="94.44" width="0.9" height="0.9"/><rect x="432.19" y="103.09" width="0.9" height="0.9"/><rect x="426.4" y="108.33" width="0.9" height="0.9"/><rect x="452.99" y="98.82" width="0.9" height="0.9"/><rect x="436.46" y="109.43" width="0.9" height="0.9"/><rect x="448.07" y="105.99" width="0.9" height="0.9"/><rect x="437.89" y="89.98" width="0.9" height="0.9"/><rect x="460.05" y="103.91" width="0.9" height="0.9"/><rect x="434.2" y="91.59" width="0.9" height="0.9"/><rect x="430.1" y="89.24" width="0.9" height="0.9"/><rect x="426.71" y="102.38" width="0.9" height="0.9"/><rect x="430.88" y="98.31" width="0.9" height="0.9"/><rect x="429.82" y="110.21" width="0.9" height="0.9"/><rect x="432.17" y="90.86" width="0.9" height="0.9"/><rect x="427.45" y="113.94" width="0.9" height="0.9"/><rect x="438.29" y="100.27" width="0.9" height="0.9"/><rect x="435.47" y="99.42" width="0.9" height="0.9"/><rect x="447.81" y="93.05" width="0.9" height="0.9"/><rect x="438.95" y="100.33" width="0.9" height="0.9"/><rect x="428.63" y="106.76" width="0.9" height="0.9"/><rect x="442.44" y="98.23" width="0.9" height="0.9"/><rect x="451.94" y="102.65" width="0.9" height="0.9"/><rect x="430.66" y="107.56" width="0.9" height="0.9"/><rect x="437.56" y="91.57" width="0.9" height="0.9"/><rect x="435.77" y="99" width="0.9" height="0.9"/><rect x="429.76" y="93.06" width="0.9" height="0.9"/><rect x="432.31" y="95.27" width="0.9" height="0.9"/><rect x="450.17" y="106.98" width="0.9" height="0.9"/><rect x="444.33" y="104.42" width="0.9" height="0.9"/><rect x="441.97" y="98.62" width="0.9" height="0.9"/><rect x="441.79" y="103.84" width="0.9" height="0.9"/><rect x="437.03" y="99.34" width="0.9" height="0.9"/><rect x="431.22" y="93.98" width="0.9" height="0.9"/><rect x="424.95" y="99.02" width="0.9" height="0.9"/><rect x="448.48" y="107.08" width="0.9" height="0.9"/><rect x="434.5" y="92.6" width="0.9" height="0.9"/><rect x="439.4" y="110.83" width="0.9" height="0.9"/><rect x="444.12" y="105.65" width="0.9" height="0.9"/><rect x="433.8" y="96.63" width="0.9" height="0.9"/><rect x="437.72" y="98.47" width="0.9" height="0.9"/><rect x="433.81" y="96.52" width="0.9" height="0.9"/><rect x="434.19" y="97.35" width="0.9" height="0.9"/><rect x="456.31" y="95.63" width="0.9" height="0.9"/><rect x="452.69" y="97.24" width="0.9" height="0.9"/><rect x="436.78" y="93.93" width="0.9" height="0.9"/><rect x="429.12" y="101.71" width="0.9" height="0.9"/><rect x="439.62" y="90.26" width="0.9" height="0.9"/><rect x="437.66" y="99.69" width="0.9" height="0.9"/><rect x="440.1" y="106.55" width="0.9" height="0.9"/><rect x="441.33" y="113.37" width="0.9" height="0.9"/><rect x="443.12" y="108.86" width="0.9" height="0.9"/><rect x="429.37" y="104.1" width="0.9" height="0.9"/><rect x="430.6" y="95.8" width="0.9" height="0.9"/><rect x="452.87" y="91.92" width="0.9" height="0.9"/><rect x="443.2" y="101.29" width="0.9" height="0.9"/><rect x="444.03" y="93.16" width="0.9" height="0.9"/><rect x="432.37" y="113.19" width="0.9" height="0.9"/><rect x="428.13" y="106.79" width="0.9" height="0.9"/><rect x="441.69" y="105.93" width="0.9" height="0.9"/><rect x="446.74" y="101.09" width="0.9" height="0.9"/><rect x="446.39" y="98.57" width="0.9" height="0.9"/><rect x="453.63" y="93.61" width="0.9" height="0.9"/><rect x="435.7" y="95.71" width="0.9" height="0.9"/><rect x="444.64" y="96.87" width="0.9" height="0.9"/><rect x="441.51" y="89.93" width="0.9" height="0.9"/><rect x="437.22" y="108.05" width="0.9" height="0.9"/><rect x="436.97" y="99.24" width="0.9" height="0.9"/><rect x="447.73" y="103.09" width="0.9" height="0.9"/><rect x="441.05" y="99.83" width="0.9" height="0.9"/><rect x="436.57" y="105.82" width="0.9" height="0.9"/><rect x="427.97" y="103.54" width="0.9" height="0.9"/><rect x="435.2" y="99.72" width="0.9" height="0.9"/><rect x="447.12" y="111.68" width="0.9" height="0.9"/><rect x="449.95" y="91.72" width="0.9" height="0.9"/><rect x="439.33" y="99" width="0.9" height="0.9"/><rect x="445.28" y="97.07" width="0.9" height="0.9"/><rect x="441.65" y="107.35" width="0.9" height="0.9"/><rect x="452.02" y="99.75" width="0.9" height="0.9"/><rect x="435.17" y="99.49" width="0.9" height="0.9"/><rect x="438.51" y="98.75" width="0.9" height="0.9"/><rect x="450.99" y="104.89" width="0.9" height="0.9"/><rect x="444.53" y="106.04" width="0.9" height="0.9"/><rect x="447.46" y="89.48" width="0.9" height="0.9"/><rect x="435.75" y="100.03" width="0.9" height="0.9"/><rect x="429.14" y="96.29" width="0.9" height="0.9"/><rect x="427.8" y="94.11" width="0.9" height="0.9"/><rect x="426.25" y="101.36" width="0.9" height="0.9"/><rect x="427.04" y="99.94" width="0.9" height="0.9"/><rect x="429.57" y="97.4" width="0.9" height="0.9"/><rect x="435.3" y="104.42" width="0.9" height="0.9"/><rect x="430.45" y="95.28" width="0.9" height="0.9"/><rect x="431.72" y="101.35" width="0.9" height="0.9"/><rect x="440.35" y="110.75" width="0.9" height="0.9"/><rect x="436.21" y="100.7" width="0.9" height="0.9"/><rect x="447.39" y="100.69" width="0.9" height="0.9"/><rect x="446.04" y="101.27" width="0.9" height="0.9"/><rect x="431.23" y="99.11" width="0.9" height="0.9"/><rect x="441.47" y="99.33" width="0.9" height="0.9"/><rect x="441.22" y="99.52" width="0.9" height="0.9"/><rect x="449.16" y="100.97" width="0.9" height="0.9"/><rect x="444.4" y="110.3" width="0.9" height="0.9"/><rect x="442.33" y="96.09" width="0.9" height="0.9"/><rect x="438.98" y="97.25" width="0.9" height="0.9"/><rect x="442.74" y="93.32" width="0.9" height="0.9"/><rect x="434.38" y="106.35" width="0.9" height="0.9"/><rect x="447.62" y="93.99" width="0.9" height="0.9"/><rect x="441.8" y="96.96" width="0.9" height="0.9"/><rect x="424.42" y="98.77" width="0.9" height="0.9"/><rect x="429.85" y="90.55" width="0.9" height="0.9"/><rect x="431.67" y="95.4" width="0.9" height="0.9"/><rect x="443.29" y="103.92" width="0.9" height="0.9"/><rect x="435.24" y="106.76" width="0.9" height="0.9"/><rect x="424" y="84.64" width="0.9" height="0.9"/><rect x="436.56" y="102.07" width="0.9" height="0.9"/><rect x="439.04" y="97.35" width="0.9" height="0.9"/><rect x="437.08" y="101.45" width="0.9" height="0.9"/><rect x="426.92" y="93.87" width="0.9" height="0.9"/><rect x="427.59" y="94.04" width="0.9" height="0.9"/><rect x="443.58" y="97.7" width="0.9" height="0.9"/><rect x="445.73" y="110.59" width="0.9" height="0.9"/><rect x="443.1" y="96.7" width="0.9" height="0.9"/><rect x="430.14" y="98.73" width="0.9" height="0.9"/><rect x="436.01" y="105.07" width="0.9" height="0.9"/><rect x="436.18" y="102.43" width="0.9" height="0.9"/><rect x="435.25" y="97.13" width="0.9" height="0.9"/><rect x="431.1" y="101.72" width="0.9" height="0.9"/><rect x="441.53" y="98.11" width="0.9" height="0.9"/><rect x="427.86" y="83.32" width="0.9" height="0.9"/><rect x="434.43" y="98.15" width="0.9" height="0.9"/><rect x="436.69" y="100.45" width="0.9" height="0.9"/><rect x="434.75" y="102.07" width="0.9" height="0.9"/><rect x="449.17" y="99.55" width="0.9" height="0.9"/><rect x="436.95" y="99.44" width="0.9" height="0.9"/><rect x="453.29" y="100.27" width="0.9" height="0.9"/><rect x="447.52" y="94.79" width="0.9" height="0.9"/><rect x="434.12" y="104.01" width="0.9" height="0.9"/><rect x="454.81" y="114.32" width="0.9" height="0.9"/><rect x="453.09" y="93.94" width="0.9" height="0.9"/><rect x="450.2" y="103.81" width="0.9" height="0.9"/><rect x="444.82" y="96.21" width="0.9" height="0.9"/><rect x="446.12" y="95.04" width="0.9" height="0.9"/><rect x="449.59" y="95.51" width="0.9" height="0.9"/><rect x="443.35" y="105.33" width="0.9" height="0.9"/><rect x="431.66" y="97.16" width="0.9" height="0.9"/><rect x="451.97" y="96.75" width="0.9" height="0.9"/><rect x="436.85" y="91.13" width="0.9" height="0.9"/><rect x="433.99" y="100.85" width="0.9" height="0.9"/><rect x="433.08" y="94.76" width="0.9" height="0.9"/><rect x="432.77" y="89.39" width="0.9" height="0.9"/><rect x="433.02" y="98.19" width="0.9" height="0.9"/><rect x="427.85" y="94.5" width="0.9" height="0.9"/><rect x="452.58" y="105.08" width="0.9" height="0.9"/><rect x="436.71" y="103.09" width="0.9" height="0.9"/><rect x="432.82" y="105.57" width="0.9" height="0.9"/><rect x="436.2" y="98.7" width="0.9" height="0.9"/><rect x="441.23" y="94.42" width="0.9" height="0.9"/><rect x="443.63" y="99.2" width="0.9" height="0.9"/><rect x="440.63" y="94.87" width="0.9" height="0.9"/><rect x="448.7" y="92.51" width="0.9" height="0.9"/><rect x="446.96" y="100.98" width="0.9" height="0.9"/><rect x="459.14" y="93.96" width="0.9" height="0.9"/><rect x="441.48" y="101.34" width="0.9" height="0.9"/><rect x="442.83" y="100.41" width="0.9" height="0.9"/><rect x="445.99" y="91.96" width="0.9" height="0.9"/><rect x="437.45" y="102.31" width="0.9" height="0.9"/><rect x="439.7" y="94.73" width="0.9" height="0.9"/><rect x="439.57" y="89.12" width="0.9" height="0.9"/></g>
<g fill="#111" opacity="1.0"><rect x="448.2" y="92.59" width="0.9" height="0.9"/><rect x="456.27" y="98.4" width="0.9" height="0.9"/><rect x="456.71" y="99.8" width="0.9" height="0.9"/><rect x="457.54" y="91.69" width="0.9" height="0.9"/><rect x="456.33" y="98.84" width="0.9" height="0.9"/><rect x="456.47" y="98.18" width="0.9" height="0.9"/><rect x="447.96" y="97.9" width="0.9" height="0.9"/><rect x="449.01" y="96.73" width="0.9" height="0.9"/><rect x="451.81" y="96.67" width="0.9" height="0.9"/><rect x="451.45" y="89.74" width="0.9" height="0.9"/><rect x="455.37" y="92.86" width="0.9" height="0.9"/><rect x="456.28" y="97.53" width="0.9" height="0.9"/><rect x="454.91" y="94.81" width="0.9" height="0.9"/><rect x="452.4" y="91.9" width="0.9" height="0.9"/><rect x="465.03" y="91.07" width="0.9" height="0.9"/><rect x="452.71" y="91.45" width="0.9" height="0.9"/><rect x="452.29" y="89.62" width="0.9" height="0.9"/><rect x="457.67" y="96.94" width="0.9" height="0.9"/><rect x="453.91" y="100.03" width="0.9" height="0.9"/><rect x="453.28" y="96.51" width="0.9" height="0.9"/><rect x="459.68" y="99.86" width="0.9" height="0.9"/><rect x="455.37" y="93.83" width="0.9" height="0.9"/><rect x="453.07" y="93.51" width="0.9" height="0.9"/><rect x="448.89" y="96.96" width="0.9" height="0.9"/><rect x="462.42" y="92.38" width="0.9" height="0.9"/><rect x="455.59" y="89.88" width="0.9" height="0.9"/><rect x="456.9" y="92.47" width="0.9" height="0.9"/><rect x="458.61" y="97.29" width="0.9" height="0.9"/><rect x="458.74" y="96.48" width="0.9" height="0.9"/><rect x="448.09" y="95.76" width="0.9" height="0.9"/><rect x="457.22" y="97.64" width="0.9" height="0.9"/><rect x="459.01" y="98.19" width="0.9" height="0.9"/><rect x="446.44" y="93.49" width="0.9" height="0.9"/><rect x="453.58" y="90.78" width="0.9" height="0.9"/><rect x="460.12" y="92.94" width="0.9" height="0.9"/><rect x="448.63" y="86.75" width="0.9" height="0.9"/><rect x="455.02" y="96.42" width="0.9" height="0.9"/><rect x="449.79" y="87.08" width="0.9" height="0.9"/><rect x="457.44" y="84.07" width="0.9" height="0.9"/><rect x="453.21" y="94.6" width="0.9" height="0.9"/><rect x="457.71" y="98.18" width="0.9" height="0.9"/><rect x="456.33" y="90.62" width="0.9" height="0.9"/><rect x="457.89" y="95.18" width="0.9" height="0.9"/><rect x="450.99" y="92.36" width="0.9" height="0.9"/><rect x="451.08" y="96.03" width="0.9" height="0.9"/><rect x="454.76" y="96.6" width="0.9" height="0.9"/><rect x="456.87" y="100.34" width="0.9" height="0.9"/><rect x="455.14" y="96.96" width="0.9" height="0.9"/><rect x="448.06" y="101.2" width="0.9" height="0.9"/><rect x="449.13" y="98.81" width="0.9" height="0.9"/><rect x="452.82" y="95.4" width="0.9" height="0.9"/><rect x="460.84" y="88.46" width="0.9" height="0.9"/><rect x="450.38" y="92.04" width="0.9" height="0.9"/><rect x="454.31" y="94.74" width="0.9" height="0.9"/><rect x="459.49" y="94.41" width="0.9" height="0.9"/><rect x="452.57" y="94.37" width="0.9" height="0.9"/><rect x="451.92" y="88.33" width="0.9" height="0.9"/><rect x="459.57" y="100.42" width="0.9" height="0.9"/><rect x="454.31" y="88.96" width="0.9" height="0.9"/><rect x="455.18" y="86.74" width="0.9" height="0.9"/><rect x="454.39" y="100.19" width="0.9" height="0.9"/><rect x="453.4" y="90.95" width="0.9" height="0.9"/><rect x="456.76" y="95.28" width="0.9" height="0.9"/><rect x="453.24" y="93.88" width="0.9" height="0.9"/><rect x="456.55" y="100.34" width="0.9" height="0.9"/><rect x="458.94" y="97.78" width="0.9" height="0.9"/><rect x="458.13" y="97.61" width="0.9" height="0.9"/><rect x="455.77" y="90.24" width="0.9" height="0.9"/><rect x="456.81" y="101.37" width="0.9" height="0.9"/><rect x="463.49" y="98.62" width="0.9" height="0.9"/><rect x="460.14" y="99.2" width="0.9" height="0.9"/><rect x="452.15" y="89.83" width="0.9" height="0.9"/><rect x="460" y="92.86" width="0.9" height="0.9"/><rect x="451.38" y="96.03" width="0.9" height="0.9"/><rect x="451.97" y="92.02" width="0.9" height="0.9"/><rect x="453.82" y="98.11" width="0.9" height="0.9"/><rect x="459.99" y="91.49" width="0.9" height="0.9"/><rect x="451.79" y="93.48" width="0.9" height="0.9"/><rect x="446.46" y="95.22" width="0.9" height="0.9"/><rect x="451.23" y="84.93" width="0.9" height="0.9"/><rect x="452.91" y="98.97" width="0.9" height="0.9"/><rect x="455.33" y="89.06" width="0.9" height="0.9"/><rect x="457.21" y="100.79" width="0.9" height="0.9"/><rect x="461.69" y="95.72" width="0.9" height="0.9"/><rect x="454.88" y="91.9" width="0.9" height="0.9"/><rect x="454.38" y="96.58" width="0.9" height="0.9"/><rect x="456.19" y="93.34" width="0.9" height="0.9"/><rect x="454.52" y="92.67" width="0.9" height="0.9"/><rect x="455.35" y="91.87" width="0.9" height="0.9"/><rect x="449.51" y="101.54" width="0.9" height="0.9"/><rect x="457.13" y="95.77" width="0.9" height="0.9"/><rect x="452.46" y="97.1" width="0.9" height="0.9"/><rect x="457.67" y="90.9" width="0.9" height="0.9"/><rect x="456.74" y="94.28" width="0.9" height="0.9"/><rect x="454.81" y="97.39" width="0.9" height="0.9"/><rect x="454.09" y="97.51" width="0.9" height="0.9"/><rect x="452.3" y="101.97" width="0.9" height="0.9"/><rect x="458.97" y="91.17" width="0.9" height="0.9"/><rect x="454.01" y="95.82" width="0.9" height="0.9"/><rect x="453.7" y="95.89" width="0.9" height="0.9"/><rect x="453.59" y="94.59" width="0.9" height="0.9"/><rect x="460.13" y="94.54" width="0.9" height="0.9"/><rect x="454.79" y="84.37" width="0.9" height="0.9"/><rect x="454.31" y="94.64" width="0.9" height="0.9"/><rect x="452.39" y="98.7" width="0.9" height="0.9"/><rect x="449.6" y="88.65" width="0.9" height="0.9"/><rect x="456.08" y="97.76" width="0.9" height="0.9"/><rect x="455.71" y="92.3" width="0.9" height="0.9"/><rect x="454.36" y="91.53" width="0.9" height="0.9"/><rect x="460.34" y="98.56" width="0.9" height="0.9"/><rect x="449.5" y="92.61" width="0.9" height="0.9"/><rect x="460.84" y="102.9" width="0.9" height="0.9"/><rect x="454.68" y="100.84" width="0.9" height="0.9"/><rect x="459.26" y="90.52" width="0.9" height="0.9"/><rect x="458.39" y="99.11" width="0.9" height="0.9"/><rect x="453.37" y="95.59" width="0.9" height="0.9"/><rect x="458.26" y="86.57" width="0.9" height="0.9"/><rect x="456.37" y="95.36" width="0.9" height="0.9"/><rect x="450.07" y="92.64" width="0.9" height="0.9"/><rect x="461.16" y="93.69" width="0.9" height="0.9"/><rect x="450.64" y="99.11" width="0.9" height="0.9"/><rect x="452.32" y="94.15" width="0.9" height="0.9"/><rect x="452.24" y="94.6" width="0.9" height="0.9"/><rect x="458.45" y="98.59" width="0.9" height="0.9"/><rect x="454.89" y="98.8" width="0.9" height="0.9"/><rect x="457.89" y="98.96" width="0.9" height="0.9"/><rect x="454.7" y="95.84" width="0.9" height="0.9"/><rect x="455.61" y="89.32" width="0.9" height="0.9"/><rect x="457.04" y="92.14" width="0.9" height="0.9"/><rect x="459.44" y="93.89" width="0.9" height="0.9"/><rect x="453.96" y="95.29" width="0.9" height="0.9"/><rect x="459.42" y="98.7" width="0.9" height="0.9"/><rect x="451.84" y="98.55" width="0.9" height="0.9"/><rect x="454.32" y="90.65" width="0.9" height="0.9"/><rect x="455" y="94.73" width="0.9" height="0.9"/><rect x="457.15" y="92.8" width="0.9" height="0.9"/><rect x="448.9" y="95.32" width="0.9" height="0.9"/><rect x="459.2" y="91.22" width="0.9" height="0.9"/><rect x="453.53" y="91.39" width="0.9" height="0.9"/><rect x="456.49" y="92.32" width="0.9" height="0.9"/><rect x="456.81" y="94.63" width="0.9" height="0.9"/><rect x="455.47" y="87.01" width="0.9" height="0.9"/><rect x="456.46" y="93.39" width="0.9" height="0.9"/><rect x="455.46" y="94.64" width="0.9" height="0.9"/><rect x="453.69" y="98.73" width="0.9" height="0.9"/><rect x="453.74" y="95.55" width="0.9" height="0.9"/><rect x="451.67" y="102.69" width="0.9" height="0.9"/><rect x="451.6" y="95.07" width="0.9" height="0.9"/><rect x="455.4" y="96.45" width="0.9" height="0.9"/><rect x="454.7" y="96.17" width="0.9" height="0.9"/><rect x="458.21" y="92.03" width="0.9" height="0.9"/><rect x="454.96" y="92.49" width="0.9" height="0.9"/><rect x="453.84" y="101.81" width="0.9" height="0.9"/><rect x="456.13" y="90.32" width="0.9" height="0.9"/><rect x="452.24" y="93.88" width="0.9" height="0.9"/><rect x="453.85" y="95.23" width="0.9" height="0.9"/><rect x="450.78" y="96.62" width="0.9" height="0.9"/><rect x="450.82" y="98.99" width="0.9" height="0.9"/><rect x="460.01" y="93.46" width="0.9" height="0.9"/><rect x="451.5" y="89.55" width="0.9" height="0.9"/><rect x="447.99" y="93.51" width="0.9" height="0.9"/><rect x="461.4" y="92.69" width="0.9" height="0.9"/><rect x="453.37" y="94.74" width="0.9" height="0.9"/><rect x="450.63" y="95.33" width="0.9" height="0.9"/><rect x="454.59" y="95.24" width="0.9" height="0.9"/><rect x="461.61" y="91.77" width="0.9" height="0.9"/><rect x="454.02" y="100.05" width="0.9" height="0.9"/><rect x="454.19" y="95.7" width="0.9" height="0.9"/><rect x="454.12" y="92.3" width="0.9" height="0.9"/><rect x="455.2" y="95.01" width="0.9" height="0.9"/><rect x="460.86" y="103.56" width="0.9" height="0.9"/><rect x="458.89" y="94.62" width="0.9" height="0.9"/><rect x="457.9" y="103.77" width="0.9" height="0.9"/><rect x="450.5" y="100" width="0.9" height="0.9"/><rect x="449.92" y="97.3" width="0.9" height="0.9"/><rect x="454.31" y="98.2" width="0.9" height="0.9"/><rect x="456.19" y="90.43" width="0.9" height="0.9"/><rect x="455.35" y="91.07" width="0.9" height="0.9"/><rect x="450.82" y="97.24" width="0.9" height="0.9"/><rect x="455.06" y="94.43" width="0.9" height="0.9"/><rect x="445.2" y="88.74" width="0.9" height="0.9"/><rect x="451.48" y="96.34" width="0.9" height="0.9"/><rect x="457.64" y="98.26" width="0.9" height="0.9"/><rect x="456.43" y="98.72" width="0.9" height="0.9"/><rect x="454.71" y="96.29" width="0.9" height="0.9"/><rect x="448.1" y="102.24" width="0.9" height="0.9"/><rect x="457.88" y="92.98" width="0.9" height="0.9"/><rect x="454.27" y="96.14" width="0.9" height="0.9"/><rect x="452.64" y="96.77" width="0.9" height="0.9"/><rect x="452.76" y="100.9" width="0.9" height="0.9"/><rect x="452.99" y="95.46" width="0.9" height="0.9"/><rect x="450.6" y="92.36" width="0.9" height="0.9"/><rect x="453.87" y="101.51" width="0.9" height="0.9"/><rect x="455.99" y="95.12" width="0.9" height="0.9"/><rect x="453.79" y="94.49" width="0.9" height="0.9"/><rect x="456.51" y="97.56" width="0.9" height="0.9"/><rect x="455.53" y="101.62" width="0.9" height="0.9"/><rect x="453.46" y="92.9" width="0.9" height="0.9"/><rect x="450.3" y="92.23" width="0.9" height="0.9"/><rect x="451.6" y="94.63" width="0.9" height="0.9"/><rect x="455.02" y="98.05" width="0.9" height="0.9"/><rect x="452.8" y="96.01" width="0.9" height="0.9"/><rect x="448.27" y="92.84" width="0.9" height="0.9"/><rect x="454.42" y="101.4" width="0.9" height="0.9"/><rect x="448.27" y="90.47" width="0.9" height="0.9"/><rect x="457.28" y="90.07" width="0.9" height="0.9"/><rect x="458.62" y="101.2" width="0.9" height="0.9"/><rect x="452.58" y="99.28" width="0.9" height="0.9"/><rect x="454.48" y="93.29" width="0.9" height="0.9"/><rect x="455.59" y="94.75" width="0.9" height="0.9"/><rect x="453.21" y="97.74" width="0.9" height="0.9"/><rect x="453.4" y="100.88" width="0.9" height="0.9"/><rect x="458.98" y="86.71" width="0.9" height="0.9"/><rect x="452.07" y="98.53" width="0.9" height="0.9"/><rect x="454.91" y="90.23" width="0.9" height="0.9"/><rect x="450.25" y="93.46" width="0.9" height="0.9"/><rect x="459.57" y="89.78" width="0.9" height="0.9"/><rect x="449.59" y="93.77" width="0.9" height="0.9"/><rect x="454.6" y="93.84" width="0.9" height="0.9"/><rect x="453.31" y="90.95" width="0.9" height="0.9"/><rect x="457.08" y="100.24" width="0.9" height="0.9"/><rect x="460.86" y="94.23" width="0.9" height="0.9"/><rect x="456.05" y="98.16" width="0.9" height="0.9"/><rect x="451.34" y="96.99" width="0.9" height="0.9"/><rect x="458.78" y="104.43" width="0.9" height="0.9"/><rect x="454.54" y="93.77" width="0.9" height="0.9"/><rect x="450.28" y="103.58" width="0.9" height="0.9"/><rect x="454.22" y="97.67" width="0.9" height="0.9"/><rect x="461.92" y="94.09" width="0.9" height="0.9"/><rect x="454.77" y="96.72" width="0.9" height="0.9"/><rect x="463.94" y="92.24" width="0.9" height="0.9"/><rect x="450.27" y="99.43" width="0.9" height="0.9"/><rect x="452.06" y="95.03" width="0.9" height="0.9"/><rect x="452.58" y="98.78" width="0.9" height="0.9"/><rect x="452.29" y="100.16" width="0.9" height="0.9"/><rect x="448.21" y="97.97" width="0.9" height="0.9"/><rect x="449.01" y="93.95" width="0.9" height="0.9"/><rect x="459.78" y="90.01" width="0.9" height="0.9"/><rect x="454.82" y="91.36" width="0.9" height="0.9"/><rect x="455.16" y="93.31" width="0.9" height="0.9"/><rect x="454.75" y="95.63" width="0.9" height="0.9"/><rect x="452.1" y="98.26" width="0.9" height="0.9"/><rect x="458.88" y="93.08" width="0.9" height="0.9"/><rect x="453.68" y="92.36" width="0.9" height="0.9"/><rect x="455.03" y="94.76" width="0.9" height="0.9"/><rect x="448.29" y="92.79" width="0.9" height="0.9"/><rect x="453.45" y="93.97" width="0.9" height="0.9"/><rect x="451.33" y="98.27" width="0.9" height="0.9"/><rect x="457.4" y="96.12" width="0.9" height="0.9"/><rect x="453.04" y="94.69" width="0.9" height="0.9"/><rect x="450.04" y="96.98" width="0.9" height="0.9"/><rect x="455.54" y="99.48" width="0.9" height="0.9"/><rect x="453.56" y="94.74" width="0.9" height="0.9"/><rect x="452.72" y="88.92" width="0.9" height="0.9"/><rect x="451.49" y="90.54" width="0.9" height="0.9"/><rect x="455.46" y="94.16" width="0.9" height="0.9"/><rect x="452.65" y="93.44" width="0.9" height="0.9"/><rect x="457.04" y="98.66" width="0.9" height="0.9"/><rect x="455.64" y="98.44" width="0.9" height="0.9"/><rect x="451.35" y="94.22" width="0.9" height="0.9"/></g>
<g opacity="1.0"><rect x="450.13" y="86.24" width="0.9" height="0.9" fill="#444"/><rect x="432.79" y="89.39" width="0.9" height="0.9" fill="#666"/><rect x="452.08" y="102.09" width="0.9" height="0.9" fill="#111"/><rect x="453.82" y="101.04" width="0.9" height="0.9" fill="#111"/><rect x="445.4" y="89.12" width="0.9" height="0.9" fill="#111"/><rect x="430.04" y="108.63" width="0.9" height="0.9" fill="#111"/><rect x="448.52" y="89.68" width="0.9" height="0.9" fill="#111"/><rect x="452.26" y="101.14" width="0.9" height="0.9" fill="#111"/><rect x="451.7" y="89.75" width="0.9" height="0.9" fill="#111"/><rect x="439.7" y="112.03" width="0.9" height="0.9" fill="#666"/><rect x="455.61" y="98.18" width="0.9" height="0.9" fill="#666"/><rect x="441.98" y="109.28" width="0.9" height="0.9" fill="#111"/><rect x="453.4" y="98.69" width="0.9" height="0.9" fill="#111"/><rect x="423.97" y="102.17" width="0.9" height="0.9" fill="#222"/><rect x="436.68" y="88.54" width="0.9" height="0.9" fill="#111"/><rect x="449.34" y="107" width="0.9" height="0.9" fill="#666"/><rect x="452.65" y="101.12" width="0.9" height="0.9" fill="#111"/><rect x="423.48" y="98.7" width="0.9" height="0.9" fill="#222"/><rect x="452.37" y="88.38" width="0.9" height="0.9" fill="#222"/><rect x="452.12" y="89.63" width="0.9" height="0.9" fill="#111"/><rect x="425.94" y="102.44" width="0.9" height="0.9" fill="#111"/><rect x="432.97" y="90.12" width="0.9" height="0.9" fill="#111"/><rect x="425.33" y="100.31" width="0.9" height="0.9" fill="#111"/><rect x="432.47" y="90.47" width="0.9" height="0.9" fill="#111"/><rect x="454.71" y="89.28" width="0.9" height="0.9" fill="#222"/><rect x="453.9" y="90.69" width="0.9" height="0.9" fill="#111"/><rect x="426.85" y="105.48" width="0.9" height="0.9" fill="#111"/><rect x="423.98" y="99.08" width="0.9" height="0.9" fill="#222"/><rect x="426.74" y="92.87" width="0.9" height="0.9" fill="#444"/><rect x="435.51" y="87.46" width="0.9" height="0.9" fill="#222"/><rect x="429.86" y="89.7" width="0.9" height="0.9" fill="#111"/><rect x="443.47" y="109.7" width="0.9" height="0.9" fill="#111"/><rect x="450.51" y="86.94" width="0.9" height="0.9" fill="#222"/><rect x="441.01" y="88.45" width="0.9" height="0.9" fill="#111"/><rect x="453.12" y="100.96" width="0.9" height="0.9" fill="#111"/><rect x="452.87" y="102.45" width="0.9" height="0.9" fill="#111"/><rect x="426.3" y="91.86" width="0.9" height="0.9" fill="#666"/><rect x="450.67" y="105.72" width="0.9" height="0.9" fill="#111"/><rect x="448.82" y="107.3" width="0.9" height="0.9" fill="#111"/><rect x="443.46" y="109.12" width="0.9" height="0.9" fill="#111"/><rect x="431.39" y="110.58" width="0.9" height="0.9" fill="#666"/><rect x="430.03" y="88.11" width="0.9" height="0.9" fill="#666"/><rect x="425.79" y="96.58" width="0.9" height="0.9" fill="#111"/><rect x="436.86" y="88.97" width="0.9" height="0.9" fill="#111"/><rect x="440.88" y="109.67" width="0.9" height="0.9" fill="#111"/><rect x="439.32" y="110.39" width="0.9" height="0.9" fill="#111"/><rect x="448.4" y="106.81" width="0.9" height="0.9" fill="#111"/><rect x="438.53" y="89.42" width="0.9" height="0.9" fill="#111"/><rect x="446.23" y="88.84" width="0.9" height="0.9" fill="#111"/><rect x="432.49" y="108.91" width="0.9" height="0.9" fill="#111"/><rect x="453.79" y="100.14" width="0.9" height="0.9" fill="#111"/><rect x="430.7" y="109.29" width="0.9" height="0.9" fill="#111"/><rect x="447.63" y="108.16" width="0.9" height="0.9" fill="#111"/><rect x="424.84" y="97.96" width="0.9" height="0.9" fill="#444"/><rect x="429.67" y="109.58" width="0.9" height="0.9" fill="#111"/><rect x="427.35" y="105.99" width="0.9" height="0.9" fill="#111"/><rect x="424.57" y="98.86" width="0.9" height="0.9" fill="#111"/><rect x="454.96" y="93.01" width="0.9" height="0.9" fill="#222"/><rect x="454.69" y="93.57" width="0.9" height="0.9" fill="#222"/><rect x="424.63" y="98.25" width="0.9" height="0.9" fill="#111"/><rect x="450.25" y="105.69" width="0.9" height="0.9" fill="#111"/><rect x="448.71" y="106.47" width="0.9" height="0.9" fill="#111"/><rect x="454.87" y="91.73" width="0.9" height="0.9" fill="#111"/><rect x="452.96" y="107.08" width="0.9" height="0.9" fill="#666"/><rect x="435.19" y="111.04" width="0.9" height="0.9" fill="#444"/><rect x="442.89" y="109.43" width="0.9" height="0.9" fill="#111"/><rect x="430.86" y="108.86" width="0.9" height="0.9" fill="#111"/><rect x="443.13" y="88.3" width="0.9" height="0.9" fill="#222"/><rect x="443.3" y="109.29" width="0.9" height="0.9" fill="#111"/><rect x="426.19" y="93.51" width="0.9" height="0.9" fill="#111"/><rect x="453.14" y="92.04" width="0.9" height="0.9" fill="#111"/><rect x="433.51" y="86.42" width="0.9" height="0.9" fill="#666"/><rect x="433.97" y="87.85" width="0.9" height="0.9" fill="#666"/><rect x="453.33" y="91.07" width="0.9" height="0.9" fill="#111"/><rect x="424.21" y="100.45" width="0.9" height="0.9" fill="#666"/><rect x="431.41" y="109.82" width="0.9" height="0.9" fill="#111"/><rect x="426.66" y="94.22" width="0.9" height="0.9" fill="#111"/><rect x="425.73" y="103.63" width="0.9" height="0.9" fill="#111"/><rect x="432.59" y="88.04" width="0.9" height="0.9" fill="#222"/><rect x="446.04" y="109.36" width="0.9" height="0.9" fill="#222"/><rect x="455.27" y="96.57" width="0.9" height="0.9" fill="#666"/><rect x="453.96" y="97.96" width="0.9" height="0.9" fill="#111"/><rect x="444.01" y="110.8" width="0.9" height="0.9" fill="#222"/><rect x="425.72" y="92.25" width="0.9" height="0.9" fill="#222"/><rect x="425.65" y="92.11" width="0.9" height="0.9" fill="#444"/><rect x="425.08" y="104.42" width="0.9" height="0.9" fill="#111"/><rect x="444.88" y="87.65" width="0.9" height="0.9" fill="#222"/><rect x="425.1" y="95" width="0.9" height="0.9" fill="#222"/><rect x="423.35" y="99.09" width="0.9" height="0.9" fill="#666"/><rect x="434.11" y="111.57" width="0.9" height="0.9" fill="#666"/><rect x="454.57" y="101.27" width="0.9" height="0.9" fill="#666"/><rect x="426.62" y="106.5" width="0.9" height="0.9" fill="#111"/><rect x="455.93" y="92.99" width="0.9" height="0.9" fill="#666"/><rect x="425.78" y="104.63" width="0.9" height="0.9" fill="#222"/><rect x="424.63" y="100.03" width="0.9" height="0.9" fill="#666"/><rect x="453.28" y="91.19" width="0.9" height="0.9" fill="#111"/><rect x="440.93" y="110.53" width="0.9" height="0.9" fill="#111"/><rect x="425.61" y="93.98" width="0.9" height="0.9" fill="#111"/><rect x="425.81" y="98.19" width="0.9" height="0.9" fill="#111"/><rect x="426.24" y="99.36" width="0.9" height="0.9" fill="#111"/><rect x="452.9" y="102.63" width="0.9" height="0.9" fill="#111"/><rect x="437.22" y="110.29" width="0.9" height="0.9" fill="#111"/><rect x="425.63" y="108.71" width="0.9" height="0.9" fill="#222"/><rect x="445.03" y="108.27" width="0.9" height="0.9" fill="#111"/><rect x="454.7" y="96.72" width="0.9" height="0.9" fill="#111"/><rect x="427.77" y="90.23" width="0.9" height="0.9" fill="#666"/><rect x="426.01" y="91.23" width="0.9" height="0.9" fill="#444"/><rect x="448.48" y="106.05" width="0.9" height="0.9" fill="#111"/><rect x="452.96" y="90.3" width="0.9" height="0.9" fill="#111"/><rect x="453.67" y="93.65" width="0.9" height="0.9" fill="#111"/><rect x="450.75" y="89.67" width="0.9" height="0.9" fill="#111"/><rect x="427.18" y="92.08" width="0.9" height="0.9" fill="#111"/><rect x="424.47" y="96.06" width="0.9" height="0.9" fill="#111"/><rect x="424.52" y="100.19" width="0.9" height="0.9" fill="#444"/><rect x="423.61" y="95.7" width="0.9" height="0.9" fill="#222"/><rect x="428.72" y="108.27" width="0.9" height="0.9" fill="#111"/><rect x="426.4" y="102.9" width="0.9" height="0.9" fill="#111"/><rect x="453.54" y="92.96" width="0.9" height="0.9" fill="#111"/><rect x="441.7" y="88.35" width="0.9" height="0.9" fill="#111"/><rect x="425.71" y="99.24" width="0.9" height="0.9" fill="#111"/><rect x="425.84" y="97.95" width="0.9" height="0.9" fill="#111"/><rect x="439.12" y="109.18" width="0.9" height="0.9" fill="#111"/><rect x="425.43" y="96.47" width="0.9" height="0.9" fill="#111"/><rect x="455.67" y="90.92" width="0.9" height="0.9" fill="#444"/><rect x="439.15" y="110.94" width="0.9" height="0.9" fill="#222"/><rect x="425.86" y="97.55" width="0.9" height="0.9" fill="#111"/><rect x="450.97" y="90.58" width="0.9" height="0.9" fill="#111"/><rect x="451.09" y="89.1" width="0.9" height="0.9" fill="#111"/><rect x="454.13" y="100.92" width="0.9" height="0.9" fill="#111"/><rect x="432.05" y="88.2" width="0.9" height="0.9" fill="#222"/><rect x="425.41" y="102.3" width="0.9" height="0.9" fill="#111"/><rect x="424.32" y="100.66" width="0.9" height="0.9" fill="#222"/><rect x="454.31" y="91.57" width="0.9" height="0.9" fill="#111"/><rect x="428.23" y="90.68" width="0.9" height="0.9" fill="#111"/><rect x="456.43" y="96.64" width="0.9" height="0.9" fill="#444"/><rect x="430.36" y="110.71" width="0.9" height="0.9" fill="#222"/><rect x="446.74" y="88.24" width="0.9" height="0.9" fill="#444"/><rect x="430.05" y="108.27" width="0.9" height="0.9" fill="#111"/><rect x="425.74" y="95.61" width="0.9" height="0.9" fill="#111"/><rect x="433.76" y="88.88" width="0.9" height="0.9" fill="#444"/><rect x="453.73" y="98.37" width="0.9" height="0.9" fill="#111"/><rect x="453.98" y="93.63" width="0.9" height="0.9" fill="#111"/><rect x="453.52" y="100.86" width="0.9" height="0.9" fill="#111"/><rect x="455.56" y="96.17" width="0.9" height="0.9" fill="#444"/><rect x="454.11" y="89.39" width="0.9" height="0.9" fill="#222"/><rect x="430.26" y="90.01" width="0.9" height="0.9" fill="#111"/><rect x="425.82" y="94.23" width="0.9" height="0.9" fill="#111"/><rect x="442.56" y="109.25" width="0.9" height="0.9" fill="#111"/><rect x="427.48" y="106.78" width="0.9" height="0.9" fill="#111"/><rect x="430.13" y="108.27" width="0.9" height="0.9" fill="#111"/><rect x="429.96" y="108.91" width="0.9" height="0.9" fill="#111"/><rect x="450.79" y="105.4" width="0.9" height="0.9" fill="#111"/><rect x="448.04" y="108.18" width="0.9" height="0.9" fill="#222"/><rect x="424.7" y="103.14" width="0.9" height="0.9" fill="#111"/><rect x="425.25" y="98.83" width="0.9" height="0.9" fill="#111"/><rect x="426.71" y="105.35" width="0.9" height="0.9" fill="#111"/><rect x="423.12" y="103.6" width="0.9" height="0.9" fill="#444"/><rect x="424.65" y="97.05" width="0.9" height="0.9" fill="#444"/><rect x="434.27" y="89.3" width="0.9" height="0.9" fill="#111"/><rect x="426.24" y="95.86" width="0.9" height="0.9" fill="#111"/><rect x="445.15" y="108.79" width="0.9" height="0.9" fill="#111"/><rect x="434" y="89.85" width="0.9" height="0.9" fill="#111"/><rect x="450.11" y="89.99" width="0.9" height="0.9" fill="#111"/><rect x="426.63" y="93.92" width="0.9" height="0.9" fill="#111"/><rect x="425.21" y="98.3" width="0.9" height="0.9" fill="#222"/><rect x="437.25" y="110.69" width="0.9" height="0.9" fill="#222"/><rect x="425.92" y="95.68" width="0.9" height="0.9" fill="#111"/><rect x="445.54" y="109.57" width="0.9" height="0.9" fill="#222"/><rect x="446.2" y="107.88" width="0.9" height="0.9" fill="#111"/><rect x="428.31" y="109.85" width="0.9" height="0.9" fill="#444"/><rect x="433.44" y="89.52" width="0.9" height="0.9" fill="#111"/><rect x="437.16" y="85.76" width="0.9" height="0.9" fill="#444"/><rect x="444.61" y="89.02" width="0.9" height="0.9" fill="#111"/><rect x="430.16" y="88.77" width="0.9" height="0.9" fill="#444"/><rect x="452.66" y="101.54" width="0.9" height="0.9" fill="#111"/><rect x="446.97" y="88.98" width="0.9" height="0.9" fill="#111"/><rect x="449.59" y="89.25" width="0.9" height="0.9" fill="#111"/><rect x="433.26" y="111.67" width="0.9" height="0.9" fill="#222"/><rect x="452.14" y="102.31" width="0.9" height="0.9" fill="#111"/><rect x="450.77" y="105.05" width="0.9" height="0.9" fill="#111"/><rect x="439.01" y="87.01" width="0.9" height="0.9" fill="#222"/><rect x="453.35" y="100.72" width="0.9" height="0.9" fill="#111"/><rect x="452.48" y="104.62" width="0.9" height="0.9" fill="#666"/><rect x="425.63" y="97.91" width="0.9" height="0.9" fill="#111"/><rect x="449.72" y="108.48" width="0.9" height="0.9" fill="#666"/><rect x="440.13" y="109.86" width="0.9" height="0.9" fill="#111"/><rect x="449.09" y="106.03" width="0.9" height="0.9" fill="#111"/><rect x="445.68" y="108.93" width="0.9" height="0.9" fill="#111"/><rect x="425.54" y="101.96" width="0.9" height="0.9" fill="#111"/><rect x="431.81" y="109.56" width="0.9" height="0.9" fill="#111"/><rect x="423.49" y="99.15" width="0.9" height="0.9" fill="#666"/><rect x="427.83" y="92.08" width="0.9" height="0.9" fill="#111"/><rect x="443.82" y="111.19" width="0.9" height="0.9" fill="#444"/><rect x="424.5" y="102.42" width="0.9" height="0.9" fill="#222"/><rect x="452.39" y="103.36" width="0.9" height="0.9" fill="#111"/><rect x="428.61" y="91.71" width="0.9" height="0.9" fill="#111"/><rect x="447.43" y="107.98" width="0.9" height="0.9" fill="#111"/><rect x="427.48" y="88.89" width="0.9" height="0.9" fill="#222"/><rect x="432.03" y="90.06" width="0.9" height="0.9" fill="#111"/><rect x="424.45" y="99.63" width="0.9" height="0.9" fill="#666"/><rect x="453.49" y="95.15" width="0.9" height="0.9" fill="#111"/><rect x="427.38" y="88.68" width="0.9" height="0.9" fill="#444"/><rect x="455.28" y="92.53" width="0.9" height="0.9" fill="#666"/><rect x="449.39" y="107.39" width="0.9" height="0.9" fill="#444"/><rect x="425.35" y="97.36" width="0.9" height="0.9" fill="#111"/><rect x="428.36" y="89.4" width="0.9" height="0.9" fill="#222"/><rect x="438.29" y="111.1" width="0.9" height="0.9" fill="#444"/><rect x="454.59" y="92.16" width="0.9" height="0.9" fill="#444"/><rect x="432.53" y="89.9" width="0.9" height="0.9" fill="#111"/><rect x="428.11" y="89.05" width="0.9" height="0.9" fill="#444"/><rect x="436.49" y="109.94" width="0.9" height="0.9" fill="#111"/><rect x="454.13" y="100.87" width="0.9" height="0.9" fill="#666"/><rect x="424.68" y="92.09" width="0.9" height="0.9" fill="#666"/><rect x="455.13" y="98.12" width="0.9" height="0.9" fill="#111"/><rect x="452.39" y="102.63" width="0.9" height="0.9" fill="#111"/><rect x="438.01" y="89.1" width="0.9" height="0.9" fill="#111"/><rect x="455.34" y="94.15" width="0.9" height="0.9" fill="#222"/><rect x="425.94" y="95.67" width="0.9" height="0.9" fill="#111"/><rect x="427.88" y="107.19" width="0.9" height="0.9" fill="#111"/><rect x="438.02" y="110.3" width="0.9" height="0.9" fill="#111"/><rect x="445.43" y="107.52" width="0.9" height="0.9" fill="#111"/><rect x="449.94" y="90.04" width="0.9" height="0.9" fill="#111"/><rect x="426.45" y="93" width="0.9" height="0.9" fill="#111"/><rect x="449.79" y="89.62" width="0.9" height="0.9" fill="#111"/><rect x="449.21" y="107.01" width="0.9" height="0.9" fill="#111"/><rect x="428.09" y="90.82" width="0.9" height="0.9" fill="#111"/><rect x="429.55" y="89.44" width="0.9" height="0.9" fill="#222"/><rect x="431.39" y="108.82" width="0.9" height="0.9" fill="#111"/><rect x="428.44" y="91.05" width="0.9" height="0.9" fill="#111"/><rect x="454.26" y="94.83" width="0.9" height="0.9" fill="#111"/><rect x="429" y="89.47" width="0.9" height="0.9" fill="#111"/><rect x="450.1" y="105.22" width="0.9" height="0.9" fill="#111"/><rect x="432.73" y="89.44" width="0.9" height="0.9" fill="#111"/><rect x="453.34" y="100.34" width="0.9" height="0.9" fill="#111"/><rect x="425.53" y="100.65" width="0.9" height="0.9" fill="#111"/><rect x="438.36" y="110.5" width="0.9" height="0.9" fill="#111"/><rect x="427.2" y="92.31" width="0.9" height="0.9" fill="#111"/><rect x="440.56" y="110.04" width="0.9" height="0.9" fill="#111"/><rect x="445.95" y="108.11" width="0.9" height="0.9" fill="#111"/><rect x="426.29" y="93.29" width="0.9" height="0.9" fill="#111"/><rect x="425" y="104.47" width="0.9" height="0.9" fill="#111"/><rect x="455.36" y="96.17" width="0.9" height="0.9" fill="#222"/><rect x="455.72" y="92.55" width="0.9" height="0.9" fill="#666"/><rect x="448.78" y="106.73" width="0.9" height="0.9" fill="#111"/><rect x="454.26" y="96.21" width="0.9" height="0.9" fill="#111"/><rect x="430.19" y="109.32" width="0.9" height="0.9" fill="#222"/><rect x="455.36" y="95.39" width="0.9" height="0.9" fill="#222"/><rect x="425.29" y="101.14" width="0.9" height="0.9" fill="#111"/><rect x="444.73" y="88.59" width="0.9" height="0.9" fill="#111"/><rect x="453.79" y="88.61" width="0.9" height="0.9" fill="#222"/><rect x="452.72" y="101.83" width="0.9" height="0.9" fill="#111"/><rect x="425.21" y="96.31" width="0.9" height="0.9" fill="#111"/><rect x="426.24" y="102.56" width="0.9" height="0.9" fill="#111"/><rect x="452.33" y="104.4" width="0.9" height="0.9" fill="#444"/><rect x="430.91" y="89.33" width="0.9" height="0.9" fill="#111"/><rect x="431.36" y="89.92" width="0.9" height="0.9" fill="#111"/><rect x="425.2" y="100.77" width="0.9" height="0.9" fill="#111"/><rect x="427.21" y="90.03" width="0.9" height="0.9" fill="#222"/></g>
<path d="M425.6,99 C425.6,93 430,89.3 437,89.3 L449,89.3 C453,89.3 454.5,92 454,96 C453.2,101 450,106 446,108 C441,110 433,110 429,108 C426.5,106 425.6,103 425.6,99 Z" fill="#000"/>
<ellipse cx="438.0" cy="100.4" rx="11.0" ry="7.0" fill="#fff"/>
<ellipse cx="438.0" cy="100.4" rx="10.1" ry="6.2" fill="#8c8c8c"/>
<ellipse cx="438.5" cy="100.6" rx="9.0" ry="5.4" fill="none" stroke="#555" stroke-width="0.55"/>
<ellipse cx="438.5" cy="100.6" rx="7.9" ry="4.7" fill="none" stroke="#e0e0e0" stroke-width="0.55"/>
<ellipse cx="438.5" cy="100.6" rx="6.6" ry="3.9" fill="none" stroke="#555" stroke-width="0.55"/>
<ellipse cx="438.5" cy="100.6" rx="5.3" ry="3.1" fill="none" stroke="#d8d8d8" stroke-width="0.55"/>
<ellipse cx="438.5" cy="100.6" rx="4.0" ry="2.3" fill="none" stroke="#666" stroke-width="0.55"/>
<ellipse cx="438.5" cy="100.6" rx="2.7" ry="1.5" fill="none" stroke="#eee" stroke-width="0.55"/>
<ellipse cx="439.0" cy="100.8" rx="1.6" ry="0.9" fill="#f4f4f4"/>
<rect x="423" y="43.5" width="80" height="72" fill="none" stroke="#222" stroke-width="0.9"/>
<path d="M453.3,43.5V115.5M423,89.2H503" stroke="#111" stroke-width="1.1"/>
<text x="0" y="170.2" font-size="11.6" font-weight="bold" font-family='"Liberation Sans", sans-serif' class="sn">B</text>
<text x="350" y="170.3" font-size="11.2" font-weight="bold" font-family='"Liberation Sans", sans-serif' class="sn">C</text>
<text x="187.4" y="171.0" font-size="11" text-anchor="middle" font-weight="bold" font-family='"Liberation Serif", serif' class="st">Patient 1</text>
<text x="448" y="172.8" font-size="11" text-anchor="middle" font-weight="bold" font-family='"Liberation Serif", serif' class="st">Patient 2</text>
<line x1="40" y1="174.3" x2="338.8" y2="174.3" stroke="#111" stroke-width="1.4"/>
<text x="105.7" y="203.8" font-size="10.1" text-anchor="middle" font-weight="bold" font-family='"Liberation Serif", serif' class="st" >HLA-DPB1*0101 restricted</text>
<text x="105.7" y="215.2" font-size="10.1" text-anchor="middle" font-weight="bold" font-family='"Liberation Serif", serif' class="st" >(n=3)</text>
<text x="264.8" y="203.7" font-size="10.1" text-anchor="middle" font-weight="bold" font-family='"Liberation Serif", serif' class="st" >HLA-DPB1*0301 restricted</text>
<text x="264.8" y="215.1" font-size="10.1" text-anchor="middle" font-weight="bold" font-family='"Liberation Serif", serif' class="st" >(n=2)</text>
<text x="450.2" y="203.8" font-size="10.1" text-anchor="middle" font-weight="bold" font-family='"Liberation Serif", serif' class="st" >HLA-DPB1*0301 restricted</text>
<text x="450.2" y="215.2" font-size="10.1" text-anchor="middle" font-weight="bold" font-family='"Liberation Serif", serif' class="st" >(n=1)</text>
<text x="106.6" y="376" font-size="10.1" text-anchor="middle" font-weight="bold" font-family='"Liberation Serif", serif' class="st" >HLA-DPB1*0101 restricted</text>
<text x="106.6" y="387.4" font-size="10.1" text-anchor="middle" font-weight="bold" font-family='"Liberation Serif", serif' class="st" >(n=1)</text>
<text x="265" y="375.6" font-size="10.1" text-anchor="middle" font-weight="bold" font-family='"Liberation Serif", serif' class="st" >HLA-DPB1*0301 restricted</text>
<text x="265" y="387" font-size="10.1" text-anchor="middle" font-weight="bold" font-family='"Liberation Serif", serif' class="st" >(n=2)</text>
<text x="450.4" y="375.3" font-size="10.1" text-anchor="middle" font-weight="bold" font-family='"Liberation Serif", serif' class="st" >HLA-DPB1*0301 restricted</text>
<text x="450.4" y="386.7" font-size="10.1" text-anchor="middle" font-weight="bold" font-family='"Liberation Serif", serif' class="st" >(n=2)</text>
<line x1="16" y1="240.9" x2="16" y2="500.5" stroke="#111" stroke-width="1.5"/>
<polygon points="16,235.4 13.1,241.4 18.9,241.4" fill="#111"/>
<line x1="363" y1="241" x2="363" y2="501.6" stroke="#111" stroke-width="1.5"/>
<polygon points="363,235.5 360.1,241.5 365.9,241.5" fill="#111"/>
<text x="7.3" y="383" font-size="10.1" text-anchor="middle" font-weight="bold" font-family='"Liberation Serif", serif' class="st" transform="rotate(-90 7.3 383)">% CD137+ T cell clone</text>
<text x="358.3" y="383" font-size="10.1" text-anchor="middle" font-weight="bold" font-family='"Liberation Serif", serif' class="st" transform="rotate(-90 358.3 383)">% CD137+ T cell clone</text>
<line x1="41.2" y1="525.3" x2="512.7" y2="525.3" stroke="#111" stroke-width="1.4"/>
<polygon points="518.8,525.3 512.2,522.2 512.2,528.4" fill="#111"/>
<text x="261.8" y="543.2" font-size="10.1" text-anchor="middle" font-weight="bold" font-family='"Liberation Serif", serif' class="st" >Ratio responder/stimulator cells</text>
<path d="M40.4,235.8V325.3H175.8" stroke="#222" stroke-width="1" fill="none"/>
<path d="M38.4,325.3H40.4M38.4,302.95H40.4M38.4,280.6H40.4M38.4,258.25H40.4M38.4,235.9H40.4" stroke="#222" stroke-width="0.9"/>
<text transform="translate(37.8 329.8) scale(1 1.1)" font-size="9.3" text-anchor="end" font-weight="bold" font-family='"Liberation Sans", sans-serif' class="sn">0</text>
<text transform="translate(37.8 307.45) scale(1 1.1)" font-size="9.3" text-anchor="end" font-weight="bold" font-family='"Liberation Sans", sans-serif' class="sn">20</text>
<text transform="translate(37.8 285.1) scale(1 1.1)" font-size="9.3" text-anchor="end" font-weight="bold" font-family='"Liberation Sans", sans-serif' class="sn">40</text>
<text transform="translate(37.8 262.75) scale(1 1.1)" font-size="9.3" text-anchor="end" font-weight="bold" font-family='"Liberation Sans", sans-serif' class="sn">60</text>
<text transform="translate(37.8 240.4) scale(1 1.1)" font-size="9.3" text-anchor="end" font-weight="bold" font-family='"Liberation Sans", sans-serif' class="sn">80</text>
<text transform="translate(54.2 337.2) scale(1 1.03)" font-size="9.3" text-anchor="middle" font-weight="bold" font-family='"Liberation Sans", sans-serif' class="sn">1/0</text>
<text transform="translate(81.2 337.2) scale(1 1.03)" font-size="9.3" text-anchor="middle" font-weight="bold" font-family='"Liberation Sans", sans-serif' class="sn">1/1</text>
<text transform="translate(108 337.2) scale(1 1.03)" font-size="9.3" text-anchor="middle" font-weight="bold" font-family='"Liberation Sans", sans-serif' class="sn">1/3</text>
<text transform="translate(135 337.2) scale(1 1.03)" font-size="9.3" text-anchor="middle" font-weight="bold" font-family='"Liberation Sans", sans-serif' class="sn">1/10</text>
<text transform="translate(162 337.2) scale(1 1.03)" font-size="9.3" text-anchor="middle" font-weight="bold" font-family='"Liberation Sans", sans-serif' class="sn">1/30</text>
<polyline points="54.2,325.3 81.2,324.63 108,324.18 135,323.74 162,323.29" fill="none" stroke="#262626" stroke-width="1.2"/>
<polyline points="54.2,325.3 81.2,324.74 108,324.41 135,323.96 162,322.62" fill="none" stroke="#262626" stroke-width="1.0"/>
<polyline points="54.2,325.3 81.2,324.96 108,324.74 135,324.41 162,324.74" fill="none" stroke="#262626" stroke-width="1.2"/>
<polyline points="54.2,325.3 81.2,313.01 108,285.63 135,272.78 162,266.3" fill="none" stroke="#262626" stroke-width="1.0"/>
<polyline points="54.2,325.3 81.2,314.12 108,303.29 135,284.62 162,258.81" fill="none" stroke="#262626" stroke-width="1.0"/>
<rect x="51.7" y="322.8" width="5" height="5" fill="#000"/>
<rect x="78.7" y="310.51" width="5" height="5" fill="#000"/>
<rect x="105.5" y="283.13" width="5" height="5" fill="#000"/>
<rect x="132.5" y="270.28" width="5" height="5" fill="#000"/>
<rect x="159.5" y="263.8" width="5" height="5" fill="#000"/>
<circle cx="54.2" cy="325.3" r="2.55" fill="#000"/>
<circle cx="81.2" cy="314.12" r="2.55" fill="#000"/>
<circle cx="108" cy="303.29" r="2.55" fill="#000"/>
<circle cx="135" cy="284.62" r="2.55" fill="#000"/>
<circle cx="162" cy="258.81" r="2.55" fill="#000"/>
<circle cx="54.2" cy="325.3" r="2.2" fill="#fff" stroke="#000" stroke-width="0.8"/>
<circle cx="81.2" cy="324.63" r="2.2" fill="#fff" stroke="#000" stroke-width="0.8"/>
<circle cx="108" cy="324.18" r="2.2" fill="#fff" stroke="#000" stroke-width="0.8"/>
<circle cx="135" cy="323.74" r="2.2" fill="#fff" stroke="#000" stroke-width="0.8"/>
<circle cx="162" cy="323.29" r="2.2" fill="#fff" stroke="#000" stroke-width="0.8"/>
<rect x="52.1" y="323.2" width="4.2" height="4.2" fill="#fff" stroke="#000" stroke-width="0.8"/>
<rect x="79.1" y="322.64" width="4.2" height="4.2" fill="#fff" stroke="#000" stroke-width="0.8"/>
<rect x="105.9" y="322.31" width="4.2" height="4.2" fill="#fff" stroke="#000" stroke-width="0.8"/>
<rect x="132.9" y="321.86" width="4.2" height="4.2" fill="#fff" stroke="#000" stroke-width="0.8"/>
<rect x="159.9" y="320.52" width="4.2" height="4.2" fill="#fff" stroke="#000" stroke-width="0.8"/>
<polygon points="54.2,322.6 51.6,327.2 56.8,327.2" fill="#000"/>
<polygon points="81.2,322.26 78.6,326.86 83.8,326.86" fill="#000"/>
<polygon points="108,322.04 105.4,326.64 110.6,326.64" fill="#000"/>
<polygon points="135,321.71 132.4,326.31 137.6,326.31" fill="#000"/>
<polygon points="162,322.04 159.4,326.64 164.6,326.64" fill="#000"/>
<path d="M197,236V325.1H331.2" stroke="#222" stroke-width="1" fill="none"/>
<path d="M195,325.1H197M195,302.75H197M195,280.4H197M195,258.05H197M195,235.7H197" stroke="#222" stroke-width="0.9"/>
<text transform="translate(194.4 329.6) scale(1 1.1)" font-size="9.3" text-anchor="end" font-weight="bold" font-family='"Liberation Sans", sans-serif' class="sn">0</text>
<text transform="translate(194.4 307.25) scale(1 1.1)" font-size="9.3" text-anchor="end" font-weight="bold" font-family='"Liberation Sans", sans-serif' class="sn">20</text>
<text transform="translate(194.4 284.9) scale(1 1.1)" font-size="9.3" text-anchor="end" font-weight="bold" font-family='"Liberation Sans", sans-serif' class="sn">40</text>
<text transform="translate(194.4 262.55) scale(1 1.1)" font-size="9.3" text-anchor="end" font-weight="bold" font-family='"Liberation Sans", sans-serif' class="sn">60</text>
<text transform="translate(194.4 240.2) scale(1 1.1)" font-size="9.3" text-anchor="end" font-weight="bold" font-family='"Liberation Sans", sans-serif' class="sn">80</text>
<text transform="translate(210.8 337) scale(1 1.03)" font-size="9.3" text-anchor="middle" font-weight="bold" font-family='"Liberation Sans", sans-serif' class="sn">1/0</text>
<text transform="translate(237.2 337) scale(1 1.03)" font-size="9.3" text-anchor="middle" font-weight="bold" font-family='"Liberation Sans", sans-serif' class="sn">1/1</text>
<text transform="translate(264.3 337) scale(1 1.03)" font-size="9.3" text-anchor="middle" font-weight="bold" font-family='"Liberation Sans", sans-serif' class="sn">1/3</text>
<text transform="translate(291.5 337) scale(1 1.03)" font-size="9.3" text-anchor="middle" font-weight="bold" font-family='"Liberation Sans", sans-serif' class="sn">1/10</text>
<text transform="translate(318.5 337) scale(1 1.03)" font-size="9.3" text-anchor="middle" font-weight="bold" font-family='"Liberation Sans", sans-serif' class="sn">1/30</text>
<polyline points="210.8,325.1 237.2,324.21 264.3,324.43 291.5,323.09 318.5,322.64" fill="none" stroke="#262626" stroke-width="1.2"/>
<polyline points="210.8,325.1 237.2,324.43 264.3,324.54 291.5,322.19 318.5,322.19" fill="none" stroke="#262626" stroke-width="1.0"/>
<polyline points="210.8,325.1 237.2,324.76 264.3,324.76 291.5,323.98 318.5,324.43" fill="none" stroke="#262626" stroke-width="1.2"/>
<polyline points="210.8,325.1 237.2,301.86 264.3,256.93 291.5,249.11 318.5,257.6" fill="none" stroke="#262626" stroke-width="1.0"/>
<polyline points="210.8,325.1 237.2,317.05 264.3,280.85 291.5,291.91 318.5,260.29" fill="none" stroke="#262626" stroke-width="1.0"/>
<rect x="208.3" y="322.6" width="5" height="5" fill="#000"/>
<rect x="234.7" y="299.36" width="5" height="5" fill="#000"/>
<rect x="261.8" y="254.43" width="5" height="5" fill="#000"/>
<rect x="289" y="246.61" width="5" height="5" fill="#000"/>
<rect x="316" y="255.1" width="5" height="5" fill="#000"/>
<circle cx="210.8" cy="325.1" r="2.55" fill="#000"/>
<circle cx="237.2" cy="317.05" r="2.55" fill="#000"/>
<circle cx="264.3" cy="280.85" r="2.55" fill="#000"/>
<circle cx="291.5" cy="291.91" r="2.55" fill="#000"/>
<circle cx="318.5" cy="260.29" r="2.55" fill="#000"/>
<circle cx="210.8" cy="325.1" r="2.2" fill="#fff" stroke="#000" stroke-width="0.8"/>
<circle cx="237.2" cy="324.21" r="2.2" fill="#fff" stroke="#000" stroke-width="0.8"/>
<circle cx="264.3" cy="324.43" r="2.2" fill="#fff" stroke="#000" stroke-width="0.8"/>
<circle cx="291.5" cy="323.09" r="2.2" fill="#fff" stroke="#000" stroke-width="0.8"/>
<circle cx="318.5" cy="322.64" r="2.2" fill="#fff" stroke="#000" stroke-width="0.8"/>
<rect x="208.7" y="323" width="4.2" height="4.2" fill="#fff" stroke="#000" stroke-width="0.8"/>
<rect x="235.1" y="322.33" width="4.2" height="4.2" fill="#fff" stroke="#000" stroke-width="0.8"/>
<rect x="262.2" y="322.44" width="4.2" height="4.2" fill="#fff" stroke="#000" stroke-width="0.8"/>
<rect x="289.4" y="320.09" width="4.2" height="4.2" fill="#fff" stroke="#000" stroke-width="0.8"/>
<rect x="316.4" y="320.09" width="4.2" height="4.2" fill="#fff" stroke="#000" stroke-width="0.8"/>
<polygon points="210.8,322.4 208.2,327 213.4,327" fill="#000"/>
<polygon points="237.2,322.06 234.6,326.66 239.8,326.66" fill="#000"/>
<polygon points="264.3,322.06 261.7,326.66 266.9,326.66" fill="#000"/>
<polygon points="291.5,321.28 288.9,325.88 294.1,325.88" fill="#000"/>
<polygon points="318.5,321.73 315.9,326.33 321.1,326.33" fill="#000"/>
<path d="M384.4,236V325.4H518.5" stroke="#222" stroke-width="1" fill="none"/>
<path d="M382.4,325.4H384.4M382.4,303.05H384.4M382.4,280.7H384.4M382.4,258.35H384.4M382.4,236H384.4" stroke="#222" stroke-width="0.9"/>
<text transform="translate(381.8 329.9) scale(1 1.1)" font-size="9.3" text-anchor="end" font-weight="bold" font-family='"Liberation Sans", sans-serif' class="sn">0</text>
<text transform="translate(381.8 307.55) scale(1 1.1)" font-size="9.3" text-anchor="end" font-weight="bold" font-family='"Liberation Sans", sans-serif' class="sn">20</text>
<text transform="translate(381.8 285.2) scale(1 1.1)" font-size="9.3" text-anchor="end" font-weight="bold" font-family='"Liberation Sans", sans-serif' class="sn">40</text>
<text transform="translate(381.8 262.85) scale(1 1.1)" font-size="9.3" text-anchor="end" font-weight="bold" font-family='"Liberation Sans", sans-serif' class="sn">60</text>
<text transform="translate(381.8 240.5) scale(1 1.1)" font-size="9.3" text-anchor="end" font-weight="bold" font-family='"Liberation Sans", sans-serif' class="sn">80</text>
<text transform="translate(402 337.3) scale(1 1.03)" font-size="9.3" text-anchor="middle" font-weight="bold" font-family='"Liberation Sans", sans-serif' class="sn">1/0</text>
<text transform="translate(435.4 337.3) scale(1 1.03)" font-size="9.3" text-anchor="middle" font-weight="bold" font-family='"Liberation Sans", sans-serif' class="sn">1/1</text>
<text transform="translate(468.8 337.3) scale(1 1.03)" font-size="9.3" text-anchor="middle" font-weight="bold" font-family='"Liberation Sans", sans-serif' class="sn">1/3</text>
<text transform="translate(503 337.3) scale(1 1.03)" font-size="9.3" text-anchor="middle" font-weight="bold" font-family='"Liberation Sans", sans-serif' class="sn">1/10</text>
<polyline points="402,325.4 435.4,325.06 468.8,322.05 503,323.16" fill="none" stroke="#262626" stroke-width="1.0"/>
<polyline points="402,325.4 435.4,322.61 468.8,318.69 503,310.65" fill="none" stroke="#262626" stroke-width="1.0"/>
<polyline points="402,325.4 435.4,322.05 468.8,316.46 503,307.18" fill="none" stroke="#262626" stroke-width="1.0"/>
<polyline points="402,325.4 435.4,316.24 468.8,297.46 503,293.66" fill="none" stroke="#262626" stroke-width="1.0"/>
<polyline points="402,325.4 435.4,241.59 468.8,255 503,266.73" fill="none" stroke="#262626" stroke-width="1.0"/>
<rect x="399.5" y="322.9" width="5" height="5" fill="#000"/>
<rect x="432.9" y="239.09" width="5" height="5" fill="#000"/>
<rect x="466.3" y="252.5" width="5" height="5" fill="#000"/>
<rect x="500.5" y="264.23" width="5" height="5" fill="#000"/>
<circle cx="402" cy="325.4" r="2.55" fill="#000"/>
<circle cx="435.4" cy="316.24" r="2.55" fill="#000"/>
<circle cx="468.8" cy="297.46" r="2.55" fill="#000"/>
<circle cx="503" cy="293.66" r="2.55" fill="#000"/>
<circle cx="402" cy="325.4" r="2.2" fill="#fff" stroke="#000" stroke-width="0.8"/>
<circle cx="435.4" cy="322.61" r="2.2" fill="#fff" stroke="#000" stroke-width="0.8"/>
<circle cx="468.8" cy="318.69" r="2.2" fill="#fff" stroke="#000" stroke-width="0.8"/>
<circle cx="503" cy="310.65" r="2.2" fill="#fff" stroke="#000" stroke-width="0.8"/>
<rect x="399.9" y="323.3" width="4.2" height="4.2" fill="#fff" stroke="#000" stroke-width="0.8"/>
<rect x="433.3" y="322.96" width="4.2" height="4.2" fill="#fff" stroke="#000" stroke-width="0.8"/>
<rect x="466.7" y="319.95" width="4.2" height="4.2" fill="#fff" stroke="#000" stroke-width="0.8"/>
<rect x="500.9" y="321.06" width="4.2" height="4.2" fill="#fff" stroke="#000" stroke-width="0.8"/>
<polygon points="402,322.7 399.4,327.3 404.6,327.3" fill="#000"/>
<polygon points="435.4,319.35 432.8,323.95 438,323.95" fill="#000"/>
<polygon points="468.8,313.76 466.2,318.36 471.4,318.36" fill="#000"/>
<polygon points="503,304.48 500.4,309.08 505.6,309.08" fill="#000"/>
<path d="M40.7,412V502.4H175.9" stroke="#222" stroke-width="1" fill="none"/>
<path d="M38.7,502.4H40.7M38.7,482.5H40.7M38.7,462.6H40.7M38.7,442.7H40.7M38.7,422.8H40.7" stroke="#222" stroke-width="0.9"/>
<text transform="translate(38.1 506.9) scale(1 1.1)" font-size="9.3" text-anchor="end" font-weight="bold" font-family='"Liberation Sans", sans-serif' class="sn">0</text>
<text transform="translate(38.1 487) scale(1 1.1)" font-size="9.3" text-anchor="end" font-weight="bold" font-family='"Liberation Sans", sans-serif' class="sn">20</text>
<text transform="translate(38.1 467.1) scale(1 1.1)" font-size="9.3" text-anchor="end" font-weight="bold" font-family='"Liberation Sans", sans-serif' class="sn">40</text>
<text transform="translate(38.1 447.2) scale(1 1.1)" font-size="9.3" text-anchor="end" font-weight="bold" font-family='"Liberation Sans", sans-serif' class="sn">60</text>
<text transform="translate(38.1 427.3) scale(1 1.1)" font-size="9.3" text-anchor="end" font-weight="bold" font-family='"Liberation Sans", sans-serif' class="sn">80</text>
<text transform="translate(54.2 514.3) scale(1 1.03)" font-size="9.3" text-anchor="middle" font-weight="bold" font-family='"Liberation Sans", sans-serif' class="sn">1/0</text>
<text transform="translate(81.2 514.3) scale(1 1.03)" font-size="9.3" text-anchor="middle" font-weight="bold" font-family='"Liberation Sans", sans-serif' class="sn">1/1</text>
<text transform="translate(108 514.3) scale(1 1.03)" font-size="9.3" text-anchor="middle" font-weight="bold" font-family='"Liberation Sans", sans-serif' class="sn">1/3</text>
<text transform="translate(135 514.3) scale(1 1.03)" font-size="9.3" text-anchor="middle" font-weight="bold" font-family='"Liberation Sans", sans-serif' class="sn">1/10</text>
<text transform="translate(162 514.3) scale(1 1.03)" font-size="9.3" text-anchor="middle" font-weight="bold" font-family='"Liberation Sans", sans-serif' class="sn">1/30</text>
<polyline points="54.2,502.4 81.2,500.91 108,500.41 135,499.41 162,500.41" fill="none" stroke="#262626" stroke-width="1.0"/>
<polyline points="54.2,502.4 81.2,501.4 108,500.41 135,497.92 162,499.91" fill="none" stroke="#262626" stroke-width="1.0"/>
<polyline points="54.2,502.4 81.2,501.4 108,501.6 135,501.9 162,501.9" fill="none" stroke="#262626" stroke-width="1.2"/>
<polyline points="54.2,502.4 81.2,497.92 108,496.13 135,500.91 162,501.4" fill="none" stroke="#262626" stroke-width="1.0"/>
<polyline points="54.2,502.4 81.2,424.79 108,415.24 135,425.78 162,427.28" fill="none" stroke="#262626" stroke-width="1.0"/>
<rect x="51.7" y="499.9" width="5" height="5" fill="#000"/>
<rect x="78.7" y="422.29" width="5" height="5" fill="#000"/>
<rect x="105.5" y="412.74" width="5" height="5" fill="#000"/>
<rect x="132.5" y="423.28" width="5" height="5" fill="#000"/>
<rect x="159.5" y="424.78" width="5" height="5" fill="#000"/>
<circle cx="54.2" cy="502.4" r="2.55" fill="#000"/>
<circle cx="81.2" cy="497.92" r="2.55" fill="#000"/>
<circle cx="108" cy="496.13" r="2.55" fill="#000"/>
<circle cx="135" cy="500.91" r="2.55" fill="#000"/>
<circle cx="162" cy="501.4" r="2.55" fill="#000"/>
<circle cx="54.2" cy="502.4" r="2.2" fill="#fff" stroke="#000" stroke-width="0.8"/>
<circle cx="81.2" cy="500.91" r="2.2" fill="#fff" stroke="#000" stroke-width="0.8"/>
<circle cx="108" cy="500.41" r="2.2" fill="#fff" stroke="#000" stroke-width="0.8"/>
<circle cx="135" cy="499.41" r="2.2" fill="#fff" stroke="#000" stroke-width="0.8"/>
<circle cx="162" cy="500.41" r="2.2" fill="#fff" stroke="#000" stroke-width="0.8"/>
<rect x="52.1" y="500.3" width="4.2" height="4.2" fill="#fff" stroke="#000" stroke-width="0.8"/>
<rect x="79.1" y="499.3" width="4.2" height="4.2" fill="#fff" stroke="#000" stroke-width="0.8"/>
<rect x="105.9" y="498.31" width="4.2" height="4.2" fill="#fff" stroke="#000" stroke-width="0.8"/>
<rect x="132.9" y="495.82" width="4.2" height="4.2" fill="#fff" stroke="#000" stroke-width="0.8"/>
<rect x="159.9" y="497.81" width="4.2" height="4.2" fill="#fff" stroke="#000" stroke-width="0.8"/>
<polygon points="54.2,499.7 51.6,504.3 56.8,504.3" fill="#000"/>
<polygon points="81.2,498.7 78.6,503.3 83.8,503.3" fill="#000"/>
<polygon points="108,498.9 105.4,503.5 110.6,503.5" fill="#000"/>
<polygon points="135,499.2 132.4,503.8 137.6,503.8" fill="#000"/>
<polygon points="162,499.2 159.4,503.8 164.6,503.8" fill="#000"/>
<path d="M197.2,412.2V501.8H332.4" stroke="#222" stroke-width="1" fill="none"/>
<path d="M195.2,501.8H197.2M195.2,481.9H197.2M195.2,462H197.2M195.2,442.1H197.2M195.2,422.2H197.2" stroke="#222" stroke-width="0.9"/>
<text transform="translate(194.6 506.3) scale(1 1.1)" font-size="9.3" text-anchor="end" font-weight="bold" font-family='"Liberation Sans", sans-serif' class="sn">0</text>
<text transform="translate(194.6 486.4) scale(1 1.1)" font-size="9.3" text-anchor="end" font-weight="bold" font-family='"Liberation Sans", sans-serif' class="sn">20</text>
<text transform="translate(194.6 466.5) scale(1 1.1)" font-size="9.3" text-anchor="end" font-weight="bold" font-family='"Liberation Sans", sans-serif' class="sn">40</text>
<text transform="translate(194.6 446.6) scale(1 1.1)" font-size="9.3" text-anchor="end" font-weight="bold" font-family='"Liberation Sans", sans-serif' class="sn">60</text>
<text transform="translate(194.6 426.7) scale(1 1.1)" font-size="9.3" text-anchor="end" font-weight="bold" font-family='"Liberation Sans", sans-serif' class="sn">80</text>
<text transform="translate(210.8 513.7) scale(1 1.03)" font-size="9.3" text-anchor="middle" font-weight="bold" font-family='"Liberation Sans", sans-serif' class="sn">1/0</text>
<text transform="translate(237.2 513.7) scale(1 1.03)" font-size="9.3" text-anchor="middle" font-weight="bold" font-family='"Liberation Sans", sans-serif' class="sn">1/1</text>
<text transform="translate(264.3 513.7) scale(1 1.03)" font-size="9.3" text-anchor="middle" font-weight="bold" font-family='"Liberation Sans", sans-serif' class="sn">1/3</text>
<text transform="translate(291.5 513.7) scale(1 1.03)" font-size="9.3" text-anchor="middle" font-weight="bold" font-family='"Liberation Sans", sans-serif' class="sn">1/10</text>
<text transform="translate(318.5 513.7) scale(1 1.03)" font-size="9.3" text-anchor="middle" font-weight="bold" font-family='"Liberation Sans", sans-serif' class="sn">1/30</text>
<polyline points="210.8,501.8 237.2,499.81 264.3,499.81 291.5,498.02 318.5,497.02" fill="none" stroke="#262626" stroke-width="1.0"/>
<polyline points="210.8,501.8 237.2,500.81 264.3,500.81 291.5,498.81 318.5,499.51" fill="none" stroke="#262626" stroke-width="1.0"/>
<polyline points="210.8,501.8 237.2,500.61 264.3,500.61 291.5,500.81 318.5,500.81" fill="none" stroke="#262626" stroke-width="1.2"/>
<polyline points="210.8,501.8 237.2,495.53 264.3,492.55 291.5,499.31 318.5,499.31" fill="none" stroke="#262626" stroke-width="1.0"/>
<polyline points="210.8,501.8 237.2,438.12 264.3,419.02 291.5,417.42 318.5,413.34" fill="none" stroke="#262626" stroke-width="1.0"/>
<rect x="208.3" y="499.3" width="5" height="5" fill="#000"/>
<rect x="234.7" y="435.62" width="5" height="5" fill="#000"/>
<rect x="261.8" y="416.52" width="5" height="5" fill="#000"/>
<rect x="289" y="414.92" width="5" height="5" fill="#000"/>
<rect x="316" y="410.84" width="5" height="5" fill="#000"/>
<circle cx="210.8" cy="501.8" r="2.55" fill="#000"/>
<circle cx="237.2" cy="495.53" r="2.55" fill="#000"/>
<circle cx="264.3" cy="492.55" r="2.55" fill="#000"/>
<circle cx="291.5" cy="499.31" r="2.55" fill="#000"/>
<circle cx="318.5" cy="499.31" r="2.55" fill="#000"/>
<circle cx="210.8" cy="501.8" r="2.2" fill="#fff" stroke="#000" stroke-width="0.8"/>
<circle cx="237.2" cy="499.81" r="2.2" fill="#fff" stroke="#000" stroke-width="0.8"/>
<circle cx="264.3" cy="499.81" r="2.2" fill="#fff" stroke="#000" stroke-width="0.8"/>
<circle cx="291.5" cy="498.02" r="2.2" fill="#fff" stroke="#000" stroke-width="0.8"/>
<circle cx="318.5" cy="497.02" r="2.2" fill="#fff" stroke="#000" stroke-width="0.8"/>
<rect x="208.7" y="499.7" width="4.2" height="4.2" fill="#fff" stroke="#000" stroke-width="0.8"/>
<rect x="235.1" y="498.7" width="4.2" height="4.2" fill="#fff" stroke="#000" stroke-width="0.8"/>
<rect x="262.2" y="498.7" width="4.2" height="4.2" fill="#fff" stroke="#000" stroke-width="0.8"/>
<rect x="289.4" y="496.71" width="4.2" height="4.2" fill="#fff" stroke="#000" stroke-width="0.8"/>
<rect x="316.4" y="497.41" width="4.2" height="4.2" fill="#fff" stroke="#000" stroke-width="0.8"/>
<polygon points="210.8,499.1 208.2,503.7 213.4,503.7" fill="#000"/>
<polygon points="237.2,497.91 234.6,502.51 239.8,502.51" fill="#000"/>
<polygon points="264.3,497.91 261.7,502.51 266.9,502.51" fill="#000"/>
<polygon points="291.5,498.11 288.9,502.7 294.1,502.7" fill="#000"/>
<polygon points="318.5,498.11 315.9,502.7 321.1,502.7" fill="#000"/>
<path d="M384.5,412.4V502.3H519.5" stroke="#222" stroke-width="1" fill="none"/>
<path d="M382.5,502.3H384.5M382.5,480H384.5M382.5,457.7H384.5M382.5,435.4H384.5M382.5,413.1H384.5" stroke="#222" stroke-width="0.9"/>
<text transform="translate(381.9 506.8) scale(1 1.1)" font-size="9.3" text-anchor="end" font-weight="bold" font-family='"Liberation Sans", sans-serif' class="sn">0</text>
<text transform="translate(381.9 484.5) scale(1 1.1)" font-size="9.3" text-anchor="end" font-weight="bold" font-family='"Liberation Sans", sans-serif' class="sn">20</text>
<text transform="translate(381.9 462.2) scale(1 1.1)" font-size="9.3" text-anchor="end" font-weight="bold" font-family='"Liberation Sans", sans-serif' class="sn">40</text>
<text transform="translate(381.9 439.9) scale(1 1.1)" font-size="9.3" text-anchor="end" font-weight="bold" font-family='"Liberation Sans", sans-serif' class="sn">60</text>
<text transform="translate(381.9 417.6) scale(1 1.1)" font-size="9.3" text-anchor="end" font-weight="bold" font-family='"Liberation Sans", sans-serif' class="sn">80</text>
<text transform="translate(401.2 514.2) scale(1 1.03)" font-size="9.3" text-anchor="middle" font-weight="bold" font-family='"Liberation Sans", sans-serif' class="sn">1/0</text>
<text transform="translate(435 514.2) scale(1 1.03)" font-size="9.3" text-anchor="middle" font-weight="bold" font-family='"Liberation Sans", sans-serif' class="sn">1/1</text>
<text transform="translate(468.6 514.2) scale(1 1.03)" font-size="9.3" text-anchor="middle" font-weight="bold" font-family='"Liberation Sans", sans-serif' class="sn">1/3</text>
<text transform="translate(502.9 514.2) scale(1 1.03)" font-size="9.3" text-anchor="middle" font-weight="bold" font-family='"Liberation Sans", sans-serif' class="sn">1/10</text>
<polyline points="401.2,502.3 435,501.74 468.6,499.18 502.9,499.51" fill="none" stroke="#262626" stroke-width="1.0"/>
<polyline points="401.2,502.3 435,502.3 468.6,500.07 502.9,499.51" fill="none" stroke="#262626" stroke-width="1.0"/>
<polyline points="401.2,502.3 435,492.04 468.6,492.38 502.9,485.46" fill="none" stroke="#262626" stroke-width="1.0"/>
<polyline points="401.2,502.3 435,455.02 468.6,416 502.9,421.57" fill="none" stroke="#262626" stroke-width="1.0"/>
<rect x="398.7" y="499.8" width="5" height="5" fill="#000"/>
<rect x="432.5" y="452.52" width="5" height="5" fill="#000"/>
<rect x="466.1" y="413.5" width="5" height="5" fill="#000"/>
<rect x="500.4" y="419.07" width="5" height="5" fill="#000"/>
<circle cx="401.2" cy="502.3" r="2.55" fill="#000"/>
<circle cx="435" cy="492.04" r="2.55" fill="#000"/>
<circle cx="468.6" cy="492.38" r="2.55" fill="#000"/>
<circle cx="502.9" cy="485.46" r="2.55" fill="#000"/>
<circle cx="401.2" cy="502.3" r="2.2" fill="#fff" stroke="#000" stroke-width="0.8"/>
<circle cx="435" cy="501.74" r="2.2" fill="#fff" stroke="#000" stroke-width="0.8"/>
<circle cx="468.6" cy="499.18" r="2.2" fill="#fff" stroke="#000" stroke-width="0.8"/>
<circle cx="502.9" cy="499.51" r="2.2" fill="#fff" stroke="#000" stroke-width="0.8"/>
<rect x="399.1" y="500.2" width="4.2" height="4.2" fill="#fff" stroke="#000" stroke-width="0.8"/>
<rect x="432.9" y="500.2" width="4.2" height="4.2" fill="#fff" stroke="#000" stroke-width="0.8"/>
<rect x="466.5" y="497.97" width="4.2" height="4.2" fill="#fff" stroke="#000" stroke-width="0.8"/>
<rect x="500.8" y="497.41" width="4.2" height="4.2" fill="#fff" stroke="#000" stroke-width="0.8"/>
</svg>
</body></html>
